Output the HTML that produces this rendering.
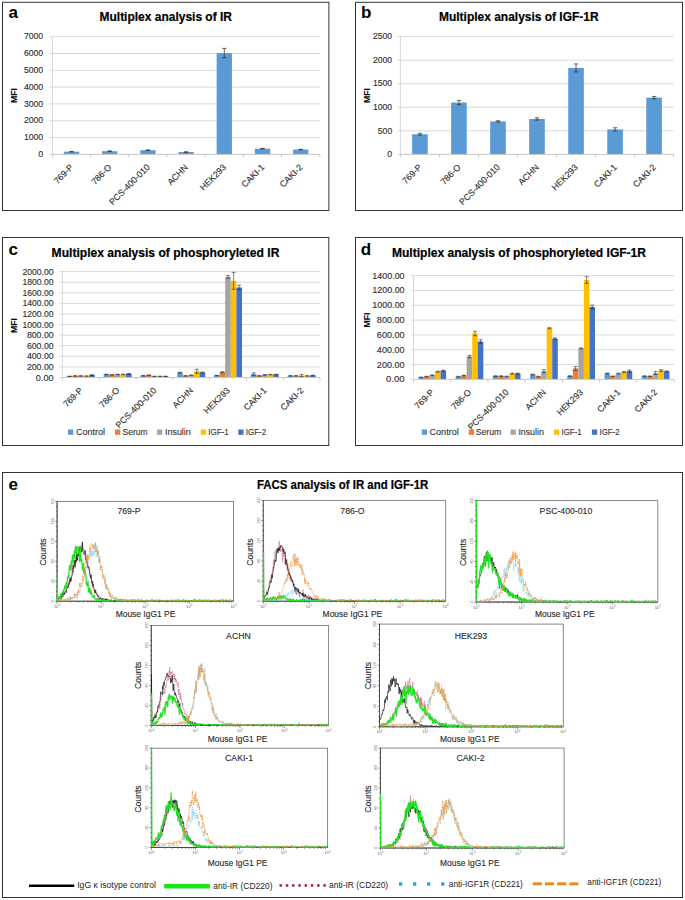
<!DOCTYPE html>
<html><head><meta charset="utf-8"><style>
html,body{margin:0;padding:0;background:#fff;}
body{width:685px;height:900px;overflow:hidden;font-family:"Liberation Sans", sans-serif;}
svg{display:block;}
</style></head><body>
<svg width="685" height="900" viewBox="0 0 685 900" style="font-family:&quot;Liberation Sans&quot;, sans-serif">
<rect x="0.00" y="0.00" width="685.00" height="900.00" fill="#fff"/>
<rect x="2.50" y="2.30" width="326.40" height="208.20" fill="none" stroke="#333" stroke-width="1.0"/>
<text x="8.50" y="18.00" font-size="17" font-weight="bold">a</text>
<text x="99.50" y="20.90" font-size="12" stroke="#000" stroke-width="0.2" font-weight="bold" textLength="132.50" lengthAdjust="spacingAndGlyphs">Multiplex analysis of IR</text>
<text x="14.20" y="95.60" font-size="8.7" font-weight="bold" text-anchor="middle" transform="rotate(-90 14.20 95.60)" dominant-baseline="central">MFI</text>
<line x1="49.40" y1="154.40" x2="52.40" y2="154.40" stroke="#d9d9d9" stroke-width="1"/>
<text x="43.20" y="157.15" font-size="9" stroke="#333" stroke-width="0.15" text-anchor="end" fill="#333" textLength="4.90" lengthAdjust="spacingAndGlyphs">0</text>
<line x1="49.40" y1="137.57" x2="319.80" y2="137.57" stroke="#d9d9d9" stroke-width="1"/>
<text x="43.20" y="140.32" font-size="9" stroke="#333" stroke-width="0.15" text-anchor="end" fill="#333" textLength="19.30" lengthAdjust="spacingAndGlyphs">1000</text>
<line x1="49.40" y1="120.74" x2="319.80" y2="120.74" stroke="#d9d9d9" stroke-width="1"/>
<text x="43.20" y="123.49" font-size="9" stroke="#333" stroke-width="0.15" text-anchor="end" fill="#333" textLength="19.30" lengthAdjust="spacingAndGlyphs">2000</text>
<line x1="49.40" y1="103.91" x2="319.80" y2="103.91" stroke="#d9d9d9" stroke-width="1"/>
<text x="43.20" y="106.66" font-size="9" stroke="#333" stroke-width="0.15" text-anchor="end" fill="#333" textLength="19.30" lengthAdjust="spacingAndGlyphs">3000</text>
<line x1="49.40" y1="87.09" x2="319.80" y2="87.09" stroke="#d9d9d9" stroke-width="1"/>
<text x="43.20" y="89.84" font-size="9" stroke="#333" stroke-width="0.15" text-anchor="end" fill="#333" textLength="19.30" lengthAdjust="spacingAndGlyphs">4000</text>
<line x1="49.40" y1="70.26" x2="319.80" y2="70.26" stroke="#d9d9d9" stroke-width="1"/>
<text x="43.20" y="73.01" font-size="9" stroke="#333" stroke-width="0.15" text-anchor="end" fill="#333" textLength="19.30" lengthAdjust="spacingAndGlyphs">5000</text>
<line x1="49.40" y1="53.43" x2="319.80" y2="53.43" stroke="#d9d9d9" stroke-width="1"/>
<text x="43.20" y="56.18" font-size="9" stroke="#333" stroke-width="0.15" text-anchor="end" fill="#333" textLength="19.30" lengthAdjust="spacingAndGlyphs">6000</text>
<line x1="49.40" y1="36.60" x2="319.80" y2="36.60" stroke="#d9d9d9" stroke-width="1"/>
<text x="43.20" y="39.35" font-size="9" stroke="#333" stroke-width="0.15" text-anchor="end" fill="#333" textLength="19.30" lengthAdjust="spacingAndGlyphs">7000</text>
<line x1="52.40" y1="36.60" x2="52.40" y2="154.40" stroke="#d9d9d9" stroke-width="1"/>
<rect x="63.85" y="151.71" width="15.30" height="2.69" fill="#5b9bd5"/>
<line x1="71.50" y1="151.46" x2="71.50" y2="151.96" stroke="#2a2a2a" stroke-width="0.7"/>
<line x1="69.30" y1="151.46" x2="73.70" y2="151.46" stroke="#2a2a2a" stroke-width="0.7"/>
<line x1="69.30" y1="151.96" x2="73.70" y2="151.96" stroke="#2a2a2a" stroke-width="0.7"/>
<rect x="102.05" y="151.20" width="15.30" height="3.20" fill="#5b9bd5"/>
<line x1="109.70" y1="150.95" x2="109.70" y2="151.46" stroke="#2a2a2a" stroke-width="0.7"/>
<line x1="107.50" y1="150.95" x2="111.90" y2="150.95" stroke="#2a2a2a" stroke-width="0.7"/>
<line x1="107.50" y1="151.46" x2="111.90" y2="151.46" stroke="#2a2a2a" stroke-width="0.7"/>
<rect x="140.25" y="150.19" width="15.30" height="4.21" fill="#5b9bd5"/>
<line x1="147.90" y1="149.94" x2="147.90" y2="150.45" stroke="#2a2a2a" stroke-width="0.7"/>
<line x1="145.70" y1="149.94" x2="150.10" y2="149.94" stroke="#2a2a2a" stroke-width="0.7"/>
<line x1="145.70" y1="150.45" x2="150.10" y2="150.45" stroke="#2a2a2a" stroke-width="0.7"/>
<rect x="178.45" y="152.04" width="15.30" height="2.36" fill="#5b9bd5"/>
<line x1="186.10" y1="151.79" x2="186.10" y2="152.30" stroke="#2a2a2a" stroke-width="0.7"/>
<line x1="183.90" y1="151.79" x2="188.30" y2="151.79" stroke="#2a2a2a" stroke-width="0.7"/>
<line x1="183.90" y1="152.30" x2="188.30" y2="152.30" stroke="#2a2a2a" stroke-width="0.7"/>
<rect x="216.65" y="53.09" width="15.30" height="101.31" fill="#5b9bd5"/>
<line x1="224.30" y1="48.38" x2="224.30" y2="57.80" stroke="#2a2a2a" stroke-width="0.7"/>
<line x1="222.10" y1="48.38" x2="226.50" y2="48.38" stroke="#2a2a2a" stroke-width="0.7"/>
<line x1="222.10" y1="57.80" x2="226.50" y2="57.80" stroke="#2a2a2a" stroke-width="0.7"/>
<rect x="254.85" y="148.68" width="15.30" height="5.72" fill="#5b9bd5"/>
<line x1="262.50" y1="148.34" x2="262.50" y2="149.01" stroke="#2a2a2a" stroke-width="0.7"/>
<line x1="260.30" y1="148.34" x2="264.70" y2="148.34" stroke="#2a2a2a" stroke-width="0.7"/>
<line x1="260.30" y1="149.01" x2="264.70" y2="149.01" stroke="#2a2a2a" stroke-width="0.7"/>
<rect x="293.05" y="149.52" width="15.30" height="4.88" fill="#5b9bd5"/>
<line x1="300.70" y1="149.27" x2="300.70" y2="149.77" stroke="#2a2a2a" stroke-width="0.7"/>
<line x1="298.50" y1="149.27" x2="302.90" y2="149.27" stroke="#2a2a2a" stroke-width="0.7"/>
<line x1="298.50" y1="149.77" x2="302.90" y2="149.77" stroke="#2a2a2a" stroke-width="0.7"/>
<line x1="52.40" y1="154.40" x2="319.80" y2="154.40" stroke="#c8c8c8" stroke-width="1"/>
<line x1="52.40" y1="154.40" x2="52.40" y2="157.40" stroke="#c8c8c8" stroke-width="1"/>
<line x1="90.60" y1="154.40" x2="90.60" y2="157.40" stroke="#c8c8c8" stroke-width="1"/>
<line x1="128.80" y1="154.40" x2="128.80" y2="157.40" stroke="#c8c8c8" stroke-width="1"/>
<line x1="167.00" y1="154.40" x2="167.00" y2="157.40" stroke="#c8c8c8" stroke-width="1"/>
<line x1="205.20" y1="154.40" x2="205.20" y2="157.40" stroke="#c8c8c8" stroke-width="1"/>
<line x1="243.40" y1="154.40" x2="243.40" y2="157.40" stroke="#c8c8c8" stroke-width="1"/>
<line x1="281.60" y1="154.40" x2="281.60" y2="157.40" stroke="#c8c8c8" stroke-width="1"/>
<line x1="319.80" y1="154.40" x2="319.80" y2="157.40" stroke="#c8c8c8" stroke-width="1"/>
<text x="74.00" y="167.90" font-size="8.8" stroke="#333" stroke-width="0.15" text-anchor="end" fill="#333" transform="rotate(-45 74.00 167.90)">769-P</text>
<text x="112.20" y="167.90" font-size="8.8" stroke="#333" stroke-width="0.15" text-anchor="end" fill="#333" transform="rotate(-45 112.20 167.90)">786-O</text>
<text x="150.40" y="167.90" font-size="8.8" stroke="#333" stroke-width="0.15" text-anchor="end" fill="#333" transform="rotate(-45 150.40 167.90)">PCS-400-010</text>
<text x="188.60" y="167.90" font-size="8.8" stroke="#333" stroke-width="0.15" text-anchor="end" fill="#333" transform="rotate(-45 188.60 167.90)">ACHN</text>
<text x="226.80" y="167.90" font-size="8.8" stroke="#333" stroke-width="0.15" text-anchor="end" fill="#333" transform="rotate(-45 226.80 167.90)">HEK293</text>
<text x="265.00" y="167.90" font-size="8.8" stroke="#333" stroke-width="0.15" text-anchor="end" fill="#333" transform="rotate(-45 265.00 167.90)">CAKI-1</text>
<text x="303.20" y="167.90" font-size="8.8" stroke="#333" stroke-width="0.15" text-anchor="end" fill="#333" transform="rotate(-45 303.20 167.90)">CAKI-2</text>
<rect x="355.50" y="2.30" width="327.00" height="208.20" fill="none" stroke="#333" stroke-width="1.0"/>
<text x="361.00" y="18.00" font-size="17" font-weight="bold">b</text>
<text x="439.00" y="20.90" font-size="12" stroke="#000" stroke-width="0.2" font-weight="bold" textLength="159.60" lengthAdjust="spacingAndGlyphs">Multiplex analysis of IGF-1R</text>
<text x="366.60" y="95.60" font-size="8.7" font-weight="bold" text-anchor="middle" transform="rotate(-90 366.60 95.60)" dominant-baseline="central">MFI</text>
<line x1="397.40" y1="154.40" x2="400.40" y2="154.40" stroke="#d9d9d9" stroke-width="1"/>
<text x="392.20" y="157.15" font-size="9" stroke="#333" stroke-width="0.15" text-anchor="end" fill="#333" textLength="4.90" lengthAdjust="spacingAndGlyphs">0</text>
<line x1="397.40" y1="130.84" x2="673.60" y2="130.84" stroke="#d9d9d9" stroke-width="1"/>
<text x="392.20" y="133.59" font-size="9" stroke="#333" stroke-width="0.15" text-anchor="end" fill="#333" textLength="14.40" lengthAdjust="spacingAndGlyphs">500</text>
<line x1="397.40" y1="107.28" x2="673.60" y2="107.28" stroke="#d9d9d9" stroke-width="1"/>
<text x="392.20" y="110.03" font-size="9" stroke="#333" stroke-width="0.15" text-anchor="end" fill="#333" textLength="19.30" lengthAdjust="spacingAndGlyphs">1000</text>
<line x1="397.40" y1="83.72" x2="673.60" y2="83.72" stroke="#d9d9d9" stroke-width="1"/>
<text x="392.20" y="86.47" font-size="9" stroke="#333" stroke-width="0.15" text-anchor="end" fill="#333" textLength="19.30" lengthAdjust="spacingAndGlyphs">1500</text>
<line x1="397.40" y1="60.16" x2="673.60" y2="60.16" stroke="#d9d9d9" stroke-width="1"/>
<text x="392.20" y="62.91" font-size="9" stroke="#333" stroke-width="0.15" text-anchor="end" fill="#333" textLength="19.30" lengthAdjust="spacingAndGlyphs">2000</text>
<line x1="397.40" y1="36.60" x2="673.60" y2="36.60" stroke="#d9d9d9" stroke-width="1"/>
<text x="392.20" y="39.35" font-size="9" stroke="#333" stroke-width="0.15" text-anchor="end" fill="#333" textLength="19.30" lengthAdjust="spacingAndGlyphs">2500</text>
<line x1="400.40" y1="36.60" x2="400.40" y2="154.40" stroke="#d9d9d9" stroke-width="1"/>
<rect x="412.11" y="134.23" width="15.60" height="20.17" fill="#5b9bd5"/>
<line x1="419.91" y1="133.29" x2="419.91" y2="135.18" stroke="#2a2a2a" stroke-width="0.7"/>
<line x1="417.71" y1="133.29" x2="422.11" y2="133.29" stroke="#2a2a2a" stroke-width="0.7"/>
<line x1="417.71" y1="135.18" x2="422.11" y2="135.18" stroke="#2a2a2a" stroke-width="0.7"/>
<rect x="451.14" y="102.57" width="15.60" height="51.83" fill="#5b9bd5"/>
<line x1="458.94" y1="100.45" x2="458.94" y2="104.69" stroke="#2a2a2a" stroke-width="0.7"/>
<line x1="456.74" y1="100.45" x2="461.14" y2="100.45" stroke="#2a2a2a" stroke-width="0.7"/>
<line x1="456.74" y1="104.69" x2="461.14" y2="104.69" stroke="#2a2a2a" stroke-width="0.7"/>
<rect x="490.17" y="121.42" width="15.60" height="32.98" fill="#5b9bd5"/>
<line x1="497.97" y1="120.71" x2="497.97" y2="122.12" stroke="#2a2a2a" stroke-width="0.7"/>
<line x1="495.77" y1="120.71" x2="500.17" y2="120.71" stroke="#2a2a2a" stroke-width="0.7"/>
<line x1="495.77" y1="122.12" x2="500.17" y2="122.12" stroke="#2a2a2a" stroke-width="0.7"/>
<rect x="529.20" y="118.97" width="15.60" height="35.43" fill="#5b9bd5"/>
<line x1="537.00" y1="117.79" x2="537.00" y2="120.14" stroke="#2a2a2a" stroke-width="0.7"/>
<line x1="534.80" y1="117.79" x2="539.20" y2="117.79" stroke="#2a2a2a" stroke-width="0.7"/>
<line x1="534.80" y1="120.14" x2="539.20" y2="120.14" stroke="#2a2a2a" stroke-width="0.7"/>
<rect x="568.23" y="67.93" width="15.60" height="86.47" fill="#5b9bd5"/>
<line x1="576.03" y1="63.93" x2="576.03" y2="71.94" stroke="#2a2a2a" stroke-width="0.7"/>
<line x1="573.83" y1="63.93" x2="578.23" y2="63.93" stroke="#2a2a2a" stroke-width="0.7"/>
<line x1="573.83" y1="71.94" x2="578.23" y2="71.94" stroke="#2a2a2a" stroke-width="0.7"/>
<rect x="607.26" y="129.43" width="15.60" height="24.97" fill="#5b9bd5"/>
<line x1="615.06" y1="127.78" x2="615.06" y2="131.08" stroke="#2a2a2a" stroke-width="0.7"/>
<line x1="612.86" y1="127.78" x2="617.26" y2="127.78" stroke="#2a2a2a" stroke-width="0.7"/>
<line x1="612.86" y1="131.08" x2="617.26" y2="131.08" stroke="#2a2a2a" stroke-width="0.7"/>
<rect x="646.29" y="97.62" width="15.60" height="56.78" fill="#5b9bd5"/>
<line x1="654.09" y1="96.44" x2="654.09" y2="98.80" stroke="#2a2a2a" stroke-width="0.7"/>
<line x1="651.89" y1="96.44" x2="656.29" y2="96.44" stroke="#2a2a2a" stroke-width="0.7"/>
<line x1="651.89" y1="98.80" x2="656.29" y2="98.80" stroke="#2a2a2a" stroke-width="0.7"/>
<line x1="400.40" y1="154.40" x2="673.60" y2="154.40" stroke="#c8c8c8" stroke-width="1"/>
<line x1="400.40" y1="154.40" x2="400.40" y2="157.40" stroke="#c8c8c8" stroke-width="1"/>
<line x1="439.43" y1="154.40" x2="439.43" y2="157.40" stroke="#c8c8c8" stroke-width="1"/>
<line x1="478.46" y1="154.40" x2="478.46" y2="157.40" stroke="#c8c8c8" stroke-width="1"/>
<line x1="517.49" y1="154.40" x2="517.49" y2="157.40" stroke="#c8c8c8" stroke-width="1"/>
<line x1="556.51" y1="154.40" x2="556.51" y2="157.40" stroke="#c8c8c8" stroke-width="1"/>
<line x1="595.54" y1="154.40" x2="595.54" y2="157.40" stroke="#c8c8c8" stroke-width="1"/>
<line x1="634.57" y1="154.40" x2="634.57" y2="157.40" stroke="#c8c8c8" stroke-width="1"/>
<line x1="673.60" y1="154.40" x2="673.60" y2="157.40" stroke="#c8c8c8" stroke-width="1"/>
<text x="422.41" y="167.90" font-size="8.8" stroke="#333" stroke-width="0.15" text-anchor="end" fill="#333" transform="rotate(-45 422.41 167.90)">769-P</text>
<text x="461.44" y="167.90" font-size="8.8" stroke="#333" stroke-width="0.15" text-anchor="end" fill="#333" transform="rotate(-45 461.44 167.90)">786-O</text>
<text x="500.47" y="167.90" font-size="8.8" stroke="#333" stroke-width="0.15" text-anchor="end" fill="#333" transform="rotate(-45 500.47 167.90)">PCS-400-010</text>
<text x="539.50" y="167.90" font-size="8.8" stroke="#333" stroke-width="0.15" text-anchor="end" fill="#333" transform="rotate(-45 539.50 167.90)">ACHN</text>
<text x="578.53" y="167.90" font-size="8.8" stroke="#333" stroke-width="0.15" text-anchor="end" fill="#333" transform="rotate(-45 578.53 167.90)">HEK293</text>
<text x="617.56" y="167.90" font-size="8.8" stroke="#333" stroke-width="0.15" text-anchor="end" fill="#333" transform="rotate(-45 617.56 167.90)">CAKI-1</text>
<text x="656.59" y="167.90" font-size="8.8" stroke="#333" stroke-width="0.15" text-anchor="end" fill="#333" transform="rotate(-45 656.59 167.90)">CAKI-2</text>
<rect x="2.50" y="237.50" width="326.30" height="208.00" fill="none" stroke="#333" stroke-width="1.0"/>
<text x="8.50" y="255.00" font-size="17" font-weight="bold">c</text>
<text x="51.60" y="256.60" font-size="12" stroke="#000" stroke-width="0.2" font-weight="bold" textLength="227.80" lengthAdjust="spacingAndGlyphs">Multiplex analysis of phosphoryleted IR</text>
<text x="14.20" y="325.60" font-size="8.7" font-weight="bold" text-anchor="middle" transform="rotate(-90 14.20 325.60)" dominant-baseline="central">MFI</text>
<line x1="59.40" y1="377.50" x2="62.40" y2="377.50" stroke="#d9d9d9" stroke-width="1"/>
<text x="53.60" y="380.50" font-size="8.8" stroke="#333" stroke-width="0.15" text-anchor="end" fill="#333" textLength="17.78" lengthAdjust="spacingAndGlyphs">0.00</text>
<line x1="59.40" y1="366.91" x2="320.00" y2="366.91" stroke="#d9d9d9" stroke-width="1"/>
<text x="53.60" y="369.91" font-size="8.8" stroke="#333" stroke-width="0.15" text-anchor="end" fill="#333" textLength="26.72" lengthAdjust="spacingAndGlyphs">200.00</text>
<line x1="59.40" y1="356.32" x2="320.00" y2="356.32" stroke="#d9d9d9" stroke-width="1"/>
<text x="53.60" y="359.32" font-size="8.8" stroke="#333" stroke-width="0.15" text-anchor="end" fill="#333" textLength="26.72" lengthAdjust="spacingAndGlyphs">400.00</text>
<line x1="59.40" y1="345.73" x2="320.00" y2="345.73" stroke="#d9d9d9" stroke-width="1"/>
<text x="53.60" y="348.73" font-size="8.8" stroke="#333" stroke-width="0.15" text-anchor="end" fill="#333" textLength="26.72" lengthAdjust="spacingAndGlyphs">600.00</text>
<line x1="59.40" y1="335.14" x2="320.00" y2="335.14" stroke="#d9d9d9" stroke-width="1"/>
<text x="53.60" y="338.14" font-size="8.8" stroke="#333" stroke-width="0.15" text-anchor="end" fill="#333" textLength="26.72" lengthAdjust="spacingAndGlyphs">800.00</text>
<line x1="59.40" y1="324.55" x2="320.00" y2="324.55" stroke="#d9d9d9" stroke-width="1"/>
<text x="53.60" y="327.55" font-size="8.8" stroke="#333" stroke-width="0.15" text-anchor="end" fill="#333" textLength="31.19" lengthAdjust="spacingAndGlyphs">1000.00</text>
<line x1="59.40" y1="313.96" x2="320.00" y2="313.96" stroke="#d9d9d9" stroke-width="1"/>
<text x="53.60" y="316.96" font-size="8.8" stroke="#333" stroke-width="0.15" text-anchor="end" fill="#333" textLength="31.19" lengthAdjust="spacingAndGlyphs">1200.00</text>
<line x1="59.40" y1="303.37" x2="320.00" y2="303.37" stroke="#d9d9d9" stroke-width="1"/>
<text x="53.60" y="306.37" font-size="8.8" stroke="#333" stroke-width="0.15" text-anchor="end" fill="#333" textLength="31.19" lengthAdjust="spacingAndGlyphs">1400.00</text>
<line x1="59.40" y1="292.78" x2="320.00" y2="292.78" stroke="#d9d9d9" stroke-width="1"/>
<text x="53.60" y="295.78" font-size="8.8" stroke="#333" stroke-width="0.15" text-anchor="end" fill="#333" textLength="31.19" lengthAdjust="spacingAndGlyphs">1600.00</text>
<line x1="59.40" y1="282.19" x2="320.00" y2="282.19" stroke="#d9d9d9" stroke-width="1"/>
<text x="53.60" y="285.19" font-size="8.8" stroke="#333" stroke-width="0.15" text-anchor="end" fill="#333" textLength="31.19" lengthAdjust="spacingAndGlyphs">1800.00</text>
<line x1="59.40" y1="271.60" x2="320.00" y2="271.60" stroke="#d9d9d9" stroke-width="1"/>
<text x="53.60" y="274.60" font-size="8.8" stroke="#333" stroke-width="0.15" text-anchor="end" fill="#333" textLength="31.19" lengthAdjust="spacingAndGlyphs">2000.00</text>
<line x1="62.40" y1="271.60" x2="62.40" y2="377.50" stroke="#d9d9d9" stroke-width="1"/>
<rect x="66.80" y="376.34" width="5.60" height="1.16" fill="#5b9bd5"/>
<line x1="69.60" y1="376.18" x2="69.60" y2="376.49" stroke="#2a2a2a" stroke-width="0.6"/>
<line x1="67.60" y1="376.18" x2="71.60" y2="376.18" stroke="#2a2a2a" stroke-width="0.6"/>
<line x1="67.60" y1="376.49" x2="71.60" y2="376.49" stroke="#2a2a2a" stroke-width="0.6"/>
<rect x="72.40" y="375.91" width="5.60" height="1.59" fill="#ed7d31"/>
<line x1="75.20" y1="375.75" x2="75.20" y2="376.07" stroke="#2a2a2a" stroke-width="0.6"/>
<line x1="73.20" y1="375.75" x2="77.20" y2="375.75" stroke="#2a2a2a" stroke-width="0.6"/>
<line x1="73.20" y1="376.07" x2="77.20" y2="376.07" stroke="#2a2a2a" stroke-width="0.6"/>
<rect x="78.00" y="375.91" width="5.60" height="1.59" fill="#a5a5a5"/>
<line x1="80.80" y1="375.75" x2="80.80" y2="376.07" stroke="#2a2a2a" stroke-width="0.6"/>
<line x1="78.80" y1="375.75" x2="82.80" y2="375.75" stroke="#2a2a2a" stroke-width="0.6"/>
<line x1="78.80" y1="376.07" x2="82.80" y2="376.07" stroke="#2a2a2a" stroke-width="0.6"/>
<rect x="83.60" y="376.07" width="5.60" height="1.43" fill="#ffc000"/>
<line x1="86.40" y1="375.91" x2="86.40" y2="376.23" stroke="#2a2a2a" stroke-width="0.6"/>
<line x1="84.40" y1="375.91" x2="88.40" y2="375.91" stroke="#2a2a2a" stroke-width="0.6"/>
<line x1="84.40" y1="376.23" x2="88.40" y2="376.23" stroke="#2a2a2a" stroke-width="0.6"/>
<rect x="89.20" y="375.12" width="5.60" height="2.38" fill="#4472c4"/>
<line x1="92.00" y1="374.69" x2="92.00" y2="375.54" stroke="#2a2a2a" stroke-width="0.6"/>
<line x1="90.00" y1="374.69" x2="94.00" y2="374.69" stroke="#2a2a2a" stroke-width="0.6"/>
<line x1="90.00" y1="375.54" x2="94.00" y2="375.54" stroke="#2a2a2a" stroke-width="0.6"/>
<rect x="103.60" y="374.43" width="5.60" height="3.07" fill="#5b9bd5"/>
<line x1="106.40" y1="374.16" x2="106.40" y2="374.69" stroke="#2a2a2a" stroke-width="0.6"/>
<line x1="104.40" y1="374.16" x2="108.40" y2="374.16" stroke="#2a2a2a" stroke-width="0.6"/>
<line x1="104.40" y1="374.69" x2="108.40" y2="374.69" stroke="#2a2a2a" stroke-width="0.6"/>
<rect x="109.20" y="374.85" width="5.60" height="2.65" fill="#ed7d31"/>
<line x1="112.00" y1="374.59" x2="112.00" y2="375.12" stroke="#2a2a2a" stroke-width="0.6"/>
<line x1="110.00" y1="374.59" x2="114.00" y2="374.59" stroke="#2a2a2a" stroke-width="0.6"/>
<line x1="110.00" y1="375.12" x2="114.00" y2="375.12" stroke="#2a2a2a" stroke-width="0.6"/>
<rect x="114.80" y="374.43" width="5.60" height="3.07" fill="#a5a5a5"/>
<line x1="117.60" y1="374.16" x2="117.60" y2="374.69" stroke="#2a2a2a" stroke-width="0.6"/>
<line x1="115.60" y1="374.16" x2="119.60" y2="374.16" stroke="#2a2a2a" stroke-width="0.6"/>
<line x1="115.60" y1="374.69" x2="119.60" y2="374.69" stroke="#2a2a2a" stroke-width="0.6"/>
<rect x="120.40" y="374.43" width="5.60" height="3.07" fill="#ffc000"/>
<line x1="123.20" y1="374.16" x2="123.20" y2="374.69" stroke="#2a2a2a" stroke-width="0.6"/>
<line x1="121.20" y1="374.16" x2="125.20" y2="374.16" stroke="#2a2a2a" stroke-width="0.6"/>
<line x1="121.20" y1="374.69" x2="125.20" y2="374.69" stroke="#2a2a2a" stroke-width="0.6"/>
<rect x="126.00" y="373.79" width="5.60" height="3.71" fill="#4472c4"/>
<line x1="128.80" y1="373.53" x2="128.80" y2="374.06" stroke="#2a2a2a" stroke-width="0.6"/>
<line x1="126.80" y1="373.53" x2="130.80" y2="373.53" stroke="#2a2a2a" stroke-width="0.6"/>
<line x1="126.80" y1="374.06" x2="130.80" y2="374.06" stroke="#2a2a2a" stroke-width="0.6"/>
<rect x="140.40" y="375.75" width="5.60" height="1.75" fill="#5b9bd5"/>
<line x1="143.20" y1="375.59" x2="143.20" y2="375.91" stroke="#2a2a2a" stroke-width="0.6"/>
<line x1="141.20" y1="375.59" x2="145.20" y2="375.59" stroke="#2a2a2a" stroke-width="0.6"/>
<line x1="141.20" y1="375.91" x2="145.20" y2="375.91" stroke="#2a2a2a" stroke-width="0.6"/>
<rect x="146.00" y="375.12" width="5.60" height="2.38" fill="#ed7d31"/>
<line x1="148.80" y1="374.96" x2="148.80" y2="375.28" stroke="#2a2a2a" stroke-width="0.6"/>
<line x1="146.80" y1="374.96" x2="150.80" y2="374.96" stroke="#2a2a2a" stroke-width="0.6"/>
<line x1="146.80" y1="375.28" x2="150.80" y2="375.28" stroke="#2a2a2a" stroke-width="0.6"/>
<rect x="151.60" y="376.34" width="5.60" height="1.16" fill="#a5a5a5"/>
<line x1="154.40" y1="376.23" x2="154.40" y2="376.44" stroke="#2a2a2a" stroke-width="0.6"/>
<line x1="152.40" y1="376.23" x2="156.40" y2="376.23" stroke="#2a2a2a" stroke-width="0.6"/>
<line x1="152.40" y1="376.44" x2="156.40" y2="376.44" stroke="#2a2a2a" stroke-width="0.6"/>
<rect x="157.20" y="376.34" width="5.60" height="1.16" fill="#ffc000"/>
<line x1="160.00" y1="376.23" x2="160.00" y2="376.44" stroke="#2a2a2a" stroke-width="0.6"/>
<line x1="158.00" y1="376.23" x2="162.00" y2="376.23" stroke="#2a2a2a" stroke-width="0.6"/>
<line x1="158.00" y1="376.44" x2="162.00" y2="376.44" stroke="#2a2a2a" stroke-width="0.6"/>
<rect x="162.80" y="376.34" width="5.60" height="1.16" fill="#4472c4"/>
<line x1="165.60" y1="376.23" x2="165.60" y2="376.44" stroke="#2a2a2a" stroke-width="0.6"/>
<line x1="163.60" y1="376.23" x2="167.60" y2="376.23" stroke="#2a2a2a" stroke-width="0.6"/>
<line x1="163.60" y1="376.44" x2="167.60" y2="376.44" stroke="#2a2a2a" stroke-width="0.6"/>
<rect x="177.20" y="372.63" width="5.60" height="4.87" fill="#5b9bd5"/>
<line x1="180.00" y1="372.20" x2="180.00" y2="373.05" stroke="#2a2a2a" stroke-width="0.6"/>
<line x1="178.00" y1="372.20" x2="182.00" y2="372.20" stroke="#2a2a2a" stroke-width="0.6"/>
<line x1="178.00" y1="373.05" x2="182.00" y2="373.05" stroke="#2a2a2a" stroke-width="0.6"/>
<rect x="182.80" y="375.81" width="5.60" height="1.69" fill="#ed7d31"/>
<line x1="185.60" y1="375.65" x2="185.60" y2="375.96" stroke="#2a2a2a" stroke-width="0.6"/>
<line x1="183.60" y1="375.65" x2="187.60" y2="375.65" stroke="#2a2a2a" stroke-width="0.6"/>
<line x1="183.60" y1="375.96" x2="187.60" y2="375.96" stroke="#2a2a2a" stroke-width="0.6"/>
<rect x="188.40" y="375.22" width="5.60" height="2.28" fill="#a5a5a5"/>
<line x1="191.20" y1="375.06" x2="191.20" y2="375.38" stroke="#2a2a2a" stroke-width="0.6"/>
<line x1="189.20" y1="375.06" x2="193.20" y2="375.06" stroke="#2a2a2a" stroke-width="0.6"/>
<line x1="189.20" y1="375.38" x2="193.20" y2="375.38" stroke="#2a2a2a" stroke-width="0.6"/>
<rect x="194.00" y="371.25" width="5.60" height="6.25" fill="#ffc000"/>
<line x1="196.80" y1="369.24" x2="196.80" y2="373.26" stroke="#2a2a2a" stroke-width="0.6"/>
<line x1="194.80" y1="369.24" x2="198.80" y2="369.24" stroke="#2a2a2a" stroke-width="0.6"/>
<line x1="194.80" y1="373.26" x2="198.80" y2="373.26" stroke="#2a2a2a" stroke-width="0.6"/>
<rect x="199.60" y="372.47" width="5.60" height="5.03" fill="#4472c4"/>
<line x1="202.40" y1="372.05" x2="202.40" y2="372.89" stroke="#2a2a2a" stroke-width="0.6"/>
<line x1="200.40" y1="372.05" x2="204.40" y2="372.05" stroke="#2a2a2a" stroke-width="0.6"/>
<line x1="200.40" y1="372.89" x2="204.40" y2="372.89" stroke="#2a2a2a" stroke-width="0.6"/>
<rect x="214.00" y="375.49" width="5.60" height="2.01" fill="#5b9bd5"/>
<line x1="216.80" y1="375.33" x2="216.80" y2="375.65" stroke="#2a2a2a" stroke-width="0.6"/>
<line x1="214.80" y1="375.33" x2="218.80" y2="375.33" stroke="#2a2a2a" stroke-width="0.6"/>
<line x1="214.80" y1="375.65" x2="218.80" y2="375.65" stroke="#2a2a2a" stroke-width="0.6"/>
<rect x="219.60" y="372.20" width="5.60" height="5.29" fill="#ed7d31"/>
<line x1="222.40" y1="371.68" x2="222.40" y2="372.73" stroke="#2a2a2a" stroke-width="0.6"/>
<line x1="220.40" y1="371.68" x2="224.40" y2="371.68" stroke="#2a2a2a" stroke-width="0.6"/>
<line x1="220.40" y1="372.73" x2="224.40" y2="372.73" stroke="#2a2a2a" stroke-width="0.6"/>
<rect x="225.20" y="276.90" width="5.60" height="100.60" fill="#a5a5a5"/>
<line x1="228.00" y1="275.57" x2="228.00" y2="278.22" stroke="#2a2a2a" stroke-width="0.6"/>
<line x1="226.00" y1="275.57" x2="230.00" y2="275.57" stroke="#2a2a2a" stroke-width="0.6"/>
<line x1="226.00" y1="278.22" x2="230.00" y2="278.22" stroke="#2a2a2a" stroke-width="0.6"/>
<rect x="230.80" y="280.87" width="5.60" height="96.63" fill="#ffc000"/>
<line x1="233.60" y1="272.39" x2="233.60" y2="289.34" stroke="#2a2a2a" stroke-width="0.6"/>
<line x1="231.60" y1="272.39" x2="235.60" y2="272.39" stroke="#2a2a2a" stroke-width="0.6"/>
<line x1="231.60" y1="289.34" x2="235.60" y2="289.34" stroke="#2a2a2a" stroke-width="0.6"/>
<rect x="236.40" y="287.49" width="5.60" height="90.01" fill="#4472c4"/>
<line x1="239.20" y1="285.10" x2="239.20" y2="289.87" stroke="#2a2a2a" stroke-width="0.6"/>
<line x1="237.20" y1="285.10" x2="241.20" y2="285.10" stroke="#2a2a2a" stroke-width="0.6"/>
<line x1="237.20" y1="289.87" x2="241.20" y2="289.87" stroke="#2a2a2a" stroke-width="0.6"/>
<rect x="250.80" y="374.22" width="5.60" height="3.28" fill="#5b9bd5"/>
<line x1="253.60" y1="372.89" x2="253.60" y2="375.54" stroke="#2a2a2a" stroke-width="0.6"/>
<line x1="251.60" y1="372.89" x2="255.60" y2="372.89" stroke="#2a2a2a" stroke-width="0.6"/>
<line x1="251.60" y1="375.54" x2="255.60" y2="375.54" stroke="#2a2a2a" stroke-width="0.6"/>
<rect x="256.40" y="375.81" width="5.60" height="1.69" fill="#ed7d31"/>
<line x1="259.20" y1="375.65" x2="259.20" y2="375.96" stroke="#2a2a2a" stroke-width="0.6"/>
<line x1="257.20" y1="375.65" x2="261.20" y2="375.65" stroke="#2a2a2a" stroke-width="0.6"/>
<line x1="257.20" y1="375.96" x2="261.20" y2="375.96" stroke="#2a2a2a" stroke-width="0.6"/>
<rect x="262.00" y="374.91" width="5.60" height="2.59" fill="#a5a5a5"/>
<line x1="264.80" y1="374.59" x2="264.80" y2="375.22" stroke="#2a2a2a" stroke-width="0.6"/>
<line x1="262.80" y1="374.59" x2="266.80" y2="374.59" stroke="#2a2a2a" stroke-width="0.6"/>
<line x1="262.80" y1="375.22" x2="266.80" y2="375.22" stroke="#2a2a2a" stroke-width="0.6"/>
<rect x="267.60" y="374.59" width="5.60" height="2.91" fill="#ffc000"/>
<line x1="270.40" y1="374.38" x2="270.40" y2="374.80" stroke="#2a2a2a" stroke-width="0.6"/>
<line x1="268.40" y1="374.38" x2="272.40" y2="374.38" stroke="#2a2a2a" stroke-width="0.6"/>
<line x1="268.40" y1="374.80" x2="272.40" y2="374.80" stroke="#2a2a2a" stroke-width="0.6"/>
<rect x="273.20" y="374.48" width="5.60" height="3.02" fill="#4472c4"/>
<line x1="276.00" y1="374.27" x2="276.00" y2="374.69" stroke="#2a2a2a" stroke-width="0.6"/>
<line x1="274.00" y1="374.27" x2="278.00" y2="374.27" stroke="#2a2a2a" stroke-width="0.6"/>
<line x1="274.00" y1="374.69" x2="278.00" y2="374.69" stroke="#2a2a2a" stroke-width="0.6"/>
<rect x="287.60" y="375.81" width="5.60" height="1.69" fill="#5b9bd5"/>
<line x1="290.40" y1="375.65" x2="290.40" y2="375.96" stroke="#2a2a2a" stroke-width="0.6"/>
<line x1="288.40" y1="375.65" x2="292.40" y2="375.65" stroke="#2a2a2a" stroke-width="0.6"/>
<line x1="288.40" y1="375.96" x2="292.40" y2="375.96" stroke="#2a2a2a" stroke-width="0.6"/>
<rect x="293.20" y="375.81" width="5.60" height="1.69" fill="#ed7d31"/>
<line x1="296.00" y1="375.65" x2="296.00" y2="375.96" stroke="#2a2a2a" stroke-width="0.6"/>
<line x1="294.00" y1="375.65" x2="298.00" y2="375.65" stroke="#2a2a2a" stroke-width="0.6"/>
<line x1="294.00" y1="375.96" x2="298.00" y2="375.96" stroke="#2a2a2a" stroke-width="0.6"/>
<rect x="298.80" y="375.59" width="5.60" height="1.91" fill="#a5a5a5"/>
<line x1="301.60" y1="374.43" x2="301.60" y2="376.76" stroke="#2a2a2a" stroke-width="0.6"/>
<line x1="299.60" y1="374.43" x2="303.60" y2="374.43" stroke="#2a2a2a" stroke-width="0.6"/>
<line x1="299.60" y1="376.76" x2="303.60" y2="376.76" stroke="#2a2a2a" stroke-width="0.6"/>
<rect x="304.40" y="375.91" width="5.60" height="1.59" fill="#ffc000"/>
<line x1="307.20" y1="375.75" x2="307.20" y2="376.07" stroke="#2a2a2a" stroke-width="0.6"/>
<line x1="305.20" y1="375.75" x2="309.20" y2="375.75" stroke="#2a2a2a" stroke-width="0.6"/>
<line x1="305.20" y1="376.07" x2="309.20" y2="376.07" stroke="#2a2a2a" stroke-width="0.6"/>
<rect x="310.00" y="375.49" width="5.60" height="2.01" fill="#4472c4"/>
<line x1="312.80" y1="375.22" x2="312.80" y2="375.75" stroke="#2a2a2a" stroke-width="0.6"/>
<line x1="310.80" y1="375.22" x2="314.80" y2="375.22" stroke="#2a2a2a" stroke-width="0.6"/>
<line x1="310.80" y1="375.75" x2="314.80" y2="375.75" stroke="#2a2a2a" stroke-width="0.6"/>
<line x1="62.40" y1="377.50" x2="320.00" y2="377.50" stroke="#c8c8c8" stroke-width="1"/>
<line x1="62.40" y1="377.50" x2="62.40" y2="380.50" stroke="#c8c8c8" stroke-width="1"/>
<line x1="99.20" y1="377.50" x2="99.20" y2="380.50" stroke="#c8c8c8" stroke-width="1"/>
<line x1="136.00" y1="377.50" x2="136.00" y2="380.50" stroke="#c8c8c8" stroke-width="1"/>
<line x1="172.80" y1="377.50" x2="172.80" y2="380.50" stroke="#c8c8c8" stroke-width="1"/>
<line x1="209.60" y1="377.50" x2="209.60" y2="380.50" stroke="#c8c8c8" stroke-width="1"/>
<line x1="246.40" y1="377.50" x2="246.40" y2="380.50" stroke="#c8c8c8" stroke-width="1"/>
<line x1="283.20" y1="377.50" x2="283.20" y2="380.50" stroke="#c8c8c8" stroke-width="1"/>
<line x1="320.00" y1="377.50" x2="320.00" y2="380.50" stroke="#c8c8c8" stroke-width="1"/>
<text x="83.30" y="391.00" font-size="8.8" stroke="#333" stroke-width="0.15" text-anchor="end" fill="#333" transform="rotate(-45 83.30 391.00)">769-P</text>
<text x="120.10" y="391.00" font-size="8.8" stroke="#333" stroke-width="0.15" text-anchor="end" fill="#333" transform="rotate(-45 120.10 391.00)">786-O</text>
<text x="156.90" y="391.00" font-size="8.8" stroke="#333" stroke-width="0.15" text-anchor="end" fill="#333" transform="rotate(-45 156.90 391.00)">PCS-400-010</text>
<text x="193.70" y="391.00" font-size="8.8" stroke="#333" stroke-width="0.15" text-anchor="end" fill="#333" transform="rotate(-45 193.70 391.00)">ACHN</text>
<text x="230.50" y="391.00" font-size="8.8" stroke="#333" stroke-width="0.15" text-anchor="end" fill="#333" transform="rotate(-45 230.50 391.00)">HEK293</text>
<text x="267.30" y="391.00" font-size="8.8" stroke="#333" stroke-width="0.15" text-anchor="end" fill="#333" transform="rotate(-45 267.30 391.00)">CAKI-1</text>
<text x="304.10" y="391.00" font-size="8.8" stroke="#333" stroke-width="0.15" text-anchor="end" fill="#333" transform="rotate(-45 304.10 391.00)">CAKI-2</text>
<rect x="68.00" y="429.50" width="5.30" height="5.30" fill="#5b9bd5"/>
<text x="76.00" y="435.20" font-size="9" stroke="#333" stroke-width="0.12" fill="#333" textLength="29.00" lengthAdjust="spacingAndGlyphs">Control</text>
<rect x="115.00" y="429.50" width="5.30" height="5.30" fill="#ed7d31"/>
<text x="122.50" y="435.20" font-size="9" stroke="#333" stroke-width="0.12" fill="#333" textLength="25.00" lengthAdjust="spacingAndGlyphs">Serum</text>
<rect x="157.00" y="429.50" width="5.30" height="5.30" fill="#a5a5a5"/>
<text x="165.00" y="435.20" font-size="9" stroke="#333" stroke-width="0.12" fill="#333" textLength="25.75" lengthAdjust="spacingAndGlyphs">Insulin</text>
<rect x="200.75" y="429.50" width="5.30" height="5.30" fill="#ffc000"/>
<text x="208.25" y="435.20" font-size="9" stroke="#333" stroke-width="0.12" fill="#333" textLength="20.50" lengthAdjust="spacingAndGlyphs">IGF-1</text>
<rect x="238.25" y="429.50" width="5.30" height="5.30" fill="#4472c4"/>
<text x="245.75" y="435.20" font-size="9" stroke="#333" stroke-width="0.12" fill="#333" textLength="20.50" lengthAdjust="spacingAndGlyphs">IGF-2</text>
<rect x="355.50" y="237.50" width="327.00" height="208.00" fill="none" stroke="#333" stroke-width="1.0"/>
<text x="360.70" y="255.00" font-size="17" font-weight="bold">d</text>
<text x="392.00" y="256.60" font-size="12" stroke="#000" stroke-width="0.2" font-weight="bold" textLength="254.00" lengthAdjust="spacingAndGlyphs">Multiplex analysis of phosphoryleted IGF-1R</text>
<text x="366.60" y="320.00" font-size="8.7" font-weight="bold" text-anchor="middle" transform="rotate(-90 366.60 320.00)" dominant-baseline="central">MFI</text>
<line x1="410.60" y1="379.40" x2="413.60" y2="379.40" stroke="#d9d9d9" stroke-width="1"/>
<text x="404.60" y="382.40" font-size="8.8" stroke="#333" stroke-width="0.15" text-anchor="end" fill="#333" textLength="18.46" lengthAdjust="spacingAndGlyphs">0.00</text>
<line x1="410.60" y1="364.57" x2="674.20" y2="364.57" stroke="#d9d9d9" stroke-width="1"/>
<text x="404.60" y="367.57" font-size="8.8" stroke="#333" stroke-width="0.15" text-anchor="end" fill="#333" textLength="27.74" lengthAdjust="spacingAndGlyphs">200.00</text>
<line x1="410.60" y1="349.74" x2="674.20" y2="349.74" stroke="#d9d9d9" stroke-width="1"/>
<text x="404.60" y="352.74" font-size="8.8" stroke="#333" stroke-width="0.15" text-anchor="end" fill="#333" textLength="27.74" lengthAdjust="spacingAndGlyphs">400.00</text>
<line x1="410.60" y1="334.91" x2="674.20" y2="334.91" stroke="#d9d9d9" stroke-width="1"/>
<text x="404.60" y="337.91" font-size="8.8" stroke="#333" stroke-width="0.15" text-anchor="end" fill="#333" textLength="27.74" lengthAdjust="spacingAndGlyphs">600.00</text>
<line x1="410.60" y1="320.09" x2="674.20" y2="320.09" stroke="#d9d9d9" stroke-width="1"/>
<text x="404.60" y="323.09" font-size="8.8" stroke="#333" stroke-width="0.15" text-anchor="end" fill="#333" textLength="27.74" lengthAdjust="spacingAndGlyphs">800.00</text>
<line x1="410.60" y1="305.26" x2="674.20" y2="305.26" stroke="#d9d9d9" stroke-width="1"/>
<text x="404.60" y="308.26" font-size="8.8" stroke="#333" stroke-width="0.15" text-anchor="end" fill="#333" textLength="32.38" lengthAdjust="spacingAndGlyphs">1000.00</text>
<line x1="410.60" y1="290.43" x2="674.20" y2="290.43" stroke="#d9d9d9" stroke-width="1"/>
<text x="404.60" y="293.43" font-size="8.8" stroke="#333" stroke-width="0.15" text-anchor="end" fill="#333" textLength="32.38" lengthAdjust="spacingAndGlyphs">1200.00</text>
<line x1="410.60" y1="275.60" x2="674.20" y2="275.60" stroke="#d9d9d9" stroke-width="1"/>
<text x="404.60" y="278.60" font-size="8.8" stroke="#333" stroke-width="0.15" text-anchor="end" fill="#333" textLength="32.38" lengthAdjust="spacingAndGlyphs">1400.00</text>
<line x1="413.60" y1="275.60" x2="413.60" y2="379.40" stroke="#d9d9d9" stroke-width="1"/>
<rect x="418.34" y="377.32" width="5.55" height="2.08" fill="#5b9bd5"/>
<line x1="421.11" y1="377.10" x2="421.11" y2="377.55" stroke="#2a2a2a" stroke-width="0.6"/>
<line x1="419.11" y1="377.10" x2="423.11" y2="377.10" stroke="#2a2a2a" stroke-width="0.6"/>
<line x1="419.11" y1="377.55" x2="423.11" y2="377.55" stroke="#2a2a2a" stroke-width="0.6"/>
<rect x="423.89" y="376.51" width="5.55" height="2.89" fill="#ed7d31"/>
<line x1="426.66" y1="376.29" x2="426.66" y2="376.73" stroke="#2a2a2a" stroke-width="0.6"/>
<line x1="424.66" y1="376.29" x2="428.66" y2="376.29" stroke="#2a2a2a" stroke-width="0.6"/>
<line x1="424.66" y1="376.73" x2="428.66" y2="376.73" stroke="#2a2a2a" stroke-width="0.6"/>
<rect x="429.44" y="375.25" width="5.55" height="4.15" fill="#a5a5a5"/>
<line x1="432.21" y1="374.95" x2="432.21" y2="375.54" stroke="#2a2a2a" stroke-width="0.6"/>
<line x1="430.21" y1="374.95" x2="434.21" y2="374.95" stroke="#2a2a2a" stroke-width="0.6"/>
<line x1="430.21" y1="375.54" x2="434.21" y2="375.54" stroke="#2a2a2a" stroke-width="0.6"/>
<rect x="434.99" y="371.69" width="5.55" height="7.71" fill="#ffc000"/>
<line x1="437.76" y1="371.24" x2="437.76" y2="372.13" stroke="#2a2a2a" stroke-width="0.6"/>
<line x1="435.76" y1="371.24" x2="439.76" y2="371.24" stroke="#2a2a2a" stroke-width="0.6"/>
<line x1="435.76" y1="372.13" x2="439.76" y2="372.13" stroke="#2a2a2a" stroke-width="0.6"/>
<rect x="440.54" y="370.65" width="5.55" height="8.75" fill="#4472c4"/>
<line x1="443.31" y1="370.21" x2="443.31" y2="371.10" stroke="#2a2a2a" stroke-width="0.6"/>
<line x1="441.31" y1="370.21" x2="445.31" y2="370.21" stroke="#2a2a2a" stroke-width="0.6"/>
<line x1="441.31" y1="371.10" x2="445.31" y2="371.10" stroke="#2a2a2a" stroke-width="0.6"/>
<rect x="455.57" y="376.66" width="5.55" height="2.74" fill="#5b9bd5"/>
<line x1="458.34" y1="376.36" x2="458.34" y2="376.95" stroke="#2a2a2a" stroke-width="0.6"/>
<line x1="456.34" y1="376.36" x2="460.34" y2="376.36" stroke="#2a2a2a" stroke-width="0.6"/>
<line x1="456.34" y1="376.95" x2="460.34" y2="376.95" stroke="#2a2a2a" stroke-width="0.6"/>
<rect x="461.12" y="375.54" width="5.55" height="3.86" fill="#ed7d31"/>
<line x1="463.89" y1="375.25" x2="463.89" y2="375.84" stroke="#2a2a2a" stroke-width="0.6"/>
<line x1="461.89" y1="375.25" x2="465.89" y2="375.25" stroke="#2a2a2a" stroke-width="0.6"/>
<line x1="461.89" y1="375.84" x2="465.89" y2="375.84" stroke="#2a2a2a" stroke-width="0.6"/>
<rect x="466.67" y="356.49" width="5.55" height="22.91" fill="#a5a5a5"/>
<line x1="469.44" y1="355.38" x2="469.44" y2="357.60" stroke="#2a2a2a" stroke-width="0.6"/>
<line x1="467.44" y1="355.38" x2="471.44" y2="355.38" stroke="#2a2a2a" stroke-width="0.6"/>
<line x1="467.44" y1="357.60" x2="471.44" y2="357.60" stroke="#2a2a2a" stroke-width="0.6"/>
<rect x="472.22" y="333.43" width="5.55" height="45.97" fill="#ffc000"/>
<line x1="474.99" y1="331.21" x2="474.99" y2="335.66" stroke="#2a2a2a" stroke-width="0.6"/>
<line x1="472.99" y1="331.21" x2="476.99" y2="331.21" stroke="#2a2a2a" stroke-width="0.6"/>
<line x1="472.99" y1="335.66" x2="476.99" y2="335.66" stroke="#2a2a2a" stroke-width="0.6"/>
<rect x="477.77" y="341.51" width="5.55" height="37.89" fill="#4472c4"/>
<line x1="480.54" y1="339.66" x2="480.54" y2="343.37" stroke="#2a2a2a" stroke-width="0.6"/>
<line x1="478.54" y1="339.66" x2="482.54" y2="339.66" stroke="#2a2a2a" stroke-width="0.6"/>
<line x1="478.54" y1="343.37" x2="482.54" y2="343.37" stroke="#2a2a2a" stroke-width="0.6"/>
<rect x="492.80" y="376.06" width="5.55" height="3.34" fill="#5b9bd5"/>
<line x1="495.57" y1="375.77" x2="495.57" y2="376.36" stroke="#2a2a2a" stroke-width="0.6"/>
<line x1="493.57" y1="375.77" x2="497.57" y2="375.77" stroke="#2a2a2a" stroke-width="0.6"/>
<line x1="493.57" y1="376.36" x2="497.57" y2="376.36" stroke="#2a2a2a" stroke-width="0.6"/>
<rect x="498.35" y="376.06" width="5.55" height="3.34" fill="#ed7d31"/>
<line x1="501.12" y1="375.77" x2="501.12" y2="376.36" stroke="#2a2a2a" stroke-width="0.6"/>
<line x1="499.12" y1="375.77" x2="503.12" y2="375.77" stroke="#2a2a2a" stroke-width="0.6"/>
<line x1="499.12" y1="376.36" x2="503.12" y2="376.36" stroke="#2a2a2a" stroke-width="0.6"/>
<rect x="503.90" y="376.43" width="5.55" height="2.97" fill="#a5a5a5"/>
<line x1="506.67" y1="376.14" x2="506.67" y2="376.73" stroke="#2a2a2a" stroke-width="0.6"/>
<line x1="504.67" y1="376.14" x2="508.67" y2="376.14" stroke="#2a2a2a" stroke-width="0.6"/>
<line x1="504.67" y1="376.73" x2="508.67" y2="376.73" stroke="#2a2a2a" stroke-width="0.6"/>
<rect x="509.45" y="373.62" width="5.55" height="5.78" fill="#ffc000"/>
<line x1="512.22" y1="373.17" x2="512.22" y2="374.06" stroke="#2a2a2a" stroke-width="0.6"/>
<line x1="510.22" y1="373.17" x2="514.22" y2="373.17" stroke="#2a2a2a" stroke-width="0.6"/>
<line x1="510.22" y1="374.06" x2="514.22" y2="374.06" stroke="#2a2a2a" stroke-width="0.6"/>
<rect x="515.00" y="373.62" width="5.55" height="5.78" fill="#4472c4"/>
<line x1="517.77" y1="373.17" x2="517.77" y2="374.06" stroke="#2a2a2a" stroke-width="0.6"/>
<line x1="515.77" y1="373.17" x2="519.77" y2="373.17" stroke="#2a2a2a" stroke-width="0.6"/>
<line x1="515.77" y1="374.06" x2="519.77" y2="374.06" stroke="#2a2a2a" stroke-width="0.6"/>
<rect x="530.03" y="374.58" width="5.55" height="4.82" fill="#5b9bd5"/>
<line x1="532.80" y1="374.21" x2="532.80" y2="374.95" stroke="#2a2a2a" stroke-width="0.6"/>
<line x1="530.80" y1="374.21" x2="534.80" y2="374.21" stroke="#2a2a2a" stroke-width="0.6"/>
<line x1="530.80" y1="374.95" x2="534.80" y2="374.95" stroke="#2a2a2a" stroke-width="0.6"/>
<rect x="535.58" y="376.58" width="5.55" height="2.82" fill="#ed7d31"/>
<line x1="538.35" y1="376.29" x2="538.35" y2="376.88" stroke="#2a2a2a" stroke-width="0.6"/>
<line x1="536.35" y1="376.29" x2="540.35" y2="376.29" stroke="#2a2a2a" stroke-width="0.6"/>
<line x1="536.35" y1="376.88" x2="540.35" y2="376.88" stroke="#2a2a2a" stroke-width="0.6"/>
<rect x="541.13" y="371.24" width="5.55" height="8.16" fill="#a5a5a5"/>
<line x1="543.90" y1="369.76" x2="543.90" y2="372.73" stroke="#2a2a2a" stroke-width="0.6"/>
<line x1="541.90" y1="369.76" x2="545.90" y2="369.76" stroke="#2a2a2a" stroke-width="0.6"/>
<line x1="541.90" y1="372.73" x2="545.90" y2="372.73" stroke="#2a2a2a" stroke-width="0.6"/>
<rect x="546.68" y="328.24" width="5.55" height="51.16" fill="#ffc000"/>
<line x1="549.45" y1="327.65" x2="549.45" y2="328.83" stroke="#2a2a2a" stroke-width="0.6"/>
<line x1="547.45" y1="327.65" x2="551.45" y2="327.65" stroke="#2a2a2a" stroke-width="0.6"/>
<line x1="547.45" y1="328.83" x2="551.45" y2="328.83" stroke="#2a2a2a" stroke-width="0.6"/>
<rect x="552.23" y="338.62" width="5.55" height="40.78" fill="#4472c4"/>
<line x1="555.00" y1="337.88" x2="555.00" y2="339.36" stroke="#2a2a2a" stroke-width="0.6"/>
<line x1="553.00" y1="337.88" x2="557.00" y2="337.88" stroke="#2a2a2a" stroke-width="0.6"/>
<line x1="553.00" y1="339.36" x2="557.00" y2="339.36" stroke="#2a2a2a" stroke-width="0.6"/>
<rect x="567.25" y="376.06" width="5.55" height="3.34" fill="#5b9bd5"/>
<line x1="570.03" y1="375.77" x2="570.03" y2="376.36" stroke="#2a2a2a" stroke-width="0.6"/>
<line x1="568.03" y1="375.77" x2="572.03" y2="375.77" stroke="#2a2a2a" stroke-width="0.6"/>
<line x1="568.03" y1="376.36" x2="572.03" y2="376.36" stroke="#2a2a2a" stroke-width="0.6"/>
<rect x="572.80" y="368.43" width="5.55" height="10.97" fill="#ed7d31"/>
<line x1="575.58" y1="366.57" x2="575.58" y2="370.28" stroke="#2a2a2a" stroke-width="0.6"/>
<line x1="573.58" y1="366.57" x2="577.58" y2="366.57" stroke="#2a2a2a" stroke-width="0.6"/>
<line x1="573.58" y1="370.28" x2="577.58" y2="370.28" stroke="#2a2a2a" stroke-width="0.6"/>
<rect x="578.35" y="348.41" width="5.55" height="30.99" fill="#a5a5a5"/>
<line x1="581.13" y1="347.96" x2="581.13" y2="348.85" stroke="#2a2a2a" stroke-width="0.6"/>
<line x1="579.13" y1="347.96" x2="583.13" y2="347.96" stroke="#2a2a2a" stroke-width="0.6"/>
<line x1="579.13" y1="348.85" x2="583.13" y2="348.85" stroke="#2a2a2a" stroke-width="0.6"/>
<rect x="583.90" y="280.05" width="5.55" height="99.35" fill="#ffc000"/>
<line x1="586.68" y1="276.71" x2="586.68" y2="283.38" stroke="#2a2a2a" stroke-width="0.6"/>
<line x1="584.68" y1="276.71" x2="588.68" y2="276.71" stroke="#2a2a2a" stroke-width="0.6"/>
<line x1="584.68" y1="283.38" x2="588.68" y2="283.38" stroke="#2a2a2a" stroke-width="0.6"/>
<rect x="589.45" y="306.96" width="5.55" height="72.44" fill="#4472c4"/>
<line x1="592.23" y1="305.11" x2="592.23" y2="308.82" stroke="#2a2a2a" stroke-width="0.6"/>
<line x1="590.23" y1="305.11" x2="594.23" y2="305.11" stroke="#2a2a2a" stroke-width="0.6"/>
<line x1="590.23" y1="308.82" x2="594.23" y2="308.82" stroke="#2a2a2a" stroke-width="0.6"/>
<rect x="604.48" y="373.47" width="5.55" height="5.93" fill="#5b9bd5"/>
<line x1="607.26" y1="373.10" x2="607.26" y2="373.84" stroke="#2a2a2a" stroke-width="0.6"/>
<line x1="605.26" y1="373.10" x2="609.26" y2="373.10" stroke="#2a2a2a" stroke-width="0.6"/>
<line x1="605.26" y1="373.84" x2="609.26" y2="373.84" stroke="#2a2a2a" stroke-width="0.6"/>
<rect x="610.03" y="376.29" width="5.55" height="3.11" fill="#ed7d31"/>
<line x1="612.81" y1="375.99" x2="612.81" y2="376.58" stroke="#2a2a2a" stroke-width="0.6"/>
<line x1="610.81" y1="375.99" x2="614.81" y2="375.99" stroke="#2a2a2a" stroke-width="0.6"/>
<line x1="610.81" y1="376.58" x2="614.81" y2="376.58" stroke="#2a2a2a" stroke-width="0.6"/>
<rect x="615.58" y="373.62" width="5.55" height="5.78" fill="#a5a5a5"/>
<line x1="618.36" y1="373.17" x2="618.36" y2="374.06" stroke="#2a2a2a" stroke-width="0.6"/>
<line x1="616.36" y1="373.17" x2="620.36" y2="373.17" stroke="#2a2a2a" stroke-width="0.6"/>
<line x1="616.36" y1="374.06" x2="620.36" y2="374.06" stroke="#2a2a2a" stroke-width="0.6"/>
<rect x="621.13" y="371.99" width="5.55" height="7.41" fill="#ffc000"/>
<line x1="623.91" y1="371.39" x2="623.91" y2="372.58" stroke="#2a2a2a" stroke-width="0.6"/>
<line x1="621.91" y1="371.39" x2="625.91" y2="371.39" stroke="#2a2a2a" stroke-width="0.6"/>
<line x1="621.91" y1="372.58" x2="625.91" y2="372.58" stroke="#2a2a2a" stroke-width="0.6"/>
<rect x="626.68" y="371.10" width="5.55" height="8.30" fill="#4472c4"/>
<line x1="629.46" y1="369.98" x2="629.46" y2="372.21" stroke="#2a2a2a" stroke-width="0.6"/>
<line x1="627.46" y1="369.98" x2="631.46" y2="369.98" stroke="#2a2a2a" stroke-width="0.6"/>
<line x1="627.46" y1="372.21" x2="631.46" y2="372.21" stroke="#2a2a2a" stroke-width="0.6"/>
<rect x="641.71" y="376.06" width="5.55" height="3.34" fill="#5b9bd5"/>
<line x1="644.49" y1="375.77" x2="644.49" y2="376.36" stroke="#2a2a2a" stroke-width="0.6"/>
<line x1="642.49" y1="375.77" x2="646.49" y2="375.77" stroke="#2a2a2a" stroke-width="0.6"/>
<line x1="642.49" y1="376.36" x2="646.49" y2="376.36" stroke="#2a2a2a" stroke-width="0.6"/>
<rect x="647.26" y="376.29" width="5.55" height="3.11" fill="#ed7d31"/>
<line x1="650.04" y1="375.99" x2="650.04" y2="376.58" stroke="#2a2a2a" stroke-width="0.6"/>
<line x1="648.04" y1="375.99" x2="652.04" y2="375.99" stroke="#2a2a2a" stroke-width="0.6"/>
<line x1="648.04" y1="376.58" x2="652.04" y2="376.58" stroke="#2a2a2a" stroke-width="0.6"/>
<rect x="652.81" y="373.10" width="5.55" height="6.30" fill="#a5a5a5"/>
<line x1="655.59" y1="371.62" x2="655.59" y2="374.58" stroke="#2a2a2a" stroke-width="0.6"/>
<line x1="653.59" y1="371.62" x2="657.59" y2="371.62" stroke="#2a2a2a" stroke-width="0.6"/>
<line x1="653.59" y1="374.58" x2="657.59" y2="374.58" stroke="#2a2a2a" stroke-width="0.6"/>
<rect x="658.36" y="370.50" width="5.55" height="8.90" fill="#ffc000"/>
<line x1="661.14" y1="369.61" x2="661.14" y2="371.39" stroke="#2a2a2a" stroke-width="0.6"/>
<line x1="659.14" y1="369.61" x2="663.14" y2="369.61" stroke="#2a2a2a" stroke-width="0.6"/>
<line x1="659.14" y1="371.39" x2="663.14" y2="371.39" stroke="#2a2a2a" stroke-width="0.6"/>
<rect x="663.91" y="371.39" width="5.55" height="8.01" fill="#4472c4"/>
<line x1="666.69" y1="370.95" x2="666.69" y2="371.84" stroke="#2a2a2a" stroke-width="0.6"/>
<line x1="664.69" y1="370.95" x2="668.69" y2="370.95" stroke="#2a2a2a" stroke-width="0.6"/>
<line x1="664.69" y1="371.84" x2="668.69" y2="371.84" stroke="#2a2a2a" stroke-width="0.6"/>
<line x1="413.60" y1="379.40" x2="674.20" y2="379.40" stroke="#c8c8c8" stroke-width="1"/>
<line x1="413.60" y1="379.40" x2="413.60" y2="382.40" stroke="#c8c8c8" stroke-width="1"/>
<line x1="450.83" y1="379.40" x2="450.83" y2="382.40" stroke="#c8c8c8" stroke-width="1"/>
<line x1="488.06" y1="379.40" x2="488.06" y2="382.40" stroke="#c8c8c8" stroke-width="1"/>
<line x1="525.29" y1="379.40" x2="525.29" y2="382.40" stroke="#c8c8c8" stroke-width="1"/>
<line x1="562.51" y1="379.40" x2="562.51" y2="382.40" stroke="#c8c8c8" stroke-width="1"/>
<line x1="599.74" y1="379.40" x2="599.74" y2="382.40" stroke="#c8c8c8" stroke-width="1"/>
<line x1="636.97" y1="379.40" x2="636.97" y2="382.40" stroke="#c8c8c8" stroke-width="1"/>
<line x1="674.20" y1="379.40" x2="674.20" y2="382.40" stroke="#c8c8c8" stroke-width="1"/>
<text x="434.71" y="392.90" font-size="8.8" stroke="#333" stroke-width="0.15" text-anchor="end" fill="#333" transform="rotate(-45 434.71 392.90)">769-P</text>
<text x="471.94" y="392.90" font-size="8.8" stroke="#333" stroke-width="0.15" text-anchor="end" fill="#333" transform="rotate(-45 471.94 392.90)">786-O</text>
<text x="509.17" y="392.90" font-size="8.8" stroke="#333" stroke-width="0.15" text-anchor="end" fill="#333" transform="rotate(-45 509.17 392.90)">PCS-400-010</text>
<text x="546.40" y="392.90" font-size="8.8" stroke="#333" stroke-width="0.15" text-anchor="end" fill="#333" transform="rotate(-45 546.40 392.90)">ACHN</text>
<text x="583.63" y="392.90" font-size="8.8" stroke="#333" stroke-width="0.15" text-anchor="end" fill="#333" transform="rotate(-45 583.63 392.90)">HEK293</text>
<text x="620.86" y="392.90" font-size="8.8" stroke="#333" stroke-width="0.15" text-anchor="end" fill="#333" transform="rotate(-45 620.86 392.90)">CAKI-1</text>
<text x="658.09" y="392.90" font-size="8.8" stroke="#333" stroke-width="0.15" text-anchor="end" fill="#333" transform="rotate(-45 658.09 392.90)">CAKI-2</text>
<rect x="421.75" y="429.50" width="5.30" height="5.30" fill="#5b9bd5"/>
<text x="429.50" y="435.20" font-size="9" stroke="#333" stroke-width="0.12" fill="#333" textLength="29.25" lengthAdjust="spacingAndGlyphs">Control</text>
<rect x="468.75" y="429.50" width="5.30" height="5.30" fill="#ed7d31"/>
<text x="475.75" y="435.20" font-size="9" stroke="#333" stroke-width="0.12" fill="#333" textLength="25.50" lengthAdjust="spacingAndGlyphs">Serum</text>
<rect x="510.50" y="429.50" width="5.30" height="5.30" fill="#a5a5a5"/>
<text x="518.40" y="435.20" font-size="9" stroke="#333" stroke-width="0.12" fill="#333" textLength="25.40" lengthAdjust="spacingAndGlyphs">Insulin</text>
<rect x="554.00" y="429.50" width="5.30" height="5.30" fill="#ffc000"/>
<text x="561.60" y="435.20" font-size="9" stroke="#333" stroke-width="0.12" fill="#333" textLength="20.00" lengthAdjust="spacingAndGlyphs">IGF-1</text>
<rect x="591.90" y="429.50" width="5.30" height="5.30" fill="#4472c4"/>
<text x="599.50" y="435.20" font-size="9" stroke="#333" stroke-width="0.12" fill="#333" textLength="20.20" lengthAdjust="spacingAndGlyphs">IGF-2</text>
<rect x="2.50" y="472.50" width="680.00" height="425.00" fill="none" stroke="#333" stroke-width="1.0"/>
<text x="8.50" y="490.20" font-size="17" font-weight="bold">e</text>
<text x="256.90" y="488.70" font-size="12" stroke="#000" stroke-width="0.2" font-weight="bold" textLength="171.40" lengthAdjust="spacingAndGlyphs">FACS analysis of IR and IGF-1R</text>
<rect x="57.10" y="501.40" width="176.40" height="99.80" fill="none" stroke="#7a7a7a" stroke-width="0.9"/>
<line x1="57.10" y1="501.40" x2="57.10" y2="601.20" stroke="#3a3a3a" stroke-width="0.8"/>
<line x1="57.10" y1="601.20" x2="233.50" y2="601.20" stroke="#3a3a3a" stroke-width="0.8"/>
<path d="M57.6,600.0L58.0,598.2L58.4,597.4L58.8,598.8L59.2,599.5L59.6,597.9L60.0,597.0L60.4,596.0L60.8,598.5L61.2,598.3L61.6,595.4L62.0,595.3L62.4,593.4L62.8,593.7L63.2,594.8L63.6,594.6L64.0,589.4L64.4,593.5L64.8,593.7L65.2,593.7L65.6,590.8L66.0,589.9L66.4,590.1L66.8,588.6L67.2,587.0L67.6,585.1L68.0,583.2L68.4,584.1L68.8,587.7L69.2,580.6L69.6,584.7L70.0,580.4L70.4,582.6L70.8,577.3L71.2,578.2L71.6,574.0L72.0,563.5L72.4,572.0L72.8,567.8L73.2,573.2L73.6,568.5L74.0,564.0L74.4,565.0L74.8,562.1L75.2,561.6L75.6,564.2L76.0,557.3L76.4,561.0L76.8,550.0L77.2,557.6L77.6,552.1L78.0,553.7L78.4,549.1L78.8,554.3L79.2,547.3L79.6,551.0L80.0,545.0L80.4,547.1L80.8,548.7L81.2,552.1L81.6,545.9L82.0,547.1L82.4,542.6L82.8,551.0L83.2,547.8L83.6,548.7L84.0,550.4L84.4,551.8L84.8,553.0L85.2,557.2L85.6,560.1L86.0,559.3L86.4,557.3L86.8,555.8L87.2,559.5L87.6,561.0L88.0,563.8L88.4,565.9L88.8,569.4L89.2,569.5L89.6,568.4L90.0,576.3L90.4,578.9L90.8,573.5L91.2,579.7L91.6,579.4L92.0,581.2L92.4,587.3L92.8,580.6L93.2,583.5L93.6,588.1L94.0,588.0L94.4,590.3L94.8,593.1L95.2,592.5L95.6,592.5L96.0,592.1L96.4,593.4L96.8,595.0L97.2,593.8L97.6,597.2L98.0,595.6L98.4,595.6L98.8,597.7L99.2,599.8L99.6,599.0L100.0,598.0L100.4,598.0L100.8,597.2L101.2,599.9L101.6,599.1L102.0,598.6L102.4,599.5L102.8,600.9L103.2,598.9L103.6,597.8L104.0,599.0L104.4,600.5L104.8,600.2L105.2,599.8L105.6,598.2L106.0,599.7L106.4,600.1L106.8,599.1L107.2,600.3L107.6,599.0L108.0,600.9L108.4,600.9L108.8,599.9L109.2,599.5L109.6,600.0L110.0,600.3L110.4,600.9L110.8,600.9L111.2,600.9L111.6,600.9L112.0,600.2L112.4,600.9L112.8,600.2L113.2,600.6L113.6,600.9L114.0,600.6L114.4,600.4L114.8,600.2L115.2,600.9L115.6,600.9L116.0,600.9L116.4,599.9L116.8,600.0L117.2,600.9M118.8,600.9L119.2,599.7L119.6,600.9L120.0,600.9L120.4,600.9L120.8,600.1L121.2,600.9L121.6,600.9L122.0,600.9L122.4,600.9L122.8,599.1L123.2,600.2L123.6,600.5L124.0,600.9L124.4,600.9L124.8,600.9L125.2,600.9L125.6,600.5L126.0,600.9L126.4,600.9L126.8,600.2L127.2,600.0L127.6,600.9L128.0,600.9L128.4,600.4L128.8,600.4L129.2,600.9M130.8,600.9L131.2,600.2L131.6,600.5L132.0,599.8L132.4,600.9M134.4,600.9L134.8,600.5L135.2,600.1L135.6,600.4L136.0,600.2L136.4,600.9M140.0,600.9L140.4,600.1L140.8,600.9L141.2,600.5L141.6,600.2L142.0,600.9L142.4,600.9L142.8,600.4L143.2,600.9L143.6,600.2L144.0,600.9L144.4,600.3L144.8,600.4L145.2,600.9L145.6,600.5L146.0,600.9L146.4,600.9L146.8,600.9L147.2,600.4L147.6,600.4L148.0,600.3L148.4,600.9L148.8,600.9L149.2,600.9L149.6,600.9L150.0,600.5L150.4,600.9L150.8,600.9L151.2,600.9L151.6,600.3L152.0,600.9L152.4,600.9L152.8,600.9L153.2,600.0L153.6,600.3L154.0,600.9M156.8,600.9L157.2,600.0L157.6,600.5L158.0,600.9M162.0,600.9L162.4,600.4L162.8,600.9M164.4,600.9L164.8,600.3L165.2,600.9L165.6,600.9L166.0,600.9L166.4,600.9L166.8,600.4L167.2,600.9M168.8,600.9L169.2,600.3L169.6,600.9L170.0,600.9L170.4,600.1L170.8,600.9L171.2,600.4L171.6,600.4L172.0,600.9L172.4,600.9L172.8,600.9L173.2,600.4L173.6,600.2L174.0,600.9L174.4,600.3L174.8,600.9M177.2,600.9L177.6,600.6L178.0,599.8L178.4,599.5L178.8,600.9L179.2,600.9L179.6,600.9L180.0,600.9L180.4,599.8L180.8,600.5L181.2,600.9L181.6,600.3L182.0,600.5L182.4,600.9M185.6,600.9L186.0,600.1L186.4,600.9L186.8,600.6L187.2,600.9L187.6,600.9L188.0,600.4L188.4,600.9L188.8,600.3L189.2,600.9L189.6,600.9L190.0,600.9L190.4,600.9L190.8,600.2L191.2,600.9L191.6,600.0L192.0,600.9L192.4,600.9L192.8,600.5L193.2,600.9L193.6,600.9L194.0,600.4L194.4,600.2L194.8,600.9L195.2,600.6L195.6,599.9L196.0,600.2L196.4,600.9M198.8,600.9L199.2,600.2L199.6,600.9L200.0,600.9L200.4,600.3L200.8,600.9M202.8,600.9L203.2,599.7L203.6,600.9L204.0,600.9L204.4,600.3L204.8,600.4L205.2,600.4L205.6,600.4L206.0,600.9L206.4,600.9L206.8,600.9L207.2,600.6L207.6,600.2L208.0,600.6L208.4,600.9L208.8,600.9L209.2,600.9L209.6,600.9L210.0,600.5L210.4,600.9L210.8,600.9L211.2,600.9L211.6,600.3L212.0,600.2L212.4,600.3L212.8,600.4L213.2,600.4L213.6,600.9L214.0,600.5L214.4,600.9L214.8,600.9L215.2,600.9L215.6,600.4L216.0,600.9L216.4,600.9L216.8,600.9L217.2,600.1L217.6,600.9L218.0,600.9L218.4,600.4L218.8,600.9L219.2,600.6L219.6,600.9L220.0,600.9L220.4,600.9L220.8,600.5L221.2,600.9L221.6,600.9L222.0,599.8L222.4,600.5L222.8,599.1L223.2,600.9L223.6,600.9L224.0,600.9L224.4,600.0L224.8,600.9L225.2,600.6L225.6,600.6L226.0,600.9L226.4,600.9L226.8,600.9L227.2,600.9L227.6,600.4L228.0,600.5L228.4,600.9L228.8,600.9L229.2,600.9L229.6,600.6L230.0,600.9" fill="none" stroke="#c2507c" stroke-width="0.75" stroke-linejoin="round" stroke-dasharray="1 0.7"/>
<path d="M57.6,598.7L58.0,599.6L58.4,598.8L58.8,598.8L59.2,598.3L59.6,597.7L60.0,597.1L60.4,596.0L60.8,599.5L61.2,596.5L61.6,596.7L62.0,593.8L62.4,594.8L62.8,597.2L63.2,594.4L63.6,595.0L64.0,592.7L64.4,594.6L64.8,592.8L65.2,592.2L65.6,591.5L66.0,591.4L66.4,592.5L66.8,588.3L67.2,586.6L67.6,587.3L68.0,587.9L68.4,584.8L68.8,583.1L69.2,583.3L69.6,581.8L70.0,577.9L70.4,581.6L70.8,579.2L71.2,580.7L71.6,576.9L72.0,575.6L72.4,574.8L72.8,572.8L73.2,565.6L73.6,568.8L74.0,567.2L74.4,560.1L74.8,564.3L75.2,567.2L75.6,560.3L76.0,562.5L76.4,554.4L76.8,560.9L77.2,558.0L77.6,559.7L78.0,553.9L78.4,556.1L78.8,552.6L79.2,552.7L79.6,552.7L80.0,547.5L80.4,547.1L80.8,549.2L81.2,551.8L81.6,552.1L82.0,548.1L82.4,541.9L82.8,550.6L83.2,552.0L83.6,552.3L84.0,554.2L84.4,554.8L84.8,553.6L85.2,550.2L85.6,555.6L86.0,558.4L86.4,562.9L86.8,559.6L87.2,561.9L87.6,566.7L88.0,568.1L88.4,567.3L88.8,566.6L89.2,569.4L89.6,572.1L90.0,575.1L90.4,575.4L90.8,577.8L91.2,575.1L91.6,583.1L92.0,583.2L92.4,581.7L92.8,585.7L93.2,584.2L93.6,587.8L94.0,588.7L94.4,590.5L94.8,592.9L95.2,593.2L95.6,589.8L96.0,592.7L96.4,593.4L96.8,593.7L97.2,594.8L97.6,594.8L98.0,596.6L98.4,597.0L98.8,596.3L99.2,597.8L99.6,599.0L100.0,598.3L100.4,598.8L100.8,598.1L101.2,599.3L101.6,599.7L102.0,599.4L102.4,598.2L102.8,599.4L103.2,599.4L103.6,599.6L104.0,599.5L104.4,599.2L104.8,599.0L105.2,600.9L105.6,599.2L106.0,600.1L106.4,600.3L106.8,598.9L107.2,600.3L107.6,599.2L108.0,599.8L108.4,600.9L108.8,600.1L109.2,600.0L109.6,600.5L110.0,600.9L110.4,600.9L110.8,600.6L111.2,600.9L111.6,599.7L112.0,600.9M113.6,600.9L114.0,600.6L114.4,600.5L114.8,600.9L115.2,600.9L115.6,600.9L116.0,600.5L116.4,600.9M118.4,600.9L118.8,599.7L119.2,600.9L119.6,600.9L120.0,600.9L120.4,600.1L120.8,600.2L121.2,600.9L121.6,600.9L122.0,600.9L122.4,600.5L122.8,600.9M125.2,600.9L125.6,599.7L126.0,600.1L126.4,600.9L126.8,600.9L127.2,600.9L127.6,600.9L128.0,600.4L128.4,600.9L128.8,600.9L129.2,600.9L129.6,600.9L130.0,600.3L130.4,600.5L130.8,600.9L131.2,600.9L131.6,600.9L132.0,600.5L132.4,600.9L132.8,600.4L133.2,600.9L133.6,600.9L134.0,600.9L134.4,600.9L134.8,600.6L135.2,600.9M138.8,600.9L139.2,600.4L139.6,600.9L140.0,600.9L140.4,600.9L140.8,600.9L141.2,600.1L141.6,600.3L142.0,600.9M145.2,600.9L145.6,600.2L146.0,600.5L146.4,600.9L146.8,600.9L147.2,600.9L147.6,600.9L148.0,600.6L148.4,600.9L148.8,600.3L149.2,600.9L149.6,600.9L150.0,600.9L150.4,600.9L150.8,600.0L151.2,600.9L151.6,600.4L152.0,600.9L152.4,600.9L152.8,600.9L153.2,600.9L153.6,600.4L154.0,600.0L154.4,600.9L154.8,600.9L155.2,600.4L155.6,600.9L156.0,600.5L156.4,600.9L156.8,600.6L157.2,600.9L157.6,600.3L158.0,600.9L158.4,600.9L158.8,600.5L159.2,600.9L159.6,600.5L160.0,600.2L160.4,600.6L160.8,600.9L161.2,600.3L161.6,600.9L162.0,600.9L162.4,600.9L162.8,600.2L163.2,600.9M166.4,600.9L166.8,600.3L167.2,600.5L167.6,600.4L168.0,600.3L168.4,600.9L168.8,600.9L169.2,600.9L169.6,600.1L170.0,600.9L170.4,600.9L170.8,600.9L171.2,600.6L171.6,600.2L172.0,600.9M173.6,600.9L174.0,600.5L174.4,600.9L174.8,600.5L175.2,600.9L175.6,600.4L176.0,600.9L176.4,600.4L176.8,600.9L177.2,600.3L177.6,600.9M182.0,600.9L182.4,600.4L182.8,600.9L183.2,599.8L183.6,600.5L184.0,600.9L184.4,600.4L184.8,600.4L185.2,600.9L185.6,600.9L186.0,600.4L186.4,600.9M188.4,600.9L188.8,600.5L189.2,600.9L189.6,600.2L190.0,600.9L190.4,600.9L190.8,600.9L191.2,600.5L191.6,600.5L192.0,600.2L192.4,600.9L192.8,600.3L193.2,600.9L193.6,600.9L194.0,600.9L194.4,600.0L194.8,600.5L195.2,600.9M196.8,600.9L197.2,599.9L197.6,600.5L198.0,600.9M199.6,600.9L200.0,599.6L200.4,600.9L200.8,600.9L201.2,600.4L201.6,600.9L202.0,600.9L202.4,600.3L202.8,600.9M204.4,600.9L204.8,600.5L205.2,600.5L205.6,600.9L206.0,600.9L206.4,600.9L206.8,600.9L207.2,600.3L207.6,600.4L208.0,600.3L208.4,600.1L208.8,600.9L209.2,600.4L209.6,600.9L210.0,600.5L210.4,600.9M212.0,600.9L212.4,600.3L212.8,600.9L213.2,600.6L213.6,600.9M216.8,600.9L217.2,600.4L217.6,600.2L218.0,600.9L218.4,600.5L218.8,600.5L219.2,600.9L219.6,600.9L220.0,600.9L220.4,600.9L220.8,600.3L221.2,600.5L221.6,600.6L222.0,600.9L222.4,600.6L222.8,600.5L223.2,600.9L223.6,600.4L224.0,600.9M225.6,600.9L226.0,599.6L226.4,600.9M228.4,600.9L228.8,600.5L229.2,600.9L229.6,600.5L230.0,600.9L230.4,600.4L230.8,600.9L231.2,600.5L231.6,600.9L232.0,600.9L232.4,600.3L232.8,600.9" fill="none" stroke="#1a1a1a" stroke-width="0.7" stroke-linejoin="round"/>
<path d="M57.3,601.2L57.3,573.3L57.6,598.5L58.0,599.0L58.4,597.6L58.8,598.0L59.2,596.9L59.6,596.4L60.0,597.3L60.4,597.9L60.8,594.9L61.2,593.6L61.6,593.3L62.0,595.6L62.4,592.1L62.8,591.7L63.2,591.0L63.6,589.9L64.0,590.4L64.4,588.3L64.8,585.8L65.2,587.7L65.6,588.7L66.0,584.4L66.4,582.4L66.8,586.1L67.2,581.8L67.6,577.0L68.0,577.5L68.4,575.2L68.8,577.6L69.2,569.6L69.6,565.3L70.0,569.7L70.4,569.8L70.8,569.6L71.2,561.2L71.6,562.3L72.0,563.9L72.4,555.4L72.8,555.6L73.2,554.9L73.6,562.4L74.0,555.2L74.4,551.5L74.8,557.7L75.2,548.7L75.6,546.2L76.0,547.3L76.4,553.9L76.8,553.7L77.2,547.3L77.6,547.3L78.0,546.7L78.4,547.4L78.8,553.1L79.2,555.1L79.6,561.5L80.0,552.7L80.4,548.5L80.8,559.9L81.2,561.4L81.6,559.0L82.0,561.6L82.4,569.1L82.8,568.5L83.2,571.4L83.6,563.3L84.0,573.6L84.4,570.6L84.8,569.3L85.2,571.2L85.6,574.3L86.0,575.5L86.4,584.4L86.8,583.6L87.2,585.8L87.6,586.1L88.0,581.1L88.4,591.4L88.8,587.9L89.2,592.4L89.6,588.6L90.0,589.6L90.4,593.6L90.8,590.2L91.2,594.1L91.6,592.9L92.0,595.0L92.4,596.7L92.8,596.9L93.2,597.0L93.6,596.5L94.0,597.4L94.4,595.2L94.8,598.4L95.2,598.9L95.6,599.3L96.0,599.6L96.4,600.3L96.8,600.0L97.2,598.5L97.6,599.4L98.0,599.7L98.4,599.3L98.8,598.9L99.2,599.3L99.6,599.3L100.0,600.4L100.4,600.2L100.8,600.9L101.2,600.2L101.6,600.9L102.0,600.5L102.4,600.4L102.8,600.4L103.2,600.5L103.6,600.9L104.0,599.6L104.4,600.9L104.8,600.9L105.2,600.4L105.6,600.9L106.0,600.9L106.4,600.5L106.8,600.9L107.2,600.9L107.6,600.4L108.0,600.0L108.4,600.9L108.8,600.9L109.2,600.3L109.6,600.9M111.2,600.9L111.6,600.2L112.0,600.9L112.4,600.6L112.8,600.9M115.6,600.9L116.0,600.4L116.4,600.4L116.8,600.9L117.2,600.9L117.6,600.1L118.0,600.5L118.4,600.9L118.8,600.9L119.2,600.9L119.6,600.3L120.0,600.9L120.4,600.9L120.8,599.7L121.2,600.9L121.6,600.9L122.0,600.9L122.4,600.9L122.8,600.4L123.2,600.9L123.6,600.0L124.0,600.9L124.4,600.9L124.8,600.1L125.2,600.3L125.6,600.4L126.0,600.4L126.4,600.9L126.8,600.9L127.2,600.9L127.6,600.4L128.0,600.9L128.4,600.9L128.8,600.1L129.2,600.9L129.6,600.9L130.0,600.5L130.4,600.9L130.8,600.9L131.2,599.8L131.6,600.6L132.0,600.9L132.4,600.3L132.8,599.6L133.2,600.9L133.6,600.9L134.0,600.9L134.4,600.9L134.8,599.7L135.2,600.5L135.6,600.9L136.0,600.6L136.4,600.9L136.8,600.9L137.2,600.9L137.6,599.6L138.0,600.9L138.4,600.6L138.8,600.1L139.2,600.4L139.6,599.9L140.0,600.6L140.4,600.9L140.8,600.9L141.2,600.9L141.6,600.0L142.0,600.9M144.8,600.9L145.2,600.4L145.6,600.9L146.0,600.9L146.4,600.9L146.8,600.5L147.2,600.9L147.6,600.9L148.0,600.9L148.4,600.3L148.8,600.3L149.2,600.9L149.6,600.9L150.0,600.4L150.4,600.2L150.8,600.9L151.2,600.9L151.6,600.1L152.0,599.6L152.4,600.1L152.8,600.9L153.2,600.6L153.6,600.9M155.2,600.9L155.6,599.9L156.0,600.5L156.4,600.6L156.8,600.9L157.2,600.9L157.6,600.9L158.0,600.2L158.4,600.4L158.8,599.8L159.2,600.9M160.8,600.9L161.2,600.1L161.6,600.9M163.2,600.9L163.6,600.3L164.0,600.9M166.0,600.9L166.4,600.5L166.8,600.9M168.8,600.9L169.2,600.5L169.6,600.9L170.0,600.9L170.4,600.9L170.8,600.2L171.2,600.9L171.6,600.2L172.0,600.9M174.4,600.9L174.8,600.5L175.2,600.2L175.6,600.9L176.0,600.9L176.4,600.6L176.8,600.9L177.2,599.9L177.6,599.9L178.0,600.3L178.4,600.9L178.8,600.9L179.2,600.9L179.6,600.9L180.0,600.5L180.4,600.5L180.8,600.4L181.2,600.9L181.6,600.9L182.0,600.9L182.4,600.9L182.8,600.2L183.2,600.0L183.6,600.3L184.0,600.9L184.4,600.5L184.8,600.4L185.2,600.2L185.6,600.4L186.0,600.9L186.4,600.3L186.8,600.9L187.2,600.9L187.6,600.5L188.0,600.9L188.4,600.9L188.8,600.9L189.2,600.9L189.6,600.5L190.0,600.9L190.4,600.9L190.8,600.6L191.2,600.5L191.6,600.9L192.0,600.6L192.4,600.9L192.8,600.9L193.2,600.5L193.6,600.9L194.0,600.9L194.4,599.2L194.8,600.5L195.2,600.9L195.6,600.9L196.0,600.9L196.4,600.4L196.8,600.9L197.2,600.9L197.6,600.9L198.0,600.5L198.4,600.9L198.8,600.5L199.2,600.1L199.6,600.9L200.0,600.3L200.4,600.9L200.8,600.9L201.2,600.9L201.6,600.9L202.0,600.2L202.4,600.4L202.8,600.9L203.2,600.4L203.6,600.9L204.0,600.9L204.4,600.2L204.8,600.9L205.2,600.2L205.6,600.9L206.0,600.4L206.4,600.6L206.8,600.2L207.2,600.9L207.6,600.5L208.0,600.9L208.4,600.3L208.8,600.9L209.2,600.3L209.6,600.1L210.0,600.9L210.4,600.6L210.8,600.9M213.6,600.9L214.0,600.5L214.4,600.9L214.8,600.1L215.2,600.9L215.6,600.9L216.0,600.9L216.4,600.6L216.8,600.4L217.2,600.9M219.2,600.9L219.6,600.4L220.0,599.9L220.4,600.3L220.8,600.9L221.2,600.1L221.6,600.9L222.0,600.9L222.4,600.9L222.8,600.6L223.2,600.5L223.6,600.9L224.0,600.9L224.4,600.9L224.8,600.9L225.2,600.3L225.6,600.9M228.0,600.9L228.4,600.5L228.8,600.9L229.2,600.0L229.6,600.9L230.0,600.5L230.4,600.6L230.8,600.9L231.2,600.9L231.6,600.4L232.0,600.9L232.4,600.9L232.8,600.1" fill="none" stroke="#22e022" stroke-width="1.25" stroke-linejoin="round"/>
<path d="M57.6,600.5L58.0,600.9L58.4,600.9L58.8,600.1L59.2,600.9L59.6,600.9L60.0,600.9L60.4,600.4L60.8,599.7L61.2,600.9L61.6,600.9L62.0,600.2L62.4,600.9L62.8,600.9L63.2,600.6L63.6,600.9L64.0,600.1L64.4,599.7L64.8,600.0L65.2,600.9L65.6,599.5L66.0,600.2L66.4,599.7L66.8,600.9L67.2,599.6L67.6,599.4L68.0,599.0L68.4,599.8L68.8,599.4L69.2,600.2L69.6,598.9L70.0,598.9L70.4,598.5L70.8,599.7L71.2,600.3L71.6,599.2L72.0,599.1L72.4,599.5L72.8,598.0L73.2,597.5L73.6,597.8L74.0,596.8L74.4,597.3L74.8,598.6L75.2,597.8L75.6,597.2L76.0,595.5L76.4,594.7L76.8,595.3L77.2,593.6L77.6,595.7L78.0,594.1L78.4,590.9L78.8,591.8L79.2,590.0L79.6,594.5L80.0,593.4L80.4,591.0L80.8,586.3L81.2,583.9L81.6,587.5L82.0,587.3L82.4,586.2L82.8,584.7L83.2,579.9L83.6,580.7L84.0,573.5L84.4,575.0L84.8,577.4L85.2,573.3L85.6,572.8L86.0,568.4L86.4,566.4L86.8,568.7L87.2,563.1L87.6,562.6L88.0,563.2L88.4,560.5L88.8,557.5L89.2,559.6L89.6,559.5L90.0,551.2L90.4,554.6L90.8,555.8L91.2,550.8L91.6,557.3L92.0,550.6L92.4,555.5L92.8,551.3L93.2,556.2L93.6,551.8L94.0,545.4L94.4,549.6L94.8,553.8L95.2,542.6L95.6,552.2L96.0,544.6L96.4,553.1L96.8,557.4L97.2,545.8L97.6,555.4L98.0,552.2L98.4,551.8L98.8,562.2L99.2,558.6L99.6,562.3L100.0,559.7L100.4,563.4L100.8,569.0L101.2,566.3L101.6,565.6L102.0,570.5L102.4,569.6L102.8,574.4L103.2,574.5L103.6,574.9L104.0,577.0L104.4,575.5L104.8,577.9L105.2,579.6L105.6,581.2L106.0,583.8L106.4,587.9L106.8,584.2L107.2,584.0L107.6,588.1L108.0,590.0L108.4,590.5L108.8,589.1L109.2,591.6L109.6,594.4L110.0,593.7L110.4,595.2L110.8,594.9L111.2,596.4L111.6,596.9L112.0,594.1L112.4,595.2L112.8,598.8L113.2,598.4L113.6,598.0L114.0,598.2L114.4,599.5L114.8,597.4L115.2,600.1L115.6,598.0L116.0,598.2L116.4,599.3L116.8,599.7L117.2,599.2L117.6,599.2L118.0,600.9L118.4,600.6L118.8,599.2L119.2,599.8L119.6,600.1L120.0,600.9L120.4,600.4L120.8,600.5L121.2,598.1L121.6,600.9L122.0,599.1L122.4,599.9L122.8,600.1L123.2,600.1L123.6,600.5L124.0,599.3L124.4,600.0L124.8,600.4L125.2,600.5L125.6,600.3L126.0,600.9L126.4,600.9L126.8,600.9L127.2,600.2L127.6,600.2L128.0,600.9L128.4,600.9L128.8,600.0L129.2,600.9L129.6,600.9L130.0,600.1L130.4,600.9L130.8,600.9L131.2,600.9L131.6,600.6L132.0,600.9L132.4,600.6L132.8,600.5L133.2,600.3L133.6,600.9M137.2,600.9L137.6,600.2L138.0,600.9L138.4,600.5L138.8,600.6L139.2,600.9L139.6,600.4L140.0,600.9L140.4,600.5L140.8,600.9L141.2,600.9L141.6,600.9L142.0,600.5L142.4,599.8L142.8,600.9L143.2,600.9L143.6,600.9L144.0,600.9L144.4,600.2L144.8,600.6L145.2,600.9L145.6,600.9L146.0,600.9L146.4,599.7L146.8,599.8L147.2,600.9L147.6,600.9L148.0,600.5L148.4,600.9L148.8,600.9L149.2,600.5L149.6,600.9L150.0,600.9L150.4,600.9L150.8,600.9L151.2,600.2L151.6,600.9L152.0,600.3L152.4,600.5L152.8,600.9M154.4,600.9L154.8,600.6L155.2,600.9L155.6,600.9L156.0,600.3L156.4,600.4L156.8,600.9L157.2,600.6L157.6,600.9L158.0,600.3L158.4,600.9M161.2,600.9L161.6,600.5L162.0,600.9L162.4,600.9L162.8,600.9L163.2,600.3L163.6,600.9L164.0,600.5L164.4,600.4L164.8,600.9L165.2,600.4L165.6,600.6L166.0,600.9M168.0,600.9L168.4,600.6L168.8,600.9L169.2,600.9L169.6,600.4L170.0,600.2L170.4,600.9L170.8,600.9L171.2,600.6L171.6,600.9L172.0,600.9L172.4,600.5L172.8,599.8L173.2,600.9L173.6,600.1L174.0,599.7L174.4,599.9L174.8,600.9L175.2,600.3L175.6,600.9L176.0,600.3L176.4,600.9L176.8,600.9L177.2,600.9L177.6,600.1L178.0,600.4L178.4,600.9L178.8,600.9L179.2,600.4L179.6,600.5L180.0,600.9M182.4,600.9L182.8,600.4L183.2,600.9L183.6,600.9L184.0,600.9L184.4,600.1L184.8,600.2L185.2,600.9M186.8,600.9L187.2,600.6L187.6,600.9M190.4,600.9L190.8,600.5L191.2,600.9L191.6,600.9L192.0,600.5L192.4,600.9M194.0,600.9L194.4,600.2L194.8,599.8L195.2,599.7L195.6,600.9L196.0,600.9L196.4,600.4L196.8,600.9L197.2,600.0L197.6,600.9M199.2,600.9L199.6,600.3L200.0,600.9L200.4,600.9L200.8,599.9L201.2,600.9L201.6,600.9L202.0,600.6L202.4,600.9L202.8,600.9L203.2,600.1L203.6,600.2L204.0,600.5L204.4,600.9L204.8,600.9L205.2,600.9L205.6,599.9L206.0,600.3L206.4,600.9M208.8,600.9L209.2,600.4L209.6,600.9L210.0,600.2L210.4,600.9L210.8,600.6L211.2,600.6L211.6,600.9L212.0,600.2L212.4,600.9L212.8,600.9L213.2,599.5L213.6,600.2L214.0,600.9L214.4,600.1L214.8,600.2L215.2,600.9L215.6,600.6L216.0,600.1L216.4,600.9L216.8,600.9L217.2,600.9L217.6,600.4L218.0,600.9M219.6,600.9L220.0,600.6L220.4,600.9L220.8,600.9L221.2,600.9L221.6,600.9L222.0,600.2L222.4,600.9L222.8,600.9L223.2,600.6L223.6,600.1L224.0,600.9L224.4,600.9L224.8,600.9L225.2,600.9L225.6,600.3L226.0,600.4L226.4,600.3L226.8,600.9L227.2,600.4L227.6,600.9L228.0,600.5L228.4,600.9L228.8,600.9L229.2,600.9L229.6,600.2L230.0,600.9L230.4,600.2L230.8,600.9L231.2,599.8L231.6,600.9L232.0,599.9L232.4,600.9L232.8,600.9" fill="none" stroke="#62c4e4" stroke-width="0.75" stroke-linejoin="round" stroke-dasharray="0.8 0.9"/>
<path d="M57.6,599.1L58.0,600.1L58.4,599.8L58.8,600.9L59.2,600.0L59.6,599.6L60.0,600.3L60.4,599.3L60.8,600.9L61.2,598.9L61.6,599.9L62.0,598.4L62.4,599.8L62.8,600.1L63.2,599.9L63.6,599.2L64.0,598.9L64.4,599.8L64.8,600.1L65.2,598.9L65.6,598.5L66.0,600.9L66.4,600.1L66.8,599.8L67.2,597.5L67.6,597.9L68.0,598.2L68.4,598.4L68.8,599.9L69.2,597.6L69.6,599.1L70.0,599.3L70.4,596.4L70.8,599.8L71.2,596.6L71.6,597.8L72.0,598.9L72.4,597.4L72.8,598.4L73.2,597.0L73.6,597.8L74.0,598.2L74.4,592.8L74.8,596.7L75.2,594.3L75.6,595.3L76.0,593.8L76.4,596.3L76.8,595.5L77.2,598.7L77.6,590.9L78.0,591.1L78.4,593.4L78.8,588.8L79.2,588.4L79.6,582.6L80.0,587.2L80.4,584.6L80.8,584.2L81.2,582.6L81.6,583.2L82.0,582.9L82.4,578.7L82.8,575.8L83.2,580.9L83.6,579.4L84.0,574.7L84.4,567.6L84.8,572.0L85.2,575.1L85.6,565.4L86.0,563.9L86.4,558.1L86.8,562.3L87.2,554.3L87.6,562.3L88.0,554.8L88.4,556.0L88.8,559.6L89.2,554.7L89.6,547.1L90.0,546.6L90.4,551.3L90.8,544.3L91.2,544.2L91.6,543.4L92.0,545.2L92.4,544.6L92.8,548.9L93.2,545.4L93.6,544.5L94.0,548.2L94.4,546.5L94.8,545.0L95.2,545.3L95.6,542.5L96.0,551.9L96.4,550.3L96.8,548.7L97.2,552.5L97.6,551.1L98.0,555.6L98.4,550.9L98.8,557.8L99.2,562.8L99.6,557.7L100.0,556.3L100.4,570.5L100.8,566.1L101.2,567.2L101.6,566.0L102.0,566.4L102.4,573.2L102.8,579.0L103.2,574.2L103.6,574.9L104.0,578.0L104.4,580.5L104.8,584.2L105.2,577.6L105.6,587.6L106.0,589.4L106.4,585.0L106.8,587.6L107.2,587.8L107.6,589.4L108.0,587.8L108.4,589.2L108.8,593.5L109.2,591.5L109.6,595.7L110.0,597.0L110.4,593.1L110.8,596.0L111.2,598.8L111.6,596.2L112.0,597.4L112.4,596.2L112.8,597.2L113.2,598.3L113.6,598.5L114.0,597.0L114.4,599.1L114.8,598.1L115.2,599.4L115.6,598.1L116.0,596.9L116.4,598.3L116.8,597.9L117.2,598.6L117.6,600.0L118.0,599.5L118.4,599.3L118.8,599.0L119.2,600.0L119.6,599.0L120.0,600.2L120.4,599.6L120.8,599.7L121.2,600.9L121.6,599.1L122.0,599.9L122.4,599.9L122.8,600.0L123.2,600.9L123.6,600.9L124.0,600.9L124.4,599.5L124.8,600.6L125.2,599.8L125.6,600.9L126.0,600.9L126.4,600.9L126.8,599.7L127.2,600.9L127.6,600.5L128.0,600.2L128.4,600.4L128.8,600.5L129.2,600.0L129.6,600.3L130.0,600.9L130.4,600.2L130.8,600.9L131.2,600.9L131.6,599.8L132.0,599.2L132.4,599.8L132.8,600.4L133.2,600.9L133.6,600.9L134.0,599.8L134.4,600.5L134.8,600.9L135.2,599.9L135.6,600.4L136.0,600.0L136.4,600.5L136.8,600.9L137.2,600.9L137.6,600.9L138.0,600.9L138.4,600.0L138.8,600.9L139.2,600.9L139.6,600.9L140.0,600.9L140.4,600.9L140.8,600.9L141.2,600.9L141.6,600.9L142.0,600.9L142.4,600.9L142.8,600.9L143.2,600.9L143.6,600.9L144.0,600.9L144.4,600.9L144.8,600.5L145.2,600.5L145.6,600.9L146.0,600.9L146.4,600.1L146.8,600.2L147.2,600.9L147.6,600.9L148.0,600.9L148.4,600.9L148.8,600.9L149.2,599.7L149.6,600.9L150.0,600.9L150.4,600.9L150.8,600.3L151.2,600.9L151.6,600.9L152.0,600.1L152.4,600.1L152.8,600.9L153.2,600.9L153.6,600.9L154.0,600.9L154.4,600.9L154.8,600.9L155.2,600.9L155.6,600.9L156.0,600.9L156.4,600.3L156.8,600.2L157.2,600.3L157.6,600.5L158.0,600.2L158.4,600.9L158.8,600.4L159.2,600.6L159.6,600.4L160.0,600.9L160.4,600.9L160.8,600.9L161.2,600.4L161.6,600.6L162.0,600.9L162.4,600.9L162.8,600.9L163.2,600.4L163.6,600.9L164.0,600.9L164.4,600.9L164.8,600.9L165.2,600.0L165.6,600.9L166.0,600.9L166.4,600.0L166.8,600.4L167.2,600.9L167.6,600.3L168.0,600.9L168.4,600.5L168.8,600.9L169.2,600.9L169.6,600.4L170.0,600.9L170.4,600.9L170.8,600.9L171.2,600.9L171.6,600.9L172.0,600.9L172.4,599.9L172.8,600.1L173.2,600.9L173.6,600.9L174.0,600.9L174.4,600.9L174.8,600.6L175.2,600.0L175.6,600.9L176.0,600.9L176.4,600.9L176.8,600.9L177.2,600.9L177.6,600.9L178.0,600.2L178.4,600.9L178.8,600.9L179.2,600.9L179.6,600.9L180.0,599.9L180.4,600.9L180.8,600.9L181.2,600.9L181.6,600.1L182.0,600.9L182.4,600.9L182.8,599.9L183.2,600.9L183.6,600.9L184.0,600.9L184.4,600.9L184.8,600.9L185.2,600.9L185.6,600.9L186.0,600.4L186.4,600.4L186.8,600.4L187.2,600.9L187.6,600.4L188.0,600.9L188.4,600.2L188.8,600.6L189.2,600.9L189.6,600.2L190.0,600.9L190.4,600.9L190.8,600.9L191.2,600.9L191.6,600.9L192.0,600.9L192.4,600.9L192.8,600.9L193.2,600.9L193.6,599.7L194.0,600.4L194.4,600.9L194.8,600.2L195.2,600.9L195.6,600.3L196.0,600.9L196.4,600.2L196.8,600.3L197.2,600.9L197.6,600.9L198.0,600.9L198.4,600.9L198.8,599.6L199.2,599.9L199.6,600.1L200.0,600.9L200.4,600.9L200.8,600.9L201.2,600.9L201.6,600.9L202.0,600.9L202.4,600.4L202.8,600.9L203.2,600.9L203.6,600.9L204.0,600.9L204.4,600.9L204.8,600.2L205.2,600.9L205.6,600.1L206.0,600.9L206.4,600.3L206.8,600.9L207.2,600.9L207.6,600.9L208.0,600.9L208.4,600.9L208.8,600.9L209.2,600.9L209.6,600.9L210.0,600.9L210.4,600.9L210.8,600.9L211.2,600.9L211.6,600.9L212.0,600.9L212.4,600.9L212.8,600.2L213.2,600.9L213.6,600.5L214.0,600.5L214.4,600.9L214.8,600.2L215.2,599.6L215.6,600.9L216.0,599.8L216.4,600.9L216.8,600.1L217.2,600.9L217.6,600.2L218.0,600.9L218.4,600.9L218.8,600.9L219.2,600.9L219.6,600.9L220.0,600.9L220.4,600.9L220.8,600.9L221.2,600.9L221.6,600.6L222.0,600.9L222.4,600.0L222.8,600.9L223.2,600.9L223.6,600.9L224.0,600.4L224.4,600.9L224.8,600.9L225.2,600.9L225.6,600.9L226.0,600.9L226.4,600.9L226.8,600.9L227.2,600.4L227.6,600.9L228.0,600.6L228.4,600.9L228.8,600.9L229.2,600.4L229.6,600.0L230.0,600.9L230.4,600.9L230.8,600.2L231.2,600.9L231.6,600.9L232.0,600.9L232.4,600.9L232.8,600.9" fill="none" stroke="#ee9640" stroke-width="0.8" stroke-linejoin="round" stroke-dasharray="1.6 0.8"/>
<line x1="55.10" y1="601.20" x2="57.10" y2="601.20" stroke="#444" stroke-width="0.6"/>
<text x="53.80" y="601.20" font-size="3.6" text-anchor="middle" fill="#666" transform="rotate(-90 53.80 601.20)">0</text>
<line x1="55.90" y1="596.21" x2="57.10" y2="596.21" stroke="#444" stroke-width="0.6"/>
<line x1="55.90" y1="591.22" x2="57.10" y2="591.22" stroke="#444" stroke-width="0.6"/>
<line x1="55.90" y1="586.23" x2="57.10" y2="586.23" stroke="#444" stroke-width="0.6"/>
<line x1="55.10" y1="581.24" x2="57.10" y2="581.24" stroke="#444" stroke-width="0.6"/>
<text x="53.80" y="581.24" font-size="3.6" text-anchor="middle" fill="#666" transform="rotate(-90 53.80 581.24)">40</text>
<line x1="55.90" y1="576.25" x2="57.10" y2="576.25" stroke="#444" stroke-width="0.6"/>
<line x1="55.90" y1="571.26" x2="57.10" y2="571.26" stroke="#444" stroke-width="0.6"/>
<line x1="55.90" y1="566.27" x2="57.10" y2="566.27" stroke="#444" stroke-width="0.6"/>
<line x1="55.10" y1="561.28" x2="57.10" y2="561.28" stroke="#444" stroke-width="0.6"/>
<text x="53.80" y="561.28" font-size="3.6" text-anchor="middle" fill="#666" transform="rotate(-90 53.80 561.28)">80</text>
<line x1="55.90" y1="556.29" x2="57.10" y2="556.29" stroke="#444" stroke-width="0.6"/>
<line x1="55.90" y1="551.30" x2="57.10" y2="551.30" stroke="#444" stroke-width="0.6"/>
<line x1="55.90" y1="546.31" x2="57.10" y2="546.31" stroke="#444" stroke-width="0.6"/>
<line x1="55.10" y1="541.32" x2="57.10" y2="541.32" stroke="#444" stroke-width="0.6"/>
<text x="53.80" y="541.32" font-size="3.6" text-anchor="middle" fill="#666" transform="rotate(-90 53.80 541.32)">120</text>
<line x1="55.90" y1="536.33" x2="57.10" y2="536.33" stroke="#444" stroke-width="0.6"/>
<line x1="55.90" y1="531.34" x2="57.10" y2="531.34" stroke="#444" stroke-width="0.6"/>
<line x1="55.90" y1="526.35" x2="57.10" y2="526.35" stroke="#444" stroke-width="0.6"/>
<line x1="55.10" y1="521.36" x2="57.10" y2="521.36" stroke="#444" stroke-width="0.6"/>
<text x="53.80" y="521.36" font-size="3.6" text-anchor="middle" fill="#666" transform="rotate(-90 53.80 521.36)">160</text>
<line x1="55.90" y1="516.37" x2="57.10" y2="516.37" stroke="#444" stroke-width="0.6"/>
<line x1="55.90" y1="511.38" x2="57.10" y2="511.38" stroke="#444" stroke-width="0.6"/>
<line x1="55.90" y1="506.39" x2="57.10" y2="506.39" stroke="#444" stroke-width="0.6"/>
<line x1="55.10" y1="501.40" x2="57.10" y2="501.40" stroke="#444" stroke-width="0.6"/>
<text x="53.80" y="501.40" font-size="3.6" text-anchor="middle" fill="#666" transform="rotate(-90 53.80 501.40)">200</text>
<line x1="57.10" y1="601.20" x2="57.10" y2="603.80" stroke="#444" stroke-width="0.6"/>
<line x1="70.38" y1="601.20" x2="70.38" y2="602.60" stroke="#444" stroke-width="0.6"/>
<line x1="78.14" y1="601.20" x2="78.14" y2="602.60" stroke="#444" stroke-width="0.6"/>
<line x1="83.65" y1="601.20" x2="83.65" y2="602.60" stroke="#444" stroke-width="0.6"/>
<line x1="87.92" y1="601.20" x2="87.92" y2="602.60" stroke="#444" stroke-width="0.6"/>
<line x1="91.42" y1="601.20" x2="91.42" y2="602.60" stroke="#444" stroke-width="0.6"/>
<line x1="94.37" y1="601.20" x2="94.37" y2="602.60" stroke="#444" stroke-width="0.6"/>
<line x1="96.93" y1="601.20" x2="96.93" y2="602.60" stroke="#444" stroke-width="0.6"/>
<line x1="99.18" y1="601.20" x2="99.18" y2="602.60" stroke="#444" stroke-width="0.6"/>
<line x1="101.20" y1="601.20" x2="101.20" y2="603.80" stroke="#444" stroke-width="0.6"/>
<line x1="114.48" y1="601.20" x2="114.48" y2="602.60" stroke="#444" stroke-width="0.6"/>
<line x1="122.24" y1="601.20" x2="122.24" y2="602.60" stroke="#444" stroke-width="0.6"/>
<line x1="127.75" y1="601.20" x2="127.75" y2="602.60" stroke="#444" stroke-width="0.6"/>
<line x1="132.02" y1="601.20" x2="132.02" y2="602.60" stroke="#444" stroke-width="0.6"/>
<line x1="135.52" y1="601.20" x2="135.52" y2="602.60" stroke="#444" stroke-width="0.6"/>
<line x1="138.47" y1="601.20" x2="138.47" y2="602.60" stroke="#444" stroke-width="0.6"/>
<line x1="141.03" y1="601.20" x2="141.03" y2="602.60" stroke="#444" stroke-width="0.6"/>
<line x1="143.28" y1="601.20" x2="143.28" y2="602.60" stroke="#444" stroke-width="0.6"/>
<line x1="145.30" y1="601.20" x2="145.30" y2="603.80" stroke="#444" stroke-width="0.6"/>
<line x1="158.58" y1="601.20" x2="158.58" y2="602.60" stroke="#444" stroke-width="0.6"/>
<line x1="166.34" y1="601.20" x2="166.34" y2="602.60" stroke="#444" stroke-width="0.6"/>
<line x1="171.85" y1="601.20" x2="171.85" y2="602.60" stroke="#444" stroke-width="0.6"/>
<line x1="176.12" y1="601.20" x2="176.12" y2="602.60" stroke="#444" stroke-width="0.6"/>
<line x1="179.62" y1="601.20" x2="179.62" y2="602.60" stroke="#444" stroke-width="0.6"/>
<line x1="182.57" y1="601.20" x2="182.57" y2="602.60" stroke="#444" stroke-width="0.6"/>
<line x1="185.13" y1="601.20" x2="185.13" y2="602.60" stroke="#444" stroke-width="0.6"/>
<line x1="187.38" y1="601.20" x2="187.38" y2="602.60" stroke="#444" stroke-width="0.6"/>
<line x1="189.40" y1="601.20" x2="189.40" y2="603.80" stroke="#444" stroke-width="0.6"/>
<line x1="202.68" y1="601.20" x2="202.68" y2="602.60" stroke="#444" stroke-width="0.6"/>
<line x1="210.44" y1="601.20" x2="210.44" y2="602.60" stroke="#444" stroke-width="0.6"/>
<line x1="215.95" y1="601.20" x2="215.95" y2="602.60" stroke="#444" stroke-width="0.6"/>
<line x1="220.22" y1="601.20" x2="220.22" y2="602.60" stroke="#444" stroke-width="0.6"/>
<line x1="223.72" y1="601.20" x2="223.72" y2="602.60" stroke="#444" stroke-width="0.6"/>
<line x1="226.67" y1="601.20" x2="226.67" y2="602.60" stroke="#444" stroke-width="0.6"/>
<line x1="229.23" y1="601.20" x2="229.23" y2="602.60" stroke="#444" stroke-width="0.6"/>
<line x1="231.48" y1="601.20" x2="231.48" y2="602.60" stroke="#444" stroke-width="0.6"/>
<text x="56.10" y="607.80" font-size="3.8" text-anchor="middle" fill="#666">10</text>
<text x="58.50" y="606.20" font-size="2.8" fill="#666">0</text>
<text x="100.20" y="607.80" font-size="3.8" text-anchor="middle" fill="#666">10</text>
<text x="102.60" y="606.20" font-size="2.8" fill="#666">1</text>
<text x="144.30" y="607.80" font-size="3.8" text-anchor="middle" fill="#666">10</text>
<text x="146.70" y="606.20" font-size="2.8" fill="#666">2</text>
<text x="188.40" y="607.80" font-size="3.8" text-anchor="middle" fill="#666">10</text>
<text x="190.80" y="606.20" font-size="2.8" fill="#666">3</text>
<text x="232.50" y="607.80" font-size="3.8" text-anchor="middle" fill="#666">10</text>
<text x="234.90" y="606.20" font-size="2.8" fill="#666">4</text>
<text x="117.40" y="514.30" font-size="8.7" stroke="#2a2a2a" stroke-width="0.12" fill="#2a2a2a">769-P</text>
<text x="115.70" y="617.10" font-size="8.7" stroke="#2a2a2a" stroke-width="0.12" fill="#2a2a2a" textLength="59.60" lengthAdjust="spacingAndGlyphs">Mouse IgG1 PE</text>
<text x="42.60" y="552.00" font-size="8.7" stroke="#2a2a2a" stroke-width="0.12" text-anchor="middle" fill="#2a2a2a" textLength="27.40" lengthAdjust="spacingAndGlyphs" transform="rotate(-90 42.60 552.00)" dominant-baseline="central">Counts</text>
<rect x="263.30" y="500.40" width="182.40" height="100.80" fill="none" stroke="#7a7a7a" stroke-width="0.9"/>
<line x1="263.30" y1="500.40" x2="263.30" y2="601.20" stroke="#3a3a3a" stroke-width="0.8"/>
<line x1="263.30" y1="601.20" x2="445.70" y2="601.20" stroke="#3a3a3a" stroke-width="0.8"/>
<path d="M263.5,601.2L263.5,500.4L263.8,599.2L264.2,596.8L264.6,597.0L265.0,596.8L265.4,594.3L265.8,594.9L266.2,594.7L266.6,590.6L267.0,593.5L267.4,594.0L267.8,593.3L268.2,590.7L268.6,587.1L269.0,585.3L269.4,583.1L269.8,579.9L270.2,578.4L270.6,579.2L271.0,575.5L271.4,575.4L271.8,576.9L272.2,570.8L272.6,571.0L273.0,569.8L273.4,560.6L273.8,562.4L274.2,564.7L274.6,561.3L275.0,550.6L275.4,558.1L275.8,552.7L276.2,551.4L276.6,550.4L277.0,548.7L277.4,551.8L277.8,550.8L278.2,548.8L278.6,549.1L279.0,544.0L279.4,540.9L279.8,550.9L280.2,545.2L280.6,551.8L281.0,551.0L281.4,549.8L281.8,549.1L282.2,552.1L282.6,561.6L283.0,546.9L283.4,554.6L283.8,557.2L284.2,553.4L284.6,559.6L285.0,564.0L285.4,558.4L285.8,560.2L286.2,566.0L286.6,561.8L287.0,564.9L287.4,571.3L287.8,563.5L288.2,569.7L288.6,575.4L289.0,572.0L289.4,574.3L289.8,573.2L290.2,580.9L290.6,575.5L291.0,577.0L291.4,578.7L291.8,580.0L292.2,579.3L292.6,581.7L293.0,584.0L293.4,587.0L293.8,583.3L294.2,584.3L294.6,586.5L295.0,587.5L295.4,586.9L295.8,594.0L296.2,588.8L296.6,594.8L297.0,589.9L297.4,588.7L297.8,587.6L298.2,592.4L298.6,591.1L299.0,592.3L299.4,596.4L299.8,591.5L300.2,593.1L300.6,593.2L301.0,595.2L301.4,594.0L301.8,594.0L302.2,592.4L302.6,594.2L303.0,589.6L303.4,595.7L303.8,595.7L304.2,595.6L304.6,596.9L305.0,593.9L305.4,595.3L305.8,598.1L306.2,596.5L306.6,595.3L307.0,598.8L307.4,597.0L307.8,597.7L308.2,594.8L308.6,597.2L309.0,598.3L309.4,598.7L309.8,596.2L310.2,598.8L310.6,596.1L311.0,600.2L311.4,599.0L311.8,599.1L312.2,599.7L312.6,599.3L313.0,598.6L313.4,599.9L313.8,600.9L314.2,598.4L314.6,598.4L315.0,600.2L315.4,599.5L315.8,600.9L316.2,599.1L316.6,600.9L317.0,600.4L317.4,598.5L317.8,600.9L318.2,600.2L318.6,600.9L319.0,600.9L319.4,600.9L319.8,600.2L320.2,600.9L320.6,600.9L321.0,600.0L321.4,600.5L321.8,600.9L322.2,599.6L322.6,600.4L323.0,599.7L323.4,600.9L323.8,599.6L324.2,600.9L324.6,600.9L325.0,600.9L325.4,600.9L325.8,600.5L326.2,600.9L326.6,600.3L327.0,599.9L327.4,600.9L327.8,600.9L328.2,600.9L328.6,600.2L329.0,600.2L329.4,600.9L329.8,600.9L330.2,600.9L330.6,600.2L331.0,600.9L331.4,600.0L331.8,600.6L332.2,600.6L332.6,600.9L333.0,600.0L333.4,600.9L333.8,600.9L334.2,600.3L334.6,600.9L335.0,600.2L335.4,600.9M337.4,600.9L337.8,600.3L338.2,600.9L338.6,600.9L339.0,600.9L339.4,600.5L339.8,600.9L340.2,600.3L340.6,600.6L341.0,599.7L341.4,600.9L341.8,600.9L342.2,600.5L342.6,600.3L343.0,600.9L343.4,600.9L343.8,600.9L344.2,600.2L344.6,600.2L345.0,600.9L345.4,600.9L345.8,600.2L346.2,600.9L346.6,600.9L347.0,600.9L347.4,600.9L347.8,600.2L348.2,600.9M351.0,600.9L351.4,600.5L351.8,600.9L352.2,600.2L352.6,600.9L353.0,600.9L353.4,600.9L353.8,600.9L354.2,600.2L354.6,600.9L355.0,600.9L355.4,600.2L355.8,600.5L356.2,600.9L356.6,600.3L357.0,600.3L357.4,600.4L357.8,600.9M359.8,600.9L360.2,600.5L360.6,600.9L361.0,600.5L361.4,600.9L361.8,600.9L362.2,600.9L362.6,600.4L363.0,600.2L363.4,600.9L363.8,599.9L364.2,600.5L364.6,600.2L365.0,600.9L365.4,600.9L365.8,600.2L366.2,600.9L366.6,600.5L367.0,600.2L367.4,600.9L367.8,600.6L368.2,599.8L368.6,600.4L369.0,600.9L369.4,600.5L369.8,600.9L370.2,600.4L370.6,600.1L371.0,600.9L371.4,600.5L371.8,600.9L372.2,600.4L372.6,600.4L373.0,600.9L373.4,600.2L373.8,600.4L374.2,600.9M378.2,600.9L378.6,600.5L379.0,600.9L379.4,600.9L379.8,600.3L380.2,600.9L380.6,600.3L381.0,600.9L381.4,600.1L381.8,600.9L382.2,600.9L382.6,600.6L383.0,600.9L383.4,600.9L383.8,600.9L384.2,600.9L384.6,600.6L385.0,600.9L385.4,600.9L385.8,600.9L386.2,600.4L386.6,600.9L387.0,600.2L387.4,600.3L387.8,600.9L388.2,600.9L388.6,600.0L389.0,600.9L389.4,600.9L389.8,600.9L390.2,600.9L390.6,599.7L391.0,600.9M393.4,600.9L393.8,600.6L394.2,600.9L394.6,600.9L395.0,600.0L395.4,600.9L395.8,600.4L396.2,600.9L396.6,600.9L397.0,599.7L397.4,600.9L397.8,600.9L398.2,600.4L398.6,600.9L399.0,600.9L399.4,600.9L399.8,600.4L400.2,600.9L400.6,600.9L401.0,600.4L401.4,599.8L401.8,600.9M403.8,600.9L404.2,600.5L404.6,600.9L405.0,600.4L405.4,600.4L405.8,600.4L406.2,600.0L406.6,600.9L407.0,600.9L407.4,600.3L407.8,600.2L408.2,600.3L408.6,600.9M411.0,600.9L411.4,600.4L411.8,600.4L412.2,600.9L412.6,600.9L413.0,600.9L413.4,600.6L413.8,600.4L414.2,600.9L414.6,600.4L415.0,600.9L415.4,600.5L415.8,600.4L416.2,600.9L416.6,600.9L417.0,600.2L417.4,600.9L417.8,600.4L418.2,600.9M419.8,600.9L420.2,599.9L420.6,600.1L421.0,600.9L421.4,600.5L421.8,600.3L422.2,600.9L422.6,599.9L423.0,600.9L423.4,600.5L423.8,600.9L424.2,600.9L424.6,600.9L425.0,600.9L425.4,600.3L425.8,600.9L426.2,600.3L426.6,600.9M428.6,600.9L429.0,600.2L429.4,600.9M432.2,600.9L432.6,600.1L433.0,600.9L433.4,600.9L433.8,600.0L434.2,600.6L434.6,600.9L435.0,600.5L435.4,600.9L435.8,600.9L436.2,600.4L436.6,600.9L437.0,600.9L437.4,600.6L437.8,600.9L438.2,600.9L438.6,600.5L439.0,600.1L439.4,600.2L439.8,600.9L440.2,600.4L440.6,600.9L441.0,600.9L441.4,600.6L441.8,600.5L442.2,600.1L442.6,600.9L443.0,600.3L443.4,600.9L443.8,600.9L444.2,600.6L444.6,600.1L445.0,600.9" fill="none" stroke="#c2507c" stroke-width="0.75" stroke-linejoin="round" stroke-dasharray="1 0.7"/>
<path d="M263.8,599.2L264.2,597.9L264.6,597.1L265.0,595.5L265.4,595.7L265.8,595.8L266.2,595.4L266.6,594.7L267.0,592.3L267.4,594.5L267.8,592.5L268.2,591.7L268.6,587.9L269.0,588.0L269.4,587.9L269.8,584.3L270.2,580.7L270.6,580.5L271.0,582.8L271.4,579.1L271.8,574.7L272.2,578.4L272.6,575.3L273.0,571.6L273.4,567.5L273.8,568.3L274.2,564.0L274.6,562.7L275.0,559.4L275.4,561.2L275.8,561.9L276.2,560.0L276.6,552.4L277.0,548.7L277.4,548.6L277.8,553.0L278.2,552.4L278.6,547.7L279.0,548.8L279.4,551.0L279.8,547.4L280.2,548.0L280.6,546.3L281.0,545.2L281.4,546.2L281.8,546.8L282.2,546.6L282.6,549.2L283.0,551.0L283.4,551.8L283.8,548.9L284.2,554.0L284.6,552.5L285.0,551.8L285.4,553.1L285.8,564.2L286.2,560.0L286.6,559.6L287.0,564.5L287.4,566.6L287.8,569.7L288.2,569.5L288.6,569.5L289.0,574.9L289.4,572.4L289.8,575.5L290.2,575.1L290.6,578.5L291.0,577.5L291.4,578.5L291.8,581.2L292.2,582.2L292.6,580.4L293.0,581.9L293.4,585.1L293.8,584.0L294.2,587.3L294.6,587.0L295.0,591.3L295.4,588.4L295.8,587.2L296.2,589.4L296.6,588.5L297.0,590.6L297.4,589.8L297.8,590.9L298.2,592.3L298.6,588.9L299.0,592.9L299.4,593.8L299.8,592.4L300.2,592.3L300.6,592.8L301.0,593.6L301.4,593.2L301.8,593.0L302.2,593.6L302.6,596.0L303.0,593.0L303.4,595.1L303.8,597.3L304.2,594.7L304.6,595.9L305.0,595.7L305.4,594.3L305.8,596.9L306.2,597.2L306.6,597.7L307.0,596.8L307.4,596.6L307.8,597.0L308.2,597.4L308.6,599.4L309.0,597.7L309.4,597.2L309.8,598.6L310.2,598.8L310.6,599.2L311.0,598.5L311.4,599.9L311.8,597.6L312.2,599.1L312.6,599.5L313.0,600.0L313.4,599.0L313.8,598.8L314.2,599.9L314.6,599.5L315.0,599.5L315.4,599.2L315.8,599.5L316.2,599.2L316.6,600.9L317.0,598.6L317.4,600.3L317.8,600.9L318.2,600.9L318.6,600.0L319.0,599.9L319.4,599.1L319.8,599.8L320.2,600.9L320.6,600.6L321.0,600.9L321.4,600.9L321.8,600.6L322.2,600.9L322.6,600.0L323.0,600.4L323.4,600.3L323.8,600.9L324.2,600.9L324.6,600.4L325.0,600.9L325.4,599.8L325.8,600.1L326.2,600.9L326.6,600.9L327.0,600.9L327.4,600.9L327.8,600.2L328.2,600.9L328.6,600.5L329.0,600.9L329.4,600.9L329.8,600.2L330.2,600.9L330.6,599.9L331.0,600.9L331.4,600.6L331.8,600.6L332.2,600.5L332.6,600.0L333.0,600.9L333.4,600.9L333.8,600.9L334.2,600.0L334.6,600.6L335.0,600.6L335.4,600.6L335.8,600.9L336.2,600.5L336.6,600.9M339.0,600.9L339.4,600.5L339.8,600.9L340.2,600.5L340.6,600.5L341.0,600.9L341.4,600.6L341.8,600.9L342.2,600.9L342.6,600.1L343.0,600.9L343.4,600.9L343.8,600.9L344.2,600.0L344.6,600.9L345.0,600.9L345.4,600.9L345.8,600.0L346.2,600.9L346.6,600.2L347.0,600.4L347.4,600.4L347.8,600.5L348.2,600.3L348.6,600.9L349.0,600.9L349.4,600.9L349.8,600.4L350.2,600.9L350.6,600.3L351.0,599.6L351.4,600.9L351.8,600.6L352.2,600.9L352.6,600.9L353.0,600.9L353.4,600.9L353.8,600.2L354.2,600.9M355.8,600.9L356.2,599.9L356.6,600.9L357.0,600.9L357.4,600.5L357.8,600.9M362.2,600.9L362.6,600.5L363.0,600.9L363.4,600.9L363.8,600.6L364.2,600.9L364.6,600.9L365.0,600.6L365.4,600.9L365.8,600.9L366.2,600.9L366.6,600.9L367.0,600.4L367.4,600.4L367.8,600.9M369.4,600.9L369.8,600.5L370.2,600.5L370.6,600.5L371.0,600.9L371.4,600.9L371.8,600.2L372.2,600.1L372.6,600.9L373.0,600.9L373.4,600.6L373.8,600.9L374.2,600.9L374.6,600.9L375.0,600.2L375.4,600.9M377.0,600.9L377.4,600.6L377.8,600.9L378.2,600.3L378.6,600.9M381.4,600.9L381.8,600.4L382.2,600.9L382.6,600.9L383.0,600.6L383.4,600.5L383.8,600.9M387.0,600.9L387.4,600.5L387.8,600.9L388.2,600.9L388.6,600.9L389.0,600.9L389.4,600.2L389.8,600.9L390.2,600.9L390.6,600.9L391.0,600.0L391.4,600.9M393.0,600.9L393.4,600.5L393.8,600.9M395.4,600.9L395.8,600.2L396.2,600.9L396.6,600.9L397.0,600.3L397.4,600.9L397.8,600.4L398.2,600.9L398.6,600.9L399.0,600.9L399.4,600.9L399.8,600.6L400.2,600.3L400.6,600.6L401.0,600.4L401.4,600.5L401.8,600.9L402.2,600.9L402.6,600.3L403.0,600.9L403.4,600.6L403.8,600.5L404.2,600.3L404.6,600.9L405.0,599.9L405.4,600.9L405.8,600.9L406.2,599.8L406.6,600.9L407.0,599.9L407.4,600.9L407.8,600.1L408.2,600.2L408.6,600.9M413.0,600.9L413.4,600.5L413.8,600.9L414.2,600.9L414.6,600.9L415.0,600.5L415.4,600.0L415.8,600.0L416.2,600.5L416.6,600.5L417.0,600.5L417.4,600.9L417.8,600.9L418.2,600.9L418.6,600.6L419.0,600.9L419.4,600.9L419.8,599.9L420.2,600.5L420.6,600.4L421.0,600.5L421.4,600.9M423.0,600.9L423.4,600.5L423.8,600.6L424.2,600.9M429.0,600.9L429.4,600.5L429.8,600.5L430.2,600.6L430.6,600.9L431.0,600.9L431.4,600.9L431.8,600.9L432.2,600.5L432.6,600.9L433.0,600.9L433.4,600.5L433.8,600.9L434.2,600.5L434.6,600.9M436.2,600.9L436.6,600.1L437.0,600.9M438.6,600.9L439.0,599.8L439.4,600.9L439.8,600.5L440.2,600.9M443.4,600.9L443.8,600.5L444.2,600.9L444.6,600.5L445.0,600.2" fill="none" stroke="#1a1a1a" stroke-width="0.7" stroke-linejoin="round"/>
<path d="M263.5,601.2L263.5,552.8L263.8,600.6L264.2,599.2L264.6,599.2L265.0,600.9L265.4,599.1L265.8,599.2L266.2,600.3L266.6,598.1L267.0,600.9L267.4,598.4L267.8,599.2L268.2,600.3L268.6,599.2L269.0,600.9L269.4,598.6L269.8,598.6L270.2,597.9L270.6,597.6L271.0,599.5L271.4,598.3L271.8,599.3L272.2,600.9L272.6,597.6L273.0,597.2L273.4,598.1L273.8,596.4L274.2,598.3L274.6,600.0L275.0,598.5L275.4,598.2L275.8,597.6L276.2,598.3L276.6,600.3L277.0,599.1L277.4,597.8L277.8,596.2L278.2,598.3L278.6,599.0L279.0,598.0L279.4,596.3L279.8,595.8L280.2,598.5L280.6,596.4L281.0,595.7L281.4,596.3L281.8,598.6L282.2,596.6L282.6,597.9L283.0,598.0L283.4,595.2L283.8,597.6L284.2,597.1L284.6,596.5L285.0,596.1L285.4,597.8L285.8,598.9L286.2,598.5L286.6,599.3L287.0,598.8L287.4,599.0L287.8,600.4L288.2,599.9L288.6,600.5L289.0,599.4L289.4,598.8L289.8,599.0L290.2,599.5L290.6,600.5L291.0,599.9L291.4,600.9L291.8,599.5L292.2,600.9L292.6,600.5L293.0,598.8L293.4,599.8L293.8,600.9L294.2,600.3L294.6,600.9L295.0,600.9L295.4,600.5L295.8,600.9L296.2,600.1L296.6,599.5L297.0,600.9L297.4,600.9L297.8,600.9L298.2,600.9L298.6,600.2L299.0,600.9L299.4,600.9L299.8,600.9L300.2,599.7L300.6,599.7L301.0,599.6L301.4,600.2L301.8,600.9L302.2,599.5L302.6,598.9L303.0,600.9L303.4,600.9L303.8,599.7L304.2,600.0L304.6,600.1L305.0,599.1L305.4,600.5L305.8,600.9L306.2,600.9L306.6,600.3L307.0,600.3L307.4,599.7L307.8,600.0L308.2,600.9L308.6,600.1L309.0,600.9L309.4,599.6L309.8,599.9L310.2,600.9L310.6,600.2L311.0,600.9L311.4,600.3L311.8,600.5L312.2,600.3L312.6,600.9L313.0,600.9L313.4,600.9L313.8,600.9L314.2,600.2L314.6,600.9L315.0,600.9L315.4,600.9L315.8,600.2L316.2,600.2L316.6,600.9L317.0,600.3L317.4,600.9L317.8,600.3L318.2,600.9L318.6,600.0L319.0,600.9L319.4,599.6L319.8,600.1L320.2,600.9L320.6,600.9L321.0,600.2L321.4,600.9L321.8,600.9L322.2,600.5L322.6,600.9L323.0,600.9L323.4,600.9L323.8,600.9L324.2,600.5L324.6,599.7L325.0,600.6L325.4,600.9L325.8,600.9L326.2,600.3L326.6,600.5L327.0,600.9L327.4,600.9L327.8,600.9L328.2,600.9L328.6,599.9L329.0,600.9L329.4,600.4L329.8,600.9L330.2,600.4L330.6,600.9M332.6,600.9L333.0,600.5L333.4,600.9M335.8,600.9L336.2,600.2L336.6,600.9L337.0,600.9L337.4,600.9L337.8,600.5L338.2,600.9L338.6,600.9L339.0,600.9L339.4,599.9L339.8,600.9M341.4,600.9L341.8,600.1L342.2,599.8L342.6,600.9L343.0,600.4L343.4,600.9L343.8,600.9L344.2,599.9L344.6,600.5L345.0,600.9M348.6,600.9L349.0,600.1L349.4,600.9M351.0,600.9L351.4,600.4L351.8,600.9M357.0,600.9L357.4,600.4L357.8,600.9L358.2,600.9L358.6,600.9L359.0,600.0L359.4,600.9L359.8,600.9L360.2,600.9L360.6,600.9L361.0,600.4L361.4,600.9M363.0,600.9L363.4,600.1L363.8,600.9L364.2,600.9L364.6,600.9L365.0,600.1L365.4,600.9L365.8,600.9L366.2,600.9L366.6,600.9L367.0,600.6L367.4,600.9L367.8,600.9L368.2,600.5L368.6,600.9M370.2,600.9L370.6,600.0L371.0,600.9L371.4,600.9L371.8,600.9L372.2,600.3L372.6,600.4L373.0,600.9L373.4,600.9L373.8,600.9L374.2,599.8L374.6,600.4L375.0,599.7L375.4,599.7L375.8,600.9L376.2,600.5L376.6,600.9L377.0,600.9L377.4,600.9L377.8,600.9L378.2,600.5L378.6,600.9L379.0,600.9L379.4,600.9L379.8,600.4L380.2,600.6L380.6,600.4L381.0,600.9M383.0,600.9L383.4,600.4L383.8,600.9L384.2,600.9L384.6,600.9L385.0,600.9L385.4,600.2L385.8,600.9M387.8,600.9L388.2,600.5L388.6,600.5L389.0,600.9M390.6,600.9L391.0,599.9L391.4,600.6L391.8,600.4L392.2,600.4L392.6,600.9L393.0,600.9L393.4,600.9L393.8,600.3L394.2,600.9L394.6,600.9L395.0,600.9L395.4,599.5L395.8,600.9L396.2,600.6L396.6,599.8L397.0,600.9L397.4,600.9L397.8,600.2L398.2,600.5L398.6,600.9L399.0,600.9L399.4,600.9L399.8,600.3L400.2,600.3L400.6,600.9M403.4,600.9L403.8,600.5L404.2,600.2L404.6,600.0L405.0,600.9L405.4,600.9L405.8,600.2L406.2,600.9L406.6,600.9L407.0,600.5L407.4,600.9L407.8,600.9L408.2,600.9L408.6,600.9L409.0,600.0L409.4,600.9M412.2,600.9L412.6,600.1L413.0,600.9L413.4,600.9L413.8,600.5L414.2,600.6L414.6,600.9L415.0,600.4L415.4,600.3L415.8,600.9L416.2,600.4L416.6,600.5L417.0,600.3L417.4,600.5L417.8,600.9L418.2,600.9L418.6,600.5L419.0,600.9L419.4,600.9L419.8,600.9L420.2,600.2L420.6,600.3L421.0,600.3L421.4,600.9L421.8,600.5L422.2,600.3L422.6,600.9M425.0,600.9L425.4,600.5L425.8,600.9L426.2,600.2L426.6,600.9L427.0,600.9L427.4,600.9L427.8,600.6L428.2,600.9L428.6,600.9L429.0,600.4L429.4,600.4L429.8,600.9L430.2,600.9L430.6,600.9L431.0,600.6L431.4,600.9L431.8,600.9L432.2,599.9L432.6,599.8L433.0,600.9L433.4,600.9L433.8,600.9L434.2,600.1L434.6,600.9L435.0,600.9L435.4,600.9L435.8,600.2L436.2,600.9L436.6,600.9L437.0,600.0L437.4,600.5L437.8,600.9L438.2,600.9L438.6,600.2L439.0,600.9M441.8,600.9L442.2,600.5L442.6,600.1L443.0,600.4L443.4,599.8L443.8,600.4L444.2,600.9L444.6,600.9L445.0,600.9" fill="none" stroke="#22e022" stroke-width="1.25" stroke-linejoin="round"/>
<path d="M265.4,600.9L265.8,600.4L266.2,599.9L266.6,600.9L267.0,600.9L267.4,600.9L267.8,600.9L268.2,600.4L268.6,600.9L269.0,600.9L269.4,600.9L269.8,599.9L270.2,599.9L270.6,600.4L271.0,600.9M272.6,600.9L273.0,599.7L273.4,600.9L273.8,600.9L274.2,599.7L274.6,600.1L275.0,600.9L275.4,600.2L275.8,600.0L276.2,600.9L276.6,600.9L277.0,600.1L277.4,599.7L277.8,599.7L278.2,600.9L278.6,600.9L279.0,599.8L279.4,600.2L279.8,599.8L280.2,597.9L280.6,600.9L281.0,599.4L281.4,600.0L281.8,598.6L282.2,596.8L282.6,598.0L283.0,596.8L283.4,599.0L283.8,597.4L284.2,595.9L284.6,597.6L285.0,597.9L285.4,598.6L285.8,594.4L286.2,596.2L286.6,593.8L287.0,595.1L287.4,595.0L287.8,593.6L288.2,594.2L288.6,592.4L289.0,594.8L289.4,594.6L289.8,593.3L290.2,594.0L290.6,593.3L291.0,591.4L291.4,592.0L291.8,592.6L292.2,589.3L292.6,594.6L293.0,593.2L293.4,592.5L293.8,590.5L294.2,591.2L294.6,591.4L295.0,589.9L295.4,592.7L295.8,594.0L296.2,590.8L296.6,590.5L297.0,594.9L297.4,594.4L297.8,593.9L298.2,593.4L298.6,594.1L299.0,593.4L299.4,597.2L299.8,595.8L300.2,597.6L300.6,594.5L301.0,594.6L301.4,595.9L301.8,596.5L302.2,596.9L302.6,597.2L303.0,598.3L303.4,597.0L303.8,597.1L304.2,598.8L304.6,597.8L305.0,597.0L305.4,597.1L305.8,596.6L306.2,596.5L306.6,600.5L307.0,599.7L307.4,599.8L307.8,599.2L308.2,598.5L308.6,600.9L309.0,599.4L309.4,599.7L309.8,599.1L310.2,599.8L310.6,600.9L311.0,600.0L311.4,600.9L311.8,600.4L312.2,600.5L312.6,600.4L313.0,600.2L313.4,600.2L313.8,599.8L314.2,600.1L314.6,600.9L315.0,600.2L315.4,600.9L315.8,600.1L316.2,600.9L316.6,600.9L317.0,600.9L317.4,600.9L317.8,600.2L318.2,600.9L318.6,600.5L319.0,600.9L319.4,600.9L319.8,600.9L320.2,600.9L320.6,600.5L321.0,600.9L321.4,600.4L321.8,600.9L322.2,600.3L322.6,600.9L323.0,600.9L323.4,600.9L323.8,600.9L324.2,600.2L324.6,600.9M326.2,600.9L326.6,600.1L327.0,600.9L327.4,600.9L327.8,600.9L328.2,600.3L328.6,600.9M331.0,600.9L331.4,600.4L331.8,600.9L332.2,600.9L332.6,600.5L333.0,599.9L333.4,600.9L333.8,600.9L334.2,600.4L334.6,600.5L335.0,600.9L335.4,600.2L335.8,600.1L336.2,600.9L336.6,600.9L337.0,600.5L337.4,600.9L337.8,600.9L338.2,600.2L338.6,600.9L339.0,600.9L339.4,600.5L339.8,600.6L340.2,600.9L340.6,600.9L341.0,600.2L341.4,600.3L341.8,600.9L342.2,600.9L342.6,600.3L343.0,599.7L343.4,600.9L343.8,600.9L344.2,600.9L344.6,600.9L345.0,600.2L345.4,600.9L345.8,600.9L346.2,600.9L346.6,600.1L347.0,600.6L347.4,600.2L347.8,600.0L348.2,600.9L348.6,600.9L349.0,600.9L349.4,600.9L349.8,600.3L350.2,600.9M352.2,600.9L352.6,600.4L353.0,600.5L353.4,600.6L353.8,600.2L354.2,600.9L354.6,600.9L355.0,599.8L355.4,600.9L355.8,600.9L356.2,600.4L356.6,600.9L357.0,600.9L357.4,600.5L357.8,600.4L358.2,600.9M362.6,600.9L363.0,600.2L363.4,600.4L363.8,600.9L364.2,600.9L364.6,600.9L365.0,600.9L365.4,600.5L365.8,600.9L366.2,600.9L366.6,600.4L367.0,600.6L367.4,600.9L367.8,600.2L368.2,600.9L368.6,600.9L369.0,600.1L369.4,600.1L369.8,600.3L370.2,600.9L370.6,600.9L371.0,600.9L371.4,600.9L371.8,600.4L372.2,600.3L372.6,600.9L373.0,600.3L373.4,600.9L373.8,600.2L374.2,600.9L374.6,600.9L375.0,600.9L375.4,600.4L375.8,600.6L376.2,600.9L376.6,600.4L377.0,600.4L377.4,600.9L377.8,600.1L378.2,600.9M379.8,600.9L380.2,600.5L380.6,600.9L381.0,600.9L381.4,600.3L381.8,600.9L382.2,600.5L382.6,600.9L383.0,600.9L383.4,600.4L383.8,600.9L384.2,600.9L384.6,600.9L385.0,600.4L385.4,600.2L385.8,600.9L386.2,600.9L386.6,600.1L387.0,600.9L387.4,600.9L387.8,600.9L388.2,600.9L388.6,600.5L389.0,600.6L389.4,600.9L389.8,600.0L390.2,600.9L390.6,600.9L391.0,600.1L391.4,600.2L391.8,600.9L392.2,600.9L392.6,600.9L393.0,600.6L393.4,600.5L393.8,600.1L394.2,600.9L394.6,600.9L395.0,600.3L395.4,600.9L395.8,600.0L396.2,600.3L396.6,600.3L397.0,600.9M398.6,600.9L399.0,600.3L399.4,600.9L399.8,600.9L400.2,599.9L400.6,600.4L401.0,600.9M402.6,600.9L403.0,600.6L403.4,600.9L403.8,600.9L404.2,600.9L404.6,600.9L405.0,600.0L405.4,599.8L405.8,600.3L406.2,600.9L406.6,600.9L407.0,600.4L407.4,600.9L407.8,600.9L408.2,600.9L408.6,600.1L409.0,600.9L409.4,600.9L409.8,600.4L410.2,600.4L410.6,600.9L411.0,600.9L411.4,600.5L411.8,600.9L412.2,600.9L412.6,600.9L413.0,600.1L413.4,600.9L413.8,600.9L414.2,600.4L414.6,600.1L415.0,600.9M417.0,600.9L417.4,600.3L417.8,600.9L418.2,599.6L418.6,600.9L419.0,600.9L419.4,600.9L419.8,600.9L420.2,600.3L420.6,600.9L421.0,600.9L421.4,600.3L421.8,600.9L422.2,599.5L422.6,600.9L423.0,600.4L423.4,600.9L423.8,600.6L424.2,600.9L424.6,600.9L425.0,600.6L425.4,600.9L425.8,600.9L426.2,599.9L426.6,600.9L427.0,600.5L427.4,600.9L427.8,600.9L428.2,600.9L428.6,600.9L429.0,600.6L429.4,600.2L429.8,600.9L430.2,600.2L430.6,600.9L431.0,600.9L431.4,600.9L431.8,600.2L432.2,600.9L432.6,600.9L433.0,600.1L433.4,600.9L433.8,600.9L434.2,600.3L434.6,600.9L435.0,600.9L435.4,600.1L435.8,600.3L436.2,600.9M437.8,600.9L438.2,600.4L438.6,600.9L439.0,600.9L439.4,600.4L439.8,600.9L440.2,600.0L440.6,600.9L441.0,600.9L441.4,600.9L441.8,600.3L442.2,600.9L442.6,600.5L443.0,600.9L443.4,600.9L443.8,600.1L444.2,600.9L444.6,600.9L445.0,600.3" fill="none" stroke="#62c4e4" stroke-width="0.75" stroke-linejoin="round" stroke-dasharray="0.8 0.9"/>
<path d="M263.8,600.1L264.2,600.9L264.6,600.1L265.0,600.5L265.4,600.2L265.8,600.1L266.2,599.5L266.6,599.2L267.0,599.0L267.4,600.9L267.8,599.9L268.2,599.1L268.6,600.4L269.0,600.4L269.4,598.5L269.8,599.3L270.2,599.2L270.6,600.1L271.0,598.6L271.4,598.8L271.8,599.5L272.2,599.3L272.6,598.9L273.0,599.4L273.4,599.2L273.8,597.9L274.2,599.4L274.6,600.3L275.0,597.8L275.4,596.9L275.8,599.0L276.2,597.8L276.6,597.9L277.0,598.7L277.4,598.4L277.8,596.9L278.2,599.1L278.6,596.3L279.0,592.6L279.4,592.1L279.8,598.2L280.2,594.9L280.6,595.7L281.0,593.2L281.4,593.6L281.8,592.6L282.2,591.3L282.6,589.8L283.0,589.2L283.4,587.5L283.8,585.7L284.2,582.6L284.6,584.1L285.0,584.1L285.4,580.5L285.8,580.9L286.2,578.5L286.6,581.8L287.0,581.9L287.4,573.8L287.8,579.2L288.2,576.9L288.6,573.2L289.0,573.9L289.4,567.8L289.8,567.8L290.2,566.4L290.6,561.3L291.0,564.8L291.4,565.5L291.8,567.3L292.2,564.7L292.6,564.4L293.0,560.5L293.4,554.5L293.8,560.7L294.2,559.5L294.6,566.7L295.0,553.5L295.4,563.6L295.8,559.3L296.2,565.8L296.6,557.8L297.0,560.7L297.4,564.7L297.8,556.9L298.2,557.3L298.6,562.3L299.0,565.4L299.4,564.0L299.8,567.4L300.2,564.5L300.6,568.4L301.0,570.2L301.4,568.8L301.8,564.2L302.2,575.1L302.6,568.8L303.0,571.0L303.4,571.8L303.8,573.9L304.2,574.0L304.6,582.6L305.0,578.2L305.4,584.4L305.8,580.1L306.2,581.4L306.6,581.1L307.0,581.8L307.4,585.4L307.8,585.6L308.2,582.2L308.6,583.6L309.0,587.2L309.4,589.5L309.8,588.8L310.2,587.7L310.6,589.4L311.0,590.2L311.4,589.2L311.8,591.1L312.2,591.6L312.6,593.1L313.0,593.2L313.4,593.6L313.8,595.9L314.2,595.6L314.6,597.6L315.0,596.0L315.4,597.7L315.8,595.8L316.2,595.0L316.6,597.5L317.0,596.4L317.4,596.2L317.8,599.7L318.2,596.4L318.6,600.0L319.0,599.8L319.4,599.7L319.8,600.1L320.2,600.2L320.6,598.6L321.0,598.4L321.4,598.3L321.8,598.7L322.2,598.1L322.6,599.5L323.0,599.7L323.4,598.4L323.8,600.1L324.2,598.7L324.6,599.9L325.0,600.9L325.4,600.5L325.8,600.3L326.2,599.8L326.6,599.7L327.0,599.5L327.4,599.7L327.8,599.3L328.2,600.9L328.6,599.8L329.0,599.2L329.4,600.9L329.8,599.8L330.2,599.6L330.6,600.9L331.0,600.9L331.4,600.9L331.8,600.5L332.2,599.9L332.6,600.0L333.0,600.1L333.4,600.5L333.8,600.9L334.2,600.9L334.6,600.5L335.0,600.9L335.4,600.6L335.8,600.9L336.2,600.9L336.6,600.3L337.0,600.9L337.4,600.2L337.8,600.0L338.2,600.9L338.6,599.4L339.0,600.9L339.4,600.9L339.8,600.9L340.2,600.9L340.6,600.9L341.0,600.0L341.4,600.5L341.8,599.9L342.2,600.9L342.6,600.3L343.0,600.9L343.4,600.9L343.8,599.6L344.2,599.8L344.6,600.9L345.0,600.9L345.4,600.9L345.8,600.9L346.2,600.9L346.6,600.4L347.0,600.5L347.4,600.9L347.8,600.9L348.2,600.4L348.6,600.5L349.0,599.8L349.4,600.9L349.8,600.3L350.2,600.4L350.6,600.4L351.0,600.5L351.4,600.9L351.8,600.4L352.2,600.9L352.6,600.9L353.0,600.9L353.4,600.9L353.8,600.9L354.2,600.2L354.6,600.9L355.0,600.9L355.4,600.9L355.8,600.4L356.2,600.9L356.6,600.9L357.0,600.9L357.4,600.5L357.8,600.0L358.2,600.9L358.6,600.4L359.0,600.1L359.4,600.9L359.8,600.6L360.2,600.9L360.6,600.9L361.0,600.9L361.4,600.9L361.8,599.7L362.2,600.9L362.6,600.9L363.0,600.9L363.4,600.9L363.8,600.9L364.2,600.9L364.6,600.9L365.0,600.9L365.4,600.5L365.8,600.0L366.2,600.9L366.6,600.9L367.0,600.9L367.4,600.6L367.8,600.9L368.2,600.9L368.6,600.9L369.0,600.9L369.4,600.0L369.8,600.9L370.2,600.1L370.6,600.9L371.0,600.1L371.4,600.3L371.8,600.9L372.2,600.9L372.6,600.9L373.0,600.5L373.4,600.9L373.8,600.3L374.2,600.9L374.6,600.5L375.0,600.9L375.4,600.9L375.8,600.9L376.2,600.9L376.6,600.9L377.0,600.5L377.4,600.9L377.8,600.9L378.2,600.9L378.6,600.2L379.0,600.9L379.4,600.9L379.8,600.2L380.2,600.4L380.6,600.4L381.0,600.2L381.4,600.4L381.8,600.5L382.2,600.9L382.6,599.9L383.0,600.2L383.4,600.0L383.8,600.9L384.2,600.5L384.6,600.9L385.0,600.9L385.4,600.9L385.8,600.9L386.2,600.5L386.6,600.9L387.0,600.5L387.4,600.9L387.8,599.6L388.2,600.9L388.6,600.9L389.0,600.9L389.4,600.4L389.8,600.9L390.2,600.9L390.6,600.0L391.0,600.9L391.4,600.9L391.8,600.9L392.2,600.3L392.6,600.9L393.0,600.9L393.4,600.9L393.8,600.9L394.2,600.9L394.6,600.5L395.0,600.9L395.4,600.9L395.8,600.6L396.2,600.9L396.6,600.9L397.0,600.9L397.4,600.5L397.8,600.9L398.2,600.4L398.6,600.6L399.0,600.9L399.4,600.9L399.8,600.3L400.2,600.9L400.6,600.9L401.0,600.9L401.4,599.8L401.8,600.9L402.2,600.9L402.6,600.9L403.0,600.9L403.4,599.9L403.8,600.9L404.2,600.9L404.6,600.9L405.0,600.9L405.4,600.9L405.8,600.4L406.2,600.3L406.6,600.1L407.0,600.9L407.4,600.9L407.8,600.9L408.2,600.9L408.6,600.9L409.0,600.9L409.4,600.9L409.8,600.4L410.2,600.5L410.6,600.9L411.0,600.1L411.4,600.9L411.8,600.9L412.2,600.3L412.6,600.5L413.0,600.9L413.4,600.9L413.8,600.5L414.2,600.9L414.6,600.9L415.0,600.1L415.4,600.9L415.8,600.9L416.2,599.7L416.6,600.9L417.0,600.4L417.4,600.9L417.8,599.8L418.2,600.9L418.6,600.0L419.0,600.9L419.4,600.0L419.8,600.3L420.2,600.9L420.6,600.9L421.0,600.9L421.4,600.9L421.8,600.1L422.2,600.9L422.6,600.9L423.0,600.3L423.4,600.5L423.8,600.4L424.2,600.5L424.6,600.9L425.0,600.9L425.4,600.9L425.8,600.9L426.2,600.9L426.6,600.9L427.0,600.9L427.4,600.3L427.8,600.1L428.2,600.9L428.6,600.4L429.0,599.6L429.4,600.2L429.8,600.9L430.2,600.9L430.6,600.5L431.0,600.6L431.4,600.9L431.8,600.9L432.2,600.9L432.6,600.3L433.0,600.9L433.4,599.7L433.8,600.9L434.2,600.9L434.6,600.9L435.0,600.9L435.4,600.9L435.8,600.9L436.2,600.9L436.6,600.9L437.0,600.9L437.4,600.9L437.8,600.6L438.2,600.3L438.6,600.6L439.0,600.9L439.4,600.4L439.8,600.9L440.2,600.9L440.6,600.9L441.0,600.0L441.4,600.2L441.8,600.9L442.2,599.9L442.6,600.9L443.0,600.0L443.4,600.9L443.8,600.4L444.2,600.9L444.6,600.9L445.0,600.9" fill="none" stroke="#ee9640" stroke-width="0.8" stroke-linejoin="round" stroke-dasharray="1.6 0.8"/>
<line x1="261.30" y1="601.20" x2="263.30" y2="601.20" stroke="#444" stroke-width="0.6"/>
<text x="260.00" y="601.20" font-size="3.6" text-anchor="middle" fill="#666" transform="rotate(-90 260.00 601.20)">0</text>
<line x1="262.10" y1="596.16" x2="263.30" y2="596.16" stroke="#444" stroke-width="0.6"/>
<line x1="262.10" y1="591.12" x2="263.30" y2="591.12" stroke="#444" stroke-width="0.6"/>
<line x1="262.10" y1="586.08" x2="263.30" y2="586.08" stroke="#444" stroke-width="0.6"/>
<line x1="261.30" y1="581.04" x2="263.30" y2="581.04" stroke="#444" stroke-width="0.6"/>
<text x="260.00" y="581.04" font-size="3.6" text-anchor="middle" fill="#666" transform="rotate(-90 260.00 581.04)">40</text>
<line x1="262.10" y1="576.00" x2="263.30" y2="576.00" stroke="#444" stroke-width="0.6"/>
<line x1="262.10" y1="570.96" x2="263.30" y2="570.96" stroke="#444" stroke-width="0.6"/>
<line x1="262.10" y1="565.92" x2="263.30" y2="565.92" stroke="#444" stroke-width="0.6"/>
<line x1="261.30" y1="560.88" x2="263.30" y2="560.88" stroke="#444" stroke-width="0.6"/>
<text x="260.00" y="560.88" font-size="3.6" text-anchor="middle" fill="#666" transform="rotate(-90 260.00 560.88)">80</text>
<line x1="262.10" y1="555.84" x2="263.30" y2="555.84" stroke="#444" stroke-width="0.6"/>
<line x1="262.10" y1="550.80" x2="263.30" y2="550.80" stroke="#444" stroke-width="0.6"/>
<line x1="262.10" y1="545.76" x2="263.30" y2="545.76" stroke="#444" stroke-width="0.6"/>
<line x1="261.30" y1="540.72" x2="263.30" y2="540.72" stroke="#444" stroke-width="0.6"/>
<text x="260.00" y="540.72" font-size="3.6" text-anchor="middle" fill="#666" transform="rotate(-90 260.00 540.72)">120</text>
<line x1="262.10" y1="535.68" x2="263.30" y2="535.68" stroke="#444" stroke-width="0.6"/>
<line x1="262.10" y1="530.64" x2="263.30" y2="530.64" stroke="#444" stroke-width="0.6"/>
<line x1="262.10" y1="525.60" x2="263.30" y2="525.60" stroke="#444" stroke-width="0.6"/>
<line x1="261.30" y1="520.56" x2="263.30" y2="520.56" stroke="#444" stroke-width="0.6"/>
<text x="260.00" y="520.56" font-size="3.6" text-anchor="middle" fill="#666" transform="rotate(-90 260.00 520.56)">160</text>
<line x1="262.10" y1="515.52" x2="263.30" y2="515.52" stroke="#444" stroke-width="0.6"/>
<line x1="262.10" y1="510.48" x2="263.30" y2="510.48" stroke="#444" stroke-width="0.6"/>
<line x1="262.10" y1="505.44" x2="263.30" y2="505.44" stroke="#444" stroke-width="0.6"/>
<line x1="261.30" y1="500.40" x2="263.30" y2="500.40" stroke="#444" stroke-width="0.6"/>
<text x="260.00" y="500.40" font-size="3.6" text-anchor="middle" fill="#666" transform="rotate(-90 260.00 500.40)">200</text>
<line x1="263.30" y1="601.20" x2="263.30" y2="603.80" stroke="#444" stroke-width="0.6"/>
<line x1="277.03" y1="601.20" x2="277.03" y2="602.60" stroke="#444" stroke-width="0.6"/>
<line x1="285.06" y1="601.20" x2="285.06" y2="602.60" stroke="#444" stroke-width="0.6"/>
<line x1="290.75" y1="601.20" x2="290.75" y2="602.60" stroke="#444" stroke-width="0.6"/>
<line x1="295.17" y1="601.20" x2="295.17" y2="602.60" stroke="#444" stroke-width="0.6"/>
<line x1="298.78" y1="601.20" x2="298.78" y2="602.60" stroke="#444" stroke-width="0.6"/>
<line x1="301.84" y1="601.20" x2="301.84" y2="602.60" stroke="#444" stroke-width="0.6"/>
<line x1="304.48" y1="601.20" x2="304.48" y2="602.60" stroke="#444" stroke-width="0.6"/>
<line x1="306.81" y1="601.20" x2="306.81" y2="602.60" stroke="#444" stroke-width="0.6"/>
<line x1="308.90" y1="601.20" x2="308.90" y2="603.80" stroke="#444" stroke-width="0.6"/>
<line x1="322.63" y1="601.20" x2="322.63" y2="602.60" stroke="#444" stroke-width="0.6"/>
<line x1="330.66" y1="601.20" x2="330.66" y2="602.60" stroke="#444" stroke-width="0.6"/>
<line x1="336.35" y1="601.20" x2="336.35" y2="602.60" stroke="#444" stroke-width="0.6"/>
<line x1="340.77" y1="601.20" x2="340.77" y2="602.60" stroke="#444" stroke-width="0.6"/>
<line x1="344.38" y1="601.20" x2="344.38" y2="602.60" stroke="#444" stroke-width="0.6"/>
<line x1="347.44" y1="601.20" x2="347.44" y2="602.60" stroke="#444" stroke-width="0.6"/>
<line x1="350.08" y1="601.20" x2="350.08" y2="602.60" stroke="#444" stroke-width="0.6"/>
<line x1="352.41" y1="601.20" x2="352.41" y2="602.60" stroke="#444" stroke-width="0.6"/>
<line x1="354.50" y1="601.20" x2="354.50" y2="603.80" stroke="#444" stroke-width="0.6"/>
<line x1="368.23" y1="601.20" x2="368.23" y2="602.60" stroke="#444" stroke-width="0.6"/>
<line x1="376.26" y1="601.20" x2="376.26" y2="602.60" stroke="#444" stroke-width="0.6"/>
<line x1="381.95" y1="601.20" x2="381.95" y2="602.60" stroke="#444" stroke-width="0.6"/>
<line x1="386.37" y1="601.20" x2="386.37" y2="602.60" stroke="#444" stroke-width="0.6"/>
<line x1="389.98" y1="601.20" x2="389.98" y2="602.60" stroke="#444" stroke-width="0.6"/>
<line x1="393.04" y1="601.20" x2="393.04" y2="602.60" stroke="#444" stroke-width="0.6"/>
<line x1="395.68" y1="601.20" x2="395.68" y2="602.60" stroke="#444" stroke-width="0.6"/>
<line x1="398.01" y1="601.20" x2="398.01" y2="602.60" stroke="#444" stroke-width="0.6"/>
<line x1="400.10" y1="601.20" x2="400.10" y2="603.80" stroke="#444" stroke-width="0.6"/>
<line x1="413.83" y1="601.20" x2="413.83" y2="602.60" stroke="#444" stroke-width="0.6"/>
<line x1="421.86" y1="601.20" x2="421.86" y2="602.60" stroke="#444" stroke-width="0.6"/>
<line x1="427.55" y1="601.20" x2="427.55" y2="602.60" stroke="#444" stroke-width="0.6"/>
<line x1="431.97" y1="601.20" x2="431.97" y2="602.60" stroke="#444" stroke-width="0.6"/>
<line x1="435.58" y1="601.20" x2="435.58" y2="602.60" stroke="#444" stroke-width="0.6"/>
<line x1="438.64" y1="601.20" x2="438.64" y2="602.60" stroke="#444" stroke-width="0.6"/>
<line x1="441.28" y1="601.20" x2="441.28" y2="602.60" stroke="#444" stroke-width="0.6"/>
<line x1="443.61" y1="601.20" x2="443.61" y2="602.60" stroke="#444" stroke-width="0.6"/>
<text x="262.30" y="607.80" font-size="3.8" text-anchor="middle" fill="#666">10</text>
<text x="264.70" y="606.20" font-size="2.8" fill="#666">0</text>
<text x="307.90" y="607.80" font-size="3.8" text-anchor="middle" fill="#666">10</text>
<text x="310.30" y="606.20" font-size="2.8" fill="#666">1</text>
<text x="353.50" y="607.80" font-size="3.8" text-anchor="middle" fill="#666">10</text>
<text x="355.90" y="606.20" font-size="2.8" fill="#666">2</text>
<text x="399.10" y="607.80" font-size="3.8" text-anchor="middle" fill="#666">10</text>
<text x="401.50" y="606.20" font-size="2.8" fill="#666">3</text>
<text x="444.70" y="607.80" font-size="3.8" text-anchor="middle" fill="#666">10</text>
<text x="447.10" y="606.20" font-size="2.8" fill="#666">4</text>
<text x="340.30" y="514.40" font-size="8.7" stroke="#2a2a2a" stroke-width="0.12" fill="#2a2a2a">786-O</text>
<text x="322.60" y="617.00" font-size="8.7" stroke="#2a2a2a" stroke-width="0.12" fill="#2a2a2a" textLength="59.60" lengthAdjust="spacingAndGlyphs">Mouse IgG1 PE</text>
<text x="249.80" y="552.10" font-size="8.7" stroke="#2a2a2a" stroke-width="0.12" text-anchor="middle" fill="#2a2a2a" textLength="27.40" lengthAdjust="spacingAndGlyphs" transform="rotate(-90 249.80 552.10)" dominant-baseline="central">Counts</text>
<rect x="476.30" y="500.60" width="181.50" height="101.40" fill="none" stroke="#7a7a7a" stroke-width="0.9"/>
<line x1="476.30" y1="500.60" x2="476.30" y2="602.00" stroke="#3a3a3a" stroke-width="0.8"/>
<line x1="476.30" y1="602.00" x2="657.80" y2="602.00" stroke="#3a3a3a" stroke-width="0.8"/>
<path d="M476.8,588.2L477.2,584.3L477.6,586.9L478.0,587.4L478.4,582.2L478.8,580.0L479.2,578.9L479.6,577.0L480.0,576.7L480.4,576.2L480.8,574.9L481.2,572.1L481.6,570.9L482.0,566.1L482.4,565.3L482.8,568.5L483.2,562.2L483.6,562.7L484.0,558.4L484.4,556.2L484.8,557.8L485.2,563.3L485.6,555.9L486.0,561.5L486.4,552.3L486.8,558.2L487.2,556.8L487.6,551.1L488.0,561.3L488.4,556.4L488.8,559.7L489.2,558.4L489.6,559.6L490.0,555.9L490.4,559.2L490.8,558.0L491.2,557.8L491.6,564.9L492.0,557.3L492.4,562.5L492.8,567.1L493.2,565.3L493.6,562.3L494.0,562.9L494.4,568.2L494.8,567.2L495.2,567.9L495.6,567.0L496.0,570.8L496.4,569.2L496.8,574.6L497.2,575.2L497.6,573.1L498.0,573.9L498.4,576.6L498.8,576.2L499.2,577.9L499.6,577.7L500.0,577.8L500.4,580.0L500.8,580.2L501.2,583.4L501.6,584.5L502.0,588.5L502.4,584.1L502.8,585.5L503.2,585.3L503.6,590.0L504.0,588.3L504.4,589.0L504.8,591.5L505.2,587.7L505.6,587.7L506.0,592.0L506.4,589.9L506.8,588.4L507.2,593.1L507.6,590.4L508.0,589.9L508.4,589.9L508.8,594.7L509.2,594.6L509.6,593.2L510.0,592.2L510.4,595.6L510.8,595.3L511.2,596.0L511.6,593.5L512.0,595.7L512.4,594.6L512.8,594.8L513.2,594.4L513.6,595.5L514.0,595.8L514.4,595.1L514.8,596.1L515.2,598.1L515.6,597.5L516.0,596.2L516.4,597.2L516.8,597.8L517.2,597.4L517.6,594.6L518.0,598.0L518.4,597.7L518.8,597.9L519.2,598.7L519.6,597.5L520.0,597.9L520.4,598.5L520.8,600.1L521.2,598.0L521.6,598.6L522.0,599.4L522.4,601.7L522.8,599.6L523.2,600.6L523.6,599.9L524.0,600.2L524.4,600.5L524.8,599.3L525.2,600.0L525.6,599.3L526.0,600.9L526.4,600.4L526.8,599.5L527.2,600.2L527.6,601.0L528.0,601.1L528.4,601.0L528.8,600.7L529.2,600.3L529.6,600.7L530.0,600.4L530.4,600.4L530.8,600.8L531.2,600.2L531.6,600.6L532.0,601.1L532.4,601.1L532.8,601.1L533.2,601.7L533.6,601.7L534.0,601.1L534.4,601.7L534.8,600.9L535.2,601.7L535.6,601.2L536.0,601.2L536.4,601.7L536.8,601.2L537.2,601.7L537.6,601.7L538.0,600.9L538.4,601.2L538.8,601.3L539.2,601.7L539.6,601.0L540.0,600.5L540.4,601.7L540.8,600.9L541.2,601.3L541.6,600.9L542.0,600.9L542.4,601.7L542.8,600.7L543.2,601.7L543.6,601.7L544.0,601.2L544.4,601.7L544.8,601.3L545.2,601.7L545.6,601.7L546.0,601.7L546.4,601.7L546.8,600.9L547.2,601.4L547.6,600.9L548.0,601.7M549.6,601.7L550.0,601.3L550.4,601.7L550.8,601.7L551.2,601.4L551.6,601.7L552.0,601.2L552.4,601.2L552.8,601.4L553.2,601.7L553.6,601.7L554.0,600.6L554.4,601.7M557.2,601.7L557.6,600.8L558.0,601.7L558.4,601.7L558.8,601.3L559.2,601.3L559.6,601.7L560.0,601.7L560.4,600.9L560.8,601.3L561.2,601.4L561.6,601.1L562.0,601.7L562.4,601.7L562.8,600.9L563.2,601.7L563.6,601.7L564.0,601.3L564.4,601.7L564.8,601.7L565.2,600.8L565.6,601.7L566.0,600.8L566.4,601.3L566.8,601.7L567.2,600.9L567.6,601.7L568.0,601.7L568.4,601.7L568.8,601.7L569.2,601.4L569.6,601.7L570.0,601.7L570.4,601.7L570.8,601.3L571.2,601.7L571.6,601.1L572.0,600.9L572.4,601.7M574.0,601.7L574.4,601.2L574.8,601.7L575.2,601.7L575.6,601.7L576.0,601.7L576.4,600.9L576.8,601.7M579.6,601.7L580.0,601.1L580.4,601.7L580.8,601.3L581.2,601.7L581.6,601.7L582.0,601.7L582.4,601.7L582.8,601.1L583.2,601.2L583.6,601.7M586.0,601.7L586.4,601.0L586.8,601.7L587.2,600.9L587.6,601.1L588.0,600.9L588.4,601.7L588.8,601.3L589.2,601.7M590.8,601.7L591.2,601.2L591.6,601.1L592.0,601.7M594.0,601.7L594.4,601.3L594.8,601.7M596.4,601.7L596.8,601.2L597.2,601.7L597.6,601.2L598.0,601.7M599.6,601.7L600.0,601.2L600.4,601.4L600.8,601.7L601.2,601.2L601.6,601.3L602.0,601.7M603.6,601.7L604.0,601.3L604.4,601.7L604.8,601.4L605.2,601.3L605.6,601.7L606.0,600.6L606.4,601.3L606.8,600.7L607.2,601.7L607.6,601.3L608.0,601.7L608.4,601.7L608.8,601.7L609.2,601.7L609.6,601.2L610.0,601.7L610.4,601.7L610.8,601.4L611.2,601.0L611.6,601.7L612.0,601.3L612.4,601.7M615.6,601.7L616.0,601.1L616.4,601.7M620.0,601.7L620.4,601.1L620.8,601.7L621.2,601.7L621.6,601.7L622.0,601.0L622.4,601.1L622.8,601.3L623.2,601.2L623.6,600.9L624.0,601.3L624.4,601.7M628.0,601.7L628.4,601.3L628.8,601.7L629.2,601.2L629.6,601.7L630.0,601.7L630.4,601.7L630.8,601.7L631.2,601.0L631.6,601.2L632.0,601.7L632.4,601.7L632.8,601.7L633.2,601.7L633.6,601.1L634.0,601.7L634.4,601.7L634.8,601.4L635.2,601.7L635.6,601.7L636.0,601.7L636.4,601.1L636.8,601.7M642.0,601.7L642.4,600.9L642.8,601.7L643.2,601.7L643.6,601.2L644.0,601.7L644.4,601.1L644.8,601.7L645.2,601.2L645.6,601.7M648.4,601.7L648.8,601.2L649.2,601.7L649.6,601.7L650.0,601.7L650.4,601.7L650.8,601.2L651.2,601.7L651.6,601.7L652.0,601.2L652.4,601.7M656.0,601.7L656.4,601.2L656.8,601.7L657.2,601.7" fill="none" stroke="#1a1a1a" stroke-width="0.7" stroke-linejoin="round"/>
<path d="M476.5,602.0L476.5,500.6L476.8,588.0L477.2,585.9L477.6,585.7L478.0,586.0L478.4,582.6L478.8,584.1L479.2,583.6L479.6,574.2L480.0,571.1L480.4,568.9L480.8,565.9L481.2,567.0L481.6,572.7L482.0,570.0L482.4,563.1L482.8,567.0L483.2,565.3L483.6,562.9L484.0,560.3L484.4,565.6L484.8,559.8L485.2,557.4L485.6,566.1L486.0,554.0L486.4,555.0L486.8,560.7L487.2,550.8L487.6,556.1L488.0,556.0L488.4,552.3L488.8,567.8L489.2,558.6L489.6,555.2L490.0,554.4L490.4,560.3L490.8,561.4L491.2,564.2L491.6,563.3L492.0,565.9L492.4,572.1L492.8,566.6L493.2,568.9L493.6,568.4L494.0,568.9L494.4,569.9L494.8,569.0L495.2,570.5L495.6,572.4L496.0,574.2L496.4,573.6L496.8,575.2L497.2,575.6L497.6,572.2L498.0,576.4L498.4,579.1L498.8,584.5L499.2,583.7L499.6,588.4L500.0,579.2L500.4,579.5L500.8,584.1L501.2,584.9L501.6,583.4L502.0,583.9L502.4,589.9L502.8,587.1L503.2,587.8L503.6,590.5L504.0,585.3L504.4,587.3L504.8,590.6L505.2,589.9L505.6,591.4L506.0,591.7L506.4,591.9L506.8,589.6L507.2,591.9L507.6,593.1L508.0,593.8L508.4,592.5L508.8,594.8L509.2,596.3L509.6,594.1L510.0,591.5L510.4,595.5L510.8,594.4L511.2,595.2L511.6,593.2L512.0,594.6L512.4,597.5L512.8,593.2L513.2,596.0L513.6,597.5L514.0,597.1L514.4,596.5L514.8,595.3L515.2,597.3L515.6,598.1L516.0,595.6L516.4,595.5L516.8,598.1L517.2,597.6L517.6,597.5L518.0,598.5L518.4,599.4L518.8,597.2L519.2,599.8L519.6,600.8L520.0,598.2L520.4,597.7L520.8,598.2L521.2,600.0L521.6,599.6L522.0,600.5L522.4,600.1L522.8,601.7L523.2,600.6L523.6,598.5L524.0,601.0L524.4,598.5L524.8,599.9L525.2,601.7L525.6,599.4L526.0,601.1L526.4,599.9L526.8,600.6L527.2,600.8L527.6,600.7L528.0,601.7L528.4,601.3L528.8,601.1L529.2,599.5L529.6,601.3L530.0,600.7L530.4,600.6L530.8,600.1L531.2,601.2L531.6,600.9L532.0,601.7L532.4,599.4L532.8,601.7L533.2,601.0L533.6,601.7L534.0,601.1L534.4,601.7L534.8,601.7L535.2,600.7L535.6,600.7L536.0,601.3L536.4,601.7L536.8,601.2L537.2,601.7L537.6,601.1L538.0,600.9L538.4,601.1L538.8,601.7L539.2,601.7L539.6,601.7L540.0,601.2L540.4,601.7L540.8,601.3L541.2,601.7L541.6,600.9L542.0,600.7L542.4,601.4L542.8,601.7L543.2,601.7L543.6,600.4L544.0,601.7L544.4,601.7L544.8,600.2L545.2,600.6L545.6,601.2L546.0,601.4L546.4,601.7L546.8,600.7L547.2,601.0L547.6,601.7M549.2,601.7L549.6,600.3L550.0,601.7L550.4,600.8L550.8,601.2L551.2,601.7L551.6,601.3L552.0,601.2L552.4,601.7L552.8,601.7L553.2,600.9L553.6,601.1L554.0,601.4L554.4,601.7L554.8,601.7L555.2,600.8L555.6,600.8L556.0,601.3L556.4,601.4L556.8,601.7L557.2,601.3L557.6,601.0L558.0,601.2L558.4,601.7L558.8,601.4L559.2,601.7M561.6,601.7L562.0,601.3L562.4,601.7L562.8,601.7L563.2,601.7L563.6,600.9L564.0,601.7L564.4,601.7L564.8,601.0L565.2,600.8L565.6,601.7L566.0,600.8L566.4,601.7L566.8,601.7L567.2,601.7L567.6,601.1L568.0,601.7L568.4,601.3L568.8,601.4L569.2,601.7L569.6,601.3L570.0,600.6L570.4,600.8L570.8,601.7M572.4,601.7L572.8,601.3L573.2,601.7L573.6,601.7L574.0,601.7L574.4,601.7L574.8,601.0L575.2,601.2L575.6,601.7L576.0,601.7L576.4,601.7L576.8,601.7L577.2,601.2L577.6,600.9L578.0,601.7L578.4,601.7L578.8,601.3L579.2,601.7L579.6,600.8L580.0,601.7L580.4,601.3L580.8,601.7L581.2,601.7L581.6,601.4L582.0,601.3L582.4,601.7L582.8,601.7L583.2,601.7L583.6,601.2L584.0,601.7L584.4,601.7L584.8,601.0L585.2,601.3L585.6,601.7M587.2,601.7L587.6,601.3L588.0,601.7M590.0,601.7L590.4,601.4L590.8,600.8L591.2,600.4L591.6,601.7L592.0,601.7L592.4,601.1L592.8,601.7L593.2,601.7L593.6,601.7L594.0,601.3L594.4,601.7L594.8,601.1L595.2,601.7L595.6,601.7L596.0,601.1L596.4,601.7L596.8,601.7L597.2,600.5L597.6,601.7M600.0,601.7L600.4,601.0L600.8,601.2L601.2,601.7L601.6,601.2L602.0,601.7L602.4,601.7L602.8,601.4L603.2,601.7L603.6,601.3L604.0,601.0L604.4,601.7L604.8,601.3L605.2,601.7L605.6,601.7L606.0,601.2L606.4,601.1L606.8,601.7L607.2,601.7L607.6,601.1L608.0,601.1L608.4,601.7M610.0,601.7L610.4,600.5L610.8,601.7L611.2,601.7L611.6,601.7L612.0,600.8L612.4,601.7L612.8,601.1L613.2,601.4L613.6,601.7L614.0,601.7L614.4,601.7L614.8,600.7L615.2,601.7L615.6,601.0L616.0,601.1L616.4,601.7L616.8,601.7L617.2,601.7L617.6,600.8L618.0,600.9L618.4,601.1L618.8,601.7L619.2,601.7L619.6,601.2L620.0,601.7L620.4,601.7L620.8,601.7L621.2,601.3L621.6,601.2L622.0,601.3L622.4,600.8L622.8,601.7L623.2,601.7L623.6,601.7L624.0,601.1L624.4,601.7M626.8,601.7L627.2,601.2L627.6,601.7L628.0,601.7L628.4,601.7L628.8,601.7L629.2,601.3L629.6,601.7L630.0,601.7L630.4,601.3L630.8,601.7L631.2,600.6L631.6,601.3L632.0,601.3L632.4,600.5L632.8,601.7L633.2,601.7L633.6,601.7L634.0,601.7L634.4,601.0L634.8,601.2L635.2,601.7M637.2,601.7L637.6,601.2L638.0,601.7M640.8,601.7L641.2,601.3L641.6,601.7L642.0,601.7L642.4,601.7L642.8,601.3L643.2,601.7L643.6,601.3L644.0,601.7M645.6,601.7L646.0,600.1L646.4,601.7M649.6,601.7L650.0,601.0L650.4,601.7L650.8,601.7L651.2,601.7L651.6,601.4L652.0,600.7L652.4,601.7L652.8,601.7L653.2,601.7L653.6,601.7L654.0,601.3L654.4,601.0L654.8,601.4L655.2,600.9L655.6,601.7L656.0,601.7L656.4,601.7L656.8,601.7L657.2,601.3" fill="none" stroke="#22e022" stroke-width="1.25" stroke-linejoin="round"/>
<path d="M476.8,601.3L477.2,599.9L477.6,601.7L478.0,601.7L478.4,600.8L478.8,601.7L479.2,600.6L479.6,600.8L480.0,601.7L480.4,600.7L480.8,600.8L481.2,600.0L481.6,601.1L482.0,601.3L482.4,600.8L482.8,600.9L483.2,601.7L483.6,599.9L484.0,599.8L484.4,601.1L484.8,600.9L485.2,601.3L485.6,600.6L486.0,600.7L486.4,600.0L486.8,599.2L487.2,598.2L487.6,600.5L488.0,600.2L488.4,600.5L488.8,599.1L489.2,598.0L489.6,599.7L490.0,598.4L490.4,599.4L490.8,599.7L491.2,598.3L491.6,596.2L492.0,597.4L492.4,599.1L492.8,597.7L493.2,596.2L493.6,592.2L494.0,596.8L494.4,589.6L494.8,592.1L495.2,591.0L495.6,590.9L496.0,596.8L496.4,590.9L496.8,590.2L497.2,588.9L497.6,586.5L498.0,588.6L498.4,589.4L498.8,585.7L499.2,585.6L499.6,584.0L500.0,585.3L500.4,583.4L500.8,590.2L501.2,580.8L501.6,577.6L502.0,579.2L502.4,578.7L502.8,575.7L503.2,577.4L503.6,576.2L504.0,569.4L504.4,568.3L504.8,578.2L505.2,573.6L505.6,570.0L506.0,567.6L506.4,573.1L506.8,570.3L507.2,565.6L507.6,563.0L508.0,569.6L508.4,566.9L508.8,566.3L509.2,561.0L509.6,562.8L510.0,562.7L510.4,557.3L510.8,560.9L511.2,563.1L511.6,557.8L512.0,557.7L512.4,558.4L512.8,557.2L513.2,562.6L513.6,571.4L514.0,566.0L514.4,564.6L514.8,565.9L515.2,563.9L515.6,566.2L516.0,561.5L516.4,566.9L516.8,566.6L517.2,566.7L517.6,566.9L518.0,574.0L518.4,569.1L518.8,574.7L519.2,581.6L519.6,571.8L520.0,577.1L520.4,575.5L520.8,582.8L521.2,579.4L521.6,584.0L522.0,577.1L522.4,580.4L522.8,585.3L523.2,591.7L523.6,586.9L524.0,587.3L524.4,589.0L524.8,588.9L525.2,591.1L525.6,590.0L526.0,591.2L526.4,594.0L526.8,591.8L527.2,593.0L527.6,594.7L528.0,596.1L528.4,596.9L528.8,592.5L529.2,593.0L529.6,595.7L530.0,597.8L530.4,596.6L530.8,598.8L531.2,599.4L531.6,600.8L532.0,599.4L532.4,599.7L532.8,598.0L533.2,598.9L533.6,600.2L534.0,600.0L534.4,599.9L534.8,600.0L535.2,600.1L535.6,599.2L536.0,601.7L536.4,600.2L536.8,600.4L537.2,599.9L537.6,600.7L538.0,601.3L538.4,600.1L538.8,599.9L539.2,601.7L539.6,600.1L540.0,599.1L540.4,601.3L540.8,600.5L541.2,601.7L541.6,600.9L542.0,601.7L542.4,600.8L542.8,601.3L543.2,601.0L543.6,600.5L544.0,600.6L544.4,600.7L544.8,601.7L545.2,601.7L545.6,601.3L546.0,601.7L546.4,601.7L546.8,601.3L547.2,601.1L547.6,601.7L548.0,601.7L548.4,600.8L548.8,601.7L549.2,600.4L549.6,601.3L550.0,601.3L550.4,600.8L550.8,601.7L551.2,601.7L551.6,601.7L552.0,601.7L552.4,601.3L552.8,601.7L553.2,601.2L553.6,601.7L554.0,600.5L554.4,601.7L554.8,601.7L555.2,600.0L555.6,601.7L556.0,601.1L556.4,601.7M562.4,601.7L562.8,600.7L563.2,601.7M565.2,601.7L565.6,601.3L566.0,601.7L566.4,601.3L566.8,601.3L567.2,601.7L567.6,601.7L568.0,601.7L568.4,601.7L568.8,601.3L569.2,601.7L569.6,601.7L570.0,601.0L570.4,601.7L570.8,601.7L571.2,601.0L571.6,601.7L572.0,601.7L572.4,601.4L572.8,601.7L573.2,601.7L573.6,601.7L574.0,601.1L574.4,601.7M577.6,601.7L578.0,600.6L578.4,600.7L578.8,601.7L579.2,600.9L579.6,601.7L580.0,601.7L580.4,601.3L580.8,601.7M582.4,601.7L582.8,601.1L583.2,601.7L583.6,601.7L584.0,601.7L584.4,600.8L584.8,601.3L585.2,601.7L585.6,601.7L586.0,601.2L586.4,601.7L586.8,601.7L587.2,601.7L587.6,601.0L588.0,601.7L588.4,601.7L588.8,601.7L589.2,601.2L589.6,601.7L590.0,601.7L590.4,601.4L590.8,601.3L591.2,601.7M594.4,601.7L594.8,601.2L595.2,601.7M597.2,601.7L597.6,601.3L598.0,601.7L598.4,601.7L598.8,601.3L599.2,601.0L599.6,601.7L600.0,600.9L600.4,601.1L600.8,601.7L601.2,601.7L601.6,600.5L602.0,601.3L602.4,601.7L602.8,601.0L603.2,601.7L603.6,601.7L604.0,601.0L604.4,601.1L604.8,601.7L605.2,601.1L605.6,601.2L606.0,601.7L606.4,601.7L606.8,601.2L607.2,601.7L607.6,601.7L608.0,601.2L608.4,601.7L608.8,601.2L609.2,601.7L609.6,601.1L610.0,601.7L610.4,600.7L610.8,601.7M612.8,601.7L613.2,601.3L613.6,601.3L614.0,601.7L614.4,601.7L614.8,601.7L615.2,601.2L615.6,601.0L616.0,601.7L616.4,601.3L616.8,601.3L617.2,601.7L617.6,601.7L618.0,600.8L618.4,601.7M620.4,601.7L620.8,601.2L621.2,601.7L621.6,601.7L622.0,600.8L622.4,600.9L622.8,601.7M624.8,601.7L625.2,601.3L625.6,601.7M628.0,601.7L628.4,601.0L628.8,601.7L629.2,601.4L629.6,601.7M632.4,601.7L632.8,601.2L633.2,601.2L633.6,601.7L634.0,601.3L634.4,601.3L634.8,600.9L635.2,600.6L635.6,600.8L636.0,601.0L636.4,601.3L636.8,601.7L637.2,601.7L637.6,601.7L638.0,601.1L638.4,601.2L638.8,601.7M642.4,601.7L642.8,601.2L643.2,601.7L643.6,600.9L644.0,601.7L644.4,601.4L644.8,600.2L645.2,601.7M646.8,601.7L647.2,600.9L647.6,600.7L648.0,601.7L648.4,601.7L648.8,601.1L649.2,601.0L649.6,601.7L650.0,601.2L650.4,601.7L650.8,600.9L651.2,601.7L651.6,601.7L652.0,601.2L652.4,601.7L652.8,601.7L653.2,601.7L653.6,601.1L654.0,601.7L654.4,601.7L654.8,601.7L655.2,601.4L655.6,601.7L656.0,601.4L656.4,600.9L656.8,601.1L657.2,601.2" fill="none" stroke="#62c4e4" stroke-width="0.75" stroke-linejoin="round" stroke-dasharray="0.8 0.9"/>
<path d="M476.8,600.9L477.2,601.7L477.6,601.2L478.0,601.3L478.4,601.7L478.8,601.0L479.2,601.4L479.6,601.7L480.0,601.7L480.4,601.7L480.8,599.8L481.2,601.7L481.6,601.7L482.0,601.7L482.4,601.0L482.8,600.8L483.2,600.6L483.6,601.7L484.0,601.7L484.4,599.2L484.8,601.1L485.2,600.5L485.6,600.7L486.0,600.7L486.4,599.5L486.8,600.2L487.2,600.0L487.6,599.4L488.0,599.8L488.4,600.4L488.8,601.3L489.2,599.5L489.6,600.2L490.0,601.7L490.4,599.4L490.8,598.3L491.2,598.9L491.6,599.4L492.0,598.0L492.4,598.9L492.8,600.4L493.2,599.0L493.6,598.2L494.0,599.1L494.4,599.6L494.8,599.8L495.2,596.2L495.6,596.8L496.0,598.6L496.4,595.3L496.8,596.7L497.2,597.6L497.6,597.0L498.0,594.4L498.4,593.2L498.8,593.0L499.2,594.3L499.6,597.4L500.0,594.4L500.4,590.7L500.8,592.9L501.2,592.5L501.6,591.7L502.0,592.7L502.4,583.9L502.8,591.0L503.2,587.7L503.6,582.7L504.0,581.2L504.4,578.8L504.8,582.7L505.2,579.1L505.6,572.4L506.0,578.7L506.4,573.9L506.8,575.9L507.2,577.6L507.6,574.0L508.0,573.0L508.4,565.7L508.8,564.3L509.2,558.4L509.6,568.1L510.0,565.3L510.4,560.8L510.8,563.7L511.2,564.2L511.6,560.5L512.0,555.6L512.4,561.0L512.8,551.3L513.2,559.7L513.6,553.2L514.0,553.6L514.4,558.8L514.8,556.5L515.2,551.8L515.6,561.8L516.0,553.1L516.4,558.6L516.8,555.1L517.2,555.0L517.6,558.5L518.0,563.3L518.4,561.7L518.8,567.0L519.2,571.6L519.6,559.1L520.0,569.5L520.4,576.2L520.8,568.4L521.2,576.6L521.6,571.0L522.0,568.8L522.4,570.9L522.8,573.6L523.2,578.9L523.6,581.7L524.0,586.4L524.4,585.1L524.8,583.9L525.2,586.2L525.6,581.6L526.0,587.5L526.4,588.4L526.8,586.7L527.2,590.9L527.6,588.8L528.0,590.5L528.4,593.8L528.8,591.6L529.2,594.2L529.6,595.2L530.0,593.9L530.4,595.3L530.8,596.7L531.2,595.1L531.6,594.8L532.0,597.3L532.4,598.4L532.8,598.3L533.2,598.1L533.6,597.2L534.0,600.7L534.4,597.2L534.8,598.7L535.2,599.3L535.6,596.7L536.0,598.3L536.4,598.0L536.8,600.3L537.2,599.0L537.6,601.7L538.0,600.7L538.4,601.2L538.8,599.3L539.2,600.1L539.6,601.7L540.0,599.8L540.4,600.4L540.8,600.3L541.2,598.4L541.6,601.7L542.0,600.1L542.4,601.4L542.8,600.7L543.2,600.6L543.6,600.0L544.0,600.4L544.4,600.6L544.8,601.7L545.2,601.7L545.6,601.0L546.0,601.7L546.4,601.7L546.8,600.7L547.2,601.2L547.6,601.7L548.0,601.7L548.4,601.7L548.8,601.7L549.2,601.7L549.6,600.8L550.0,600.4L550.4,601.1L550.8,601.7L551.2,601.7L551.6,601.2L552.0,601.7L552.4,601.0L552.8,600.6L553.2,600.6L553.6,601.7L554.0,601.3L554.4,601.7L554.8,601.2L555.2,601.7L555.6,601.7L556.0,601.7L556.4,601.7L556.8,601.7L557.2,601.2L557.6,601.7L558.0,601.7L558.4,601.7L558.8,601.4L559.2,601.7L559.6,601.7L560.0,601.7L560.4,601.7L560.8,601.4L561.2,601.7L561.6,601.7L562.0,601.0L562.4,601.0L562.8,601.7L563.2,601.7L563.6,601.7L564.0,601.7L564.4,601.1L564.8,601.7L565.2,601.1L565.6,601.7L566.0,601.7L566.4,601.2L566.8,601.7L567.2,601.2L567.6,601.7L568.0,600.9L568.4,600.8L568.8,601.7L569.2,601.7L569.6,601.7L570.0,601.7L570.4,601.7L570.8,601.7L571.2,601.7L571.6,601.7L572.0,601.4L572.4,601.7L572.8,601.7L573.2,601.7L573.6,601.7L574.0,601.7L574.4,601.7L574.8,600.8L575.2,601.7L575.6,601.2L576.0,601.7L576.4,601.4L576.8,601.7L577.2,601.7L577.6,601.7L578.0,601.7L578.4,601.3L578.8,601.4L579.2,601.2L579.6,601.7L580.0,601.7L580.4,601.7L580.8,601.7L581.2,601.2L581.6,600.8L582.0,601.7L582.4,601.2L582.8,601.7L583.2,601.7L583.6,601.7L584.0,601.2L584.4,601.0L584.8,601.7L585.2,601.0L585.6,601.2L586.0,601.7L586.4,601.2L586.8,601.2L587.2,601.7L587.6,601.7L588.0,601.7L588.4,601.7L588.8,601.7L589.2,601.7L589.6,600.6L590.0,601.7L590.4,601.7L590.8,601.7L591.2,600.9L591.6,601.7L592.0,601.7L592.4,601.7L592.8,601.7L593.2,601.7L593.6,601.7L594.0,601.7L594.4,601.0L594.8,601.4L595.2,601.7L595.6,601.7L596.0,601.7L596.4,601.7L596.8,601.7L597.2,601.7L597.6,601.7L598.0,601.7L598.4,600.9L598.8,601.7L599.2,601.7L599.6,601.3L600.0,601.7L600.4,601.7L600.8,601.7L601.2,601.7L601.6,601.7L602.0,601.7L602.4,601.7L602.8,600.8L603.2,600.8L603.6,601.7L604.0,600.7L604.4,601.0L604.8,601.7L605.2,601.7L605.6,601.3L606.0,601.7L606.4,601.3L606.8,601.7L607.2,601.1L607.6,600.6L608.0,601.7L608.4,601.0L608.8,601.7L609.2,601.7L609.6,601.7L610.0,601.7L610.4,600.9L610.8,601.0L611.2,601.7L611.6,601.7L612.0,601.3L612.4,601.2L612.8,601.7L613.2,601.7L613.6,601.7L614.0,601.3L614.4,601.1L614.8,601.7L615.2,601.7L615.6,600.9L616.0,601.7L616.4,601.7L616.8,601.7L617.2,601.1L617.6,601.7L618.0,601.7L618.4,601.7L618.8,601.7L619.2,601.7L619.6,601.7L620.0,601.7L620.4,600.9L620.8,601.3L621.2,601.7L621.6,600.9L622.0,600.5L622.4,601.7L622.8,601.7L623.2,601.7L623.6,601.7L624.0,601.7L624.4,601.4L624.8,601.7L625.2,601.7L625.6,601.7L626.0,600.2L626.4,601.1L626.8,601.0L627.2,601.7L627.6,601.7L628.0,601.7L628.4,601.7L628.8,601.1L629.2,601.7L629.6,601.7L630.0,601.7L630.4,601.7L630.8,601.3L631.2,601.7L631.6,601.7L632.0,601.7L632.4,601.7L632.8,601.3L633.2,601.7L633.6,601.7L634.0,601.7L634.4,601.7L634.8,601.3L635.2,601.7L635.6,601.7L636.0,601.7L636.4,601.7L636.8,601.1L637.2,601.7L637.6,600.8L638.0,601.1L638.4,601.7L638.8,601.3L639.2,600.4L639.6,601.7L640.0,601.7L640.4,601.7L640.8,601.7L641.2,601.7L641.6,601.7L642.0,601.7L642.4,601.3L642.8,601.3L643.2,601.7L643.6,601.7L644.0,601.4L644.4,601.7L644.8,601.3L645.2,601.7L645.6,601.0L646.0,601.7L646.4,601.7L646.8,601.2L647.2,601.7L647.6,601.7L648.0,601.0L648.4,600.2L648.8,601.7L649.2,601.7L649.6,601.7L650.0,601.7L650.4,601.7L650.8,601.7L651.2,601.2L651.6,601.4L652.0,601.7L652.4,601.2L652.8,601.7L653.2,601.7L653.6,600.5L654.0,601.7L654.4,601.7L654.8,601.7L655.2,601.7L655.6,600.5L656.0,600.8L656.4,601.4L656.8,601.7L657.2,601.7" fill="none" stroke="#ee9640" stroke-width="0.8" stroke-linejoin="round" stroke-dasharray="1.6 0.8"/>
<line x1="474.30" y1="602.00" x2="476.30" y2="602.00" stroke="#444" stroke-width="0.6"/>
<text x="473.00" y="602.00" font-size="3.6" text-anchor="middle" fill="#666" transform="rotate(-90 473.00 602.00)">0</text>
<line x1="475.10" y1="596.93" x2="476.30" y2="596.93" stroke="#444" stroke-width="0.6"/>
<line x1="475.10" y1="591.86" x2="476.30" y2="591.86" stroke="#444" stroke-width="0.6"/>
<line x1="475.10" y1="586.79" x2="476.30" y2="586.79" stroke="#444" stroke-width="0.6"/>
<line x1="474.30" y1="581.72" x2="476.30" y2="581.72" stroke="#444" stroke-width="0.6"/>
<text x="473.00" y="581.72" font-size="3.6" text-anchor="middle" fill="#666" transform="rotate(-90 473.00 581.72)">40</text>
<line x1="475.10" y1="576.65" x2="476.30" y2="576.65" stroke="#444" stroke-width="0.6"/>
<line x1="475.10" y1="571.58" x2="476.30" y2="571.58" stroke="#444" stroke-width="0.6"/>
<line x1="475.10" y1="566.51" x2="476.30" y2="566.51" stroke="#444" stroke-width="0.6"/>
<line x1="474.30" y1="561.44" x2="476.30" y2="561.44" stroke="#444" stroke-width="0.6"/>
<text x="473.00" y="561.44" font-size="3.6" text-anchor="middle" fill="#666" transform="rotate(-90 473.00 561.44)">80</text>
<line x1="475.10" y1="556.37" x2="476.30" y2="556.37" stroke="#444" stroke-width="0.6"/>
<line x1="475.10" y1="551.30" x2="476.30" y2="551.30" stroke="#444" stroke-width="0.6"/>
<line x1="475.10" y1="546.23" x2="476.30" y2="546.23" stroke="#444" stroke-width="0.6"/>
<line x1="474.30" y1="541.16" x2="476.30" y2="541.16" stroke="#444" stroke-width="0.6"/>
<text x="473.00" y="541.16" font-size="3.6" text-anchor="middle" fill="#666" transform="rotate(-90 473.00 541.16)">120</text>
<line x1="475.10" y1="536.09" x2="476.30" y2="536.09" stroke="#444" stroke-width="0.6"/>
<line x1="475.10" y1="531.02" x2="476.30" y2="531.02" stroke="#444" stroke-width="0.6"/>
<line x1="475.10" y1="525.95" x2="476.30" y2="525.95" stroke="#444" stroke-width="0.6"/>
<line x1="474.30" y1="520.88" x2="476.30" y2="520.88" stroke="#444" stroke-width="0.6"/>
<text x="473.00" y="520.88" font-size="3.6" text-anchor="middle" fill="#666" transform="rotate(-90 473.00 520.88)">160</text>
<line x1="475.10" y1="515.81" x2="476.30" y2="515.81" stroke="#444" stroke-width="0.6"/>
<line x1="475.10" y1="510.74" x2="476.30" y2="510.74" stroke="#444" stroke-width="0.6"/>
<line x1="475.10" y1="505.67" x2="476.30" y2="505.67" stroke="#444" stroke-width="0.6"/>
<line x1="474.30" y1="500.60" x2="476.30" y2="500.60" stroke="#444" stroke-width="0.6"/>
<text x="473.00" y="500.60" font-size="3.6" text-anchor="middle" fill="#666" transform="rotate(-90 473.00 500.60)">200</text>
<line x1="476.30" y1="602.00" x2="476.30" y2="604.60" stroke="#444" stroke-width="0.6"/>
<line x1="489.96" y1="602.00" x2="489.96" y2="603.40" stroke="#444" stroke-width="0.6"/>
<line x1="497.95" y1="602.00" x2="497.95" y2="603.40" stroke="#444" stroke-width="0.6"/>
<line x1="503.62" y1="602.00" x2="503.62" y2="603.40" stroke="#444" stroke-width="0.6"/>
<line x1="508.02" y1="602.00" x2="508.02" y2="603.40" stroke="#444" stroke-width="0.6"/>
<line x1="511.61" y1="602.00" x2="511.61" y2="603.40" stroke="#444" stroke-width="0.6"/>
<line x1="514.65" y1="602.00" x2="514.65" y2="603.40" stroke="#444" stroke-width="0.6"/>
<line x1="517.28" y1="602.00" x2="517.28" y2="603.40" stroke="#444" stroke-width="0.6"/>
<line x1="519.60" y1="602.00" x2="519.60" y2="603.40" stroke="#444" stroke-width="0.6"/>
<line x1="521.67" y1="602.00" x2="521.67" y2="604.60" stroke="#444" stroke-width="0.6"/>
<line x1="535.33" y1="602.00" x2="535.33" y2="603.40" stroke="#444" stroke-width="0.6"/>
<line x1="543.32" y1="602.00" x2="543.32" y2="603.40" stroke="#444" stroke-width="0.6"/>
<line x1="548.99" y1="602.00" x2="548.99" y2="603.40" stroke="#444" stroke-width="0.6"/>
<line x1="553.39" y1="602.00" x2="553.39" y2="603.40" stroke="#444" stroke-width="0.6"/>
<line x1="556.98" y1="602.00" x2="556.98" y2="603.40" stroke="#444" stroke-width="0.6"/>
<line x1="560.02" y1="602.00" x2="560.02" y2="603.40" stroke="#444" stroke-width="0.6"/>
<line x1="562.65" y1="602.00" x2="562.65" y2="603.40" stroke="#444" stroke-width="0.6"/>
<line x1="564.97" y1="602.00" x2="564.97" y2="603.40" stroke="#444" stroke-width="0.6"/>
<line x1="567.05" y1="602.00" x2="567.05" y2="604.60" stroke="#444" stroke-width="0.6"/>
<line x1="580.71" y1="602.00" x2="580.71" y2="603.40" stroke="#444" stroke-width="0.6"/>
<line x1="588.70" y1="602.00" x2="588.70" y2="603.40" stroke="#444" stroke-width="0.6"/>
<line x1="594.37" y1="602.00" x2="594.37" y2="603.40" stroke="#444" stroke-width="0.6"/>
<line x1="598.77" y1="602.00" x2="598.77" y2="603.40" stroke="#444" stroke-width="0.6"/>
<line x1="602.36" y1="602.00" x2="602.36" y2="603.40" stroke="#444" stroke-width="0.6"/>
<line x1="605.40" y1="602.00" x2="605.40" y2="603.40" stroke="#444" stroke-width="0.6"/>
<line x1="608.03" y1="602.00" x2="608.03" y2="603.40" stroke="#444" stroke-width="0.6"/>
<line x1="610.35" y1="602.00" x2="610.35" y2="603.40" stroke="#444" stroke-width="0.6"/>
<line x1="612.42" y1="602.00" x2="612.42" y2="604.60" stroke="#444" stroke-width="0.6"/>
<line x1="626.08" y1="602.00" x2="626.08" y2="603.40" stroke="#444" stroke-width="0.6"/>
<line x1="634.07" y1="602.00" x2="634.07" y2="603.40" stroke="#444" stroke-width="0.6"/>
<line x1="639.74" y1="602.00" x2="639.74" y2="603.40" stroke="#444" stroke-width="0.6"/>
<line x1="644.14" y1="602.00" x2="644.14" y2="603.40" stroke="#444" stroke-width="0.6"/>
<line x1="647.73" y1="602.00" x2="647.73" y2="603.40" stroke="#444" stroke-width="0.6"/>
<line x1="650.77" y1="602.00" x2="650.77" y2="603.40" stroke="#444" stroke-width="0.6"/>
<line x1="653.40" y1="602.00" x2="653.40" y2="603.40" stroke="#444" stroke-width="0.6"/>
<line x1="655.72" y1="602.00" x2="655.72" y2="603.40" stroke="#444" stroke-width="0.6"/>
<text x="475.30" y="608.60" font-size="3.8" text-anchor="middle" fill="#666">10</text>
<text x="477.70" y="607.00" font-size="2.8" fill="#666">0</text>
<text x="520.67" y="608.60" font-size="3.8" text-anchor="middle" fill="#666">10</text>
<text x="523.07" y="607.00" font-size="2.8" fill="#666">1</text>
<text x="566.05" y="608.60" font-size="3.8" text-anchor="middle" fill="#666">10</text>
<text x="568.45" y="607.00" font-size="2.8" fill="#666">2</text>
<text x="611.42" y="608.60" font-size="3.8" text-anchor="middle" fill="#666">10</text>
<text x="613.82" y="607.00" font-size="2.8" fill="#666">3</text>
<text x="656.80" y="608.60" font-size="3.8" text-anchor="middle" fill="#666">10</text>
<text x="659.20" y="607.00" font-size="2.8" fill="#666">4</text>
<text x="539.60" y="513.70" font-size="8.7" stroke="#2a2a2a" stroke-width="0.12" fill="#2a2a2a">PSC-400-010</text>
<text x="535.00" y="617.00" font-size="8.7" stroke="#2a2a2a" stroke-width="0.12" fill="#2a2a2a" textLength="59.60" lengthAdjust="spacingAndGlyphs">Mouse IgG1 PE</text>
<text x="463.00" y="552.40" font-size="8.7" stroke="#2a2a2a" stroke-width="0.12" text-anchor="middle" fill="#2a2a2a" textLength="27.40" lengthAdjust="spacingAndGlyphs" transform="rotate(-90 463.00 552.40)" dominant-baseline="central">Counts</text>
<rect x="151.30" y="625.50" width="177.30" height="100.00" fill="none" stroke="#7a7a7a" stroke-width="0.9"/>
<line x1="151.30" y1="625.50" x2="151.30" y2="725.50" stroke="#3a3a3a" stroke-width="0.8"/>
<line x1="151.30" y1="725.50" x2="328.60" y2="725.50" stroke="#3a3a3a" stroke-width="0.8"/>
<path d="M151.5,725.5L151.5,688.0L151.8,718.9L152.2,718.9L152.6,721.7L153.0,722.2L153.4,719.0L153.8,717.1L154.2,718.0L154.6,719.6L155.0,717.4L155.4,713.3L155.8,717.7L156.2,712.4L156.6,712.5L157.0,711.7L157.4,710.1L157.8,712.0L158.2,710.1L158.6,704.5L159.0,708.5L159.4,707.5L159.8,708.8L160.2,705.2L160.6,700.8L161.0,698.0L161.4,698.2L161.8,696.9L162.2,695.5L162.6,694.8L163.0,691.3L163.4,693.4L163.8,688.0L164.2,690.3L164.6,694.0L165.0,691.6L165.4,686.5L165.8,686.0L166.2,687.4L166.6,684.6L167.0,679.9L167.4,677.9L167.8,675.1L168.2,680.5L168.6,674.8L169.0,671.4L169.4,673.3L169.8,667.0L170.2,675.2L170.6,672.9L171.0,671.8L171.4,673.9L171.8,672.3L172.2,671.2L172.6,672.3L173.0,674.4L173.4,674.6L173.8,673.7L174.2,680.1L174.6,674.3L175.0,680.2L175.4,678.1L175.8,682.4L176.2,679.3L176.6,682.5L177.0,683.5L177.4,686.7L177.8,685.4L178.2,682.1L178.6,695.1L179.0,689.2L179.4,691.9L179.8,695.5L180.2,699.8L180.6,693.1L181.0,698.8L181.4,698.3L181.8,703.5L182.2,706.0L182.6,702.9L183.0,705.2L183.4,709.0L183.8,710.1L184.2,709.5L184.6,713.6L185.0,714.7L185.4,714.1L185.8,713.1L186.2,714.3L186.6,716.3L187.0,715.2L187.4,718.3L187.8,719.4L188.2,715.9L188.6,720.5L189.0,719.5L189.4,720.0L189.8,721.0L190.2,721.2L190.6,721.0L191.0,721.5L191.4,723.0L191.8,722.6L192.2,721.4L192.6,722.3L193.0,723.6L193.4,723.3L193.8,724.3L194.2,724.7L194.6,724.2L195.0,722.5L195.4,724.4L195.8,725.2L196.2,724.2L196.6,724.7L197.0,723.7L197.4,723.4L197.8,724.6L198.2,724.3L198.6,725.2L199.0,723.7L199.4,725.2L199.8,724.5L200.2,723.1L200.6,725.2L201.0,724.5L201.4,724.7L201.8,724.4L202.2,724.5L202.6,723.9L203.0,724.5L203.4,724.5L203.8,725.2L204.2,724.6L204.6,725.2L205.0,724.2L205.4,725.2L205.8,724.4L206.2,725.2L206.6,724.8L207.0,724.9L207.4,724.7L207.8,725.2M210.2,725.2L210.6,724.1L211.0,725.2L211.4,725.2L211.8,724.5L212.2,725.2L212.6,725.2L213.0,724.5L213.4,724.1L213.8,725.2L214.2,724.4L214.6,724.8L215.0,724.5L215.4,725.2L215.8,724.3L216.2,724.5L216.6,725.2L217.0,724.5L217.4,724.4L217.8,725.2M219.4,725.2L219.8,724.8L220.2,724.7L220.6,725.2L221.0,725.2L221.4,725.2L221.8,724.8L222.2,725.2L222.6,725.2L223.0,725.2L223.4,723.9L223.8,725.2L224.2,724.4L224.6,725.2L225.0,725.2L225.4,724.7L225.8,725.2L226.2,724.0L226.6,725.2L227.0,724.3L227.4,725.2L227.8,725.2L228.2,724.8L228.6,725.2L229.0,724.2L229.4,724.8L229.8,725.2L230.2,724.3L230.6,725.2M232.6,725.2L233.0,724.7L233.4,724.6L233.8,724.9L234.2,725.2L234.6,725.2L235.0,725.2L235.4,724.8L235.8,724.6L236.2,725.2L236.6,725.2L237.0,725.2L237.4,724.7L237.8,725.2L238.2,725.2L238.6,724.7L239.0,724.8L239.4,724.9L239.8,725.2L240.2,724.7L240.6,724.9L241.0,725.2L241.4,724.3L241.8,724.6L242.2,725.2M247.0,725.2L247.4,724.6L247.8,725.2L248.2,724.7L248.6,725.2L249.0,725.2L249.4,725.2L249.8,724.6L250.2,725.2L250.6,725.2L251.0,724.8L251.4,724.5L251.8,724.5L252.2,724.4L252.6,725.2L253.0,724.1L253.4,725.2M255.8,725.2L256.2,724.2L256.6,724.7L257.0,724.3L257.4,724.5L257.8,725.2L258.2,724.9L258.6,725.2L259.0,725.2L259.4,725.2L259.8,725.2L260.2,724.6L260.6,725.2L261.0,725.2L261.4,725.2L261.8,724.7L262.2,724.7L262.6,725.2L263.0,725.2L263.4,724.4L263.8,724.6L264.2,725.2L264.6,724.7L265.0,725.2L265.4,724.9L265.8,725.2L266.2,724.8L266.6,724.3L267.0,724.4L267.4,724.5L267.8,725.2L268.2,724.6L268.6,725.2M270.6,725.2L271.0,724.3L271.4,724.7L271.8,725.2M274.2,725.2L274.6,724.7L275.0,724.4L275.4,724.4L275.8,725.2L276.2,725.2L276.6,724.4L277.0,724.7L277.4,724.6L277.8,724.8L278.2,725.2L278.6,724.1L279.0,724.7L279.4,724.8L279.8,725.2L280.2,725.2L280.6,724.4L281.0,724.8L281.4,724.6L281.8,725.2L282.2,724.7L282.6,725.2L283.0,725.2L283.4,724.6L283.8,724.3L284.2,725.2M285.8,725.2L286.2,724.7L286.6,725.2L287.0,725.2L287.4,724.9L287.8,725.2L288.2,725.2L288.6,724.1L289.0,725.2L289.4,725.2L289.8,725.2L290.2,724.6L290.6,725.2L291.0,725.2L291.4,724.3L291.8,725.2L292.2,725.2L292.6,725.2L293.0,725.2L293.4,724.4L293.8,724.1L294.2,725.2L294.6,725.2L295.0,725.2L295.4,724.8L295.8,725.2L296.2,724.8L296.6,724.9L297.0,725.2L297.4,725.2L297.8,724.4L298.2,725.2L298.6,724.8L299.0,725.2L299.4,724.7L299.8,724.3L300.2,725.2L300.6,725.2L301.0,725.2L301.4,724.6L301.8,725.2L302.2,724.9L302.6,723.9L303.0,725.2L303.4,724.2L303.8,725.2L304.2,725.2L304.6,724.8L305.0,725.2M306.6,725.2L307.0,724.1L307.4,724.8L307.8,725.2L308.2,724.9L308.6,725.2L309.0,725.2L309.4,724.1L309.8,725.2L310.2,725.2L310.6,725.2L311.0,725.2L311.4,724.9L311.8,725.2L312.2,725.2L312.6,724.7L313.0,725.2L313.4,725.2L313.8,725.2L314.2,725.2L314.6,724.6L315.0,725.2L315.4,725.2L315.8,725.2L316.2,724.8L316.6,724.6L317.0,725.2L317.4,725.2L317.8,724.7L318.2,725.2L318.6,724.8L319.0,725.2L319.4,724.9L319.8,725.2M322.6,725.2L323.0,724.0L323.4,725.2L323.8,725.2L324.2,725.2L324.6,725.2L325.0,724.4L325.4,725.2L325.8,725.2L326.2,725.2L326.6,724.8L327.0,724.3L327.4,725.2L327.8,725.2L328.2,724.6" fill="none" stroke="#c2507c" stroke-width="0.75" stroke-linejoin="round" stroke-dasharray="1 0.7"/>
<path d="M151.5,725.5L151.5,674.5L151.8,722.1L152.2,723.2L152.6,719.7L153.0,721.1L153.4,719.8L153.8,717.0L154.2,717.7L154.6,717.7L155.0,715.2L155.4,717.7L155.8,717.9L156.2,716.2L156.6,713.3L157.0,711.9L157.4,712.1L157.8,706.0L158.2,706.8L158.6,706.4L159.0,706.5L159.4,703.6L159.8,701.2L160.2,700.8L160.6,691.8L161.0,692.5L161.4,692.9L161.8,692.6L162.2,695.1L162.6,686.2L163.0,689.0L163.4,682.6L163.8,682.7L164.2,685.9L164.6,680.7L165.0,680.1L165.4,679.0L165.8,677.6L166.2,676.2L166.6,676.5L167.0,672.9L167.4,673.5L167.8,675.5L168.2,675.5L168.6,676.2L169.0,676.7L169.4,676.4L169.8,675.8L170.2,678.0L170.6,683.2L171.0,678.5L171.4,682.1L171.8,680.7L172.2,674.8L172.6,680.1L173.0,690.5L173.4,690.1L173.8,684.1L174.2,690.1L174.6,693.4L175.0,695.2L175.4,692.7L175.8,695.7L176.2,695.3L176.6,697.4L177.0,698.1L177.4,700.5L177.8,702.6L178.2,700.8L178.6,700.5L179.0,706.6L179.4,706.4L179.8,703.6L180.2,710.4L180.6,711.5L181.0,709.7L181.4,710.2L181.8,712.6L182.2,711.8L182.6,714.5L183.0,714.9L183.4,716.0L183.8,716.2L184.2,717.3L184.6,716.1L185.0,717.6L185.4,717.1L185.8,719.7L186.2,720.8L186.6,721.0L187.0,721.2L187.4,720.8L187.8,721.8L188.2,721.5L188.6,721.6L189.0,723.2L189.4,723.6L189.8,721.6L190.2,723.4L190.6,721.6L191.0,723.4L191.4,724.3L191.8,724.3L192.2,724.1L192.6,721.9L193.0,725.2L193.4,725.2L193.8,724.5L194.2,724.0L194.6,722.7L195.0,723.5L195.4,724.8L195.8,723.3L196.2,723.6L196.6,724.7L197.0,724.1L197.4,724.2L197.8,724.6L198.2,724.8L198.6,724.9L199.0,724.4L199.4,724.9L199.8,724.2L200.2,724.3L200.6,725.2L201.0,724.5L201.4,724.8L201.8,724.4L202.2,725.2L202.6,724.2L203.0,724.4L203.4,724.4L203.8,724.6L204.2,725.2L204.6,725.2L205.0,724.4L205.4,724.5L205.8,724.6L206.2,725.2M207.8,725.2L208.2,724.6L208.6,725.2L209.0,725.2L209.4,725.2L209.8,724.4L210.2,725.2L210.6,725.2L211.0,724.9L211.4,724.6L211.8,724.9L212.2,725.2L212.6,725.2L213.0,725.2L213.4,725.2L213.8,724.6L214.2,725.2L214.6,725.2L215.0,725.2L215.4,725.2L215.8,724.8L216.2,724.8L216.6,724.9L217.0,724.7L217.4,724.6L217.8,725.2L218.2,724.8L218.6,725.2L219.0,724.8L219.4,725.2M221.8,725.2L222.2,724.7L222.6,725.2M224.6,725.2L225.0,724.9L225.4,725.2L225.8,725.2L226.2,725.2L226.6,724.2L227.0,724.7L227.4,725.2L227.8,725.2L228.2,725.2L228.6,725.2L229.0,724.2L229.4,724.5L229.8,725.2M232.2,725.2L232.6,724.9L233.0,724.9L233.4,725.2M235.4,725.2L235.8,724.6L236.2,725.2M238.2,725.2L238.6,724.5L239.0,725.2L239.4,724.7L239.8,725.2L240.2,725.2L240.6,725.2L241.0,724.8L241.4,724.5L241.8,725.2L242.2,725.2L242.6,725.2L243.0,725.2L243.4,724.7L243.8,725.2L244.2,725.2L244.6,724.9L245.0,725.2L245.4,725.2L245.8,724.8L246.2,725.2L246.6,725.2L247.0,725.2L247.4,725.2L247.8,724.8L248.2,725.2L248.6,725.2L249.0,724.8L249.4,725.2M251.0,725.2L251.4,724.9L251.8,725.2L252.2,725.2L252.6,725.2L253.0,725.2L253.4,724.4L253.8,725.2M257.0,725.2L257.4,724.7L257.8,725.2L258.2,725.2L258.6,724.9L259.0,725.2L259.4,725.2L259.8,724.8L260.2,725.2M262.2,725.2L262.6,724.7L263.0,724.6L263.4,725.2L263.8,725.2L264.2,725.2L264.6,724.2L265.0,724.5L265.4,725.2M269.0,725.2L269.4,724.9L269.8,725.2L270.2,724.7L270.6,724.5L271.0,724.2L271.4,724.7L271.8,725.2L272.2,725.2L272.6,724.0L273.0,725.2L273.4,725.2L273.8,724.6L274.2,725.2L274.6,724.9L275.0,724.4L275.4,724.7L275.8,725.2L276.2,724.8L276.6,725.2L277.0,724.8L277.4,724.8L277.8,725.2M279.4,725.2L279.8,724.7L280.2,725.2L280.6,725.2L281.0,724.7L281.4,725.2L281.8,725.2L282.2,725.2L282.6,724.3L283.0,724.8L283.4,725.2M286.2,725.2L286.6,724.7L287.0,725.2M289.0,725.2L289.4,724.7L289.8,725.2L290.2,725.2L290.6,724.8L291.0,725.2L291.4,724.7L291.8,725.2L292.2,724.6L292.6,725.2L293.0,724.5L293.4,724.5L293.8,725.2L294.2,724.7L294.6,724.9L295.0,725.2M301.0,725.2L301.4,724.9L301.8,725.2M303.8,725.2L304.2,724.5L304.6,725.2M306.6,725.2L307.0,724.6L307.4,725.2L307.8,725.2L308.2,724.6L308.6,725.2L309.0,725.2L309.4,725.2L309.8,724.8L310.2,725.2L310.6,725.2L311.0,725.2L311.4,724.7L311.8,724.4L312.2,725.2L312.6,724.3L313.0,724.8L313.4,725.2L313.8,725.2L314.2,725.2L314.6,724.8L315.0,725.2M317.0,725.2L317.4,724.5L317.8,725.2L318.2,724.5L318.6,725.2L319.0,725.2L319.4,724.9L319.8,725.2L320.2,724.5L320.6,725.2L321.0,725.2L321.4,724.8L321.8,725.2L322.2,724.7L322.6,724.6L323.0,724.7L323.4,725.2L323.8,725.2L324.2,724.7L324.6,724.9L325.0,724.9L325.4,724.2L325.8,724.7L326.2,725.2" fill="none" stroke="#1a1a1a" stroke-width="0.7" stroke-linejoin="round"/>
<path d="M151.5,725.5L151.5,694.0L151.8,724.9L152.2,723.6L152.6,724.0L153.0,723.0L153.4,724.4L153.8,723.8L154.2,722.8L154.6,722.1L155.0,722.4L155.4,725.2L155.8,722.2L156.2,723.8L156.6,721.5L157.0,722.2L157.4,721.9L157.8,720.9L158.2,719.0L158.6,719.3L159.0,717.9L159.4,718.2L159.8,718.3L160.2,714.9L160.6,713.0L161.0,717.0L161.4,714.8L161.8,717.0L162.2,713.5L162.6,714.5L163.0,709.3L163.4,710.3L163.8,709.8L164.2,707.0L164.6,707.9L165.0,714.3L165.4,703.1L165.8,702.0L166.2,704.9L166.6,701.3L167.0,702.3L167.4,706.6L167.8,706.3L168.2,697.4L168.6,698.2L169.0,695.5L169.4,694.1L169.8,699.6L170.2,696.5L170.6,696.4L171.0,695.8L171.4,696.2L171.8,699.1L172.2,696.6L172.6,703.0L173.0,696.4L173.4,699.2L173.8,700.3L174.2,697.5L174.6,698.1L175.0,698.7L175.4,702.2L175.8,702.6L176.2,702.2L176.6,702.7L177.0,704.3L177.4,706.9L177.8,704.5L178.2,707.6L178.6,707.0L179.0,710.3L179.4,714.1L179.8,709.5L180.2,709.8L180.6,711.9L181.0,710.6L181.4,713.0L181.8,714.6L182.2,712.8L182.6,715.2L183.0,717.7L183.4,717.0L183.8,718.5L184.2,719.9L184.6,718.1L185.0,719.8L185.4,720.8L185.8,720.7L186.2,718.5L186.6,719.6L187.0,720.3L187.4,723.3L187.8,724.0L188.2,722.6L188.6,722.8L189.0,722.5L189.4,723.1L189.8,722.7L190.2,724.4L190.6,723.1L191.0,724.0L191.4,723.2L191.8,723.6L192.2,725.2L192.6,724.3L193.0,723.4L193.4,723.6L193.8,723.8L194.2,724.8L194.6,724.8L195.0,724.1L195.4,725.2L195.8,724.2L196.2,724.8L196.6,724.1L197.0,723.9L197.4,724.8L197.8,725.2L198.2,725.2L198.6,724.7L199.0,725.2L199.4,724.5L199.8,725.2L200.2,724.4L200.6,723.8L201.0,725.2M202.6,725.2L203.0,724.0L203.4,725.2L203.8,725.2L204.2,725.2L204.6,724.5L205.0,725.2L205.4,724.8L205.8,725.2M207.8,725.2L208.2,723.9L208.6,725.2M210.6,725.2L211.0,724.7L211.4,725.2L211.8,725.2L212.2,724.7L212.6,725.2L213.0,724.9L213.4,724.9L213.8,724.6L214.2,724.4L214.6,724.9L215.0,724.9L215.4,725.2L215.8,725.2L216.2,724.7L216.6,724.7L217.0,725.2M218.6,725.2L219.0,724.8L219.4,725.2L219.8,725.2L220.2,724.8L220.6,725.2L221.0,725.2L221.4,725.2L221.8,724.9L222.2,725.2L222.6,725.2L223.0,725.2L223.4,725.2L223.8,724.6L224.2,724.8L224.6,724.3L225.0,725.2L225.4,725.2L225.8,725.2L226.2,724.4L226.6,725.2L227.0,725.2L227.4,724.5L227.8,725.2L228.2,724.9L228.6,725.2L229.0,725.2L229.4,723.8L229.8,725.2L230.2,725.2L230.6,724.8L231.0,724.7L231.4,724.1L231.8,725.2L232.2,724.3L232.6,724.7L233.0,725.2L233.4,725.2L233.8,725.2L234.2,724.4L234.6,725.2L235.0,725.2L235.4,724.8L235.8,725.2L236.2,725.2L236.6,725.2L237.0,724.9L237.4,725.2M239.0,725.2L239.4,724.9L239.8,724.6L240.2,724.1L240.6,724.5L241.0,725.2L241.4,725.2L241.8,725.2L242.2,724.6L242.6,725.2L243.0,724.7L243.4,725.2L243.8,725.2L244.2,725.2L244.6,724.8L245.0,725.2L245.4,725.2L245.8,725.2L246.2,725.2L246.6,724.6L247.0,725.2M248.6,725.2L249.0,724.4L249.4,725.2L249.8,725.2L250.2,724.8L250.6,725.2L251.0,724.7L251.4,725.2L251.8,724.9L252.2,725.2M254.2,725.2L254.6,724.7L255.0,725.2L255.4,724.5L255.8,724.5L256.2,725.2L256.6,725.2L257.0,724.6L257.4,725.2L257.8,725.2L258.2,725.2L258.6,724.6L259.0,725.2L259.4,724.4L259.8,725.2L260.2,724.6L260.6,725.2M264.2,725.2L264.6,724.4L265.0,725.2L265.4,724.8L265.8,724.9L266.2,724.8L266.6,724.8L267.0,724.6L267.4,724.5L267.8,724.8L268.2,724.7L268.6,724.6L269.0,725.2L269.4,725.2L269.8,724.5L270.2,725.2L270.6,724.8L271.0,725.2L271.4,724.2L271.8,724.8L272.2,725.2L272.6,725.2L273.0,725.2L273.4,725.2L273.8,724.3L274.2,725.2L274.6,725.2L275.0,725.2L275.4,725.2L275.8,724.4L276.2,724.9L276.6,725.2L277.0,725.2L277.4,724.9L277.8,724.8L278.2,725.2M281.4,725.2L281.8,724.4L282.2,724.7L282.6,724.7L283.0,725.2L283.4,725.2L283.8,724.2L284.2,724.9L284.6,724.7L285.0,725.2L285.4,724.4L285.8,724.5L286.2,725.2L286.6,725.2L287.0,725.2L287.4,724.7L287.8,725.2L288.2,725.2L288.6,725.2L289.0,725.2L289.4,724.4L289.8,724.7L290.2,725.2M291.8,725.2L292.2,724.7L292.6,725.2L293.0,724.7L293.4,725.2L293.8,725.2L294.2,725.2L294.6,724.8L295.0,725.2L295.4,725.2L295.8,725.2L296.2,724.8L296.6,724.7L297.0,725.2L297.4,724.6L297.8,724.6L298.2,725.2L298.6,725.2L299.0,723.4L299.4,724.2L299.8,724.6L300.2,724.7L300.6,725.2M303.8,725.2L304.2,724.5L304.6,725.2L305.0,724.6L305.4,725.2L305.8,724.7L306.2,725.2L306.6,725.2L307.0,725.2L307.4,724.5L307.8,725.2M309.4,725.2L309.8,724.9L310.2,725.2M312.2,725.2L312.6,724.8L313.0,724.6L313.4,725.2L313.8,724.3L314.2,725.2M319.4,725.2L319.8,724.2L320.2,724.3L320.6,725.2L321.0,724.7L321.4,725.2M323.0,725.2L323.4,724.6L323.8,724.8L324.2,725.2L324.6,725.2L325.0,725.2L325.4,725.2L325.8,724.8L326.2,724.8L326.6,724.5L327.0,724.8L327.4,725.2L327.8,724.2L328.2,725.2" fill="none" stroke="#22e022" stroke-width="1.25" stroke-linejoin="round"/>
<path d="M151.8,725.2L152.2,724.9L152.6,724.6L153.0,725.2L153.4,725.2L153.8,724.4L154.2,725.2L154.6,724.6L155.0,724.6L155.4,724.8L155.8,725.2L156.2,725.2L156.6,725.2L157.0,724.8L157.4,725.2L157.8,725.2L158.2,724.6L158.6,725.2L159.0,725.2L159.4,725.2L159.8,725.2L160.2,724.1L160.6,724.3L161.0,725.2M163.8,725.2L164.2,724.9L164.6,725.2L165.0,725.2L165.4,724.9L165.8,724.7L166.2,725.2L166.6,725.2L167.0,724.6L167.4,725.2L167.8,725.2L168.2,724.8L168.6,725.2M170.6,725.2L171.0,724.9L171.4,725.2L171.8,725.2L172.2,725.2L172.6,724.8L173.0,725.2L173.4,725.2L173.8,724.4L174.2,725.2L174.6,724.6L175.0,724.3L175.4,724.2L175.8,724.5L176.2,725.2L176.6,724.8L177.0,725.2L177.4,724.0L177.8,725.2L178.2,725.2L178.6,725.2L179.0,725.2L179.4,724.2L179.8,724.1L180.2,724.3L180.6,723.6L181.0,723.7L181.4,724.3L181.8,723.8L182.2,724.4L182.6,723.0L183.0,724.2L183.4,724.6L183.8,723.9L184.2,723.4L184.6,724.7L185.0,723.0L185.4,724.3L185.8,723.2L186.2,724.4L186.6,722.8L187.0,720.8L187.4,722.4L187.8,720.4L188.2,720.9L188.6,718.3L189.0,716.0L189.4,718.8L189.8,715.7L190.2,714.4L190.6,713.3L191.0,713.9L191.4,713.2L191.8,711.1L192.2,708.6L192.6,709.1L193.0,704.9L193.4,707.1L193.8,703.9L194.2,702.5L194.6,695.7L195.0,690.5L195.4,693.5L195.8,685.7L196.2,684.5L196.6,692.7L197.0,681.6L197.4,678.7L197.8,675.9L198.2,670.6L198.6,676.7L199.0,669.6L199.4,680.3L199.8,667.8L200.2,675.5L200.6,664.1L201.0,667.8L201.4,671.8L201.8,670.2L202.2,664.5L202.6,664.1L203.0,668.9L203.4,672.5L203.8,670.0L204.2,684.2L204.6,674.9L205.0,667.0L205.4,681.7L205.8,682.7L206.2,685.7L206.6,683.1L207.0,686.7L207.4,687.4L207.8,687.0L208.2,693.3L208.6,693.5L209.0,692.4L209.4,694.3L209.8,693.7L210.2,697.6L210.6,701.6L211.0,702.4L211.4,709.2L211.8,710.4L212.2,708.4L212.6,705.5L213.0,711.5L213.4,710.4L213.8,714.2L214.2,711.4L214.6,712.6L215.0,716.3L215.4,715.5L215.8,716.2L216.2,715.7L216.6,713.2L217.0,719.8L217.4,717.9L217.8,717.5L218.2,720.7L218.6,719.4L219.0,719.7L219.4,722.7L219.8,721.4L220.2,722.5L220.6,723.1L221.0,722.5L221.4,722.8L221.8,723.3L222.2,724.5L222.6,722.7L223.0,724.1L223.4,724.6L223.8,723.2L224.2,723.8L224.6,724.4L225.0,724.1L225.4,724.3L225.8,723.1L226.2,724.9L226.6,724.7L227.0,723.6L227.4,724.0L227.8,725.2L228.2,724.8L228.6,725.2M230.2,725.2L230.6,723.5L231.0,723.6L231.4,723.2L231.8,722.7L232.2,725.2L232.6,724.2L233.0,724.8L233.4,724.1L233.8,724.4L234.2,725.2L234.6,725.2L235.0,725.2L235.4,725.2L235.8,724.1L236.2,725.2L236.6,725.2L237.0,725.2L237.4,724.4L237.8,725.2L238.2,724.4L238.6,725.2L239.0,724.4L239.4,725.2L239.8,725.2L240.2,725.2L240.6,724.7L241.0,724.8L241.4,725.2L241.8,724.0L242.2,724.8L242.6,724.8L243.0,725.2L243.4,725.2L243.8,725.2L244.2,725.2L244.6,724.8L245.0,724.8L245.4,724.6L245.8,725.2L246.2,725.2L246.6,725.2L247.0,724.2L247.4,725.2L247.8,725.2L248.2,724.6L248.6,725.2M250.6,725.2L251.0,724.5L251.4,725.2L251.8,724.4L252.2,725.2L252.6,725.2L253.0,725.2L253.4,725.2L253.8,724.3L254.2,724.9L254.6,725.2L255.0,724.7L255.4,725.2M258.2,725.2L258.6,724.3L259.0,725.2L259.4,724.8L259.8,725.2L260.2,725.2L260.6,724.7L261.0,725.2L261.4,725.2L261.8,725.2L262.2,725.2L262.6,724.5L263.0,725.2M264.6,725.2L265.0,724.6L265.4,725.2M267.8,725.2L268.2,724.7L268.6,725.2L269.0,724.9L269.4,725.2L269.8,724.8L270.2,725.2L270.6,725.2L271.0,725.2L271.4,724.1L271.8,724.7L272.2,724.2L272.6,725.2M279.8,725.2L280.2,724.9L280.6,724.7L281.0,725.2M282.6,725.2L283.0,724.5L283.4,725.2L283.8,724.8L284.2,725.2L284.6,725.2L285.0,725.2L285.4,724.1L285.8,725.2L286.2,724.6L286.6,724.5L287.0,724.2L287.4,724.5L287.8,724.6L288.2,725.2M290.2,725.2L290.6,724.9L291.0,725.2M293.0,725.2L293.4,724.7L293.8,724.6L294.2,724.8L294.6,725.2L295.0,724.9L295.4,725.2L295.8,724.7L296.2,725.2L296.6,725.2L297.0,725.2L297.4,724.2L297.8,725.2M300.2,725.2L300.6,724.3L301.0,725.2M302.6,725.2L303.0,724.9L303.4,725.2L303.8,724.8L304.2,725.2L304.6,724.2L305.0,724.7L305.4,725.2L305.8,725.2L306.2,725.2L306.6,724.9L307.0,725.2L307.4,725.2L307.8,725.2L308.2,724.5L308.6,725.2L309.0,725.2L309.4,725.2L309.8,724.3L310.2,725.2L310.6,725.2L311.0,725.2L311.4,725.2L311.8,724.9L312.2,725.2L312.6,725.2L313.0,725.2L313.4,724.3L313.8,725.2L314.2,725.2L314.6,725.2L315.0,725.2L315.4,724.5L315.8,725.2L316.2,725.2L316.6,724.5L317.0,725.2M320.2,725.2L320.6,724.8L321.0,724.5L321.4,725.2L321.8,724.8L322.2,725.2L322.6,725.2L323.0,724.2L323.4,725.2M325.0,725.2L325.4,724.4L325.8,725.2L326.2,725.2L326.6,724.5L327.0,724.8L327.4,725.2L327.8,725.2L328.2,725.2" fill="none" stroke="#62c4e4" stroke-width="0.75" stroke-linejoin="round" stroke-dasharray="0.8 0.9"/>
<path d="M151.8,723.8L152.2,723.8L152.6,723.4L153.0,723.3L153.4,723.7L153.8,723.0L154.2,724.0L154.6,724.6L155.0,725.2L155.4,723.5L155.8,723.5L156.2,723.4L156.6,724.0L157.0,724.2L157.4,724.3L157.8,723.9L158.2,724.2L158.6,724.1L159.0,724.2L159.4,723.9L159.8,725.2L160.2,724.8L160.6,724.1L161.0,723.4L161.4,724.8L161.8,724.0L162.2,723.9L162.6,723.6L163.0,725.2L163.4,722.5L163.8,724.4L164.2,723.2L164.6,723.4L165.0,723.0L165.4,723.9L165.8,725.2L166.2,723.8L166.6,723.5L167.0,723.9L167.4,723.7L167.8,724.4L168.2,724.8L168.6,723.5L169.0,724.1L169.4,724.2L169.8,723.5L170.2,724.2L170.6,723.8L171.0,724.6L171.4,723.3L171.8,723.1L172.2,723.7L172.6,723.8L173.0,723.5L173.4,724.2L173.8,723.3L174.2,723.1L174.6,724.5L175.0,723.3L175.4,724.0L175.8,722.8L176.2,723.6L176.6,724.4L177.0,724.0L177.4,723.6L177.8,723.5L178.2,724.4L178.6,724.8L179.0,722.2L179.4,723.1L179.8,722.9L180.2,723.9L180.6,721.2L181.0,723.7L181.4,722.8L181.8,723.7L182.2,722.2L182.6,722.6L183.0,721.0L183.4,721.3L183.8,723.6L184.2,722.6L184.6,722.5L185.0,721.9L185.4,721.1L185.8,723.3L186.2,720.3L186.6,720.3L187.0,718.4L187.4,722.6L187.8,717.6L188.2,720.2L188.6,721.7L189.0,715.1L189.4,717.9L189.8,714.3L190.2,711.1L190.6,710.8L191.0,715.6L191.4,708.1L191.8,707.8L192.2,709.0L192.6,708.5L193.0,704.6L193.4,699.8L193.8,696.8L194.2,699.0L194.6,689.7L195.0,693.5L195.4,688.5L195.8,680.8L196.2,690.6L196.6,682.3L197.0,683.3L197.4,679.5L197.8,676.0L198.2,679.2L198.6,666.8L199.0,672.8L199.4,675.4L199.8,665.3L200.2,677.3L200.6,668.7L201.0,669.3L201.4,663.5L201.8,672.6L202.2,668.3L202.6,672.2L203.0,670.1L203.4,679.8L203.8,680.3L204.2,676.4L204.6,674.0L205.0,677.2L205.4,686.2L205.8,684.2L206.2,681.4L206.6,682.4L207.0,686.1L207.4,690.8L207.8,686.6L208.2,696.7L208.6,692.6L209.0,691.5L209.4,694.9L209.8,697.3L210.2,699.6L210.6,697.2L211.0,698.6L211.4,704.3L211.8,703.5L212.2,703.3L212.6,712.7L213.0,712.2L213.4,706.8L213.8,712.4L214.2,715.7L214.6,716.6L215.0,716.4L215.4,714.7L215.8,719.6L216.2,717.3L216.6,718.7L217.0,716.5L217.4,719.0L217.8,719.1L218.2,720.1L218.6,720.8L219.0,720.5L219.4,721.4L219.8,721.1L220.2,721.6L220.6,721.1L221.0,721.4L221.4,722.4L221.8,723.5L222.2,721.8L222.6,720.9L223.0,722.4L223.4,722.0L223.8,723.7L224.2,723.8L224.6,724.4L225.0,724.0L225.4,723.1L225.8,723.9L226.2,724.5L226.6,723.3L227.0,723.0L227.4,724.2L227.8,723.3L228.2,723.9L228.6,723.0L229.0,722.7L229.4,723.3L229.8,725.2L230.2,724.6L230.6,723.6L231.0,724.6L231.4,723.0L231.8,725.2L232.2,723.4L232.6,723.8L233.0,724.1L233.4,724.3L233.8,725.2L234.2,724.7L234.6,724.6L235.0,725.2L235.4,724.9L235.8,725.2L236.2,724.5L236.6,725.2L237.0,724.8L237.4,723.5L237.8,723.7L238.2,724.4L238.6,723.5L239.0,725.2L239.4,724.4L239.8,724.2L240.2,725.2L240.6,724.2L241.0,724.3L241.4,724.9L241.8,724.8L242.2,725.2L242.6,724.6L243.0,724.5L243.4,725.2L243.8,724.4L244.2,725.2L244.6,724.4L245.0,725.2L245.4,724.8L245.8,725.2L246.2,724.4L246.6,725.2L247.0,724.8L247.4,725.2L247.8,725.2L248.2,725.2L248.6,725.2L249.0,725.2L249.4,725.2L249.8,725.2L250.2,725.2L250.6,725.2L251.0,724.3L251.4,725.2L251.8,724.7L252.2,725.2L252.6,725.2L253.0,725.2L253.4,725.2L253.8,725.2L254.2,725.2L254.6,724.8L255.0,725.2L255.4,724.4L255.8,725.2L256.2,724.6L256.6,725.2L257.0,725.2L257.4,724.7L257.8,725.2L258.2,725.2L258.6,725.2L259.0,725.2L259.4,724.3L259.8,724.3L260.2,725.2L260.6,724.4L261.0,725.2L261.4,725.2L261.8,725.2L262.2,725.2L262.6,725.2L263.0,725.2L263.4,725.2L263.8,725.2L264.2,725.2L264.6,725.2L265.0,724.3L265.4,725.2L265.8,725.2L266.2,725.2L266.6,725.2L267.0,725.2L267.4,724.7L267.8,725.2L268.2,724.6L268.6,725.2L269.0,725.2L269.4,724.8L269.8,725.2L270.2,724.4L270.6,724.8L271.0,724.6L271.4,725.2L271.8,724.8L272.2,725.2L272.6,725.2L273.0,725.2L273.4,725.2L273.8,725.2L274.2,725.2L274.6,725.2L275.0,725.2L275.4,725.2L275.8,724.5L276.2,725.2L276.6,725.2L277.0,724.8L277.4,724.8L277.8,725.2L278.2,725.2L278.6,725.2L279.0,725.2L279.4,725.2L279.8,725.2L280.2,725.2L280.6,724.9L281.0,725.2L281.4,725.2L281.8,725.2L282.2,724.9L282.6,725.2L283.0,724.9L283.4,725.2L283.8,724.7L284.2,725.2L284.6,725.2L285.0,725.2L285.4,725.2L285.8,725.2L286.2,724.3L286.6,724.5L287.0,725.2L287.4,725.2L287.8,725.2L288.2,724.6L288.6,725.2L289.0,725.2L289.4,725.2L289.8,724.8L290.2,724.7L290.6,725.2L291.0,724.6L291.4,724.8L291.8,725.2L292.2,724.8L292.6,725.2L293.0,724.8L293.4,725.2L293.8,725.2L294.2,725.2L294.6,725.2L295.0,725.2L295.4,725.2L295.8,724.5L296.2,725.2L296.6,725.2L297.0,725.2L297.4,724.5L297.8,725.2L298.2,724.6L298.6,724.9L299.0,725.2L299.4,725.2L299.8,725.2L300.2,725.2L300.6,725.2L301.0,724.0L301.4,725.2L301.8,725.2L302.2,725.2L302.6,725.2L303.0,725.2L303.4,725.2L303.8,725.2L304.2,724.1L304.6,725.2L305.0,725.2L305.4,725.2L305.8,725.2L306.2,725.2L306.6,724.8L307.0,725.2L307.4,725.2L307.8,725.2L308.2,725.2L308.6,725.2L309.0,725.2L309.4,725.2L309.8,724.6L310.2,725.2L310.6,724.7L311.0,725.2L311.4,725.2L311.8,725.2L312.2,724.7L312.6,725.2L313.0,725.2L313.4,725.2L313.8,725.2L314.2,725.2L314.6,724.7L315.0,724.6L315.4,725.2L315.8,724.4L316.2,725.2L316.6,725.2L317.0,725.2L317.4,725.2L317.8,725.2L318.2,724.6L318.6,725.2L319.0,725.2L319.4,725.2L319.8,724.7L320.2,725.2L320.6,725.2L321.0,725.2L321.4,725.2L321.8,725.2L322.2,724.2L322.6,725.2L323.0,725.2L323.4,724.6L323.8,725.2L324.2,724.6L324.6,725.2L325.0,724.7L325.4,725.2L325.8,725.2L326.2,725.2L326.6,725.2L327.0,725.2L327.4,725.2L327.8,725.2L328.2,725.2" fill="none" stroke="#ee9640" stroke-width="0.8" stroke-linejoin="round" stroke-dasharray="1.6 0.8"/>
<line x1="149.30" y1="725.50" x2="151.30" y2="725.50" stroke="#444" stroke-width="0.6"/>
<text x="148.00" y="725.50" font-size="3.6" text-anchor="middle" fill="#666" transform="rotate(-90 148.00 725.50)">0</text>
<line x1="150.10" y1="720.50" x2="151.30" y2="720.50" stroke="#444" stroke-width="0.6"/>
<line x1="150.10" y1="715.50" x2="151.30" y2="715.50" stroke="#444" stroke-width="0.6"/>
<line x1="150.10" y1="710.50" x2="151.30" y2="710.50" stroke="#444" stroke-width="0.6"/>
<line x1="149.30" y1="705.50" x2="151.30" y2="705.50" stroke="#444" stroke-width="0.6"/>
<text x="148.00" y="705.50" font-size="3.6" text-anchor="middle" fill="#666" transform="rotate(-90 148.00 705.50)">40</text>
<line x1="150.10" y1="700.50" x2="151.30" y2="700.50" stroke="#444" stroke-width="0.6"/>
<line x1="150.10" y1="695.50" x2="151.30" y2="695.50" stroke="#444" stroke-width="0.6"/>
<line x1="150.10" y1="690.50" x2="151.30" y2="690.50" stroke="#444" stroke-width="0.6"/>
<line x1="149.30" y1="685.50" x2="151.30" y2="685.50" stroke="#444" stroke-width="0.6"/>
<text x="148.00" y="685.50" font-size="3.6" text-anchor="middle" fill="#666" transform="rotate(-90 148.00 685.50)">80</text>
<line x1="150.10" y1="680.50" x2="151.30" y2="680.50" stroke="#444" stroke-width="0.6"/>
<line x1="150.10" y1="675.50" x2="151.30" y2="675.50" stroke="#444" stroke-width="0.6"/>
<line x1="150.10" y1="670.50" x2="151.30" y2="670.50" stroke="#444" stroke-width="0.6"/>
<line x1="149.30" y1="665.50" x2="151.30" y2="665.50" stroke="#444" stroke-width="0.6"/>
<text x="148.00" y="665.50" font-size="3.6" text-anchor="middle" fill="#666" transform="rotate(-90 148.00 665.50)">120</text>
<line x1="150.10" y1="660.50" x2="151.30" y2="660.50" stroke="#444" stroke-width="0.6"/>
<line x1="150.10" y1="655.50" x2="151.30" y2="655.50" stroke="#444" stroke-width="0.6"/>
<line x1="150.10" y1="650.50" x2="151.30" y2="650.50" stroke="#444" stroke-width="0.6"/>
<line x1="149.30" y1="645.50" x2="151.30" y2="645.50" stroke="#444" stroke-width="0.6"/>
<text x="148.00" y="645.50" font-size="3.6" text-anchor="middle" fill="#666" transform="rotate(-90 148.00 645.50)">160</text>
<line x1="150.10" y1="640.50" x2="151.30" y2="640.50" stroke="#444" stroke-width="0.6"/>
<line x1="150.10" y1="635.50" x2="151.30" y2="635.50" stroke="#444" stroke-width="0.6"/>
<line x1="150.10" y1="630.50" x2="151.30" y2="630.50" stroke="#444" stroke-width="0.6"/>
<line x1="149.30" y1="625.50" x2="151.30" y2="625.50" stroke="#444" stroke-width="0.6"/>
<text x="148.00" y="625.50" font-size="3.6" text-anchor="middle" fill="#666" transform="rotate(-90 148.00 625.50)">200</text>
<line x1="151.30" y1="725.50" x2="151.30" y2="728.10" stroke="#444" stroke-width="0.6"/>
<line x1="164.64" y1="725.50" x2="164.64" y2="726.90" stroke="#444" stroke-width="0.6"/>
<line x1="172.45" y1="725.50" x2="172.45" y2="726.90" stroke="#444" stroke-width="0.6"/>
<line x1="177.99" y1="725.50" x2="177.99" y2="726.90" stroke="#444" stroke-width="0.6"/>
<line x1="182.28" y1="725.50" x2="182.28" y2="726.90" stroke="#444" stroke-width="0.6"/>
<line x1="185.79" y1="725.50" x2="185.79" y2="726.90" stroke="#444" stroke-width="0.6"/>
<line x1="188.76" y1="725.50" x2="188.76" y2="726.90" stroke="#444" stroke-width="0.6"/>
<line x1="191.33" y1="725.50" x2="191.33" y2="726.90" stroke="#444" stroke-width="0.6"/>
<line x1="193.60" y1="725.50" x2="193.60" y2="726.90" stroke="#444" stroke-width="0.6"/>
<line x1="195.62" y1="725.50" x2="195.62" y2="728.10" stroke="#444" stroke-width="0.6"/>
<line x1="208.97" y1="725.50" x2="208.97" y2="726.90" stroke="#444" stroke-width="0.6"/>
<line x1="216.77" y1="725.50" x2="216.77" y2="726.90" stroke="#444" stroke-width="0.6"/>
<line x1="222.31" y1="725.50" x2="222.31" y2="726.90" stroke="#444" stroke-width="0.6"/>
<line x1="226.61" y1="725.50" x2="226.61" y2="726.90" stroke="#444" stroke-width="0.6"/>
<line x1="230.12" y1="725.50" x2="230.12" y2="726.90" stroke="#444" stroke-width="0.6"/>
<line x1="233.08" y1="725.50" x2="233.08" y2="726.90" stroke="#444" stroke-width="0.6"/>
<line x1="235.65" y1="725.50" x2="235.65" y2="726.90" stroke="#444" stroke-width="0.6"/>
<line x1="237.92" y1="725.50" x2="237.92" y2="726.90" stroke="#444" stroke-width="0.6"/>
<line x1="239.95" y1="725.50" x2="239.95" y2="728.10" stroke="#444" stroke-width="0.6"/>
<line x1="253.29" y1="725.50" x2="253.29" y2="726.90" stroke="#444" stroke-width="0.6"/>
<line x1="261.10" y1="725.50" x2="261.10" y2="726.90" stroke="#444" stroke-width="0.6"/>
<line x1="266.64" y1="725.50" x2="266.64" y2="726.90" stroke="#444" stroke-width="0.6"/>
<line x1="270.93" y1="725.50" x2="270.93" y2="726.90" stroke="#444" stroke-width="0.6"/>
<line x1="274.44" y1="725.50" x2="274.44" y2="726.90" stroke="#444" stroke-width="0.6"/>
<line x1="277.41" y1="725.50" x2="277.41" y2="726.90" stroke="#444" stroke-width="0.6"/>
<line x1="279.98" y1="725.50" x2="279.98" y2="726.90" stroke="#444" stroke-width="0.6"/>
<line x1="282.25" y1="725.50" x2="282.25" y2="726.90" stroke="#444" stroke-width="0.6"/>
<line x1="284.28" y1="725.50" x2="284.28" y2="728.10" stroke="#444" stroke-width="0.6"/>
<line x1="297.62" y1="725.50" x2="297.62" y2="726.90" stroke="#444" stroke-width="0.6"/>
<line x1="305.42" y1="725.50" x2="305.42" y2="726.90" stroke="#444" stroke-width="0.6"/>
<line x1="310.96" y1="725.50" x2="310.96" y2="726.90" stroke="#444" stroke-width="0.6"/>
<line x1="315.26" y1="725.50" x2="315.26" y2="726.90" stroke="#444" stroke-width="0.6"/>
<line x1="318.77" y1="725.50" x2="318.77" y2="726.90" stroke="#444" stroke-width="0.6"/>
<line x1="321.73" y1="725.50" x2="321.73" y2="726.90" stroke="#444" stroke-width="0.6"/>
<line x1="324.30" y1="725.50" x2="324.30" y2="726.90" stroke="#444" stroke-width="0.6"/>
<line x1="326.57" y1="725.50" x2="326.57" y2="726.90" stroke="#444" stroke-width="0.6"/>
<text x="150.30" y="732.10" font-size="3.8" text-anchor="middle" fill="#666">10</text>
<text x="152.70" y="730.50" font-size="2.8" fill="#666">0</text>
<text x="194.62" y="732.10" font-size="3.8" text-anchor="middle" fill="#666">10</text>
<text x="197.03" y="730.50" font-size="2.8" fill="#666">1</text>
<text x="238.95" y="732.10" font-size="3.8" text-anchor="middle" fill="#666">10</text>
<text x="241.35" y="730.50" font-size="2.8" fill="#666">2</text>
<text x="283.28" y="732.10" font-size="3.8" text-anchor="middle" fill="#666">10</text>
<text x="285.68" y="730.50" font-size="2.8" fill="#666">3</text>
<text x="327.60" y="732.10" font-size="3.8" text-anchor="middle" fill="#666">10</text>
<text x="330.00" y="730.50" font-size="2.8" fill="#666">4</text>
<text x="226.10" y="638.80" font-size="8.7" stroke="#2a2a2a" stroke-width="0.12" fill="#2a2a2a">ACHN</text>
<text x="207.80" y="741.60" font-size="8.7" stroke="#2a2a2a" stroke-width="0.12" fill="#2a2a2a" textLength="59.60" lengthAdjust="spacingAndGlyphs">Mouse IgG1 PE</text>
<text x="138.00" y="675.30" font-size="8.7" stroke="#2a2a2a" stroke-width="0.12" text-anchor="middle" fill="#2a2a2a" textLength="27.40" lengthAdjust="spacingAndGlyphs" transform="rotate(-90 138.00 675.30)" dominant-baseline="central">Counts</text>
<rect x="379.50" y="624.10" width="183.80" height="102.70" fill="none" stroke="#7a7a7a" stroke-width="0.9"/>
<line x1="379.50" y1="624.10" x2="379.50" y2="726.80" stroke="#3a3a3a" stroke-width="0.8"/>
<line x1="379.50" y1="726.80" x2="563.30" y2="726.80" stroke="#3a3a3a" stroke-width="0.8"/>
<path d="M380.0,725.5L380.4,725.6L380.8,725.5L381.2,725.9L381.6,725.2L382.0,725.3L382.4,724.3L382.8,726.0L383.2,722.8L383.6,726.5L384.0,724.7L384.4,723.8L384.8,724.7L385.2,725.2L385.6,724.3L386.0,723.3L386.4,722.5L386.8,725.4L387.2,723.2L387.6,724.0L388.0,721.6L388.4,723.3L388.8,722.1L389.2,720.4L389.6,722.0L390.0,720.9L390.4,722.0L390.8,720.8L391.2,723.0L391.6,720.8L392.0,719.6L392.4,719.4L392.8,713.5L393.2,721.2L393.6,720.5L394.0,714.8L394.4,713.2L394.8,713.3L395.2,710.2L395.6,707.0L396.0,712.1L396.4,713.2L396.8,709.4L397.2,704.8L397.6,705.7L398.0,706.3L398.4,703.7L398.8,702.7L399.2,707.4L399.6,699.9L400.0,702.6L400.4,699.7L400.8,699.4L401.2,696.4L401.6,692.5L402.0,695.2L402.4,693.0L402.8,689.4L403.2,690.0L403.6,693.0L404.0,687.0L404.4,690.6L404.8,689.4L405.2,687.0L405.6,681.6L406.0,689.9L406.4,687.8L406.8,685.4L407.2,689.0L407.6,685.2L408.0,680.9L408.4,692.3L408.8,685.6L409.2,688.5L409.6,678.3L410.0,683.9L410.4,684.1L410.8,687.0L411.2,690.7L411.6,686.9L412.0,686.2L412.4,687.8L412.8,681.9L413.2,686.0L413.6,692.6L414.0,691.2L414.4,689.4L414.8,695.2L415.2,692.2L415.6,694.3L416.0,692.2L416.4,693.0L416.8,696.3L417.2,690.6L417.6,697.5L418.0,694.1L418.4,700.4L418.8,700.8L419.2,700.5L419.6,700.5L420.0,697.5L420.4,705.3L420.8,696.6L421.2,705.8L421.6,698.8L422.0,703.3L422.4,706.0L422.8,703.0L423.2,707.3L423.6,706.8L424.0,707.3L424.4,700.8L424.8,711.4L425.2,704.8L425.6,710.9L426.0,712.6L426.4,712.7L426.8,709.3L427.2,713.2L427.6,715.1L428.0,712.6L428.4,713.9L428.8,712.8L429.2,717.9L429.6,713.1L430.0,714.2L430.4,718.4L430.8,718.1L431.2,717.1L431.6,718.8L432.0,717.4L432.4,718.1L432.8,719.5L433.2,721.7L433.6,723.4L434.0,720.1L434.4,722.8L434.8,719.4L435.2,718.8L435.6,721.5L436.0,720.7L436.4,720.5L436.8,721.3L437.2,724.1L437.6,724.1L438.0,723.6L438.4,723.1L438.8,724.4L439.2,723.3L439.6,722.2L440.0,724.3L440.4,723.9L440.8,725.2L441.2,724.3L441.6,723.4L442.0,723.0L442.4,724.3L442.8,725.4L443.2,722.8L443.6,726.5L444.0,725.3L444.4,725.7L444.8,725.0L445.2,724.6L445.6,725.5L446.0,722.1L446.4,723.5L446.8,724.6L447.2,725.8L447.6,726.5L448.0,724.5L448.4,724.8L448.8,725.2L449.2,724.4L449.6,725.2L450.0,726.5L450.4,726.5L450.8,726.0L451.2,725.6L451.6,725.3L452.0,725.6L452.4,725.9L452.8,726.5L453.2,725.5L453.6,725.4L454.0,726.5L454.4,726.5L454.8,726.5L455.2,726.5L455.6,725.8L456.0,726.5L456.4,725.8L456.8,726.5L457.2,725.7L457.6,724.5L458.0,726.5L458.4,726.0L458.8,724.6L459.2,725.5L459.6,726.0L460.0,725.8L460.4,726.5M462.0,726.5L462.4,725.5L462.8,726.0L463.2,726.5L463.6,726.0L464.0,726.5L464.4,725.5L464.8,726.5L465.2,725.8L465.6,726.5L466.0,726.5L466.4,725.7L466.8,726.5L467.2,726.5L467.6,726.1L468.0,726.5L468.4,726.5L468.8,726.5L469.2,725.9L469.6,726.5M471.6,726.5L472.0,725.9L472.4,726.5L472.8,725.8L473.2,725.4L473.6,726.1L474.0,726.5L474.4,725.7L474.8,726.5L475.2,726.5L475.6,725.7L476.0,726.1L476.4,726.5L476.8,726.5L477.2,726.5L477.6,725.6L478.0,725.3L478.4,725.6L478.8,726.5L479.2,726.5L479.6,726.5L480.0,726.5L480.4,726.1L480.8,726.1L481.2,726.5L481.6,726.5L482.0,726.5L482.4,726.5L482.8,725.8L483.2,725.8L483.6,726.5L484.0,726.5L484.4,725.9L484.8,725.9L485.2,726.5L485.6,726.5L486.0,726.5L486.4,726.1L486.8,726.1L487.2,726.5M489.6,726.5L490.0,726.0L490.4,726.5L490.8,725.8L491.2,726.5L491.6,726.0L492.0,726.0L492.4,726.5L492.8,726.1L493.2,725.9L493.6,726.5M498.4,726.5L498.8,726.0L499.2,726.5M500.8,726.5L501.2,725.8L501.6,725.9L502.0,726.5L502.4,725.4L502.8,726.5L503.2,725.7L503.6,726.5L504.0,726.5L504.4,726.5L504.8,725.4L505.2,725.9L505.6,726.5M507.2,726.5L507.6,726.0L508.0,726.5L508.4,726.5L508.8,726.5L509.2,726.0L509.6,726.5L510.0,726.5L510.4,726.1L510.8,726.0L511.2,725.4L511.6,726.5M516.0,726.5L516.4,726.2L516.8,726.5L517.2,726.5L517.6,725.3L518.0,726.5L518.4,726.0L518.8,726.5M520.4,726.5L520.8,725.5L521.2,726.5L521.6,726.5L522.0,725.3L522.4,726.5L522.8,726.5L523.2,726.1L523.6,726.1L524.0,725.7L524.4,725.4L524.8,726.5L525.2,725.8L525.6,726.5M527.2,726.5L527.6,725.6L528.0,726.5L528.4,726.5L528.8,726.5L529.2,726.5L529.6,725.9L530.0,725.4L530.4,726.2L530.8,726.5L531.2,726.5L531.6,726.2L532.0,725.9L532.4,725.9L532.8,726.5L533.2,726.5L533.6,726.5L534.0,726.5L534.4,725.9L534.8,725.8L535.2,726.5L535.6,726.5L536.0,725.4L536.4,726.5L536.8,726.5L537.2,726.5L537.6,726.5L538.0,726.1L538.4,726.1L538.8,726.5L539.2,726.5L539.6,726.5L540.0,726.5L540.4,726.0L540.8,726.5L541.2,726.5L541.6,726.5L542.0,726.1L542.4,726.5M545.6,726.5L546.0,725.3L546.4,726.5L546.8,726.1L547.2,724.5L547.6,725.5L548.0,726.5M550.4,726.5L550.8,726.0L551.2,725.5L551.6,726.5L552.0,726.5L552.4,726.5L552.8,725.6L553.2,725.4L553.6,725.8L554.0,726.5L554.4,726.5L554.8,725.8L555.2,726.5M557.2,726.5L557.6,725.6L558.0,726.5L558.4,725.8L558.8,726.5L559.2,726.5L559.6,726.0L560.0,726.5L560.4,725.7L560.8,726.5L561.2,726.5L561.6,726.1L562.0,726.5L562.4,726.5L562.8,725.9" fill="none" stroke="#c2507c" stroke-width="0.75" stroke-linejoin="round" stroke-dasharray="1 0.7"/>
<path d="M380.0,720.3L380.4,718.2L380.8,718.5L381.2,716.6L381.6,714.4L382.0,714.7L382.4,714.8L382.8,710.2L383.2,709.8L383.6,710.9L384.0,708.9L384.4,707.6L384.8,699.7L385.2,703.0L385.6,698.5L386.0,698.6L386.4,696.6L386.8,696.5L387.2,700.2L387.6,694.1L388.0,691.3L388.4,692.4L388.8,684.6L389.2,687.3L389.6,686.3L390.0,691.2L390.4,681.1L390.8,679.8L391.2,686.3L391.6,685.2L392.0,678.0L392.4,684.4L392.8,679.5L393.2,681.1L393.6,676.4L394.0,680.7L394.4,679.3L394.8,681.9L395.2,687.1L395.6,682.4L396.0,678.5L396.4,683.7L396.8,683.1L397.2,684.7L397.6,683.5L398.0,684.7L398.4,683.9L398.8,690.7L399.2,693.9L399.6,687.3L400.0,692.3L400.4,692.1L400.8,689.4L401.2,695.6L401.6,691.3L402.0,696.7L402.4,702.5L402.8,699.0L403.2,699.8L403.6,701.0L404.0,702.8L404.4,698.4L404.8,701.6L405.2,703.9L405.6,707.7L406.0,707.9L406.4,708.0L406.8,706.9L407.2,713.4L407.6,709.3L408.0,710.3L408.4,712.6L408.8,713.4L409.2,715.7L409.6,715.9L410.0,714.4L410.4,716.0L410.8,715.8L411.2,717.1L411.6,719.2L412.0,718.0L412.4,717.5L412.8,718.0L413.2,719.9L413.6,722.7L414.0,720.5L414.4,723.6L414.8,720.3L415.2,723.1L415.6,723.7L416.0,721.8L416.4,722.6L416.8,723.3L417.2,722.2L417.6,724.0L418.0,723.4L418.4,723.7L418.8,723.8L419.2,724.0L419.6,724.1L420.0,726.1L420.4,725.1L420.8,724.8L421.2,725.6L421.6,724.5L422.0,725.4L422.4,726.0L422.8,724.9L423.2,725.9L423.6,725.8L424.0,725.7L424.4,725.9L424.8,725.4L425.2,725.1L425.6,726.1L426.0,725.5L426.4,725.9L426.8,725.9L427.2,726.5L427.6,725.5L428.0,726.1L428.4,726.1L428.8,726.5L429.2,726.5L429.6,725.7L430.0,726.1L430.4,726.5L430.8,725.5L431.2,725.2L431.6,726.5L432.0,725.7L432.4,726.5L432.8,726.0L433.2,725.8L433.6,726.5L434.0,726.5L434.4,726.5L434.8,726.0L435.2,725.9L435.6,726.5L436.0,726.2L436.4,725.4L436.8,726.1L437.2,726.5L437.6,726.1L438.0,726.5L438.4,726.5L438.8,726.5L439.2,725.8L439.6,725.4L440.0,725.7L440.4,725.8L440.8,726.5L441.2,725.7L441.6,725.7L442.0,726.5L442.4,725.5L442.8,726.5L443.2,726.5L443.6,726.0L444.0,725.5L444.4,726.5L444.8,725.9L445.2,725.7L445.6,726.5L446.0,725.8L446.4,726.5L446.8,726.5L447.2,726.5L447.6,726.2L448.0,725.8L448.4,725.7L448.8,726.0L449.2,726.5L449.6,726.5L450.0,726.5L450.4,726.5L450.8,726.2L451.2,725.7L451.6,726.5M454.8,726.5L455.2,726.0L455.6,726.5L456.0,726.5L456.4,726.5L456.8,725.8L457.2,726.5L457.6,726.5L458.0,726.5L458.4,725.5L458.8,726.0L459.2,725.6L459.6,726.5M461.6,726.5L462.0,725.9L462.4,726.0L462.8,726.5L463.2,726.0L463.6,726.5L464.0,725.8L464.4,726.0L464.8,726.0L465.2,726.5L465.6,726.5L466.0,725.8L466.4,726.5L466.8,726.0L467.2,726.5M468.8,726.5L469.2,726.1L469.6,726.5L470.0,726.5L470.4,726.5L470.8,726.0L471.2,726.5L471.6,726.5L472.0,726.5L472.4,725.9L472.8,726.5L473.2,726.2L473.6,726.5L474.0,726.0L474.4,726.5L474.8,726.5L475.2,725.7L475.6,726.5L476.0,726.5L476.4,725.9L476.8,726.5M478.8,726.5L479.2,725.8L479.6,726.5L480.0,726.0L480.4,726.5L480.8,726.5L481.2,726.5L481.6,726.1L482.0,726.0L482.4,726.5L482.8,726.5L483.2,726.5L483.6,726.5L484.0,725.7L484.4,726.5L484.8,726.1L485.2,725.7L485.6,726.5L486.0,726.5L486.4,726.5L486.8,726.0L487.2,725.8L487.6,726.2L488.0,726.5L488.4,726.5L488.8,726.5L489.2,725.8L489.6,726.5L490.0,726.5L490.4,726.5L490.8,726.1L491.2,726.5L491.6,726.0L492.0,726.5L492.4,726.5L492.8,725.4L493.2,726.5L493.6,725.6L494.0,726.5L494.4,726.5L494.8,725.9L495.2,726.5L495.6,726.5L496.0,726.5L496.4,726.0L496.8,726.5L497.2,726.5L497.6,726.5L498.0,726.0L498.4,725.9L498.8,726.0L499.2,726.5M502.0,726.5L502.4,725.6L502.8,726.5M505.2,726.5L505.6,726.2L506.0,726.5M508.0,726.5L508.4,726.0L508.8,726.5L509.2,726.5L509.6,725.3L510.0,726.5L510.4,726.5L510.8,726.1L511.2,726.2L511.6,726.5M514.4,726.5L514.8,725.8L515.2,726.5L515.6,726.5L516.0,726.1L516.4,725.8L516.8,725.7L517.2,726.5L517.6,725.6L518.0,726.5L518.4,726.5L518.8,725.9L519.2,726.5M521.6,726.5L522.0,726.2L522.4,726.5L522.8,726.5L523.2,726.5L523.6,725.6L524.0,726.5M526.8,726.5L527.2,726.1L527.6,726.5M531.2,726.5L531.6,726.0L532.0,726.5M534.4,726.5L534.8,726.1L535.2,726.5L535.6,726.5L536.0,726.1L536.4,725.7L536.8,726.5L537.2,726.1L537.6,726.5L538.0,726.5L538.4,726.5L538.8,726.2L539.2,726.5M543.2,726.5L543.6,726.2L544.0,726.0L544.4,726.1L544.8,726.5L545.2,726.5L545.6,726.5L546.0,726.5L546.4,725.7L546.8,726.5L547.2,726.2L547.6,726.5L548.0,726.1L548.4,725.9L548.8,726.5L549.2,726.5L549.6,726.2L550.0,726.0L550.4,726.5L550.8,726.0L551.2,726.0L551.6,726.5L552.0,725.5L552.4,726.5L552.8,726.5L553.2,725.9L553.6,726.5M555.6,726.5L556.0,725.7L556.4,726.5L556.8,726.5L557.2,726.5L557.6,726.1L558.0,726.5L558.4,725.6L558.8,726.5L559.2,726.5L559.6,726.5L560.0,726.2L560.4,725.7L560.8,726.5L561.2,726.1L561.6,725.8L562.0,726.0L562.4,726.5L562.8,726.5" fill="none" stroke="#1a1a1a" stroke-width="0.7" stroke-linejoin="round"/>
<path d="M380.0,725.2L380.4,725.4L380.8,725.0L381.2,726.5L381.6,725.7L382.0,723.5L382.4,725.4L382.8,725.2L383.2,724.2L383.6,725.0L384.0,726.5L384.4,724.1L384.8,723.8L385.2,724.7L385.6,723.6L386.0,724.5L386.4,723.4L386.8,723.5L387.2,722.6L387.6,721.8L388.0,723.1L388.4,720.1L388.8,722.6L389.2,721.5L389.6,722.1L390.0,721.0L390.4,717.2L390.8,720.0L391.2,719.0L391.6,718.6L392.0,718.6L392.4,717.0L392.8,719.8L393.2,715.5L393.6,717.8L394.0,713.6L394.4,713.2L394.8,713.2L395.2,713.0L395.6,708.7L396.0,711.2L396.4,716.0L396.8,710.6L397.2,707.8L397.6,708.6L398.0,704.0L398.4,701.7L398.8,706.2L399.2,706.2L399.6,701.7L400.0,701.4L400.4,704.5L400.8,695.9L401.2,699.8L401.6,696.7L402.0,704.2L402.4,693.7L402.8,695.5L403.2,689.6L403.6,693.6L404.0,686.5L404.4,695.8L404.8,687.5L405.2,695.5L405.6,691.5L406.0,703.9L406.4,692.0L406.8,690.8L407.2,693.6L407.6,691.5L408.0,686.8L408.4,693.5L408.8,694.6L409.2,687.1L409.6,692.4L410.0,689.9L410.4,685.5L410.8,691.7L411.2,695.9L411.6,694.8L412.0,695.2L412.4,693.4L412.8,688.2L413.2,691.5L413.6,694.2L414.0,689.7L414.4,690.4L414.8,697.9L415.2,695.8L415.6,697.7L416.0,700.8L416.4,702.9L416.8,702.6L417.2,699.7L417.6,700.7L418.0,695.8L418.4,700.9L418.8,698.0L419.2,701.8L419.6,706.2L420.0,704.8L420.4,705.4L420.8,708.4L421.2,707.1L421.6,706.9L422.0,708.5L422.4,710.6L422.8,708.8L423.2,710.4L423.6,710.1L424.0,708.4L424.4,713.4L424.8,713.6L425.2,705.9L425.6,714.0L426.0,714.4L426.4,715.4L426.8,713.2L427.2,714.7L427.6,714.2L428.0,715.2L428.4,715.9L428.8,717.4L429.2,718.8L429.6,718.8L430.0,716.8L430.4,714.7L430.8,719.9L431.2,719.4L431.6,717.2L432.0,716.9L432.4,720.9L432.8,723.3L433.2,720.5L433.6,720.6L434.0,719.2L434.4,721.8L434.8,719.8L435.2,723.2L435.6,719.8L436.0,721.8L436.4,722.0L436.8,722.6L437.2,721.8L437.6,722.7L438.0,723.3L438.4,723.6L438.8,723.5L439.2,724.5L439.6,726.0L440.0,723.1L440.4,724.5L440.8,725.2L441.2,723.5L441.6,724.7L442.0,724.6L442.4,726.0L442.8,723.8L443.2,725.0L443.6,724.3L444.0,726.0L444.4,723.8L444.8,725.6L445.2,724.7L445.6,725.3L446.0,724.9L446.4,724.1L446.8,726.5L447.2,725.2L447.6,726.5L448.0,725.9L448.4,724.6L448.8,726.2L449.2,725.9L449.6,726.5L450.0,726.5L450.4,726.1L450.8,726.5L451.2,724.4L451.6,726.5L452.0,726.5L452.4,726.5L452.8,725.6L453.2,724.6L453.6,726.0L454.0,725.7L454.4,726.2L454.8,724.8L455.2,725.4L455.6,726.5L456.0,725.2L456.4,726.5M458.0,726.5L458.4,726.2L458.8,725.9L459.2,726.1L459.6,726.5L460.0,725.6L460.4,726.5L460.8,726.5L461.2,726.5L461.6,726.5L462.0,726.0L462.4,725.9L462.8,726.2L463.2,726.5L463.6,726.5L464.0,725.3L464.4,725.8L464.8,726.5L465.2,726.5L465.6,724.6L466.0,725.8L466.4,726.5M468.0,726.5L468.4,726.1L468.8,725.7L469.2,726.5L469.6,726.0L470.0,726.0L470.4,726.5L470.8,724.8L471.2,726.5M475.2,726.5L475.6,725.7L476.0,726.5L476.4,726.5L476.8,726.1L477.2,726.5M479.2,726.5L479.6,726.0L480.0,725.8L480.4,725.4L480.8,726.5L481.2,726.5L481.6,726.5L482.0,726.5L482.4,726.0L482.8,725.7L483.2,726.5L483.6,726.1L484.0,726.5L484.4,726.1L484.8,726.5L485.2,725.9L485.6,726.5L486.0,726.5L486.4,726.5L486.8,725.9L487.2,725.1L487.6,726.5L488.0,726.5L488.4,726.1L488.8,726.5L489.2,725.9L489.6,726.5L490.0,726.5L490.4,726.5L490.8,726.5L491.2,725.7L491.6,726.1L492.0,726.1L492.4,726.2L492.8,726.5L493.2,726.5L493.6,726.5L494.0,726.1L494.4,726.5L494.8,725.8L495.2,726.1L495.6,726.5L496.0,725.8L496.4,726.0L496.8,726.5L497.2,726.5L497.6,726.5L498.0,726.5L498.4,725.9L498.8,726.2L499.2,726.2L499.6,726.5L500.0,726.5L500.4,725.8L500.8,726.5L501.2,726.1L501.6,726.1L502.0,726.5L502.4,726.1L502.8,726.5L503.2,726.5L503.6,725.9L504.0,726.5L504.4,726.5L504.8,726.5L505.2,724.7L505.6,726.5L506.0,726.5L506.4,725.7L506.8,726.5L507.2,726.5L507.6,726.5L508.0,726.5L508.4,726.0L508.8,726.5L509.2,725.5L509.6,726.1L510.0,725.8L510.4,725.9L510.8,726.5L511.2,726.5L511.6,726.5L512.0,726.5L512.4,725.9L512.8,725.4L513.2,725.6L513.6,725.7L514.0,725.5L514.4,726.5L514.8,726.5L515.2,725.3L515.6,726.5L516.0,725.5L516.4,725.7L516.8,726.1L517.2,725.8L517.6,726.5L518.0,726.5L518.4,726.5L518.8,725.4L519.2,726.5L519.6,726.5L520.0,726.0L520.4,725.7L520.8,726.5M523.2,726.5L523.6,726.1L524.0,726.0L524.4,726.5L524.8,725.7L525.2,726.5L525.6,725.6L526.0,725.8L526.4,726.5L526.8,725.9L527.2,726.2L527.6,725.9L528.0,726.5M529.6,726.5L530.0,725.6L530.4,726.5L530.8,726.1L531.2,726.5M533.2,726.5L533.6,725.8L534.0,725.5L534.4,726.5L534.8,726.5L535.2,725.8L535.6,726.5L536.0,725.6L536.4,726.1L536.8,726.5L537.2,726.1L537.6,726.5L538.0,726.5L538.4,726.5L538.8,726.5L539.2,726.1L539.6,726.5L540.0,726.5L540.4,725.4L540.8,725.6L541.2,726.5L541.6,726.1L542.0,726.5L542.4,726.5L542.8,726.5L543.2,725.9L543.6,726.5L544.0,726.5L544.4,726.5L544.8,724.8L545.2,726.5L545.6,726.0L546.0,726.5L546.4,725.9L546.8,726.5M548.4,726.5L548.8,725.5L549.2,726.5L549.6,726.5L550.0,726.0L550.4,726.1L550.8,726.5L551.2,726.5L551.6,726.1L552.0,726.1L552.4,725.6L552.8,726.5M554.4,726.5L554.8,726.0L555.2,726.5L555.6,726.5L556.0,726.0L556.4,726.5L556.8,725.8L557.2,726.5L557.6,725.4L558.0,725.9L558.4,725.6L558.8,726.5L559.2,726.1L559.6,726.5M561.2,726.5L561.6,725.4L562.0,726.5L562.4,726.5L562.8,726.1" fill="none" stroke="#22e022" stroke-width="1.25" stroke-linejoin="round"/>
<path d="M383.6,726.5L384.0,724.8L384.4,726.5M387.6,726.5L388.0,725.8L388.4,726.5M390.8,726.5L391.2,726.0L391.6,726.5L392.0,725.9L392.4,724.6L392.8,726.5L393.2,726.1L393.6,725.8L394.0,726.5L394.4,726.1L394.8,726.1L395.2,726.0L395.6,726.1L396.0,726.5L396.4,725.9L396.8,726.5L397.2,725.4L397.6,726.1L398.0,726.5L398.4,726.5L398.8,726.0L399.2,726.5L399.6,726.5L400.0,725.4L400.4,726.5L400.8,726.5L401.2,725.9L401.6,726.1L402.0,726.1L402.4,726.5L402.8,726.5L403.2,726.5L403.6,725.5L404.0,725.9L404.4,725.5L404.8,726.1L405.2,726.1L405.6,724.6L406.0,725.8L406.4,725.6L406.8,726.5L407.2,725.5L407.6,726.5L408.0,725.7L408.4,725.8L408.8,725.3L409.2,725.0L409.6,725.1L410.0,725.2L410.4,726.5L410.8,725.9L411.2,725.5L411.6,725.1L412.0,725.9L412.4,724.5L412.8,726.5L413.2,723.9L413.6,724.5L414.0,725.2L414.4,723.8L414.8,725.5L415.2,725.5L415.6,724.8L416.0,722.8L416.4,724.4L416.8,723.9L417.2,725.1L417.6,724.6L418.0,723.4L418.4,724.4L418.8,721.5L419.2,722.4L419.6,722.7L420.0,721.4L420.4,720.6L420.8,720.4L421.2,722.9L421.6,720.7L422.0,718.9L422.4,716.7L422.8,718.9L423.2,716.1L423.6,717.6L424.0,718.8L424.4,714.3L424.8,714.8L425.2,712.9L425.6,712.8L426.0,711.7L426.4,711.4L426.8,711.8L427.2,708.9L427.6,708.5L428.0,705.3L428.4,702.2L428.8,699.4L429.2,702.9L429.6,700.3L430.0,697.9L430.4,705.8L430.8,700.8L431.2,698.5L431.6,697.0L432.0,692.4L432.4,693.8L432.8,691.5L433.2,689.0L433.6,691.1L434.0,696.0L434.4,696.2L434.8,684.2L435.2,681.5L435.6,685.3L436.0,685.0L436.4,687.3L436.8,686.5L437.2,684.2L437.6,687.3L438.0,684.7L438.4,686.3L438.8,685.6L439.2,686.1L439.6,694.1L440.0,692.9L440.4,691.1L440.8,693.0L441.2,691.8L441.6,684.7L442.0,696.8L442.4,693.0L442.8,689.0L443.2,697.3L443.6,699.6L444.0,693.7L444.4,697.2L444.8,700.5L445.2,693.9L445.6,709.9L446.0,701.1L446.4,702.3L446.8,700.4L447.2,703.3L447.6,702.3L448.0,708.2L448.4,708.4L448.8,701.9L449.2,709.3L449.6,710.3L450.0,709.1L450.4,710.2L450.8,712.1L451.2,712.6L451.6,715.6L452.0,715.7L452.4,717.7L452.8,717.8L453.2,720.5L453.6,718.5L454.0,713.8L454.4,718.5L454.8,718.8L455.2,717.8L455.6,718.1L456.0,716.7L456.4,722.5L456.8,720.3L457.2,723.1L457.6,721.9L458.0,723.7L458.4,725.0L458.8,723.0L459.2,723.0L459.6,724.8L460.0,725.0L460.4,724.9L460.8,724.9L461.2,723.7L461.6,724.9L462.0,724.5L462.4,722.5L462.8,723.4L463.2,724.5L463.6,724.0L464.0,725.0L464.4,724.7L464.8,725.9L465.2,726.5L465.6,725.6L466.0,726.1L466.4,724.3L466.8,725.0L467.2,726.5L467.6,724.7L468.0,724.8L468.4,726.0L468.8,724.9L469.2,724.2L469.6,725.5L470.0,726.2L470.4,725.7L470.8,725.5L471.2,725.7L471.6,726.5L472.0,725.7L472.4,726.1L472.8,725.9L473.2,726.5L473.6,726.5L474.0,725.8L474.4,725.6L474.8,726.5L475.2,725.4L475.6,726.1L476.0,725.8L476.4,726.5L476.8,725.1L477.2,725.8L477.6,725.3L478.0,726.5L478.4,726.2L478.8,726.5L479.2,726.5L479.6,726.0L480.0,726.5L480.4,726.5L480.8,726.0L481.2,725.6L481.6,726.5L482.0,726.5L482.4,725.8L482.8,726.5L483.2,726.5L483.6,726.5L484.0,725.4L484.4,726.0L484.8,725.6L485.2,726.0L485.6,725.9L486.0,726.5L486.4,725.9L486.8,726.5M488.8,726.5L489.2,726.0L489.6,726.5L490.0,726.5L490.4,726.5L490.8,726.5L491.2,725.4L491.6,726.5M494.0,726.5L494.4,725.9L494.8,726.5L495.2,726.5L495.6,726.5L496.0,725.7L496.4,726.5M498.4,726.5L498.8,725.5L499.2,726.5M501.2,726.5L501.6,726.0L502.0,726.5M506.0,726.5L506.4,726.1L506.8,725.1L507.2,726.5L507.6,725.5L508.0,726.5L508.4,726.0L508.8,725.8L509.2,726.5L509.6,726.5L510.0,726.0L510.4,726.1L510.8,726.5L511.2,726.5L511.6,726.0L512.0,726.5L512.4,726.5L512.8,726.0L513.2,726.5M514.8,726.5L515.2,726.1L515.6,725.9L516.0,726.5L516.4,725.6L516.8,726.5L517.2,726.5L517.6,725.3L518.0,726.5L518.4,726.5L518.8,725.6L519.2,726.5L519.6,726.1L520.0,725.9L520.4,726.5L520.8,726.5L521.2,725.9L521.6,725.8L522.0,726.5L522.4,726.5L522.8,725.7L523.2,726.5L523.6,726.1L524.0,726.5L524.4,726.5L524.8,726.5L525.2,726.5L525.6,725.9L526.0,726.5M528.0,726.5L528.4,726.0L528.8,726.5L529.2,726.1L529.6,726.5L530.0,726.5L530.4,726.1L530.8,726.5M533.6,726.5L534.0,726.0L534.4,725.4L534.8,726.1L535.2,725.5L535.6,726.5L536.0,725.5L536.4,726.5L536.8,726.5L537.2,725.8L537.6,726.5M539.2,726.5L539.6,726.0L540.0,726.5M542.4,726.5L542.8,726.1L543.2,726.5L543.6,726.5L544.0,725.7L544.4,726.5L544.8,726.5L545.2,726.5L545.6,726.5L546.0,726.1L546.4,726.5L546.8,725.2L547.2,726.5M552.0,726.5L552.4,726.1L552.8,725.7L553.2,726.5L553.6,726.5L554.0,726.1L554.4,726.5L554.8,726.5L555.2,725.6L555.6,725.9L556.0,726.1L556.4,726.5M558.4,726.5L558.8,725.3L559.2,726.5L559.6,726.5L560.0,726.0L560.4,726.1L560.8,726.5L561.2,726.5L561.6,726.5L562.0,725.8L562.4,726.5L562.8,726.5" fill="none" stroke="#62c4e4" stroke-width="0.75" stroke-linejoin="round" stroke-dasharray="0.8 0.9"/>
<path d="M380.0,724.7L380.4,725.5L380.8,724.5L381.2,726.2L381.6,725.9L382.0,725.7L382.4,723.5L382.8,725.3L383.2,725.0L383.6,724.1L384.0,725.6L384.4,724.2L384.8,725.8L385.2,725.3L385.6,725.8L386.0,724.9L386.4,724.0L386.8,725.4L387.2,725.9L387.6,724.7L388.0,725.3L388.4,724.0L388.8,724.9L389.2,724.5L389.6,726.1L390.0,724.8L390.4,725.2L390.8,725.5L391.2,725.5L391.6,724.5L392.0,726.5L392.4,724.8L392.8,723.6L393.2,724.4L393.6,725.9L394.0,724.0L394.4,726.2L394.8,725.2L395.2,724.6L395.6,724.8L396.0,724.8L396.4,726.5L396.8,724.4L397.2,725.5L397.6,724.7L398.0,724.5L398.4,724.9L398.8,724.8L399.2,724.0L399.6,725.6L400.0,723.4L400.4,724.7L400.8,725.5L401.2,724.8L401.6,725.5L402.0,725.8L402.4,724.1L402.8,723.8L403.2,724.8L403.6,724.5L404.0,726.0L404.4,724.7L404.8,726.5L405.2,723.8L405.6,723.1L406.0,724.3L406.4,725.7L406.8,724.5L407.2,725.4L407.6,724.9L408.0,725.6L408.4,724.4L408.8,725.7L409.2,724.7L409.6,723.5L410.0,724.3L410.4,725.0L410.8,723.9L411.2,724.2L411.6,724.4L412.0,724.4L412.4,723.4L412.8,724.2L413.2,723.3L413.6,725.0L414.0,723.1L414.4,725.5L414.8,723.3L415.2,723.0L415.6,725.9L416.0,722.5L416.4,726.0L416.8,723.6L417.2,722.3L417.6,722.7L418.0,723.9L418.4,721.3L418.8,723.0L419.2,722.1L419.6,723.4L420.0,721.3L420.4,721.9L420.8,717.4L421.2,719.3L421.6,720.3L422.0,717.4L422.4,715.3L422.8,717.1L423.2,717.4L423.6,716.2L424.0,714.7L424.4,712.6L424.8,711.0L425.2,709.2L425.6,716.0L426.0,710.2L426.4,711.3L426.8,710.9L427.2,708.4L427.6,706.2L428.0,704.1L428.4,707.5L428.8,709.0L429.2,703.2L429.6,698.0L430.0,699.4L430.4,696.4L430.8,697.2L431.2,697.4L431.6,696.8L432.0,695.5L432.4,691.5L432.8,693.9L433.2,689.0L433.6,692.4L434.0,692.3L434.4,690.4L434.8,688.4L435.2,686.8L435.6,681.3L436.0,682.2L436.4,686.4L436.8,689.6L437.2,691.3L437.6,692.7L438.0,682.0L438.4,691.5L438.8,687.7L439.2,683.0L439.6,690.6L440.0,692.5L440.4,694.3L440.8,689.2L441.2,693.2L441.6,688.5L442.0,694.8L442.4,696.6L442.8,689.1L443.2,699.4L443.6,700.2L444.0,688.7L444.4,700.9L444.8,694.0L445.2,697.8L445.6,702.2L446.0,698.0L446.4,703.0L446.8,704.7L447.2,703.5L447.6,708.8L448.0,705.0L448.4,709.4L448.8,708.0L449.2,707.2L449.6,713.0L450.0,710.7L450.4,710.5L450.8,710.4L451.2,710.3L451.6,712.3L452.0,717.2L452.4,716.7L452.8,719.3L453.2,717.0L453.6,715.3L454.0,717.0L454.4,717.6L454.8,719.5L455.2,719.6L455.6,718.3L456.0,716.6L456.4,720.4L456.8,719.6L457.2,719.9L457.6,721.4L458.0,720.6L458.4,722.1L458.8,722.8L459.2,721.7L459.6,723.2L460.0,722.4L460.4,722.4L460.8,722.9L461.2,721.6L461.6,722.5L462.0,724.8L462.4,724.7L462.8,723.4L463.2,724.8L463.6,722.7L464.0,725.0L464.4,726.5L464.8,723.6L465.2,723.9L465.6,724.9L466.0,724.8L466.4,726.1L466.8,725.7L467.2,724.4L467.6,726.5L468.0,724.8L468.4,724.8L468.8,725.1L469.2,724.8L469.6,723.9L470.0,725.3L470.4,726.0L470.8,726.5L471.2,725.3L471.6,724.6L472.0,726.1L472.4,726.5L472.8,725.9L473.2,726.5L473.6,726.5L474.0,725.6L474.4,724.5L474.8,725.0L475.2,726.5L475.6,725.2L476.0,726.5L476.4,726.5L476.8,725.1L477.2,725.5L477.6,726.5L478.0,725.5L478.4,725.2L478.8,726.5L479.2,725.3L479.6,726.5L480.0,726.1L480.4,726.5L480.8,726.5L481.2,726.5L481.6,726.1L482.0,725.9L482.4,725.2L482.8,725.9L483.2,726.5L483.6,726.5L484.0,726.5L484.4,726.1L484.8,726.5L485.2,726.5L485.6,726.5L486.0,726.5L486.4,725.6L486.8,725.5L487.2,726.1L487.6,726.5L488.0,726.5L488.4,726.5L488.8,726.5L489.2,726.5L489.6,726.0L490.0,726.5L490.4,726.5L490.8,726.5L491.2,726.5L491.6,726.5L492.0,725.8L492.4,726.5L492.8,726.5L493.2,726.5L493.6,725.8L494.0,726.5L494.4,726.5L494.8,726.5L495.2,726.5L495.6,726.0L496.0,726.5L496.4,726.5L496.8,726.5L497.2,724.9L497.6,725.7L498.0,726.5L498.4,725.7L498.8,726.5L499.2,726.5L499.6,726.5L500.0,726.5L500.4,726.5L500.8,726.5L501.2,726.5L501.6,725.9L502.0,726.5L502.4,726.5L502.8,726.1L503.2,725.8L503.6,726.1L504.0,726.2L504.4,726.5L504.8,725.6L505.2,725.8L505.6,726.5L506.0,726.5L506.4,725.5L506.8,726.5L507.2,726.5L507.6,725.6L508.0,726.5L508.4,726.5L508.8,726.0L509.2,726.0L509.6,726.2L510.0,726.5L510.4,725.5L510.8,726.5L511.2,726.5L511.6,726.1L512.0,725.9L512.4,725.5L512.8,726.5L513.2,726.5L513.6,725.9L514.0,726.5L514.4,726.5L514.8,726.5L515.2,726.5L515.6,726.0L516.0,726.2L516.4,726.1L516.8,726.5L517.2,726.5L517.6,725.9L518.0,726.5L518.4,726.5L518.8,726.5L519.2,726.0L519.6,725.8L520.0,725.6L520.4,725.8L520.8,726.5L521.2,725.8L521.6,726.5L522.0,726.5L522.4,726.5L522.8,725.9L523.2,726.5L523.6,725.6L524.0,726.5L524.4,726.5L524.8,726.5L525.2,725.7L525.6,726.5L526.0,726.5L526.4,726.5L526.8,725.2L527.2,726.1L527.6,726.5L528.0,726.5L528.4,726.5L528.8,726.5L529.2,726.5L529.6,726.5L530.0,726.5L530.4,726.5L530.8,726.5L531.2,725.9L531.6,726.5L532.0,726.0L532.4,726.5L532.8,726.5L533.2,726.5L533.6,726.5L534.0,725.6L534.4,725.6L534.8,726.5L535.2,726.5L535.6,726.5L536.0,725.9L536.4,725.9L536.8,725.8L537.2,725.3L537.6,726.5L538.0,725.4L538.4,726.1L538.8,726.5L539.2,726.1L539.6,725.3L540.0,725.0L540.4,726.5L540.8,726.5L541.2,726.2L541.6,726.5L542.0,725.9L542.4,726.5L542.8,726.5L543.2,725.3L543.6,726.5L544.0,726.5L544.4,726.0L544.8,725.9L545.2,726.5L545.6,724.9L546.0,726.5L546.4,726.5L546.8,725.8L547.2,726.5L547.6,726.5L548.0,726.5L548.4,726.5L548.8,726.5L549.2,726.5L549.6,726.5L550.0,725.9L550.4,726.5L550.8,726.5L551.2,726.5L551.6,726.5L552.0,726.5L552.4,726.5L552.8,726.1L553.2,725.2L553.6,726.2L554.0,726.5L554.4,726.2L554.8,726.5L555.2,725.9L555.6,726.5L556.0,726.5L556.4,725.8L556.8,726.5L557.2,726.5L557.6,725.8L558.0,726.1L558.4,726.5L558.8,726.5L559.2,726.5L559.6,726.5L560.0,726.5L560.4,725.7L560.8,726.5L561.2,726.5L561.6,726.5L562.0,726.5L562.4,726.5L562.8,725.9" fill="none" stroke="#ee9640" stroke-width="0.8" stroke-linejoin="round" stroke-dasharray="1.6 0.8"/>
<line x1="377.50" y1="726.80" x2="379.50" y2="726.80" stroke="#444" stroke-width="0.6"/>
<text x="376.20" y="726.80" font-size="3.6" text-anchor="middle" fill="#666" transform="rotate(-90 376.20 726.80)">0</text>
<line x1="378.30" y1="721.66" x2="379.50" y2="721.66" stroke="#444" stroke-width="0.6"/>
<line x1="378.30" y1="716.53" x2="379.50" y2="716.53" stroke="#444" stroke-width="0.6"/>
<line x1="378.30" y1="711.39" x2="379.50" y2="711.39" stroke="#444" stroke-width="0.6"/>
<line x1="377.50" y1="706.26" x2="379.50" y2="706.26" stroke="#444" stroke-width="0.6"/>
<text x="376.20" y="706.26" font-size="3.6" text-anchor="middle" fill="#666" transform="rotate(-90 376.20 706.26)">40</text>
<line x1="378.30" y1="701.12" x2="379.50" y2="701.12" stroke="#444" stroke-width="0.6"/>
<line x1="378.30" y1="695.99" x2="379.50" y2="695.99" stroke="#444" stroke-width="0.6"/>
<line x1="378.30" y1="690.86" x2="379.50" y2="690.86" stroke="#444" stroke-width="0.6"/>
<line x1="377.50" y1="685.72" x2="379.50" y2="685.72" stroke="#444" stroke-width="0.6"/>
<text x="376.20" y="685.72" font-size="3.6" text-anchor="middle" fill="#666" transform="rotate(-90 376.20 685.72)">80</text>
<line x1="378.30" y1="680.59" x2="379.50" y2="680.59" stroke="#444" stroke-width="0.6"/>
<line x1="378.30" y1="675.45" x2="379.50" y2="675.45" stroke="#444" stroke-width="0.6"/>
<line x1="378.30" y1="670.32" x2="379.50" y2="670.32" stroke="#444" stroke-width="0.6"/>
<line x1="377.50" y1="665.18" x2="379.50" y2="665.18" stroke="#444" stroke-width="0.6"/>
<text x="376.20" y="665.18" font-size="3.6" text-anchor="middle" fill="#666" transform="rotate(-90 376.20 665.18)">120</text>
<line x1="378.30" y1="660.04" x2="379.50" y2="660.04" stroke="#444" stroke-width="0.6"/>
<line x1="378.30" y1="654.91" x2="379.50" y2="654.91" stroke="#444" stroke-width="0.6"/>
<line x1="378.30" y1="649.77" x2="379.50" y2="649.77" stroke="#444" stroke-width="0.6"/>
<line x1="377.50" y1="644.64" x2="379.50" y2="644.64" stroke="#444" stroke-width="0.6"/>
<text x="376.20" y="644.64" font-size="3.6" text-anchor="middle" fill="#666" transform="rotate(-90 376.20 644.64)">160</text>
<line x1="378.30" y1="639.50" x2="379.50" y2="639.50" stroke="#444" stroke-width="0.6"/>
<line x1="378.30" y1="634.37" x2="379.50" y2="634.37" stroke="#444" stroke-width="0.6"/>
<line x1="378.30" y1="629.24" x2="379.50" y2="629.24" stroke="#444" stroke-width="0.6"/>
<line x1="377.50" y1="624.10" x2="379.50" y2="624.10" stroke="#444" stroke-width="0.6"/>
<text x="376.20" y="624.10" font-size="3.6" text-anchor="middle" fill="#666" transform="rotate(-90 376.20 624.10)">200</text>
<line x1="379.50" y1="726.80" x2="379.50" y2="729.40" stroke="#444" stroke-width="0.6"/>
<line x1="393.33" y1="726.80" x2="393.33" y2="728.20" stroke="#444" stroke-width="0.6"/>
<line x1="401.42" y1="726.80" x2="401.42" y2="728.20" stroke="#444" stroke-width="0.6"/>
<line x1="407.16" y1="726.80" x2="407.16" y2="728.20" stroke="#444" stroke-width="0.6"/>
<line x1="411.62" y1="726.80" x2="411.62" y2="728.20" stroke="#444" stroke-width="0.6"/>
<line x1="415.26" y1="726.80" x2="415.26" y2="728.20" stroke="#444" stroke-width="0.6"/>
<line x1="418.33" y1="726.80" x2="418.33" y2="728.20" stroke="#444" stroke-width="0.6"/>
<line x1="421.00" y1="726.80" x2="421.00" y2="728.20" stroke="#444" stroke-width="0.6"/>
<line x1="423.35" y1="726.80" x2="423.35" y2="728.20" stroke="#444" stroke-width="0.6"/>
<line x1="425.45" y1="726.80" x2="425.45" y2="729.40" stroke="#444" stroke-width="0.6"/>
<line x1="439.28" y1="726.80" x2="439.28" y2="728.20" stroke="#444" stroke-width="0.6"/>
<line x1="447.37" y1="726.80" x2="447.37" y2="728.20" stroke="#444" stroke-width="0.6"/>
<line x1="453.11" y1="726.80" x2="453.11" y2="728.20" stroke="#444" stroke-width="0.6"/>
<line x1="457.57" y1="726.80" x2="457.57" y2="728.20" stroke="#444" stroke-width="0.6"/>
<line x1="461.21" y1="726.80" x2="461.21" y2="728.20" stroke="#444" stroke-width="0.6"/>
<line x1="464.28" y1="726.80" x2="464.28" y2="728.20" stroke="#444" stroke-width="0.6"/>
<line x1="466.95" y1="726.80" x2="466.95" y2="728.20" stroke="#444" stroke-width="0.6"/>
<line x1="469.30" y1="726.80" x2="469.30" y2="728.20" stroke="#444" stroke-width="0.6"/>
<line x1="471.40" y1="726.80" x2="471.40" y2="729.40" stroke="#444" stroke-width="0.6"/>
<line x1="485.23" y1="726.80" x2="485.23" y2="728.20" stroke="#444" stroke-width="0.6"/>
<line x1="493.32" y1="726.80" x2="493.32" y2="728.20" stroke="#444" stroke-width="0.6"/>
<line x1="499.06" y1="726.80" x2="499.06" y2="728.20" stroke="#444" stroke-width="0.6"/>
<line x1="503.52" y1="726.80" x2="503.52" y2="728.20" stroke="#444" stroke-width="0.6"/>
<line x1="507.16" y1="726.80" x2="507.16" y2="728.20" stroke="#444" stroke-width="0.6"/>
<line x1="510.23" y1="726.80" x2="510.23" y2="728.20" stroke="#444" stroke-width="0.6"/>
<line x1="512.90" y1="726.80" x2="512.90" y2="728.20" stroke="#444" stroke-width="0.6"/>
<line x1="515.25" y1="726.80" x2="515.25" y2="728.20" stroke="#444" stroke-width="0.6"/>
<line x1="517.35" y1="726.80" x2="517.35" y2="729.40" stroke="#444" stroke-width="0.6"/>
<line x1="531.18" y1="726.80" x2="531.18" y2="728.20" stroke="#444" stroke-width="0.6"/>
<line x1="539.27" y1="726.80" x2="539.27" y2="728.20" stroke="#444" stroke-width="0.6"/>
<line x1="545.01" y1="726.80" x2="545.01" y2="728.20" stroke="#444" stroke-width="0.6"/>
<line x1="549.47" y1="726.80" x2="549.47" y2="728.20" stroke="#444" stroke-width="0.6"/>
<line x1="553.11" y1="726.80" x2="553.11" y2="728.20" stroke="#444" stroke-width="0.6"/>
<line x1="556.18" y1="726.80" x2="556.18" y2="728.20" stroke="#444" stroke-width="0.6"/>
<line x1="558.85" y1="726.80" x2="558.85" y2="728.20" stroke="#444" stroke-width="0.6"/>
<line x1="561.20" y1="726.80" x2="561.20" y2="728.20" stroke="#444" stroke-width="0.6"/>
<text x="378.50" y="733.40" font-size="3.8" text-anchor="middle" fill="#666">10</text>
<text x="380.90" y="731.80" font-size="2.8" fill="#666">0</text>
<text x="424.45" y="733.40" font-size="3.8" text-anchor="middle" fill="#666">10</text>
<text x="426.85" y="731.80" font-size="2.8" fill="#666">1</text>
<text x="470.40" y="733.40" font-size="3.8" text-anchor="middle" fill="#666">10</text>
<text x="472.80" y="731.80" font-size="2.8" fill="#666">2</text>
<text x="516.35" y="733.40" font-size="3.8" text-anchor="middle" fill="#666">10</text>
<text x="518.75" y="731.80" font-size="2.8" fill="#666">3</text>
<text x="562.30" y="733.40" font-size="3.8" text-anchor="middle" fill="#666">10</text>
<text x="564.70" y="731.80" font-size="2.8" fill="#666">4</text>
<text x="454.80" y="638.80" font-size="8.7" stroke="#2a2a2a" stroke-width="0.12" fill="#2a2a2a">HEK293</text>
<text x="440.00" y="741.80" font-size="8.7" stroke="#2a2a2a" stroke-width="0.12" fill="#2a2a2a" textLength="59.60" lengthAdjust="spacingAndGlyphs">Mouse IgG1 PE</text>
<text x="367.50" y="675.50" font-size="8.7" stroke="#2a2a2a" stroke-width="0.12" text-anchor="middle" fill="#2a2a2a" textLength="27.40" lengthAdjust="spacingAndGlyphs" transform="rotate(-90 367.50 675.50)" dominant-baseline="central">Counts</text>
<rect x="151.40" y="748.20" width="176.20" height="99.30" fill="none" stroke="#7a7a7a" stroke-width="0.9"/>
<line x1="151.40" y1="748.20" x2="151.40" y2="847.50" stroke="#3a3a3a" stroke-width="0.8"/>
<line x1="151.40" y1="847.50" x2="327.60" y2="847.50" stroke="#3a3a3a" stroke-width="0.8"/>
<path d="M151.9,845.7L152.3,843.9L152.7,845.5L153.1,843.7L153.5,845.4L153.9,842.8L154.3,843.5L154.7,841.3L155.1,841.5L155.5,842.2L155.9,842.2L156.3,840.6L156.7,840.8L157.1,841.5L157.5,838.4L157.9,842.9L158.3,838.1L158.7,833.3L159.1,835.3L159.5,838.2L159.9,832.2L160.3,833.0L160.7,833.7L161.1,832.6L161.5,829.7L161.9,826.8L162.3,827.8L162.7,821.7L163.1,826.5L163.5,821.2L163.9,826.4L164.3,826.3L164.7,819.6L165.1,817.1L165.5,810.8L165.9,816.2L166.3,812.8L166.7,816.4L167.1,811.0L167.5,808.0L167.9,810.1L168.3,804.1L168.7,801.7L169.1,803.6L169.5,805.1L169.9,804.9L170.3,801.4L170.7,806.8L171.1,799.2L171.5,804.6L171.9,801.3L172.3,806.3L172.7,805.8L173.1,805.5L173.5,801.0L173.9,803.1L174.3,803.4L174.7,800.7L175.1,808.1L175.5,802.5L175.9,808.5L176.3,810.4L176.7,810.1L177.1,805.6L177.5,804.7L177.9,813.1L178.3,815.9L178.7,818.6L179.1,814.7L179.5,814.7L179.9,816.0L180.3,817.7L180.7,815.7L181.1,820.8L181.5,821.0L181.9,824.1L182.3,827.1L182.7,831.5L183.1,826.8L183.5,829.5L183.9,830.4L184.3,831.6L184.7,831.1L185.1,831.9L185.5,837.9L185.9,834.8L186.3,834.0L186.7,835.1L187.1,837.0L187.5,837.0L187.9,840.8L188.3,838.0L188.7,839.7L189.1,839.7L189.5,839.4L189.9,840.7L190.3,843.0L190.7,844.6L191.1,842.9L191.5,842.6L191.9,842.7L192.3,842.0L192.7,843.1L193.1,843.5L193.5,846.1L193.9,843.5L194.3,844.4L194.7,842.6L195.1,844.1L195.5,845.8L195.9,845.1L196.3,844.8L196.7,846.3L197.1,847.2L197.5,845.3L197.9,846.2L198.3,846.0L198.7,845.9L199.1,846.3L199.5,845.5L199.9,845.9L200.3,846.0L200.7,845.6L201.1,846.3L201.5,847.2L201.9,846.4L202.3,847.2L202.7,846.3L203.1,847.2L203.5,846.6L203.9,845.8L204.3,846.2L204.7,847.2L205.1,847.2L205.5,847.2L205.9,846.1L206.3,846.4L206.7,847.2L207.1,846.3L207.5,846.6L207.9,846.4L208.3,846.0L208.7,847.2L209.1,846.5L209.5,846.8L209.9,846.3L210.3,847.2L210.7,847.2L211.1,846.8L211.5,846.4L211.9,847.2L212.3,847.2L212.7,846.9L213.1,847.2L213.5,847.2L213.9,847.2L214.3,846.2L214.7,847.2L215.1,847.2L215.5,846.4L215.9,846.5L216.3,847.2M218.7,847.2L219.1,846.9L219.5,847.2L219.9,847.2L220.3,846.4L220.7,847.2L221.1,846.4L221.5,847.2L221.9,847.2L222.3,847.2L222.7,847.2L223.1,846.4L223.5,847.2L223.9,846.2L224.3,847.2L224.7,846.8L225.1,847.2L225.5,846.8L225.9,846.5L226.3,847.2L226.7,847.2L227.1,846.8L227.5,847.2L227.9,847.2L228.3,846.6L228.7,847.2L229.1,847.2L229.5,847.2L229.9,847.2L230.3,846.7L230.7,846.5L231.1,847.2L231.5,847.2L231.9,847.2L232.3,846.7L232.7,846.4L233.1,846.5L233.5,847.2L233.9,847.2L234.3,847.2L234.7,846.9L235.1,847.2L235.5,847.2L235.9,846.8L236.3,847.2L236.7,846.1L237.1,846.5L237.5,847.2L237.9,846.7L238.3,847.2L238.7,847.2L239.1,847.2L239.5,847.2L239.9,845.6L240.3,846.7L240.7,847.2L241.1,846.5L241.5,847.2L241.9,846.5L242.3,847.2L242.7,847.2L243.1,846.6L243.5,847.2L243.9,846.8L244.3,847.2L244.7,846.9L245.1,847.2L245.5,846.8L245.9,847.2L246.3,846.9L246.7,847.2L247.1,847.2L247.5,847.2L247.9,846.6L248.3,847.2L248.7,847.2L249.1,847.2L249.5,846.6L249.9,847.2L250.3,847.2L250.7,847.2L251.1,847.2L251.5,846.5L251.9,847.2L252.3,847.2L252.7,846.8L253.1,846.7L253.5,847.2L253.9,846.5L254.3,847.2M256.7,847.2L257.1,846.0L257.5,847.2L257.9,846.8L258.3,846.3L258.7,846.7L259.1,846.8L259.5,847.2L259.9,847.2L260.3,846.4L260.7,846.3L261.1,847.2L261.5,846.9L261.9,847.2L262.3,846.7L262.7,847.2L263.1,846.6L263.5,847.2L263.9,847.2L264.3,847.2L264.7,846.6L265.1,847.2L265.5,846.8L265.9,847.2L266.3,846.7L266.7,846.9L267.1,845.9L267.5,847.2L267.9,846.7L268.3,847.2L268.7,847.2L269.1,847.2L269.5,846.5L269.9,847.2L270.3,846.7L270.7,847.2L271.1,847.2L271.5,846.8L271.9,847.2L272.3,847.2L272.7,847.2L273.1,847.2L273.5,846.9L273.9,846.4L274.3,847.2L274.7,847.2L275.1,847.2L275.5,847.2L275.9,846.5L276.3,846.6L276.7,847.2L277.1,846.9L277.5,847.2M279.1,847.2L279.5,846.6L279.9,846.7L280.3,846.8L280.7,847.2M282.3,847.2L282.7,846.8L283.1,847.2L283.5,846.3L283.9,846.8L284.3,847.2L284.7,847.2L285.1,847.2L285.5,846.4L285.9,847.2L286.3,847.2L286.7,847.2L287.1,847.2L287.5,846.0L287.9,846.3L288.3,847.2L288.7,847.2L289.1,846.4L289.5,847.2L289.9,847.2L290.3,847.2L290.7,846.6L291.1,847.2L291.5,847.2L291.9,845.3L292.3,846.9L292.7,847.2L293.1,846.8L293.5,847.2M295.9,847.2L296.3,846.6L296.7,846.5L297.1,847.2L297.5,846.5L297.9,846.4L298.3,847.2L298.7,846.6L299.1,847.2L299.5,847.2L299.9,847.2L300.3,846.6L300.7,846.0L301.1,847.2L301.5,846.5L301.9,847.2L302.3,847.2L302.7,846.5L303.1,847.2L303.5,847.2L303.9,846.9L304.3,846.2L304.7,847.2L305.1,847.2L305.5,846.7L305.9,846.6L306.3,846.8L306.7,847.2L307.1,847.2L307.5,846.0L307.9,847.2L308.3,846.6L308.7,846.4L309.1,847.2L309.5,847.2L309.9,846.7L310.3,847.2M311.9,847.2L312.3,846.2L312.7,847.2L313.1,847.2L313.5,846.5L313.9,846.9L314.3,847.2L314.7,846.7L315.1,847.2M317.5,847.2L317.9,846.5L318.3,847.2L318.7,846.7L319.1,847.2L319.5,845.8L319.9,846.7L320.3,847.2M321.9,847.2L322.3,846.3L322.7,846.2L323.1,847.2M324.7,847.2L325.1,846.8L325.5,847.2L325.9,846.3L326.3,847.2L326.7,847.2L327.1,847.2" fill="none" stroke="#c2507c" stroke-width="0.75" stroke-linejoin="round" stroke-dasharray="1 0.7"/>
<path d="M151.9,845.0L152.3,845.6L152.7,845.1L153.1,844.0L153.5,845.5L153.9,844.7L154.3,845.4L154.7,843.6L155.1,845.5L155.5,843.6L155.9,841.2L156.3,843.0L156.7,843.0L157.1,841.9L157.5,841.5L157.9,841.5L158.3,841.2L158.7,839.8L159.1,839.0L159.5,839.5L159.9,837.2L160.3,837.6L160.7,836.1L161.1,835.4L161.5,835.8L161.9,835.9L162.3,828.6L162.7,831.8L163.1,829.9L163.5,827.1L163.9,824.2L164.3,824.7L164.7,824.7L165.1,819.5L165.5,818.3L165.9,819.4L166.3,816.5L166.7,814.8L167.1,807.9L167.5,811.0L167.9,813.0L168.3,808.9L168.7,811.4L169.1,805.4L169.5,802.1L169.9,800.9L170.3,801.8L170.7,803.7L171.1,802.1L171.5,803.3L171.9,801.0L172.3,805.1L172.7,807.5L173.1,800.1L173.5,801.6L173.9,803.7L174.3,803.1L174.7,799.6L175.1,803.2L175.5,800.5L175.9,801.9L176.3,806.9L176.7,800.6L177.1,803.2L177.5,809.2L177.9,807.7L178.3,811.7L178.7,810.5L179.1,808.7L179.5,813.4L179.9,815.7L180.3,813.8L180.7,818.5L181.1,817.4L181.5,816.2L181.9,818.7L182.3,822.9L182.7,823.7L183.1,821.7L183.5,821.8L183.9,827.4L184.3,827.8L184.7,830.0L185.1,831.8L185.5,832.5L185.9,832.4L186.3,830.9L186.7,831.8L187.1,831.7L187.5,836.5L187.9,838.1L188.3,836.1L188.7,839.9L189.1,839.4L189.5,837.6L189.9,838.4L190.3,838.9L190.7,841.7L191.1,840.2L191.5,841.2L191.9,842.9L192.3,841.8L192.7,841.2L193.1,843.7L193.5,841.5L193.9,843.3L194.3,844.2L194.7,846.1L195.1,845.2L195.5,845.3L195.9,845.8L196.3,844.5L196.7,844.6L197.1,845.3L197.5,845.5L197.9,845.7L198.3,846.2L198.7,846.0L199.1,844.6L199.5,846.4L199.9,845.5L200.3,845.6L200.7,846.1L201.1,845.7L201.5,846.4L201.9,846.5L202.3,846.4L202.7,845.8L203.1,846.5L203.5,847.2L203.9,846.5L204.3,846.6L204.7,846.5L205.1,846.7L205.5,846.5L205.9,845.7L206.3,846.4L206.7,846.5L207.1,847.2M209.9,847.2L210.3,846.6L210.7,847.2L211.1,846.6L211.5,846.2L211.9,847.2L212.3,847.2L212.7,846.8L213.1,847.2L213.5,847.2L213.9,847.2L214.3,846.3L214.7,847.2L215.1,846.8L215.5,846.8L215.9,847.2L216.3,847.2L216.7,846.6L217.1,847.2L217.5,846.4L217.9,847.2L218.3,847.2L218.7,847.2L219.1,846.5L219.5,847.2L219.9,846.0L220.3,847.2L220.7,847.2L221.1,846.9L221.5,847.2L221.9,847.2L222.3,846.8L222.7,847.2L223.1,846.7L223.5,847.2M226.7,847.2L227.1,846.6L227.5,847.2L227.9,847.2L228.3,847.2L228.7,846.3L229.1,847.2M230.7,847.2L231.1,846.3L231.5,847.2M233.5,847.2L233.9,846.7L234.3,846.8L234.7,847.2L235.1,847.2L235.5,846.4L235.9,847.2L236.3,847.2L236.7,847.2L237.1,846.4L237.5,847.2L237.9,846.3L238.3,847.2L238.7,846.8L239.1,847.2L239.5,846.7L239.9,846.8L240.3,847.2L240.7,847.2L241.1,847.2L241.5,847.2L241.9,846.9L242.3,847.2L242.7,847.2L243.1,847.2L243.5,847.2L243.9,846.8L244.3,847.2L244.7,847.2L245.1,846.6L245.5,847.2M247.1,847.2L247.5,846.9L247.9,847.2L248.3,847.2L248.7,847.2L249.1,847.2L249.5,846.8L249.9,847.2M251.5,847.2L251.9,846.1L252.3,847.2M254.3,847.2L254.7,846.8L255.1,847.2L255.5,846.8L255.9,846.7L256.3,846.8L256.7,846.8L257.1,847.2L257.5,847.2L257.9,847.2L258.3,846.9L258.7,847.2L259.1,846.5L259.5,846.9L259.9,846.7L260.3,846.1L260.7,847.2M262.3,847.2L262.7,846.8L263.1,847.2L263.5,846.3L263.9,846.8L264.3,847.2L264.7,846.2L265.1,846.9L265.5,847.2L265.9,847.2L266.3,846.3L266.7,846.7L267.1,847.2L267.5,846.7L267.9,846.8L268.3,846.8L268.7,847.2M273.1,847.2L273.5,846.3L273.9,846.9L274.3,847.2L274.7,847.2L275.1,846.4L275.5,846.7L275.9,846.6L276.3,847.2L276.7,846.7L277.1,847.2M278.7,847.2L279.1,846.5L279.5,846.5L279.9,846.6L280.3,846.8L280.7,847.2L281.1,847.2L281.5,846.5L281.9,847.2M283.5,847.2L283.9,846.8L284.3,847.2L284.7,847.2L285.1,847.2L285.5,846.8L285.9,847.2L286.3,846.3L286.7,847.2L287.1,847.2L287.5,846.3L287.9,847.2L288.3,847.2L288.7,847.2L289.1,847.2L289.5,846.6L289.9,847.2L290.3,847.2L290.7,846.5L291.1,846.5L291.5,846.8L291.9,847.2M293.9,847.2L294.3,846.8L294.7,847.2M296.7,847.2L297.1,846.8L297.5,847.2M300.7,847.2L301.1,846.5L301.5,847.2L301.9,846.8L302.3,847.2L302.7,846.6L303.1,847.2M304.7,847.2L305.1,846.4L305.5,846.6L305.9,847.2M307.5,847.2L307.9,846.6L308.3,847.2M311.5,847.2L311.9,846.7L312.3,847.2L312.7,846.7L313.1,847.2M315.5,847.2L315.9,846.6L316.3,847.2L316.7,847.2L317.1,846.8L317.5,847.2L317.9,847.2L318.3,847.2L318.7,847.2L319.1,846.5L319.5,847.2L319.9,847.2L320.3,847.2L320.7,846.9L321.1,847.2L321.5,847.2L321.9,847.2L322.3,847.2L322.7,846.7L323.1,846.9L323.5,847.2L323.9,846.6L324.3,846.6L324.7,847.2L325.1,847.2L325.5,847.2L325.9,847.2L326.3,846.8L326.7,847.2L327.1,846.7" fill="none" stroke="#1a1a1a" stroke-width="0.7" stroke-linejoin="round"/>
<path d="M151.6,847.5L151.6,748.2L151.9,843.6L152.3,844.0L152.7,841.6L153.1,846.1L153.5,843.4L153.9,841.4L154.3,843.0L154.7,842.3L155.1,840.6L155.5,839.5L155.9,838.5L156.3,837.8L156.7,838.3L157.1,839.5L157.5,837.3L157.9,837.1L158.3,832.9L158.7,833.4L159.1,838.5L159.5,838.0L159.9,834.8L160.3,834.5L160.7,833.4L161.1,827.7L161.5,826.4L161.9,827.0L162.3,824.6L162.7,823.5L163.1,824.2L163.5,819.4L163.9,820.6L164.3,815.4L164.7,820.4L165.1,816.1L165.5,816.6L165.9,806.8L166.3,809.4L166.7,805.3L167.1,809.7L167.5,809.2L167.9,813.4L168.3,801.6L168.7,807.3L169.1,805.1L169.5,804.1L169.9,806.2L170.3,809.7L170.7,804.6L171.1,792.9L171.5,803.2L171.9,803.0L172.3,803.5L172.7,804.1L173.1,803.6L173.5,807.1L173.9,808.6L174.3,810.8L174.7,807.2L175.1,804.8L175.5,806.7L175.9,802.6L176.3,812.5L176.7,815.1L177.1,813.6L177.5,810.5L177.9,821.0L178.3,812.6L178.7,816.4L179.1,813.2L179.5,819.4L179.9,823.1L180.3,825.3L180.7,818.9L181.1,822.7L181.5,826.3L181.9,826.7L182.3,826.5L182.7,827.5L183.1,830.8L183.5,829.5L183.9,833.9L184.3,835.5L184.7,832.6L185.1,837.1L185.5,837.3L185.9,837.5L186.3,838.0L186.7,840.4L187.1,835.5L187.5,837.6L187.9,834.8L188.3,840.3L188.7,841.0L189.1,840.1L189.5,839.1L189.9,842.9L190.3,841.0L190.7,841.9L191.1,843.5L191.5,843.7L191.9,842.9L192.3,844.1L192.7,843.7L193.1,844.9L193.5,843.9L193.9,844.7L194.3,843.5L194.7,844.6L195.1,845.9L195.5,845.7L195.9,845.3L196.3,846.3L196.7,846.2L197.1,845.4L197.5,847.2L197.9,846.5L198.3,845.7L198.7,847.2L199.1,845.5L199.5,847.2L199.9,846.3L200.3,845.5L200.7,847.2L201.1,846.0L201.5,846.8L201.9,846.2L202.3,845.9L202.7,847.2L203.1,847.2L203.5,847.2L203.9,846.2L204.3,846.2L204.7,846.1L205.1,846.6L205.5,847.2L205.9,846.2L206.3,847.2L206.7,847.2L207.1,846.6L207.5,846.6L207.9,847.2L208.3,846.0L208.7,846.6L209.1,846.4L209.5,845.9L209.9,846.6L210.3,846.1L210.7,847.2L211.1,846.8L211.5,847.2L211.9,847.2L212.3,846.8L212.7,847.2L213.1,846.5L213.5,846.3L213.9,847.2L214.3,846.5L214.7,846.4L215.1,846.4L215.5,847.2L215.9,847.2L216.3,846.2L216.7,846.7L217.1,847.2L217.5,846.6L217.9,847.2L218.3,847.2L218.7,846.8L219.1,847.2L219.5,846.9L219.9,847.2M221.5,847.2L221.9,846.7L222.3,846.5L222.7,846.8L223.1,847.2L223.5,847.2L223.9,846.1L224.3,847.2L224.7,846.8L225.1,847.2L225.5,846.0L225.9,847.2L226.3,846.4L226.7,847.2L227.1,846.9L227.5,846.7L227.9,847.2L228.3,846.5L228.7,846.8L229.1,846.5L229.5,847.2M231.9,847.2L232.3,846.7L232.7,846.8L233.1,846.0L233.5,846.5L233.9,847.2L234.3,846.0L234.7,847.2L235.1,847.2L235.5,846.7L235.9,847.2L236.3,845.6L236.7,847.2L237.1,847.2L237.5,846.5L237.9,847.2L238.3,847.2L238.7,846.4L239.1,847.2L239.5,847.2L239.9,847.2L240.3,845.8L240.7,847.2L241.1,847.2L241.5,847.2L241.9,846.9L242.3,846.7L242.7,847.2L243.1,846.6L243.5,847.2L243.9,846.9L244.3,847.2L244.7,847.2L245.1,847.2L245.5,846.4L245.9,846.7L246.3,846.6L246.7,847.2L247.1,845.5L247.5,847.2L247.9,847.2L248.3,847.2L248.7,847.2L249.1,845.9L249.5,846.4L249.9,847.2L250.3,847.2L250.7,846.8L251.1,846.0L251.5,847.2L251.9,847.2L252.3,847.2L252.7,846.5L253.1,846.8L253.5,846.2L253.9,847.2L254.3,846.6L254.7,846.6L255.1,845.9L255.5,847.2M257.9,847.2L258.3,846.5L258.7,847.2L259.1,846.6L259.5,847.2L259.9,846.8L260.3,847.2L260.7,847.2L261.1,847.2L261.5,847.2L261.9,846.9L262.3,847.2L262.7,847.2L263.1,845.9L263.5,847.2L263.9,847.2L264.3,846.8L264.7,847.2L265.1,847.2L265.5,847.2L265.9,846.3L266.3,847.2L266.7,847.2L267.1,846.3L267.5,846.8L267.9,846.8L268.3,846.6L268.7,847.2L269.1,847.2L269.5,847.2L269.9,846.8L270.3,847.2L270.7,846.8L271.1,847.2L271.5,847.2L271.9,846.6L272.3,847.2L272.7,846.7L273.1,847.2L273.5,846.9L273.9,846.5L274.3,847.2L274.7,846.9L275.1,847.2L275.5,847.2L275.9,847.2L276.3,846.2L276.7,847.2L277.1,847.2L277.5,846.6L277.9,847.2L278.3,846.6L278.7,847.2L279.1,847.2L279.5,846.8L279.9,847.2M281.5,847.2L281.9,846.3L282.3,846.9L282.7,847.2L283.1,847.2L283.5,847.2L283.9,846.1L284.3,847.2L284.7,846.7L285.1,847.2L285.5,847.2L285.9,846.7L286.3,846.5L286.7,847.2L287.1,847.2L287.5,846.5L287.9,847.2M290.7,847.2L291.1,846.8L291.5,845.9L291.9,846.0L292.3,847.2L292.7,847.2L293.1,846.9L293.5,847.2L293.9,847.2L294.3,847.2L294.7,847.2L295.1,846.7L295.5,846.3L295.9,847.2L296.3,846.9L296.7,847.2M301.1,847.2L301.5,846.7L301.9,847.2L302.3,847.2L302.7,847.2L303.1,846.9L303.5,847.2L303.9,846.9L304.3,846.1L304.7,846.7L305.1,847.2L305.5,846.6L305.9,846.9L306.3,845.7L306.7,847.2L307.1,847.2L307.5,847.2L307.9,847.2L308.3,846.6L308.7,846.3L309.1,847.2L309.5,847.2L309.9,846.7L310.3,846.8L310.7,846.3L311.1,847.2L311.5,846.8L311.9,847.2L312.3,846.3L312.7,846.6L313.1,847.2L313.5,846.8L313.9,847.2L314.3,847.2L314.7,846.3L315.1,847.2L315.5,847.2L315.9,847.2L316.3,846.6L316.7,847.2L317.1,847.2L317.5,846.9L317.9,846.2L318.3,847.2M321.9,847.2L322.3,846.7L322.7,847.2L323.1,847.2L323.5,847.2L323.9,846.5L324.3,846.7L324.7,847.2L325.1,847.2L325.5,846.8L325.9,847.2L326.3,846.4L326.7,847.2L327.1,846.3" fill="none" stroke="#22e022" stroke-width="1.25" stroke-linejoin="round"/>
<path d="M151.9,846.9L152.3,846.8L152.7,847.2L153.1,847.2L153.5,846.9L153.9,847.2M155.9,847.2L156.3,846.6L156.7,847.2L157.1,847.2L157.5,846.5L157.9,846.2L158.3,847.2L158.7,846.2L159.1,847.2L159.5,846.7L159.9,847.2L160.3,846.6L160.7,846.5L161.1,847.2L161.5,846.7L161.9,845.9L162.3,847.2L162.7,847.2L163.1,846.8L163.5,846.3L163.9,847.2L164.3,847.2L164.7,846.6L165.1,846.5L165.5,847.2L165.9,846.4L166.3,846.7L166.7,847.2L167.1,847.2L167.5,846.9L167.9,846.4L168.3,847.2L168.7,847.2L169.1,845.8L169.5,846.5L169.9,847.2L170.3,847.2L170.7,846.3L171.1,845.4L171.5,846.2L171.9,847.2L172.3,847.2L172.7,846.4L173.1,846.6L173.5,846.1L173.9,845.8L174.3,846.8L174.7,846.2L175.1,846.7L175.5,846.4L175.9,845.8L176.3,845.5L176.7,846.0L177.1,845.1L177.5,847.2L177.9,844.9L178.3,845.2L178.7,844.7L179.1,843.6L179.5,842.6L179.9,843.6L180.3,843.6L180.7,841.3L181.1,841.9L181.5,842.6L181.9,841.7L182.3,839.6L182.7,840.2L183.1,837.5L183.5,839.2L183.9,840.1L184.3,836.6L184.7,839.8L185.1,831.9L185.5,832.3L185.9,830.8L186.3,827.4L186.7,829.1L187.1,829.3L187.5,828.3L187.9,828.6L188.3,828.4L188.7,826.2L189.1,819.1L189.5,820.2L189.9,820.5L190.3,817.0L190.7,820.9L191.1,822.8L191.5,813.3L191.9,809.5L192.3,806.7L192.7,820.0L193.1,811.8L193.5,815.6L193.9,809.6L194.3,813.5L194.7,812.1L195.1,818.8L195.5,816.8L195.9,813.6L196.3,817.7L196.7,817.7L197.1,813.8L197.5,819.1L197.9,814.3L198.3,824.6L198.7,821.0L199.1,825.6L199.5,821.5L199.9,829.1L200.3,827.6L200.7,827.7L201.1,826.7L201.5,829.2L201.9,832.2L202.3,830.9L202.7,831.7L203.1,835.3L203.5,831.7L203.9,836.0L204.3,832.3L204.7,832.3L205.1,839.7L205.5,840.7L205.9,838.2L206.3,838.6L206.7,841.5L207.1,839.5L207.5,839.6L207.9,842.5L208.3,839.2L208.7,840.8L209.1,842.2L209.5,843.2L209.9,841.6L210.3,844.0L210.7,841.5L211.1,842.4L211.5,843.2L211.9,843.1L212.3,846.8L212.7,846.4L213.1,846.8L213.5,846.5L213.9,844.7L214.3,846.6L214.7,844.8L215.1,846.5L215.5,847.2L215.9,845.3L216.3,845.0L216.7,846.1L217.1,846.7L217.5,846.0L217.9,846.2L218.3,845.4L218.7,847.2L219.1,846.9L219.5,846.4L219.9,846.6L220.3,846.2L220.7,847.2L221.1,846.8L221.5,847.2L221.9,847.2L222.3,846.8L222.7,847.2L223.1,846.9L223.5,847.2L223.9,846.3L224.3,847.2L224.7,846.8L225.1,846.0L225.5,846.4L225.9,846.5L226.3,847.2L226.7,847.2L227.1,847.2L227.5,847.2L227.9,846.9L228.3,846.8L228.7,846.8L229.1,847.2L229.5,847.2L229.9,846.7L230.3,847.2L230.7,847.2L231.1,847.2L231.5,846.7L231.9,845.8L232.3,846.8L232.7,846.7L233.1,847.2L233.5,847.2L233.9,847.2L234.3,846.7L234.7,847.2L235.1,847.2L235.5,847.2L235.9,847.2L236.3,846.6L236.7,847.2L237.1,847.2L237.5,847.2L237.9,846.8L238.3,847.2L238.7,846.6L239.1,847.2L239.5,847.2L239.9,847.2L240.3,846.7L240.7,846.8L241.1,847.2L241.5,846.8L241.9,846.5L242.3,846.8L242.7,846.8L243.1,847.2L243.5,846.2L243.9,846.6L244.3,846.2L244.7,847.2L245.1,846.6L245.5,847.2L245.9,847.2L246.3,847.2L246.7,846.8L247.1,846.3L247.5,847.2L247.9,847.2L248.3,847.2L248.7,846.4L249.1,847.2M250.7,847.2L251.1,846.4L251.5,847.2L251.9,846.7L252.3,847.2L252.7,847.2L253.1,847.2L253.5,846.9L253.9,847.2L254.3,846.3L254.7,847.2L255.1,847.2L255.5,846.9L255.9,847.2L256.3,846.6L256.7,846.6L257.1,847.2L257.5,846.9L257.9,846.1L258.3,846.7L258.7,847.2L259.1,846.7L259.5,847.2L259.9,847.2L260.3,847.2L260.7,846.0L261.1,846.8L261.5,847.2L261.9,846.6L262.3,847.2L262.7,847.2L263.1,847.2L263.5,846.8L263.9,847.2M267.1,847.2L267.5,846.2L267.9,846.6L268.3,846.9L268.7,847.2L269.1,847.2L269.5,847.2L269.9,846.0L270.3,846.8L270.7,846.4L271.1,847.2L271.5,847.2L271.9,847.2L272.3,846.7L272.7,847.2L273.1,847.2L273.5,847.2L273.9,847.2L274.3,846.5L274.7,847.2L275.1,847.2L275.5,846.8L275.9,847.2M277.5,847.2L277.9,846.8L278.3,847.2L278.7,846.8L279.1,847.2L279.5,846.8L279.9,847.2L280.3,846.8L280.7,847.2L281.1,846.7L281.5,847.2L281.9,846.8L282.3,847.2L282.7,847.2L283.1,846.8L283.5,847.2L283.9,846.8L284.3,846.6L284.7,847.2L285.1,846.6L285.5,846.7L285.9,846.8L286.3,847.2L286.7,847.2L287.1,847.2L287.5,846.7L287.9,846.5L288.3,847.2L288.7,847.2L289.1,846.7L289.5,847.2L289.9,846.0L290.3,846.5L290.7,846.8L291.1,846.2L291.5,846.6L291.9,846.1L292.3,846.4L292.7,847.2L293.1,846.6L293.5,847.2L293.9,847.2L294.3,846.0L294.7,847.2M296.3,847.2L296.7,846.7L297.1,847.2M298.7,847.2L299.1,846.9L299.5,846.9L299.9,847.2L300.3,847.2L300.7,847.2L301.1,846.7L301.5,847.2M303.9,847.2L304.3,846.4L304.7,847.2L305.1,847.2L305.5,846.7L305.9,847.2L306.3,846.6L306.7,847.2L307.1,847.2L307.5,846.4L307.9,847.2L308.3,846.9L308.7,847.2L309.1,846.5L309.5,846.5L309.9,847.2L310.3,847.2L310.7,847.2L311.1,847.2L311.5,846.7L311.9,847.2L312.3,846.5L312.7,847.2M314.7,847.2L315.1,846.9L315.5,846.6L315.9,846.0L316.3,847.2L316.7,846.6L317.1,846.9L317.5,847.2L317.9,847.2L318.3,846.6L318.7,846.6L319.1,846.6L319.5,847.2M321.1,847.2L321.5,846.3L321.9,846.4L322.3,847.2L322.7,847.2L323.1,846.7L323.5,847.2L323.9,846.2L324.3,847.2L324.7,847.2L325.1,847.2L325.5,847.2L325.9,846.5L326.3,847.2L326.7,847.2L327.1,847.2" fill="none" stroke="#62c4e4" stroke-width="0.75" stroke-linejoin="round" stroke-dasharray="0.8 0.9"/>
<path d="M151.9,846.0L152.3,846.0L152.7,845.8L153.1,844.8L153.5,847.2L153.9,844.8L154.3,846.8L154.7,847.2L155.1,845.5L155.5,844.7L155.9,844.8L156.3,846.5L156.7,845.8L157.1,844.3L157.5,845.4L157.9,844.4L158.3,845.8L158.7,842.9L159.1,845.9L159.5,845.4L159.9,844.9L160.3,843.6L160.7,844.0L161.1,843.6L161.5,844.3L161.9,844.5L162.3,846.1L162.7,845.7L163.1,843.2L163.5,844.3L163.9,845.1L164.3,844.7L164.7,845.8L165.1,844.9L165.5,843.0L165.9,843.0L166.3,843.4L166.7,843.7L167.1,843.7L167.5,843.7L167.9,844.2L168.3,843.3L168.7,842.4L169.1,845.8L169.5,845.1L169.9,841.9L170.3,843.0L170.7,843.0L171.1,844.5L171.5,843.6L171.9,843.2L172.3,842.8L172.7,844.8L173.1,842.3L173.5,845.3L173.9,845.9L174.3,843.4L174.7,841.5L175.1,841.4L175.5,842.1L175.9,842.2L176.3,844.3L176.7,841.6L177.1,843.1L177.5,842.6L177.9,842.4L178.3,842.3L178.7,840.3L179.1,840.4L179.5,842.2L179.9,842.2L180.3,841.3L180.7,843.3L181.1,840.7L181.5,840.5L181.9,837.8L182.3,837.4L182.7,836.4L183.1,834.1L183.5,838.9L183.9,834.8L184.3,828.9L184.7,834.0L185.1,832.1L185.5,830.7L185.9,828.4L186.3,827.3L186.7,827.0L187.1,819.7L187.5,820.2L187.9,821.3L188.3,815.7L188.7,819.0L189.1,811.5L189.5,805.0L189.9,807.2L190.3,801.9L190.7,801.8L191.1,806.6L191.5,800.4L191.9,803.9L192.3,790.8L192.7,795.2L193.1,796.1L193.5,804.4L193.9,805.0L194.3,802.7L194.7,794.3L195.1,801.8L195.5,800.0L195.9,791.7L196.3,798.2L196.7,802.3L197.1,799.1L197.5,807.2L197.9,807.1L198.3,804.1L198.7,802.7L199.1,809.9L199.5,806.1L199.9,813.5L200.3,817.0L200.7,816.4L201.1,814.6L201.5,819.8L201.9,818.7L202.3,814.8L202.7,827.9L203.1,822.6L203.5,823.2L203.9,824.6L204.3,828.1L204.7,833.0L205.1,830.1L205.5,829.7L205.9,831.9L206.3,834.3L206.7,835.3L207.1,833.0L207.5,835.5L207.9,836.3L208.3,838.3L208.7,840.2L209.1,840.4L209.5,841.5L209.9,840.4L210.3,839.9L210.7,843.9L211.1,840.7L211.5,843.3L211.9,844.4L212.3,842.0L212.7,844.1L213.1,843.3L213.5,843.1L213.9,844.9L214.3,846.5L214.7,844.7L215.1,845.2L215.5,845.9L215.9,846.4L216.3,845.1L216.7,846.4L217.1,845.6L217.5,846.4L217.9,845.9L218.3,846.3L218.7,845.7L219.1,845.5L219.5,845.9L219.9,844.9L220.3,846.9L220.7,847.2L221.1,847.2L221.5,846.0L221.9,847.2L222.3,846.3L222.7,847.2L223.1,846.4L223.5,846.7L223.9,846.3L224.3,845.6L224.7,846.4L225.1,846.3L225.5,846.7L225.9,845.4L226.3,847.2L226.7,846.1L227.1,846.6L227.5,847.2L227.9,846.3L228.3,846.3L228.7,847.2L229.1,847.2L229.5,845.8L229.9,847.2L230.3,846.3L230.7,847.2L231.1,846.7L231.5,847.2L231.9,846.3L232.3,847.2L232.7,846.1L233.1,846.5L233.5,846.4L233.9,847.2L234.3,846.3L234.7,846.4L235.1,846.5L235.5,846.5L235.9,847.2L236.3,846.5L236.7,847.2L237.1,846.9L237.5,847.2L237.9,846.6L238.3,847.2L238.7,847.2L239.1,846.8L239.5,846.0L239.9,847.2L240.3,847.2L240.7,847.2L241.1,846.5L241.5,847.2L241.9,847.2L242.3,847.2L242.7,846.7L243.1,847.2L243.5,847.2L243.9,846.9L244.3,847.2L244.7,847.2L245.1,847.2L245.5,846.8L245.9,846.4L246.3,846.7L246.7,847.2L247.1,847.2L247.5,847.2L247.9,847.2L248.3,846.6L248.7,846.6L249.1,847.2L249.5,847.2L249.9,846.5L250.3,846.8L250.7,847.2L251.1,847.2L251.5,847.2L251.9,847.2L252.3,847.2L252.7,847.2L253.1,847.2L253.5,847.2L253.9,847.2L254.3,847.2L254.7,847.2L255.1,847.2L255.5,847.2L255.9,847.2L256.3,846.8L256.7,847.2L257.1,847.2L257.5,846.7L257.9,846.9L258.3,847.2L258.7,847.2L259.1,847.2L259.5,847.2L259.9,846.7L260.3,847.2L260.7,846.4L261.1,846.5L261.5,847.2L261.9,847.2L262.3,846.7L262.7,846.7L263.1,847.2L263.5,847.2L263.9,847.2L264.3,847.2L264.7,847.2L265.1,847.2L265.5,846.8L265.9,847.2L266.3,847.2L266.7,847.2L267.1,847.2L267.5,846.5L267.9,847.2L268.3,847.2L268.7,846.1L269.1,846.0L269.5,847.2L269.9,847.2L270.3,846.7L270.7,846.2L271.1,847.2L271.5,847.2L271.9,847.2L272.3,847.2L272.7,847.2L273.1,847.2L273.5,846.8L273.9,846.9L274.3,847.2L274.7,847.2L275.1,847.2L275.5,847.2L275.9,846.0L276.3,846.8L276.7,846.4L277.1,847.2L277.5,847.2L277.9,847.2L278.3,847.2L278.7,846.6L279.1,846.7L279.5,847.2L279.9,845.8L280.3,847.2L280.7,846.8L281.1,847.2L281.5,847.2L281.9,846.7L282.3,847.2L282.7,847.2L283.1,847.2L283.5,847.2L283.9,846.6L284.3,847.2L284.7,846.4L285.1,847.2L285.5,847.2L285.9,846.0L286.3,846.6L286.7,846.6L287.1,847.2L287.5,846.8L287.9,847.2L288.3,847.2L288.7,847.2L289.1,845.9L289.5,847.2L289.9,847.2L290.3,846.7L290.7,847.2L291.1,846.5L291.5,847.2L291.9,847.2L292.3,847.2L292.7,847.2L293.1,847.2L293.5,847.2L293.9,847.2L294.3,846.8L294.7,846.5L295.1,847.2L295.5,846.2L295.9,846.3L296.3,847.2L296.7,847.2L297.1,846.7L297.5,846.8L297.9,845.9L298.3,847.2L298.7,847.2L299.1,847.2L299.5,847.2L299.9,847.2L300.3,847.2L300.7,847.2L301.1,847.2L301.5,846.4L301.9,847.2L302.3,846.0L302.7,846.4L303.1,847.2L303.5,847.2L303.9,847.2L304.3,847.2L304.7,846.4L305.1,847.2L305.5,846.3L305.9,847.2L306.3,847.2L306.7,846.6L307.1,847.2L307.5,847.2L307.9,847.2L308.3,847.2L308.7,846.6L309.1,847.2L309.5,846.3L309.9,846.5L310.3,846.3L310.7,847.2L311.1,847.2L311.5,847.2L311.9,847.2L312.3,847.2L312.7,846.2L313.1,846.6L313.5,846.7L313.9,847.2L314.3,847.2L314.7,847.2L315.1,846.0L315.5,847.2L315.9,847.2L316.3,847.2L316.7,847.2L317.1,847.2L317.5,847.2L317.9,846.7L318.3,847.2L318.7,847.2L319.1,846.9L319.5,847.2L319.9,847.2L320.3,846.7L320.7,846.9L321.1,846.5L321.5,847.2L321.9,847.2L322.3,847.2L322.7,846.5L323.1,846.8L323.5,847.2L323.9,847.2L324.3,846.8L324.7,846.9L325.1,846.8L325.5,846.6L325.9,846.5L326.3,847.2L326.7,847.2L327.1,847.2" fill="none" stroke="#ee9640" stroke-width="0.8" stroke-linejoin="round" stroke-dasharray="1.6 0.8"/>
<line x1="149.40" y1="847.50" x2="151.40" y2="847.50" stroke="#444" stroke-width="0.6"/>
<text x="148.10" y="847.50" font-size="3.6" text-anchor="middle" fill="#666" transform="rotate(-90 148.10 847.50)">0</text>
<line x1="150.20" y1="842.53" x2="151.40" y2="842.53" stroke="#444" stroke-width="0.6"/>
<line x1="150.20" y1="837.57" x2="151.40" y2="837.57" stroke="#444" stroke-width="0.6"/>
<line x1="150.20" y1="832.61" x2="151.40" y2="832.61" stroke="#444" stroke-width="0.6"/>
<line x1="149.40" y1="827.64" x2="151.40" y2="827.64" stroke="#444" stroke-width="0.6"/>
<text x="148.10" y="827.64" font-size="3.6" text-anchor="middle" fill="#666" transform="rotate(-90 148.10 827.64)">40</text>
<line x1="150.20" y1="822.67" x2="151.40" y2="822.67" stroke="#444" stroke-width="0.6"/>
<line x1="150.20" y1="817.71" x2="151.40" y2="817.71" stroke="#444" stroke-width="0.6"/>
<line x1="150.20" y1="812.75" x2="151.40" y2="812.75" stroke="#444" stroke-width="0.6"/>
<line x1="149.40" y1="807.78" x2="151.40" y2="807.78" stroke="#444" stroke-width="0.6"/>
<text x="148.10" y="807.78" font-size="3.6" text-anchor="middle" fill="#666" transform="rotate(-90 148.10 807.78)">80</text>
<line x1="150.20" y1="802.82" x2="151.40" y2="802.82" stroke="#444" stroke-width="0.6"/>
<line x1="150.20" y1="797.85" x2="151.40" y2="797.85" stroke="#444" stroke-width="0.6"/>
<line x1="150.20" y1="792.88" x2="151.40" y2="792.88" stroke="#444" stroke-width="0.6"/>
<line x1="149.40" y1="787.92" x2="151.40" y2="787.92" stroke="#444" stroke-width="0.6"/>
<text x="148.10" y="787.92" font-size="3.6" text-anchor="middle" fill="#666" transform="rotate(-90 148.10 787.92)">120</text>
<line x1="150.20" y1="782.96" x2="151.40" y2="782.96" stroke="#444" stroke-width="0.6"/>
<line x1="150.20" y1="777.99" x2="151.40" y2="777.99" stroke="#444" stroke-width="0.6"/>
<line x1="150.20" y1="773.03" x2="151.40" y2="773.03" stroke="#444" stroke-width="0.6"/>
<line x1="149.40" y1="768.06" x2="151.40" y2="768.06" stroke="#444" stroke-width="0.6"/>
<text x="148.10" y="768.06" font-size="3.6" text-anchor="middle" fill="#666" transform="rotate(-90 148.10 768.06)">160</text>
<line x1="150.20" y1="763.10" x2="151.40" y2="763.10" stroke="#444" stroke-width="0.6"/>
<line x1="150.20" y1="758.13" x2="151.40" y2="758.13" stroke="#444" stroke-width="0.6"/>
<line x1="150.20" y1="753.17" x2="151.40" y2="753.17" stroke="#444" stroke-width="0.6"/>
<line x1="149.40" y1="748.20" x2="151.40" y2="748.20" stroke="#444" stroke-width="0.6"/>
<text x="148.10" y="748.20" font-size="3.6" text-anchor="middle" fill="#666" transform="rotate(-90 148.10 748.20)">200</text>
<line x1="151.40" y1="847.50" x2="151.40" y2="850.10" stroke="#444" stroke-width="0.6"/>
<line x1="164.66" y1="847.50" x2="164.66" y2="848.90" stroke="#444" stroke-width="0.6"/>
<line x1="172.42" y1="847.50" x2="172.42" y2="848.90" stroke="#444" stroke-width="0.6"/>
<line x1="177.92" y1="847.50" x2="177.92" y2="848.90" stroke="#444" stroke-width="0.6"/>
<line x1="182.19" y1="847.50" x2="182.19" y2="848.90" stroke="#444" stroke-width="0.6"/>
<line x1="185.68" y1="847.50" x2="185.68" y2="848.90" stroke="#444" stroke-width="0.6"/>
<line x1="188.63" y1="847.50" x2="188.63" y2="848.90" stroke="#444" stroke-width="0.6"/>
<line x1="191.18" y1="847.50" x2="191.18" y2="848.90" stroke="#444" stroke-width="0.6"/>
<line x1="193.43" y1="847.50" x2="193.43" y2="848.90" stroke="#444" stroke-width="0.6"/>
<line x1="195.45" y1="847.50" x2="195.45" y2="850.10" stroke="#444" stroke-width="0.6"/>
<line x1="208.71" y1="847.50" x2="208.71" y2="848.90" stroke="#444" stroke-width="0.6"/>
<line x1="216.47" y1="847.50" x2="216.47" y2="848.90" stroke="#444" stroke-width="0.6"/>
<line x1="221.97" y1="847.50" x2="221.97" y2="848.90" stroke="#444" stroke-width="0.6"/>
<line x1="226.24" y1="847.50" x2="226.24" y2="848.90" stroke="#444" stroke-width="0.6"/>
<line x1="229.73" y1="847.50" x2="229.73" y2="848.90" stroke="#444" stroke-width="0.6"/>
<line x1="232.68" y1="847.50" x2="232.68" y2="848.90" stroke="#444" stroke-width="0.6"/>
<line x1="235.23" y1="847.50" x2="235.23" y2="848.90" stroke="#444" stroke-width="0.6"/>
<line x1="237.48" y1="847.50" x2="237.48" y2="848.90" stroke="#444" stroke-width="0.6"/>
<line x1="239.50" y1="847.50" x2="239.50" y2="850.10" stroke="#444" stroke-width="0.6"/>
<line x1="252.76" y1="847.50" x2="252.76" y2="848.90" stroke="#444" stroke-width="0.6"/>
<line x1="260.52" y1="847.50" x2="260.52" y2="848.90" stroke="#444" stroke-width="0.6"/>
<line x1="266.02" y1="847.50" x2="266.02" y2="848.90" stroke="#444" stroke-width="0.6"/>
<line x1="270.29" y1="847.50" x2="270.29" y2="848.90" stroke="#444" stroke-width="0.6"/>
<line x1="273.78" y1="847.50" x2="273.78" y2="848.90" stroke="#444" stroke-width="0.6"/>
<line x1="276.73" y1="847.50" x2="276.73" y2="848.90" stroke="#444" stroke-width="0.6"/>
<line x1="279.28" y1="847.50" x2="279.28" y2="848.90" stroke="#444" stroke-width="0.6"/>
<line x1="281.53" y1="847.50" x2="281.53" y2="848.90" stroke="#444" stroke-width="0.6"/>
<line x1="283.55" y1="847.50" x2="283.55" y2="850.10" stroke="#444" stroke-width="0.6"/>
<line x1="296.81" y1="847.50" x2="296.81" y2="848.90" stroke="#444" stroke-width="0.6"/>
<line x1="304.57" y1="847.50" x2="304.57" y2="848.90" stroke="#444" stroke-width="0.6"/>
<line x1="310.07" y1="847.50" x2="310.07" y2="848.90" stroke="#444" stroke-width="0.6"/>
<line x1="314.34" y1="847.50" x2="314.34" y2="848.90" stroke="#444" stroke-width="0.6"/>
<line x1="317.83" y1="847.50" x2="317.83" y2="848.90" stroke="#444" stroke-width="0.6"/>
<line x1="320.78" y1="847.50" x2="320.78" y2="848.90" stroke="#444" stroke-width="0.6"/>
<line x1="323.33" y1="847.50" x2="323.33" y2="848.90" stroke="#444" stroke-width="0.6"/>
<line x1="325.58" y1="847.50" x2="325.58" y2="848.90" stroke="#444" stroke-width="0.6"/>
<text x="150.40" y="854.10" font-size="3.8" text-anchor="middle" fill="#666">10</text>
<text x="152.80" y="852.50" font-size="2.8" fill="#666">0</text>
<text x="194.45" y="854.10" font-size="3.8" text-anchor="middle" fill="#666">10</text>
<text x="196.85" y="852.50" font-size="2.8" fill="#666">1</text>
<text x="238.50" y="854.10" font-size="3.8" text-anchor="middle" fill="#666">10</text>
<text x="240.90" y="852.50" font-size="2.8" fill="#666">2</text>
<text x="282.55" y="854.10" font-size="3.8" text-anchor="middle" fill="#666">10</text>
<text x="284.95" y="852.50" font-size="2.8" fill="#666">3</text>
<text x="326.60" y="854.10" font-size="3.8" text-anchor="middle" fill="#666">10</text>
<text x="329.00" y="852.50" font-size="2.8" fill="#666">4</text>
<text x="225.10" y="761.40" font-size="8.7" stroke="#2a2a2a" stroke-width="0.12" fill="#2a2a2a">CAKI-1</text>
<text x="207.80" y="865.70" font-size="8.7" stroke="#2a2a2a" stroke-width="0.12" fill="#2a2a2a" textLength="59.60" lengthAdjust="spacingAndGlyphs">Mouse IgG1 PE</text>
<text x="138.00" y="799.00" font-size="8.7" stroke="#2a2a2a" stroke-width="0.12" text-anchor="middle" fill="#2a2a2a" textLength="27.40" lengthAdjust="spacingAndGlyphs" transform="rotate(-90 138.00 799.00)" dominant-baseline="central">Counts</text>
<rect x="380.40" y="748.10" width="183.70" height="99.90" fill="none" stroke="#7a7a7a" stroke-width="0.9"/>
<line x1="380.40" y1="748.10" x2="380.40" y2="848.00" stroke="#3a3a3a" stroke-width="0.8"/>
<line x1="380.40" y1="848.00" x2="564.10" y2="848.00" stroke="#3a3a3a" stroke-width="0.8"/>
<path d="M380.9,847.7L381.3,847.7L381.7,846.7L382.1,847.3L382.5,847.1L382.9,847.7L383.3,847.3L383.7,847.4L384.1,846.4L384.5,846.9L384.9,847.0L385.3,847.7L385.7,847.7L386.1,846.9L386.5,845.8L386.9,847.7L387.3,847.7L387.7,845.0L388.1,845.2L388.5,845.9L388.9,846.0L389.3,846.6L389.7,846.5L390.1,847.1L390.5,845.3L390.9,846.0L391.3,847.7L391.7,846.0L392.1,845.8L392.5,845.7L392.9,842.5L393.3,843.2L393.7,847.7L394.1,843.3L394.5,842.2L394.9,841.4L395.3,841.7L395.7,845.3L396.1,840.5L396.5,841.3L396.9,838.4L397.3,839.4L397.7,842.2L398.1,835.4L398.5,840.4L398.9,835.1L399.3,835.6L399.7,836.7L400.1,839.6L400.5,835.6L400.9,834.7L401.3,831.9L401.7,830.9L402.1,825.0L402.5,826.8L402.9,823.5L403.3,828.7L403.7,825.4L404.1,820.1L404.5,818.5L404.9,818.0L405.3,820.2L405.7,820.9L406.1,810.3L406.5,817.2L406.9,814.9L407.3,807.0L407.7,811.0L408.1,812.4L408.5,806.0L408.9,808.9L409.3,802.3L409.7,806.9L410.1,808.8L410.5,795.6L410.9,799.7L411.3,803.6L411.7,804.3L412.1,808.9L412.5,805.8L412.9,808.6L413.3,800.4L413.7,799.2L414.1,805.4L414.5,806.4L414.9,803.3L415.3,805.3L415.7,803.7L416.1,804.5L416.5,805.4L416.9,805.3L417.3,812.0L417.7,806.5L418.1,817.2L418.5,810.4L418.9,812.7L419.3,811.4L419.7,814.3L420.1,813.8L420.5,821.6L420.9,818.4L421.3,820.3L421.7,817.6L422.1,819.2L422.5,822.2L422.9,823.5L423.3,825.1L423.7,824.4L424.1,823.8L424.5,824.1L424.9,827.5L425.3,830.8L425.7,831.1L426.1,828.1L426.5,833.4L426.9,832.6L427.3,838.0L427.7,831.4L428.1,834.1L428.5,836.4L428.9,836.2L429.3,835.2L429.7,837.3L430.1,837.3L430.5,838.4L430.9,841.1L431.3,842.6L431.7,838.3L432.1,841.4L432.5,839.1L432.9,839.6L433.3,842.6L433.7,843.2L434.1,843.4L434.5,840.6L434.9,843.2L435.3,843.9L435.7,842.7L436.1,845.2L436.5,845.0L436.9,845.2L437.3,844.8L437.7,846.4L438.1,845.8L438.5,845.1L438.9,846.5L439.3,846.6L439.7,845.3L440.1,846.8L440.5,846.1L440.9,845.3L441.3,846.0L441.7,844.6L442.1,846.4L442.5,847.7L442.9,846.1L443.3,846.3L443.7,845.9L444.1,847.7L444.5,846.8L444.9,845.9L445.3,846.6L445.7,846.0L446.1,847.4L446.5,846.6L446.9,846.9L447.3,845.9L447.7,847.7L448.1,846.2L448.5,846.9L448.9,847.0L449.3,847.7L449.7,847.7L450.1,847.7L450.5,847.0L450.9,847.7L451.3,846.5L451.7,847.0L452.1,847.0L452.5,846.6L452.9,847.4L453.3,846.8L453.7,847.7L454.1,847.7L454.5,846.8L454.9,847.7L455.3,846.4L455.7,847.3L456.1,847.7L456.5,846.6L456.9,847.3L457.3,847.7L457.7,847.7L458.1,847.7L458.5,847.7L458.9,847.0L459.3,847.7L459.7,847.7L460.1,847.7L460.5,847.7L460.9,847.2L461.3,847.2L461.7,847.7L462.1,847.7L462.5,847.4L462.9,847.1L463.3,847.2L463.7,846.1L464.1,847.7L464.5,847.7L464.9,847.7L465.3,847.0L465.7,847.7L466.1,847.7L466.5,847.7L466.9,847.7L467.3,847.2L467.7,847.0L468.1,847.2L468.5,847.0L468.9,847.7L469.3,846.8L469.7,846.7L470.1,847.7L470.5,847.7L470.9,847.2L471.3,847.2L471.7,846.9L472.1,847.7L472.5,847.7L472.9,847.7L473.3,846.8L473.7,847.7L474.1,847.7L474.5,847.7L474.9,847.2L475.3,847.7L475.7,847.3L476.1,847.3L476.5,847.7L476.9,847.7L477.3,847.7L477.7,847.2L478.1,847.7L478.5,847.1L478.9,846.6L479.3,847.2L479.7,847.4L480.1,847.7L480.5,847.7L480.9,846.8L481.3,847.7L481.7,847.7L482.1,846.7L482.5,847.1L482.9,847.7L483.3,847.7L483.7,847.7L484.1,847.2L484.5,847.7M486.1,847.7L486.5,847.4L486.9,846.6L487.3,847.3L487.7,847.7L488.1,847.7L488.5,847.7L488.9,847.7L489.3,847.0L489.7,847.7L490.1,847.2L490.5,847.0L490.9,847.7L491.3,846.9L491.7,847.3L492.1,847.7L492.5,847.7L492.9,847.7L493.3,847.2L493.7,846.7L494.1,847.7L494.5,847.7L494.9,847.7L495.3,847.7L495.7,847.2L496.1,846.8L496.5,847.7L496.9,847.7L497.3,846.9L497.7,847.7L498.1,847.2L498.5,847.3L498.9,846.9L499.3,847.4L499.7,847.7M501.3,847.7L501.7,847.0L502.1,847.7L502.5,847.7L502.9,847.1L503.3,847.7L503.7,847.7L504.1,847.7L504.5,847.7L504.9,846.5L505.3,847.7L505.7,847.2L506.1,847.7L506.5,847.7L506.9,847.7L507.3,847.1L507.7,847.7L508.1,847.3L508.5,847.7L508.9,847.1L509.3,847.7L509.7,847.7L510.1,847.2L510.5,847.4L510.9,847.7L511.3,847.7L511.7,847.7L512.1,847.7L512.5,847.0L512.9,847.7L513.3,847.2L513.7,847.7L514.1,847.3L514.5,847.7L514.9,847.7L515.3,847.0L515.7,847.7M518.1,847.7L518.5,846.8L518.9,847.7L519.3,847.2L519.7,847.3L520.1,847.7M524.1,847.7L524.5,847.2L524.9,847.7M526.9,847.7L527.3,847.3L527.7,846.8L528.1,846.6L528.5,847.3L528.9,847.7L529.3,846.0L529.7,847.7M533.7,847.7L534.1,847.4L534.5,847.7L534.9,847.7L535.3,847.7L535.7,847.4L536.1,847.7L536.5,847.7L536.9,847.7L537.3,847.7L537.7,846.9L538.1,847.7M540.5,847.7L540.9,847.0L541.3,846.7L541.7,847.7L542.1,847.7L542.5,847.7L542.9,847.1L543.3,846.8L543.7,847.1L544.1,847.7M546.5,847.7L546.9,847.0L547.3,847.7L547.7,847.7L548.1,847.7L548.5,847.7L548.9,847.3L549.3,847.7L549.7,847.7L550.1,847.7L550.5,847.7L550.9,847.4L551.3,847.7L551.7,847.0L552.1,847.7L552.5,847.1L552.9,847.3L553.3,847.7L553.7,847.7L554.1,847.4L554.5,847.7L554.9,847.7L555.3,847.7L555.7,846.8L556.1,847.4L556.5,847.7L556.9,847.0L557.3,847.7M559.3,847.7L559.7,847.0L560.1,847.3L560.5,847.7L560.9,847.2L561.3,846.8L561.7,847.7" fill="none" stroke="#c2507c" stroke-width="0.75" stroke-linejoin="round" stroke-dasharray="1 0.7"/>
<path d="M380.9,847.2L381.3,847.2L381.7,846.7L382.1,846.6L382.5,847.7L382.9,847.7L383.3,847.0L383.7,847.1L384.1,847.7L384.5,846.3L384.9,847.7L385.3,846.6L385.7,846.5L386.1,845.7L386.5,847.7L386.9,847.7L387.3,847.0L387.7,845.8L388.1,845.3L388.5,846.7L388.9,846.4L389.3,844.8L389.7,846.4L390.1,845.8L390.5,844.9L390.9,844.9L391.3,845.8L391.7,844.5L392.1,845.2L392.5,845.7L392.9,845.9L393.3,843.9L393.7,841.8L394.1,843.6L394.5,843.4L394.9,842.1L395.3,843.4L395.7,842.1L396.1,840.8L396.5,840.8L396.9,838.9L397.3,839.3L397.7,839.6L398.1,837.2L398.5,835.8L398.9,833.3L399.3,838.2L399.7,836.1L400.1,829.0L400.5,832.5L400.9,828.0L401.3,829.9L401.7,830.9L402.1,830.4L402.5,828.7L402.9,823.0L403.3,829.1L403.7,825.9L404.1,820.8L404.5,820.2L404.9,821.1L405.3,819.8L405.7,819.5L406.1,817.0L406.5,808.4L406.9,811.8L407.3,810.8L407.7,808.1L408.1,810.2L408.5,816.6L408.9,803.1L409.3,813.7L409.7,807.7L410.1,803.6L410.5,812.1L410.9,803.4L411.3,807.9L411.7,808.8L412.1,805.3L412.5,807.1L412.9,808.3L413.3,806.5L413.7,802.9L414.1,807.6L414.5,810.8L414.9,807.7L415.3,808.5L415.7,813.4L416.1,808.0L416.5,810.5L416.9,808.5L417.3,810.4L417.7,811.3L418.1,814.6L418.5,810.2L418.9,811.8L419.3,812.9L419.7,814.1L420.1,810.9L420.5,818.7L420.9,820.9L421.3,817.0L421.7,822.6L422.1,823.0L422.5,820.6L422.9,821.4L423.3,820.7L423.7,831.2L424.1,830.3L424.5,830.5L424.9,832.4L425.3,827.4L425.7,828.5L426.1,835.9L426.5,831.2L426.9,830.4L427.3,831.2L427.7,833.3L428.1,838.0L428.5,835.6L428.9,838.4L429.3,837.7L429.7,837.0L430.1,837.4L430.5,838.9L430.9,841.0L431.3,837.1L431.7,841.3L432.1,841.3L432.5,839.9L432.9,841.9L433.3,842.5L433.7,842.5L434.1,844.4L434.5,843.4L434.9,843.8L435.3,844.1L435.7,844.5L436.1,844.7L436.5,843.1L436.9,845.5L437.3,845.7L437.7,845.2L438.1,844.3L438.5,845.7L438.9,844.9L439.3,845.7L439.7,844.8L440.1,845.9L440.5,847.7L440.9,847.7L441.3,845.0L441.7,847.2L442.1,845.1L442.5,845.9L442.9,847.7L443.3,845.7L443.7,847.2L444.1,846.3L444.5,847.1L444.9,847.7L445.3,846.9L445.7,847.1L446.1,847.0L446.5,847.0L446.9,846.0L447.3,847.7L447.7,846.3L448.1,847.2L448.5,847.7L448.9,846.6L449.3,846.6L449.7,846.7L450.1,847.7L450.5,846.3L450.9,846.7L451.3,847.7L451.7,847.0L452.1,847.7L452.5,847.4L452.9,847.7L453.3,847.7L453.7,846.7L454.1,847.3L454.5,847.7L454.9,845.9L455.3,846.2L455.7,847.7L456.1,847.0L456.5,847.7M458.1,847.7L458.5,847.4L458.9,847.2L459.3,846.7L459.7,847.2L460.1,847.0L460.5,846.6L460.9,847.7L461.3,847.7L461.7,847.3L462.1,847.7L462.5,847.3L462.9,846.7L463.3,847.7L463.7,846.7L464.1,847.7L464.5,847.7L464.9,846.2L465.3,847.7L465.7,847.7L466.1,847.3L466.5,847.7M468.9,847.7L469.3,847.4L469.7,847.7L470.1,847.7L470.5,847.1L470.9,847.7M474.5,847.7L474.9,846.6L475.3,847.7L475.7,847.2L476.1,847.2L476.5,847.1L476.9,847.3L477.3,847.7L477.7,847.7L478.1,847.7L478.5,847.1L478.9,847.3L479.3,847.7L479.7,847.0L480.1,846.5L480.5,847.7L480.9,847.7L481.3,847.3L481.7,847.7L482.1,847.7L482.5,847.7L482.9,847.2L483.3,847.7L483.7,846.9L484.1,847.7L484.5,847.3L484.9,847.7L485.3,847.2L485.7,847.7L486.1,846.8L486.5,847.4L486.9,847.0L487.3,847.7L487.7,846.8L488.1,847.1L488.5,847.7L488.9,847.7L489.3,847.3L489.7,847.7L490.1,847.7L490.5,847.2L490.9,847.7L491.3,847.7L491.7,847.7L492.1,847.3L492.5,847.1L492.9,846.5L493.3,847.7L493.7,847.7L494.1,847.3L494.5,847.7L494.9,847.7L495.3,847.2L495.7,847.2L496.1,847.7L496.5,846.5L496.9,847.3L497.3,847.7L497.7,847.3L498.1,847.7L498.5,847.7L498.9,846.5L499.3,847.7L499.7,846.6L500.1,847.7L500.5,847.7L500.9,846.9L501.3,847.7L501.7,847.7L502.1,847.1L502.5,847.7L502.9,847.3L503.3,847.7L503.7,846.9L504.1,847.7L504.5,847.7L504.9,847.3L505.3,847.7L505.7,847.1L506.1,847.7L506.5,847.7L506.9,846.9L507.3,847.7M509.7,847.7L510.1,847.4L510.5,847.1L510.9,846.6L511.3,847.2L511.7,847.7M513.7,847.7L514.1,847.2L514.5,847.7L514.9,847.2L515.3,847.7L515.7,847.7L516.1,846.6L516.5,847.7M518.9,847.7L519.3,847.1L519.7,847.4L520.1,847.3L520.5,847.7L520.9,847.1L521.3,846.9L521.7,847.7M523.3,847.7L523.7,847.2L524.1,847.7L524.5,847.0L524.9,847.7M526.9,847.7L527.3,847.3L527.7,847.2L528.1,847.1L528.5,847.7M531.3,847.7L531.7,847.4L532.1,846.9L532.5,847.3L532.9,847.7L533.3,847.7L533.7,847.7L534.1,847.1L534.5,847.1L534.9,847.7L535.3,847.4L535.7,847.2L536.1,847.2L536.5,847.7L536.9,847.7L537.3,847.7L537.7,847.2L538.1,847.7M541.3,847.7L541.7,847.1L542.1,847.7L542.5,846.9L542.9,847.7L543.3,847.7L543.7,847.7L544.1,847.7L544.5,847.0L544.9,847.7L545.3,847.7L545.7,847.2L546.1,847.7L546.5,847.7L546.9,847.7L547.3,847.3L547.7,847.7L548.1,846.8L548.5,846.9L548.9,847.7L549.3,847.7L549.7,847.1L550.1,847.3L550.5,847.2L550.9,847.7L551.3,847.7L551.7,846.9L552.1,847.7L552.5,847.7L552.9,846.6L553.3,847.7L553.7,847.1L554.1,847.7L554.5,847.7L554.9,847.7L555.3,847.7L555.7,846.5L556.1,847.7L556.5,847.1L556.9,847.7L557.3,847.4L557.7,847.7L558.1,847.7L558.5,847.2L558.9,847.7L559.3,847.7L559.7,847.7L560.1,847.7L560.5,847.0L560.9,847.0L561.3,847.7L561.7,847.7L562.1,847.0L562.5,847.7L562.9,847.7L563.3,847.7L563.7,846.9" fill="none" stroke="#1a1a1a" stroke-width="0.7" stroke-linejoin="round"/>
<path d="M380.6,848.0L380.6,794.1L380.9,847.7L381.3,846.8L381.7,847.7L382.1,847.3L382.5,847.7L382.9,847.7L383.3,846.7L383.7,846.5L384.1,847.7L384.5,846.7L384.9,846.5L385.3,847.2L385.7,847.7L386.1,847.7L386.5,846.9L386.9,846.8L387.3,847.7L387.7,845.7L388.1,846.7L388.5,844.4L388.9,846.1L389.3,847.0L389.7,845.9L390.1,845.2L390.5,844.8L390.9,846.5L391.3,844.9L391.7,846.1L392.1,845.6L392.5,845.5L392.9,843.8L393.3,843.0L393.7,843.4L394.1,842.1L394.5,843.6L394.9,842.0L395.3,843.2L395.7,838.8L396.1,838.9L396.5,842.8L396.9,839.6L397.3,837.4L397.7,839.1L398.1,838.8L398.5,839.5L398.9,834.0L399.3,834.1L399.7,834.6L400.1,835.8L400.5,832.3L400.9,835.5L401.3,828.1L401.7,824.3L402.1,827.2L402.5,825.1L402.9,827.4L403.3,823.7L403.7,827.4L404.1,822.5L404.5,819.1L404.9,817.6L405.3,810.1L405.7,819.5L406.1,810.4L406.5,808.6L406.9,809.4L407.3,812.1L407.7,805.3L408.1,810.7L408.5,803.0L408.9,810.7L409.3,816.7L409.7,805.1L410.1,802.2L410.5,801.3L410.9,808.1L411.3,803.4L411.7,803.7L412.1,806.3L412.5,805.8L412.9,801.3L413.3,803.3L413.7,806.4L414.1,801.8L414.5,811.4L414.9,806.1L415.3,802.8L415.7,800.9L416.1,802.9L416.5,806.1L416.9,813.1L417.3,808.6L417.7,814.4L418.1,813.9L418.5,821.8L418.9,812.4L419.3,818.4L419.7,818.4L420.1,817.5L420.5,810.8L420.9,820.4L421.3,822.3L421.7,818.9L422.1,822.7L422.5,816.8L422.9,826.4L423.3,824.4L423.7,828.2L424.1,824.3L424.5,829.1L424.9,826.3L425.3,829.8L425.7,833.3L426.1,832.3L426.5,831.3L426.9,833.4L427.3,833.9L427.7,833.2L428.1,835.9L428.5,833.8L428.9,836.4L429.3,840.1L429.7,839.6L430.1,839.0L430.5,840.8L430.9,839.4L431.3,841.5L431.7,840.2L432.1,839.5L432.5,842.1L432.9,844.9L433.3,840.9L433.7,845.1L434.1,844.6L434.5,842.3L434.9,846.7L435.3,844.3L435.7,842.5L436.1,843.6L436.5,845.4L436.9,844.6L437.3,845.3L437.7,844.6L438.1,845.1L438.5,845.9L438.9,845.1L439.3,845.9L439.7,844.8L440.1,846.7L440.5,846.5L440.9,844.2L441.3,847.7L441.7,845.0L442.1,846.6L442.5,845.2L442.9,846.9L443.3,845.8L443.7,847.0L444.1,846.6L444.5,846.8L444.9,847.1L445.3,847.7L445.7,845.9L446.1,846.0L446.5,847.7L446.9,845.9L447.3,846.3L447.7,847.1L448.1,846.7L448.5,847.1L448.9,846.9L449.3,845.9L449.7,847.1L450.1,847.7L450.5,847.7L450.9,846.9L451.3,847.3L451.7,847.7L452.1,847.7L452.5,847.7L452.9,847.3L453.3,847.7L453.7,847.3L454.1,846.9L454.5,847.7L454.9,847.0L455.3,847.7L455.7,847.7L456.1,847.7L456.5,846.9L456.9,846.5L457.3,847.7L457.7,847.7L458.1,847.3L458.5,847.7L458.9,847.7L459.3,847.7L459.7,847.2L460.1,847.7L460.5,847.4L460.9,846.3L461.3,847.0L461.7,847.7L462.1,847.7L462.5,846.9L462.9,847.7L463.3,846.7L463.7,847.7L464.1,847.7L464.5,846.7L464.9,847.0L465.3,847.2L465.7,847.7L466.1,847.7L466.5,847.0L466.9,846.5L467.3,847.7L467.7,847.7L468.1,847.7L468.5,847.3L468.9,846.6L469.3,847.7L469.7,847.7L470.1,847.2L470.5,847.7L470.9,847.7L471.3,847.3L471.7,847.7L472.1,847.7L472.5,847.1L472.9,847.7L473.3,847.3L473.7,847.7M477.3,847.7L477.7,847.3L478.1,847.2L478.5,847.0L478.9,847.2L479.3,847.7L479.7,846.8L480.1,846.6L480.5,847.4L480.9,847.7L481.3,847.7L481.7,847.2L482.1,847.7L482.5,847.7L482.9,847.7L483.3,847.7L483.7,847.4L484.1,847.7M487.7,847.7L488.1,847.2L488.5,847.7L488.9,847.7L489.3,847.7L489.7,847.7L490.1,847.3L490.5,847.7L490.9,846.7L491.3,847.7L491.7,847.7L492.1,846.8L492.5,847.7L492.9,847.7L493.3,847.7L493.7,847.4L494.1,847.0L494.5,847.4L494.9,846.8L495.3,847.7L495.7,847.7L496.1,847.7L496.5,846.7L496.9,847.2L497.3,847.7L497.7,847.7L498.1,847.3L498.5,847.7M500.9,847.7L501.3,847.0L501.7,847.7L502.1,846.8L502.5,847.7L502.9,847.7L503.3,847.7L503.7,847.4L504.1,847.7L504.5,847.7L504.9,847.7L505.3,847.2L505.7,847.4L506.1,847.2L506.5,847.7L506.9,847.3L507.3,846.3L507.7,847.7L508.1,847.7L508.5,847.7L508.9,847.3L509.3,847.7L509.7,847.7L510.1,847.7L510.5,847.3L510.9,847.7L511.3,846.9L511.7,847.7L512.1,847.7L512.5,847.7L512.9,847.0L513.3,847.7L513.7,847.7L514.1,847.7L514.5,847.7L514.9,847.2L515.3,847.0L515.7,847.7L516.1,847.7L516.5,847.1L516.9,847.7L517.3,847.7L517.7,847.3L518.1,847.0L518.5,845.9L518.9,847.7L519.3,847.7L519.7,846.9L520.1,847.7L520.5,847.7L520.9,847.7L521.3,847.7L521.7,846.9L522.1,846.7L522.5,847.3L522.9,847.7L523.3,847.7L523.7,847.7L524.1,847.7L524.5,847.4L524.9,847.7M527.3,847.7L527.7,847.0L528.1,847.2L528.5,847.7M530.1,847.7L530.5,847.1L530.9,847.7L531.3,846.8L531.7,847.7L532.1,847.3L532.5,846.9L532.9,847.7L533.3,847.7L533.7,847.7L534.1,847.7L534.5,847.2L534.9,846.4L535.3,847.2L535.7,847.7L536.1,847.7L536.5,847.0L536.9,847.7L537.3,847.7L537.7,847.4L538.1,847.7L538.5,847.7L538.9,847.7L539.3,847.1L539.7,847.7M541.7,847.7L542.1,846.9L542.5,847.7M546.5,847.7L546.9,847.2L547.3,847.7L547.7,847.3L548.1,847.3L548.5,847.3L548.9,847.0L549.3,847.7L549.7,846.9L550.1,847.7M555.3,847.7L555.7,847.3L556.1,847.3L556.5,846.9L556.9,847.4L557.3,847.7L557.7,846.6L558.1,847.7L558.5,847.7L558.9,847.7L559.3,847.7L559.7,847.4L560.1,846.9L560.5,847.7L560.9,847.7L561.3,847.4L561.7,847.1L562.1,847.3L562.5,847.1L562.9,847.3L563.3,847.7L563.7,847.7" fill="none" stroke="#22e022" stroke-width="1.25" stroke-linejoin="round"/>
<path d="M380.9,847.7L381.3,847.7L381.7,847.2L382.1,847.4L382.5,847.3L382.9,847.7L383.3,847.7L383.7,847.7L384.1,847.3L384.5,847.7L384.9,847.7L385.3,847.7L385.7,847.7L386.1,847.3L386.5,847.3L386.9,847.0L387.3,847.1L387.7,847.3L388.1,846.9L388.5,847.7L388.9,847.2L389.3,847.2L389.7,846.8L390.1,847.7L390.5,847.2L390.9,847.7L391.3,847.7L391.7,847.7L392.1,847.2L392.5,847.3L392.9,847.7M396.1,847.7L396.5,847.1L396.9,847.3L397.3,847.7L397.7,847.7L398.1,846.9L398.5,847.7L398.9,847.7L399.3,847.2L399.7,847.0L400.1,847.7L400.5,847.7L400.9,847.4L401.3,847.7L401.7,847.2L402.1,847.7L402.5,847.7L402.9,847.3L403.3,846.9L403.7,847.1L404.1,847.7L404.5,846.9L404.9,847.7L405.3,847.7L405.7,847.7L406.1,847.3L406.5,846.9L406.9,846.8L407.3,847.7L407.7,846.6L408.1,847.7L408.5,847.7L408.9,847.7L409.3,847.7L409.7,846.7L410.1,847.7L410.5,847.2L410.9,847.3L411.3,847.3L411.7,846.5L412.1,847.2L412.5,846.2L412.9,846.7L413.3,847.1L413.7,846.5L414.1,846.4L414.5,847.1L414.9,847.7L415.3,847.7L415.7,846.8L416.1,846.9L416.5,847.4L416.9,846.7L417.3,846.1L417.7,845.6L418.1,846.6L418.5,846.2L418.9,845.7L419.3,847.7L419.7,846.4L420.1,846.9L420.5,845.6L420.9,844.7L421.3,846.1L421.7,846.3L422.1,846.4L422.5,847.0L422.9,845.7L423.3,846.6L423.7,845.9L424.1,845.7L424.5,844.5L424.9,844.5L425.3,846.5L425.7,844.5L426.1,845.8L426.5,842.9L426.9,844.4L427.3,842.6L427.7,844.7L428.1,844.7L428.5,843.6L428.9,841.4L429.3,843.2L429.7,838.5L430.1,840.2L430.5,839.1L430.9,839.2L431.3,841.1L431.7,837.1L432.1,836.4L432.5,835.3L432.9,837.1L433.3,840.1L433.7,836.4L434.1,832.3L434.5,832.5L434.9,834.6L435.3,832.4L435.7,829.9L436.1,829.3L436.5,829.6L436.9,828.8L437.3,826.2L437.7,826.4L438.1,826.0L438.5,823.7L438.9,823.1L439.3,818.7L439.7,820.9L440.1,821.3L440.5,824.4L440.9,822.3L441.3,811.4L441.7,811.2L442.1,815.8L442.5,815.7L442.9,816.5L443.3,807.5L443.7,811.3L444.1,808.1L444.5,805.7L444.9,814.2L445.3,809.5L445.7,804.2L446.1,805.9L446.5,800.4L446.9,807.1L447.3,806.9L447.7,802.5L448.1,802.8L448.5,801.3L448.9,798.3L449.3,810.1L449.7,806.7L450.1,804.7L450.5,806.4L450.9,802.0L451.3,809.9L451.7,806.9L452.1,805.5L452.5,808.4L452.9,809.6L453.3,817.4L453.7,816.7L454.1,811.7L454.5,818.7L454.9,824.3L455.3,819.5L455.7,817.1L456.1,824.4L456.5,825.5L456.9,826.9L457.3,825.2L457.7,827.9L458.1,822.9L458.5,824.0L458.9,829.0L459.3,829.9L459.7,829.3L460.1,832.5L460.5,833.4L460.9,831.7L461.3,834.9L461.7,832.6L462.1,836.8L462.5,838.5L462.9,838.8L463.3,838.0L463.7,839.3L464.1,839.3L464.5,841.7L464.9,844.9L465.3,845.2L465.7,844.3L466.1,845.0L466.5,843.0L466.9,842.6L467.3,845.6L467.7,845.1L468.1,844.8L468.5,844.1L468.9,843.2L469.3,844.6L469.7,845.7L470.1,846.1L470.5,844.9L470.9,846.5L471.3,846.1L471.7,846.8L472.1,846.3L472.5,846.3L472.9,847.3L473.3,847.7L473.7,846.5L474.1,846.2L474.5,847.7L474.9,847.0L475.3,847.7L475.7,847.3L476.1,846.8L476.5,846.9L476.9,847.3L477.3,847.7L477.7,846.8L478.1,846.5L478.5,847.7L478.9,847.7L479.3,847.7L479.7,846.3L480.1,846.8L480.5,847.1L480.9,847.2L481.3,847.7L481.7,846.9L482.1,847.7L482.5,847.2L482.9,847.1L483.3,847.4L483.7,847.7L484.1,846.8L484.5,847.7L484.9,847.7L485.3,847.7L485.7,847.3L486.1,847.7L486.5,846.8L486.9,847.7L487.3,847.0L487.7,847.3L488.1,847.3L488.5,847.7L488.9,847.7L489.3,847.0L489.7,846.8L490.1,847.7L490.5,847.7L490.9,847.1L491.3,847.7L491.7,847.3L492.1,847.7L492.5,847.7L492.9,847.7L493.3,847.7L493.7,847.1L494.1,847.2L494.5,847.7L494.9,847.7L495.3,847.7L495.7,847.0L496.1,847.7L496.5,847.7L496.9,847.2L497.3,847.4L497.7,847.3L498.1,847.7L498.5,847.7L498.9,847.7L499.3,847.7L499.7,846.1L500.1,847.7M502.5,847.7L502.9,847.3L503.3,847.3L503.7,847.7L504.1,847.7L504.5,847.7L504.9,847.2L505.3,846.4L505.7,847.1L506.1,847.7L506.5,847.4L506.9,847.7L507.3,847.7L507.7,847.7L508.1,847.2L508.5,847.3L508.9,847.1L509.3,847.2L509.7,847.7L510.1,847.3L510.5,847.2L510.9,847.2L511.3,847.2L511.7,847.7L512.1,847.4L512.5,847.7L512.9,847.4L513.3,847.2L513.7,847.7L514.1,847.7L514.5,847.0L514.9,847.7L515.3,847.7L515.7,847.7L516.1,846.9L516.5,847.3L516.9,847.7L517.3,847.7L517.7,847.7L518.1,847.7L518.5,846.6L518.9,847.7M521.3,847.7L521.7,847.1L522.1,847.0L522.5,847.7M524.5,847.7L524.9,846.2L525.3,847.7L525.7,847.3L526.1,847.7L526.5,847.7L526.9,847.7L527.3,847.7L527.7,847.3L528.1,847.7L528.5,847.1L528.9,847.0L529.3,847.7L529.7,846.9L530.1,847.7L530.5,847.7L530.9,847.7L531.3,846.9L531.7,847.7L532.1,846.9L532.5,847.7L532.9,847.1L533.3,847.7L533.7,847.1L534.1,847.7L534.5,847.7L534.9,847.7L535.3,847.7L535.7,847.4L536.1,847.7L536.5,847.7L536.9,847.3L537.3,847.7M542.9,847.7L543.3,847.4L543.7,847.7L544.1,847.7L544.5,847.0L544.9,847.7L545.3,847.7L545.7,847.2L546.1,847.0L546.5,846.7L546.9,847.7L547.3,847.7L547.7,847.7L548.1,846.7L548.5,847.7L548.9,847.3L549.3,846.8L549.7,847.7L550.1,846.9L550.5,847.7L550.9,847.7L551.3,847.7L551.7,847.7L552.1,847.3L552.5,847.7L552.9,847.1L553.3,847.7M556.5,847.7L556.9,847.2L557.3,847.7L557.7,847.7L558.1,847.4L558.5,846.9L558.9,847.7M561.3,847.7L561.7,846.9L562.1,847.7L562.5,847.7L562.9,847.0L563.3,847.7L563.7,847.7" fill="none" stroke="#62c4e4" stroke-width="0.75" stroke-linejoin="round" stroke-dasharray="0.8 0.9"/>
<path d="M380.9,847.7L381.3,846.5L381.7,845.9L382.1,846.3L382.5,846.9L382.9,846.1L383.3,846.8L383.7,846.9L384.1,847.4L384.5,846.4L384.9,846.0L385.3,846.2L385.7,847.7L386.1,847.7L386.5,847.3L386.9,846.5L387.3,847.0L387.7,846.2L388.1,846.9L388.5,845.8L388.9,846.2L389.3,846.8L389.7,847.3L390.1,847.1L390.5,847.0L390.9,845.6L391.3,847.1L391.7,847.7L392.1,846.2L392.5,845.2L392.9,846.0L393.3,847.7L393.7,846.6L394.1,845.9L394.5,847.3L394.9,847.7L395.3,847.1L395.7,846.4L396.1,846.8L396.5,846.5L396.9,846.8L397.3,847.2L397.7,846.6L398.1,846.4L398.5,845.4L398.9,847.7L399.3,847.1L399.7,847.3L400.1,846.2L400.5,845.4L400.9,845.9L401.3,847.0L401.7,845.7L402.1,845.8L402.5,845.7L402.9,847.0L403.3,846.6L403.7,847.2L404.1,846.6L404.5,847.3L404.9,846.6L405.3,846.6L405.7,847.7L406.1,846.6L406.5,847.1L406.9,847.7L407.3,847.7L407.7,846.9L408.1,847.7L408.5,847.7L408.9,845.6L409.3,846.4L409.7,844.6L410.1,846.8L410.5,846.4L410.9,846.3L411.3,845.7L411.7,846.6L412.1,845.9L412.5,845.1L412.9,847.2L413.3,846.7L413.7,845.4L414.1,846.9L414.5,847.7L414.9,847.7L415.3,844.9L415.7,845.2L416.1,846.7L416.5,847.2L416.9,846.0L417.3,846.8L417.7,845.3L418.1,846.7L418.5,845.4L418.9,846.0L419.3,846.6L419.7,846.3L420.1,845.6L420.5,846.3L420.9,845.6L421.3,842.1L421.7,845.5L422.1,844.8L422.5,844.7L422.9,846.9L423.3,843.7L423.7,844.6L424.1,844.7L424.5,842.5L424.9,841.6L425.3,844.7L425.7,843.3L426.1,843.4L426.5,843.3L426.9,842.5L427.3,844.7L427.7,841.2L428.1,844.2L428.5,842.7L428.9,842.9L429.3,840.2L429.7,841.5L430.1,837.4L430.5,840.2L430.9,840.2L431.3,835.2L431.7,836.2L432.1,835.8L432.5,835.7L432.9,837.7L433.3,836.6L433.7,834.0L434.1,835.1L434.5,835.2L434.9,828.2L435.3,835.9L435.7,828.0L436.1,827.1L436.5,833.9L436.9,828.7L437.3,823.4L437.7,826.8L438.1,823.3L438.5,822.1L438.9,818.4L439.3,818.3L439.7,819.4L440.1,816.4L440.5,819.7L440.9,816.4L441.3,809.6L441.7,816.2L442.1,810.1L442.5,804.3L442.9,801.0L443.3,820.1L443.7,806.6L444.1,815.3L444.5,803.8L444.9,809.6L445.3,801.4L445.7,806.4L446.1,799.4L446.5,813.3L446.9,805.1L447.3,807.2L447.7,805.5L448.1,809.1L448.5,800.7L448.9,801.7L449.3,804.9L449.7,799.5L450.1,804.1L450.5,803.1L450.9,801.7L451.3,810.6L451.7,807.7L452.1,813.5L452.5,809.7L452.9,811.8L453.3,809.8L453.7,810.5L454.1,815.0L454.5,814.5L454.9,821.1L455.3,820.8L455.7,817.9L456.1,817.5L456.5,819.4L456.9,824.9L457.3,823.8L457.7,821.7L458.1,830.8L458.5,831.0L458.9,825.6L459.3,829.3L459.7,835.7L460.1,835.9L460.5,831.9L460.9,834.4L461.3,837.3L461.7,836.3L462.1,834.4L462.5,839.5L462.9,837.6L463.3,840.7L463.7,842.8L464.1,840.1L464.5,839.3L464.9,841.7L465.3,841.2L465.7,840.2L466.1,844.5L466.5,842.2L466.9,840.7L467.3,843.7L467.7,846.2L468.1,844.8L468.5,844.2L468.9,843.4L469.3,844.0L469.7,845.0L470.1,844.8L470.5,845.2L470.9,845.2L471.3,844.9L471.7,845.9L472.1,845.7L472.5,845.9L472.9,845.7L473.3,847.7L473.7,846.2L474.1,847.1L474.5,846.5L474.9,846.6L475.3,846.0L475.7,846.1L476.1,846.9L476.5,847.7L476.9,844.4L477.3,846.6L477.7,847.7L478.1,846.9L478.5,847.7L478.9,846.0L479.3,847.7L479.7,846.1L480.1,846.3L480.5,847.7L480.9,846.7L481.3,846.2L481.7,846.9L482.1,846.7L482.5,847.0L482.9,847.7L483.3,847.0L483.7,846.8L484.1,846.8L484.5,846.2L484.9,846.4L485.3,845.7L485.7,847.7L486.1,846.7L486.5,846.9L486.9,847.7L487.3,847.7L487.7,847.7L488.1,847.7L488.5,847.0L488.9,846.9L489.3,847.0L489.7,847.7L490.1,846.1L490.5,847.7L490.9,847.7L491.3,847.7L491.7,847.7L492.1,847.7L492.5,847.7L492.9,846.8L493.3,847.7L493.7,847.7L494.1,846.9L494.5,846.8L494.9,847.3L495.3,847.7L495.7,847.7L496.1,847.4L496.5,847.7L496.9,846.2L497.3,847.7L497.7,847.7L498.1,847.2L498.5,847.7L498.9,846.7L499.3,847.7L499.7,846.7L500.1,847.3L500.5,847.7L500.9,847.7L501.3,846.9L501.7,847.7L502.1,847.1L502.5,847.7L502.9,847.3L503.3,847.7L503.7,847.3L504.1,847.0L504.5,847.1L504.9,847.7L505.3,847.7L505.7,847.7L506.1,847.7L506.5,847.7L506.9,847.3L507.3,847.7L507.7,847.1L508.1,846.9L508.5,847.7L508.9,847.7L509.3,847.3L509.7,847.1L510.1,847.7L510.5,847.7L510.9,847.7L511.3,847.7L511.7,847.2L512.1,847.1L512.5,847.7L512.9,847.2L513.3,847.2L513.7,847.7L514.1,847.7L514.5,847.1L514.9,847.3L515.3,847.4L515.7,847.7L516.1,847.7L516.5,847.7L516.9,847.7L517.3,847.7L517.7,847.7L518.1,847.7L518.5,847.7L518.9,847.7L519.3,847.2L519.7,847.7L520.1,847.7L520.5,847.7L520.9,847.7L521.3,847.7L521.7,847.7L522.1,847.7L522.5,847.7L522.9,847.3L523.3,847.7L523.7,847.3L524.1,847.3L524.5,846.9L524.9,847.7L525.3,847.7L525.7,847.7L526.1,847.7L526.5,847.3L526.9,847.7L527.3,847.3L527.7,847.7L528.1,847.4L528.5,847.4L528.9,847.7L529.3,847.7L529.7,847.7L530.1,847.4L530.5,847.7L530.9,847.7L531.3,847.1L531.7,847.0L532.1,847.7L532.5,846.8L532.9,847.4L533.3,847.3L533.7,846.7L534.1,847.7L534.5,847.7L534.9,847.7L535.3,847.7L535.7,847.2L536.1,846.9L536.5,847.7L536.9,847.1L537.3,847.7L537.7,847.7L538.1,847.7L538.5,847.7L538.9,847.7L539.3,847.3L539.7,847.1L540.1,847.3L540.5,847.7L540.9,847.7L541.3,847.4L541.7,847.0L542.1,847.7L542.5,847.7L542.9,847.3L543.3,847.7L543.7,847.7L544.1,847.1L544.5,847.7L544.9,847.7L545.3,847.4L545.7,847.7L546.1,847.7L546.5,847.4L546.9,847.3L547.3,846.8L547.7,847.3L548.1,847.7L548.5,847.7L548.9,847.7L549.3,847.4L549.7,847.7L550.1,847.7L550.5,847.7L550.9,847.7L551.3,847.7L551.7,847.7L552.1,847.7L552.5,847.7L552.9,847.7L553.3,847.7L553.7,847.3L554.1,847.7L554.5,847.7L554.9,847.7L555.3,847.7L555.7,846.5L556.1,846.6L556.5,847.7L556.9,847.2L557.3,847.7L557.7,847.7L558.1,846.9L558.5,847.7L558.9,847.7L559.3,847.2L559.7,847.3L560.1,847.7L560.5,847.3L560.9,847.7L561.3,847.7L561.7,847.7L562.1,847.7L562.5,847.7L562.9,847.7L563.3,847.7L563.7,846.6" fill="none" stroke="#ee9640" stroke-width="0.8" stroke-linejoin="round" stroke-dasharray="1.6 0.8"/>
<line x1="378.40" y1="848.00" x2="380.40" y2="848.00" stroke="#444" stroke-width="0.6"/>
<text x="377.10" y="848.00" font-size="3.6" text-anchor="middle" fill="#666" transform="rotate(-90 377.10 848.00)">0</text>
<line x1="379.20" y1="843.00" x2="380.40" y2="843.00" stroke="#444" stroke-width="0.6"/>
<line x1="379.20" y1="838.01" x2="380.40" y2="838.01" stroke="#444" stroke-width="0.6"/>
<line x1="379.20" y1="833.01" x2="380.40" y2="833.01" stroke="#444" stroke-width="0.6"/>
<line x1="378.40" y1="828.02" x2="380.40" y2="828.02" stroke="#444" stroke-width="0.6"/>
<text x="377.10" y="828.02" font-size="3.6" text-anchor="middle" fill="#666" transform="rotate(-90 377.10 828.02)">40</text>
<line x1="379.20" y1="823.02" x2="380.40" y2="823.02" stroke="#444" stroke-width="0.6"/>
<line x1="379.20" y1="818.03" x2="380.40" y2="818.03" stroke="#444" stroke-width="0.6"/>
<line x1="379.20" y1="813.03" x2="380.40" y2="813.03" stroke="#444" stroke-width="0.6"/>
<line x1="378.40" y1="808.04" x2="380.40" y2="808.04" stroke="#444" stroke-width="0.6"/>
<text x="377.10" y="808.04" font-size="3.6" text-anchor="middle" fill="#666" transform="rotate(-90 377.10 808.04)">80</text>
<line x1="379.20" y1="803.04" x2="380.40" y2="803.04" stroke="#444" stroke-width="0.6"/>
<line x1="379.20" y1="798.05" x2="380.40" y2="798.05" stroke="#444" stroke-width="0.6"/>
<line x1="379.20" y1="793.06" x2="380.40" y2="793.06" stroke="#444" stroke-width="0.6"/>
<line x1="378.40" y1="788.06" x2="380.40" y2="788.06" stroke="#444" stroke-width="0.6"/>
<text x="377.10" y="788.06" font-size="3.6" text-anchor="middle" fill="#666" transform="rotate(-90 377.10 788.06)">120</text>
<line x1="379.20" y1="783.07" x2="380.40" y2="783.07" stroke="#444" stroke-width="0.6"/>
<line x1="379.20" y1="778.07" x2="380.40" y2="778.07" stroke="#444" stroke-width="0.6"/>
<line x1="379.20" y1="773.08" x2="380.40" y2="773.08" stroke="#444" stroke-width="0.6"/>
<line x1="378.40" y1="768.08" x2="380.40" y2="768.08" stroke="#444" stroke-width="0.6"/>
<text x="377.10" y="768.08" font-size="3.6" text-anchor="middle" fill="#666" transform="rotate(-90 377.10 768.08)">160</text>
<line x1="379.20" y1="763.09" x2="380.40" y2="763.09" stroke="#444" stroke-width="0.6"/>
<line x1="379.20" y1="758.09" x2="380.40" y2="758.09" stroke="#444" stroke-width="0.6"/>
<line x1="379.20" y1="753.10" x2="380.40" y2="753.10" stroke="#444" stroke-width="0.6"/>
<line x1="378.40" y1="748.10" x2="380.40" y2="748.10" stroke="#444" stroke-width="0.6"/>
<text x="377.10" y="748.10" font-size="3.6" text-anchor="middle" fill="#666" transform="rotate(-90 377.10 748.10)">200</text>
<line x1="380.40" y1="848.00" x2="380.40" y2="850.60" stroke="#444" stroke-width="0.6"/>
<line x1="394.22" y1="848.00" x2="394.22" y2="849.40" stroke="#444" stroke-width="0.6"/>
<line x1="402.31" y1="848.00" x2="402.31" y2="849.40" stroke="#444" stroke-width="0.6"/>
<line x1="408.05" y1="848.00" x2="408.05" y2="849.40" stroke="#444" stroke-width="0.6"/>
<line x1="412.50" y1="848.00" x2="412.50" y2="849.40" stroke="#444" stroke-width="0.6"/>
<line x1="416.14" y1="848.00" x2="416.14" y2="849.40" stroke="#444" stroke-width="0.6"/>
<line x1="419.21" y1="848.00" x2="419.21" y2="849.40" stroke="#444" stroke-width="0.6"/>
<line x1="421.87" y1="848.00" x2="421.87" y2="849.40" stroke="#444" stroke-width="0.6"/>
<line x1="424.22" y1="848.00" x2="424.22" y2="849.40" stroke="#444" stroke-width="0.6"/>
<line x1="426.32" y1="848.00" x2="426.32" y2="850.60" stroke="#444" stroke-width="0.6"/>
<line x1="440.15" y1="848.00" x2="440.15" y2="849.40" stroke="#444" stroke-width="0.6"/>
<line x1="448.24" y1="848.00" x2="448.24" y2="849.40" stroke="#444" stroke-width="0.6"/>
<line x1="453.97" y1="848.00" x2="453.97" y2="849.40" stroke="#444" stroke-width="0.6"/>
<line x1="458.43" y1="848.00" x2="458.43" y2="849.40" stroke="#444" stroke-width="0.6"/>
<line x1="462.06" y1="848.00" x2="462.06" y2="849.40" stroke="#444" stroke-width="0.6"/>
<line x1="465.14" y1="848.00" x2="465.14" y2="849.40" stroke="#444" stroke-width="0.6"/>
<line x1="467.80" y1="848.00" x2="467.80" y2="849.40" stroke="#444" stroke-width="0.6"/>
<line x1="470.15" y1="848.00" x2="470.15" y2="849.40" stroke="#444" stroke-width="0.6"/>
<line x1="472.25" y1="848.00" x2="472.25" y2="850.60" stroke="#444" stroke-width="0.6"/>
<line x1="486.07" y1="848.00" x2="486.07" y2="849.40" stroke="#444" stroke-width="0.6"/>
<line x1="494.16" y1="848.00" x2="494.16" y2="849.40" stroke="#444" stroke-width="0.6"/>
<line x1="499.90" y1="848.00" x2="499.90" y2="849.40" stroke="#444" stroke-width="0.6"/>
<line x1="504.35" y1="848.00" x2="504.35" y2="849.40" stroke="#444" stroke-width="0.6"/>
<line x1="507.99" y1="848.00" x2="507.99" y2="849.40" stroke="#444" stroke-width="0.6"/>
<line x1="511.06" y1="848.00" x2="511.06" y2="849.40" stroke="#444" stroke-width="0.6"/>
<line x1="513.72" y1="848.00" x2="513.72" y2="849.40" stroke="#444" stroke-width="0.6"/>
<line x1="516.07" y1="848.00" x2="516.07" y2="849.40" stroke="#444" stroke-width="0.6"/>
<line x1="518.17" y1="848.00" x2="518.17" y2="850.60" stroke="#444" stroke-width="0.6"/>
<line x1="532.00" y1="848.00" x2="532.00" y2="849.40" stroke="#444" stroke-width="0.6"/>
<line x1="540.09" y1="848.00" x2="540.09" y2="849.40" stroke="#444" stroke-width="0.6"/>
<line x1="545.82" y1="848.00" x2="545.82" y2="849.40" stroke="#444" stroke-width="0.6"/>
<line x1="550.28" y1="848.00" x2="550.28" y2="849.40" stroke="#444" stroke-width="0.6"/>
<line x1="553.91" y1="848.00" x2="553.91" y2="849.40" stroke="#444" stroke-width="0.6"/>
<line x1="556.99" y1="848.00" x2="556.99" y2="849.40" stroke="#444" stroke-width="0.6"/>
<line x1="559.65" y1="848.00" x2="559.65" y2="849.40" stroke="#444" stroke-width="0.6"/>
<line x1="562.00" y1="848.00" x2="562.00" y2="849.40" stroke="#444" stroke-width="0.6"/>
<text x="379.40" y="854.60" font-size="3.8" text-anchor="middle" fill="#666">10</text>
<text x="381.80" y="853.00" font-size="2.8" fill="#666">0</text>
<text x="425.32" y="854.60" font-size="3.8" text-anchor="middle" fill="#666">10</text>
<text x="427.72" y="853.00" font-size="2.8" fill="#666">1</text>
<text x="471.25" y="854.60" font-size="3.8" text-anchor="middle" fill="#666">10</text>
<text x="473.65" y="853.00" font-size="2.8" fill="#666">2</text>
<text x="517.17" y="854.60" font-size="3.8" text-anchor="middle" fill="#666">10</text>
<text x="519.57" y="853.00" font-size="2.8" fill="#666">3</text>
<text x="563.10" y="854.60" font-size="3.8" text-anchor="middle" fill="#666">10</text>
<text x="565.50" y="853.00" font-size="2.8" fill="#666">4</text>
<text x="456.50" y="761.40" font-size="8.7" stroke="#2a2a2a" stroke-width="0.12" fill="#2a2a2a">CAKI-2</text>
<text x="440.00" y="865.70" font-size="8.7" stroke="#2a2a2a" stroke-width="0.12" fill="#2a2a2a" textLength="59.60" lengthAdjust="spacingAndGlyphs">Mouse IgG1 PE</text>
<text x="367.50" y="799.00" font-size="8.7" stroke="#2a2a2a" stroke-width="0.12" text-anchor="middle" fill="#2a2a2a" textLength="27.40" lengthAdjust="spacingAndGlyphs" transform="rotate(-90 367.50 799.00)" dominant-baseline="central">Counts</text>
<line x1="29.00" y1="885.80" x2="74.30" y2="885.80" stroke="#000" stroke-width="2.6"/>
<text x="77.20" y="888.30" font-size="8.5" fill="#222" textLength="78.70" lengthAdjust="spacingAndGlyphs">IgG κ isotype control</text>
<line x1="164.20" y1="886.20" x2="209.90" y2="886.20" stroke="#19e619" stroke-width="4.4"/>
<text x="213.30" y="888.50" font-size="8.5" fill="#222" textLength="59.20" lengthAdjust="spacingAndGlyphs">anti-IR (CD220)</text>
<rect x="279.50" y="884.20" width="2.50" height="2.50" fill="#a52040"/>
<rect x="285.76" y="884.20" width="2.50" height="2.50" fill="#a52040"/>
<rect x="292.02" y="884.20" width="2.50" height="2.50" fill="#a52040"/>
<rect x="298.28" y="884.20" width="2.50" height="2.50" fill="#a52040"/>
<rect x="304.54" y="884.20" width="2.50" height="2.50" fill="#a52040"/>
<rect x="310.80" y="884.20" width="2.50" height="2.50" fill="#a52040"/>
<rect x="317.06" y="884.20" width="2.50" height="2.50" fill="#a52040"/>
<rect x="323.32" y="884.20" width="2.50" height="2.50" fill="#a52040"/>
<text x="329.00" y="887.80" font-size="8.5" fill="#222" textLength="59.20" lengthAdjust="spacingAndGlyphs">anti-IR (CD220)</text>
<rect x="399.00" y="882.40" width="3.30" height="3.30" fill="#1aa8d6"/>
<rect x="413.03" y="882.40" width="3.30" height="3.30" fill="#1aa8d6"/>
<rect x="427.06" y="882.40" width="3.30" height="3.30" fill="#1aa8d6"/>
<rect x="441.09" y="882.40" width="3.30" height="3.30" fill="#1aa8d6"/>
<text x="448.80" y="886.60" font-size="8.5" fill="#222" textLength="74.10" lengthAdjust="spacingAndGlyphs">anti-IGF1R (CD221)</text>
<rect x="532.80" y="882.30" width="9.10" height="3.00" fill="#f08a1c"/>
<rect x="545.00" y="882.30" width="9.10" height="3.00" fill="#f08a1c"/>
<rect x="557.20" y="882.30" width="9.10" height="3.00" fill="#f08a1c"/>
<rect x="569.40" y="882.30" width="9.10" height="3.00" fill="#f08a1c"/>
<text x="587.30" y="884.80" font-size="8.5" fill="#222" textLength="74.10" lengthAdjust="spacingAndGlyphs">anti-IGF1R (CD221)</text>
</svg>
</body></html>
